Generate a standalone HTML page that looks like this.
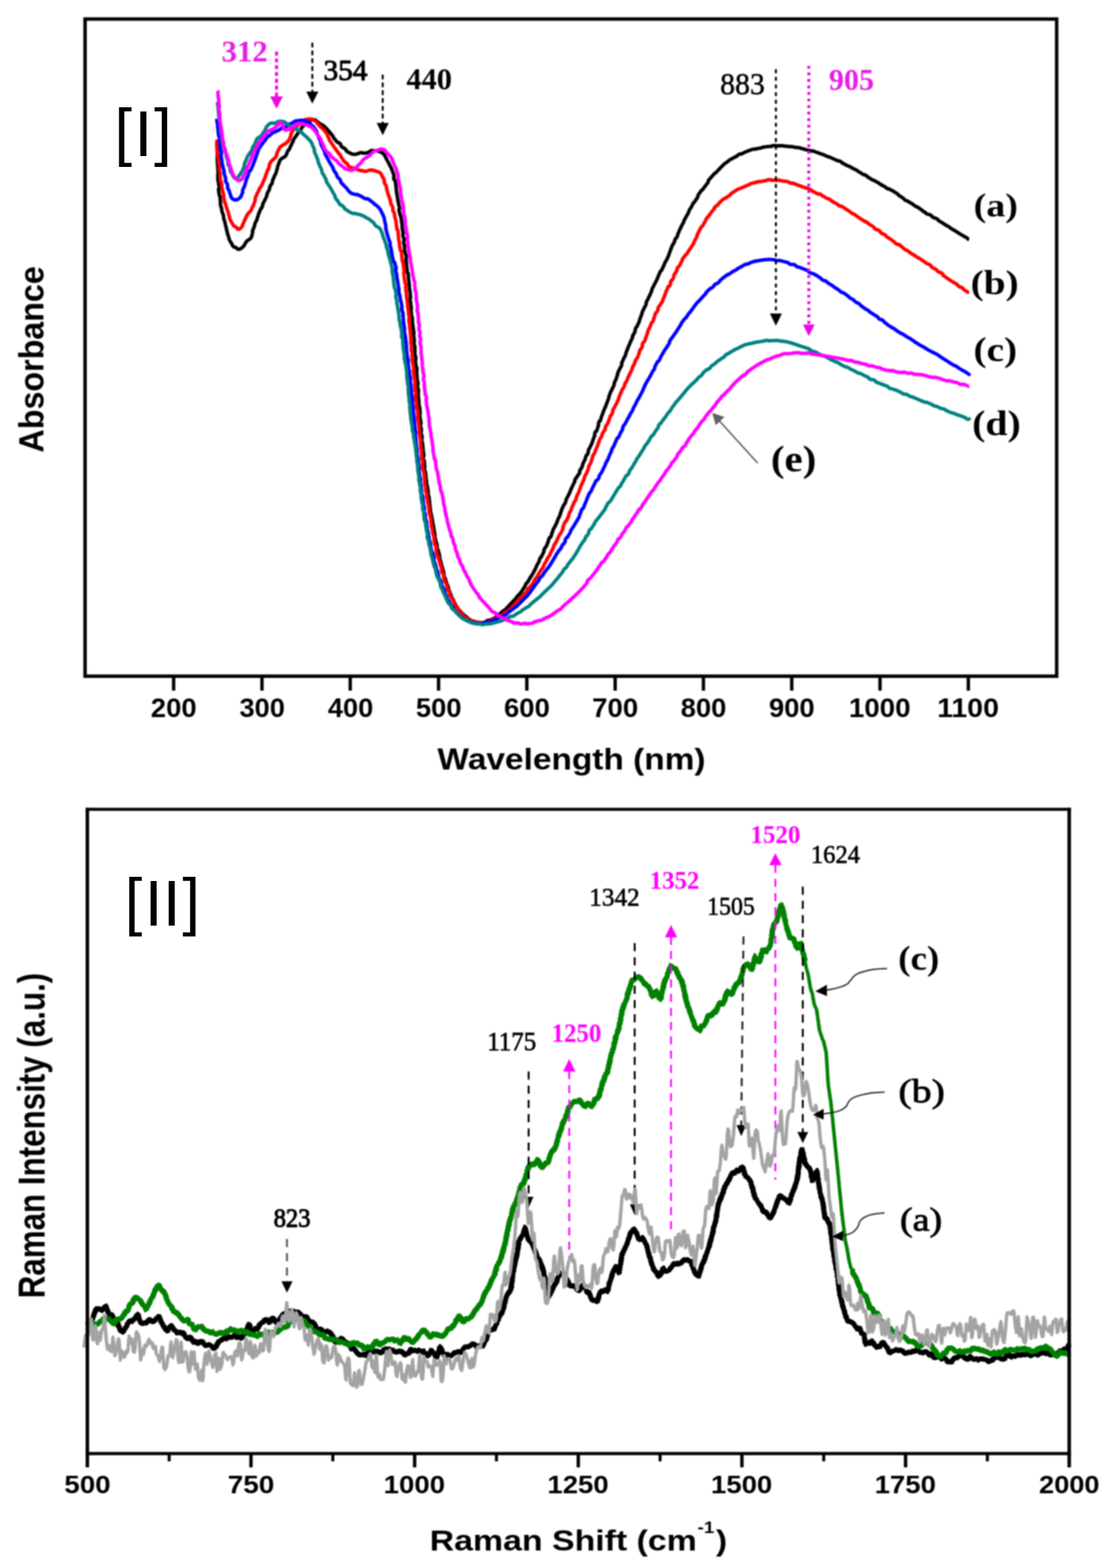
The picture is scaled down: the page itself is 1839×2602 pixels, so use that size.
<!DOCTYPE html>
<html lang="en"><head><meta charset="utf-8"><title>Absorbance and Raman spectra</title>
<style>html,body{margin:0;padding:0;background:#fff}body{width:1839px;height:2602px;overflow:hidden}svg{display:block}text{white-space:pre}</style>
</head><body>
<svg width="1839" height="2602" viewBox="0 0 1839 2602">
<rect width="1839" height="2602" fill="#fff"/>
<defs><filter id="soft" x="0" y="0" width="100%" height="100%" filterUnits="userSpaceOnUse" color-interpolation-filters="sRGB"><feGaussianBlur stdDeviation="0.9"/></filter></defs>
<g filter="url(#soft)">
<rect width="1839" height="2602" fill="#fff"/>
<g id="top">
<path d="M360.0 236.0 L360.3 237.9 L360.3 239.9 L360.5 241.4 L360.5 243.4 L360.6 245.4 L360.6 247.8 L360.7 249.8 L360.7 251.8 L360.7 253.5 L360.7 255.5 L360.8 257.5 L360.5 259.7 L360.6 261.7 L360.6 263.7 L360.7 266.3 L360.7 268.3 L360.8 270.3 L361.1 272.6 L361.2 274.6 L361.3 276.6 L361.5 277.6 L361.6 279.6 L361.7 281.6 L361.9 284.0 L362.0 286.0 L362.1 288.0 L361.5 290.0 L361.6 292.0 L361.7 294.0 L361.6 295.8 L361.7 297.8 L361.8 299.8 L362.7 302.2 L362.8 304.2 L362.9 306.2 L363.6 308.1 L363.8 310.1 L363.9 312.1 L362.7 313.9 L362.9 315.9 L363.0 317.9 L363.5 320.2 L363.7 322.2 L363.9 324.2 L365.0 325.3 L365.2 327.3 L365.4 329.3 L365.5 331.5 L365.8 333.5 L366.1 335.5 L365.6 337.7 L365.9 339.7 L366.3 341.6 L367.0 343.4 L367.5 345.3 L367.9 347.3 L368.1 349.4 L368.6 351.4 L369.1 353.3 L370.1 354.9 L370.6 356.8 L371.0 358.8 L371.0 360.8 L371.5 362.8 L371.9 364.7 L372.8 366.7 L373.2 368.7 L373.7 370.6 L374.1 372.3 L374.5 374.2 L375.0 376.2 L375.6 378.7 L376.0 380.6 L376.4 382.6 L377.0 385.0 L377.5 387.0 L378.0 388.9 L378.4 389.8 L379.0 391.7 L379.6 393.6 L380.1 396.2 L380.9 398.0 L381.7 399.8 L382.8 401.6 L383.9 403.3 L385.1 404.9 L385.6 407.0 L386.9 408.5 L388.3 409.9 L390.7 410.3 L392.2 411.5 L393.9 412.6 L394.5 413.6 L396.3 413.7 L398.2 413.2 L400.6 411.9 L402.1 410.7 L403.5 409.3 L404.6 408.3 L405.7 406.6 L406.6 404.8 L407.9 402.5 L409.0 400.9 L410.3 399.6 L411.0 399.1 L412.7 398.1 L414.1 396.9 L416.2 395.5 L417.1 393.7 L417.8 391.9 L418.3 389.5 L418.9 387.6 L419.4 385.7 L419.0 384.3 L419.5 382.4 L420.1 380.5 L421.5 377.6 L422.1 375.7 L422.7 373.8 L422.6 372.9 L423.3 371.0 L424.0 369.1 L425.5 366.6 L426.3 364.7 L427.0 362.9 L427.1 361.3 L427.9 359.4 L428.6 357.6 L429.0 355.6 L429.8 353.7 L430.5 351.8 L431.6 349.6 L432.3 347.8 L433.1 345.9 L434.2 345.3 L435.0 343.5 L435.8 341.6 L435.9 339.4 L436.7 337.6 L437.5 335.8 L439.0 333.3 L439.8 331.5 L440.5 329.6 L441.3 328.5 L442.1 326.6 L442.9 324.8 L443.1 322.4 L443.8 320.6 L444.6 318.7 L445.9 316.9 L446.6 315.1 L447.4 313.2 L447.5 311.3 L448.3 309.5 L449.0 307.6 L450.5 306.0 L451.3 304.2 L452.1 302.3 L452.3 300.0 L453.0 298.2 L453.8 296.3 L454.3 295.0 L455.1 293.2 L455.8 291.3 L457.4 288.8 L458.1 287.0 L458.7 285.1 L459.2 282.9 L459.8 281.0 L460.4 279.1 L460.4 278.0 L461.0 276.1 L461.6 274.2 L462.5 272.0 L463.2 270.1 L463.9 268.3 L464.3 266.6 L465.4 265.0 L466.8 263.6 L469.0 262.2 L470.7 261.2 L472.3 260.2 L473.9 258.8 L475.0 257.1 L475.9 255.4 L476.4 253.4 L477.2 251.6 L478.1 249.8 L479.6 248.6 L480.5 246.8 L481.4 245.0 L482.3 242.9 L483.1 241.1 L484.0 239.3 L484.7 237.9 L485.6 236.2 L486.5 234.4 L486.4 233.0 L487.5 231.3 L488.5 229.6 L490.3 227.1 L491.4 225.5 L492.6 223.8 L493.6 222.2 L494.8 220.6 L496.0 218.9 L497.6 217.5 L498.7 215.8 L499.8 214.1 L500.4 212.5 L501.6 210.9 L502.9 209.4 L504.7 208.1 L506.1 206.7 L507.5 205.3 L508.4 204.0 L509.9 202.7 L511.6 201.6 L514.3 200.3 L516.1 199.4 L517.9 198.7 L519.7 198.9 L521.6 198.7 L523.5 199.1 L524.6 200.1 L526.1 201.4 L527.5 202.8 L528.5 203.2 L530.0 204.6 L531.6 205.7 L533.5 206.6 L535.2 207.6 L537.0 208.6 L538.2 210.0 L539.7 211.3 L541.2 212.6 L543.1 214.5 L544.3 216.0 L545.5 217.6 L547.2 219.2 L548.4 220.8 L549.6 222.4 L550.3 223.2 L551.6 224.8 L552.9 226.3 L553.5 228.5 L554.8 230.0 L556.1 231.5 L557.8 233.7 L559.2 235.1 L560.6 236.6 L562.8 236.8 L564.2 238.2 L565.6 239.7 L565.9 242.0 L567.3 243.4 L568.8 244.8 L571.6 246.0 L573.0 247.4 L574.5 248.7 L574.8 250.2 L576.3 251.5 L578.0 252.6 L580.5 253.7 L582.2 254.7 L584.0 255.5 L585.9 255.9 L587.8 256.2 L589.7 256.2 L592.0 255.5 L593.9 255.0 L595.8 254.4 L596.8 253.6 L598.7 253.3 L600.7 253.3 L603.0 254.2 L605.0 254.2 L607.0 254.1 L609.6 253.3 L611.5 252.8 L613.3 252.0 L614.3 250.8 L616.1 250.1 L618.0 249.5 L620.1 250.2 L622.1 250.2 L624.1 250.3 L625.7 250.3 L627.6 250.8 L629.5 251.5 L632.4 252.4 L634.1 253.5 L635.6 254.8 L636.6 255.5 L637.9 257.1 L639.1 258.7 L639.9 261.2 L640.9 262.9 L642.0 264.6 L642.5 265.8 L643.5 267.5 L644.4 269.3 L645.8 271.9 L646.7 273.7 L647.5 275.5 L648.5 277.0 L649.3 278.8 L650.0 280.7 L650.6 282.1 L651.3 284.0 L651.9 285.9 L653.0 288.5 L653.6 290.4 L654.1 292.3 L653.3 294.6 L653.7 296.6 L654.2 298.5 L655.6 299.2 L656.0 301.2 L656.4 303.1 L656.8 306.3 L657.1 308.3 L657.5 310.3 L657.3 311.7 L657.6 313.7 L658.0 315.7 L657.9 317.2 L658.2 319.2 L658.5 321.1 L658.9 323.0 L659.2 325.0 L659.5 326.9 L659.9 329.0 L660.1 331.0 L660.4 333.0 L661.1 335.6 L661.4 337.5 L661.7 339.5 L662.6 341.9 L662.9 343.9 L663.2 345.9 L662.1 347.7 L662.4 349.6 L662.7 351.6 L663.4 352.9 L663.7 354.9 L664.0 356.9 L665.2 358.6 L665.5 360.5 L665.8 362.5 L666.1 364.7 L666.4 366.6 L666.7 368.6 L667.0 370.6 L667.3 372.6 L667.6 374.6 L667.3 376.2 L667.5 378.2 L667.8 380.1 L668.5 383.2 L668.8 385.2 L669.1 387.1 L668.6 389.1 L668.9 391.1 L669.2 393.0 L670.2 395.0 L670.4 397.0 L670.7 399.0 L669.9 401.2 L670.2 403.2 L670.4 405.2 L671.0 406.1 L671.3 408.0 L671.5 410.0 L671.4 413.1 L671.6 415.1 L671.9 417.1 L672.6 418.0 L672.8 419.9 L673.1 421.9 L674.1 423.9 L674.3 425.9 L674.6 427.9 L673.9 430.5 L674.1 432.5 L674.4 434.5 L674.5 436.9 L674.7 438.9 L675.0 440.9 L675.1 442.3 L675.3 444.3 L675.5 446.3 L675.7 448.3 L675.9 450.3 L676.1 452.3 L677.4 453.6 L677.6 455.6 L677.8 457.6 L678.0 460.7 L678.2 462.7 L678.4 464.6 L678.6 466.1 L678.8 468.1 L679.0 470.1 L679.2 471.8 L679.4 473.8 L679.6 475.7 L679.7 478.0 L679.9 480.0 L680.1 482.0 L680.6 483.5 L680.8 485.5 L681.0 487.5 L681.1 490.4 L681.3 492.4 L681.5 494.4 L680.6 496.2 L680.8 498.2 L681.0 500.2 L681.5 501.3 L681.7 503.3 L681.9 505.3 L682.3 508.5 L682.5 510.5 L682.7 512.5 L682.2 514.2 L682.4 516.2 L682.6 518.2 L682.8 520.6 L683.0 522.6 L683.1 524.6 L684.2 526.5 L684.4 528.5 L684.5 530.5 L684.3 532.3 L684.5 534.3 L684.7 536.3 L685.1 538.3 L685.2 540.3 L685.4 542.3 L685.9 543.8 L686.0 545.8 L686.2 547.8 L686.7 549.4 L686.9 551.4 L687.0 553.4 L686.5 555.8 L686.7 557.8 L686.8 559.8 L687.5 562.0 L687.6 564.0 L687.8 566.0 L687.2 567.7 L687.4 569.7 L687.5 571.7 L688.4 574.3 L688.6 576.3 L688.7 578.3 L688.6 579.7 L688.7 581.7 L688.9 583.7 L688.4 585.4 L688.6 587.4 L688.8 589.4 L690.0 591.6 L690.1 593.5 L690.3 595.5 L689.5 598.2 L689.6 600.1 L689.8 602.1 L690.1 603.1 L690.2 605.1 L690.4 607.1 L691.7 610.0 L691.9 612.0 L692.1 614.0 L691.4 614.9 L691.6 616.9 L691.8 618.9 L691.9 621.2 L692.1 623.2 L692.2 625.2 L692.4 627.8 L692.6 629.8 L692.7 631.8 L693.4 633.4 L693.6 635.3 L693.7 637.3 L692.9 639.8 L693.0 641.8 L693.2 643.8 L694.3 645.8 L694.5 647.8 L694.6 649.8 L694.1 652.0 L694.3 654.0 L694.4 656.0 L694.3 657.4 L694.4 659.4 L694.6 661.4 L695.0 663.2 L695.1 665.2 L695.2 667.2 L695.2 669.4 L695.4 671.4 L695.5 673.4 L696.6 676.1 L696.8 678.1 L696.9 680.1 L697.1 681.9 L697.3 683.9 L697.4 685.9 L696.7 687.9 L696.8 689.9 L696.9 691.9 L697.5 693.9 L697.6 695.9 L697.8 697.9 L698.4 698.8 L698.5 700.8 L698.7 702.8 L697.8 704.8 L697.9 706.8 L698.1 708.8 L699.2 710.7 L699.4 712.7 L699.5 714.7 L698.7 717.0 L698.9 719.0 L699.0 721.0 L700.3 722.8 L700.5 724.8 L700.7 726.8 L700.1 728.8 L700.3 730.8 L700.5 732.8 L701.3 735.4 L701.5 737.4 L701.6 739.4 L701.9 741.5 L702.1 743.4 L702.3 745.4 L702.4 747.0 L702.6 749.0 L702.8 751.0 L703.1 752.5 L703.3 754.5 L703.5 756.4 L702.4 759.7 L702.6 761.7 L702.8 763.7 L704.1 764.4 L704.3 766.4 L704.5 768.4 L704.6 770.9 L704.8 772.9 L705.0 774.9 L704.4 776.8 L704.6 778.8 L704.9 780.7 L706.1 782.7 L706.3 784.7 L706.6 786.7 L706.6 788.4 L706.9 790.4 L707.1 792.4 L707.5 795.4 L707.8 797.4 L708.0 799.4 L707.9 801.3 L708.1 803.3 L708.4 805.3 L709.3 806.8 L709.6 808.8 L709.8 810.7 L710.1 812.5 L710.4 814.5 L710.7 816.5 L710.6 818.6 L710.9 820.6 L711.2 822.6 L711.9 824.1 L712.2 826.1 L712.5 828.0 L712.6 830.8 L712.9 832.8 L713.2 834.7 L713.1 836.2 L713.4 838.2 L713.8 840.1 L713.8 842.6 L714.1 844.6 L714.5 846.6 L714.5 848.5 L714.8 850.5 L715.1 852.4 L715.9 853.8 L716.2 855.8 L716.5 857.8 L717.0 859.4 L717.3 861.4 L717.6 863.4 L718.1 865.9 L718.4 867.9 L718.7 869.9 L719.2 871.4 L719.5 873.4 L719.8 875.4 L720.2 878.4 L720.6 880.3 L720.9 882.3 L721.3 884.1 L721.6 886.0 L722.0 888.0 L721.6 889.7 L722.0 891.6 L722.4 893.6 L723.1 896.0 L723.5 898.0 L723.9 899.9 L724.7 901.7 L725.2 903.6 L725.6 905.6 L725.1 907.3 L725.5 909.3 L726.0 911.2 L727.1 912.5 L727.5 914.5 L728.0 916.4 L728.7 918.5 L729.2 920.5 L729.7 922.4 L729.5 924.8 L730.0 926.8 L730.5 928.7 L731.0 930.1 L731.5 932.1 L732.0 934.0 L732.7 936.5 L733.2 938.4 L733.7 940.4 L734.4 942.3 L735.0 944.2 L735.5 946.2 L735.8 948.0 L736.3 950.0 L736.8 951.9 L736.9 954.5 L737.4 956.4 L738.0 958.4 L738.9 959.8 L739.4 961.7 L740.0 963.7 L740.3 964.9 L740.8 966.9 L741.4 968.8 L742.7 970.5 L743.3 972.4 L744.0 974.3 L744.2 976.8 L744.9 978.7 L745.6 980.6 L746.8 982.9 L747.5 984.8 L748.3 986.6 L748.4 988.2 L749.2 990.0 L750.0 991.8 L751.2 993.2 L752.0 995.0 L753.0 996.7 L753.6 999.0 L754.6 1000.8 L755.6 1002.5 L756.6 1004.3 L757.6 1006.0 L758.7 1007.6 L759.4 1008.8 L760.5 1010.4 L761.7 1012.0 L764.0 1014.2 L765.3 1015.8 L766.6 1017.3 L767.8 1018.4 L769.2 1019.8 L770.5 1021.2 L772.1 1022.0 L773.6 1023.3 L775.1 1024.5 L776.7 1026.2 L778.3 1027.3 L780.0 1028.3 L781.1 1029.4 L782.8 1030.3 L784.5 1031.1 L785.5 1030.6 L787.3 1031.2 L789.1 1031.7 L790.9 1032.4 L792.7 1032.6 L794.6 1032.8 L797.7 1033.8 L799.5 1033.7 L801.4 1033.5 L802.6 1032.9 L804.5 1032.5 L806.3 1032.1 L807.4 1030.5 L809.2 1029.8 L811.0 1029.1 L812.9 1029.5 L814.6 1028.6 L816.3 1027.7 L819.1 1026.4 L820.8 1025.4 L822.5 1024.3 L823.7 1023.1 L825.3 1022.0 L827.0 1020.8 L828.0 1019.6 L829.6 1018.5 L831.2 1017.2 L833.0 1015.6 L834.6 1014.4 L836.1 1013.1 L837.1 1012.7 L838.6 1011.4 L840.1 1010.1 L842.1 1007.8 L843.6 1006.4 L845.0 1005.0 L846.0 1003.6 L847.5 1002.2 L848.8 1000.8 L850.1 999.4 L851.5 998.0 L852.8 996.5 L854.3 995.1 L855.6 993.6 L856.9 992.0 L858.2 990.2 L859.5 988.6 L860.7 987.1 L862.0 986.3 L863.2 984.7 L864.4 983.1 L865.5 981.8 L866.6 980.2 L867.8 978.5 L868.9 976.5 L870.0 974.9 L871.1 973.2 L872.0 970.6 L873.1 969.0 L874.1 967.3 L875.5 966.5 L876.5 964.8 L877.5 963.1 L879.1 960.3 L880.1 958.5 L881.0 956.8 L882.3 955.5 L883.3 953.7 L884.3 951.9 L885.3 950.2 L886.2 948.4 L887.2 946.6 L888.1 944.8 L889.0 943.0 L889.9 941.2 L890.4 939.5 L891.3 937.7 L892.2 935.9 L893.1 934.7 L894.0 933.0 L894.9 931.2 L895.3 928.9 L896.2 927.1 L897.0 925.3 L898.5 924.0 L899.3 922.2 L900.2 920.4 L901.1 918.9 L901.9 917.1 L902.8 915.2 L902.7 913.0 L903.6 911.2 L904.4 909.4 L906.0 907.9 L906.9 906.1 L907.7 904.3 L908.7 901.4 L909.5 899.6 L910.4 897.8 L910.4 895.7 L911.3 893.9 L912.1 892.1 L913.8 891.6 L914.6 889.8 L915.5 888.0 L915.6 885.5 L916.4 883.7 L917.3 881.9 L917.9 879.4 L918.8 877.6 L919.6 875.8 L920.7 874.5 L921.5 872.6 L922.3 870.8 L923.3 869.0 L924.1 867.2 L924.9 865.3 L925.4 863.6 L926.2 861.7 L927.0 859.9 L928.2 857.5 L929.0 855.7 L929.8 853.8 L929.8 852.6 L930.6 850.8 L931.3 848.9 L932.0 846.4 L932.7 844.5 L933.5 842.7 L934.1 842.0 L934.8 840.1 L935.6 838.3 L937.7 835.6 L938.4 833.7 L939.2 831.9 L939.3 830.0 L940.1 828.2 L940.9 826.3 L942.3 824.3 L943.1 822.5 L943.9 820.7 L944.5 819.8 L945.3 818.0 L946.2 816.2 L946.7 814.2 L947.5 812.4 L948.4 810.6 L949.6 807.9 L950.4 806.1 L951.3 804.3 L952.2 802.5 L953.1 800.7 L954.0 799.0 L953.9 797.1 L954.8 795.3 L955.7 793.5 L956.8 792.9 L957.7 791.1 L958.6 789.3 L960.5 787.3 L961.4 785.5 L962.3 783.7 L962.0 781.9 L962.8 780.1 L963.7 778.3 L965.2 776.6 L966.0 774.8 L966.8 773.0 L966.8 771.3 L967.6 769.5 L968.3 767.7 L969.8 765.1 L970.6 763.2 L971.3 761.4 L971.8 759.1 L972.6 757.2 L973.3 755.4 L974.8 754.6 L975.5 752.8 L976.3 750.9 L976.4 748.0 L977.2 746.1 L977.9 744.3 L978.9 743.2 L979.7 741.3 L980.4 739.5 L981.4 737.9 L982.2 736.1 L982.9 734.2 L983.5 732.0 L984.2 730.1 L985.0 728.3 L985.8 726.0 L986.5 724.1 L987.3 722.3 L986.8 720.3 L987.5 718.4 L988.2 716.6 L990.1 715.5 L990.8 713.6 L991.5 711.7 L992.0 709.7 L992.7 707.8 L993.4 705.9 L993.2 703.2 L993.9 701.3 L994.5 699.4 L996.0 698.6 L996.7 696.8 L997.4 694.9 L997.9 692.6 L998.6 690.8 L999.3 688.9 L1000.2 686.7 L1000.8 684.8 L1001.5 682.9 L1002.3 681.0 L1003.0 679.1 L1003.7 677.2 L1004.6 675.9 L1005.3 674.0 L1006.0 672.2 L1006.6 670.4 L1007.3 668.5 L1008.1 666.6 L1008.8 664.7 L1009.6 662.8 L1010.3 660.9 L1010.5 658.6 L1011.2 656.8 L1011.9 654.9 L1012.3 653.5 L1013.0 651.6 L1013.8 649.8 L1015.0 647.9 L1015.8 646.0 L1016.5 644.2 L1017.7 642.4 L1018.5 640.6 L1019.2 638.7 L1019.4 636.1 L1020.2 634.3 L1020.9 632.4 L1021.8 630.7 L1022.6 628.8 L1023.3 626.9 L1023.9 624.6 L1024.6 622.8 L1025.3 620.9 L1025.1 619.8 L1025.8 617.9 L1026.6 616.0 L1027.7 614.4 L1028.4 612.5 L1029.2 610.6 L1030.6 608.9 L1031.3 607.1 L1032.1 605.2 L1031.7 603.1 L1032.4 601.3 L1033.2 599.4 L1034.4 596.9 L1035.2 595.0 L1035.9 593.2 L1037.1 591.8 L1037.8 589.9 L1038.6 588.0 L1038.7 586.5 L1039.4 584.6 L1040.2 582.8 L1040.9 580.6 L1041.7 578.8 L1042.4 576.9 L1043.2 574.9 L1044.0 573.1 L1044.7 571.2 L1045.3 570.0 L1046.1 568.1 L1046.8 566.3 L1048.2 563.7 L1049.0 561.8 L1049.8 560.0 L1049.6 558.8 L1050.4 557.0 L1051.1 555.1 L1052.6 553.3 L1053.3 551.5 L1054.1 549.6 L1054.2 547.1 L1054.9 545.2 L1055.7 543.4 L1057.3 541.8 L1058.1 540.0 L1058.8 538.1 L1059.9 536.1 L1060.7 534.3 L1061.4 532.4 L1061.5 530.9 L1062.3 529.0 L1063.0 527.1 L1063.6 525.5 L1064.3 523.6 L1065.1 521.8 L1065.7 519.0 L1066.4 517.1 L1067.1 515.3 L1067.9 514.1 L1068.7 512.2 L1069.4 510.4 L1071.0 508.3 L1071.7 506.4 L1072.5 504.6 L1072.5 502.3 L1073.2 500.5 L1074.0 498.7 L1075.4 496.4 L1076.2 494.6 L1077.0 492.7 L1077.7 491.7 L1078.5 489.9 L1079.3 488.1 L1079.9 486.6 L1080.7 484.8 L1081.6 482.9 L1082.0 480.4 L1082.8 478.6 L1083.7 476.7 L1084.7 475.1 L1085.5 473.3 L1086.4 471.5 L1087.4 469.8 L1088.3 468.0 L1089.2 466.2 L1089.9 464.6 L1090.8 462.8 L1091.7 461.0 L1092.1 459.3 L1092.9 457.5 L1093.8 455.7 L1094.7 453.3 L1095.6 451.5 L1096.4 449.7 L1098.0 448.7 L1098.8 446.9 L1099.7 445.1 L1100.5 443.3 L1101.4 441.5 L1102.2 439.7 L1103.3 436.8 L1104.2 435.0 L1105.0 433.2 L1106.0 432.2 L1106.8 430.4 L1107.6 428.6 L1108.5 426.9 L1109.3 425.1 L1110.1 423.3 L1110.7 420.7 L1111.5 418.9 L1112.3 417.1 L1112.7 415.0 L1113.5 413.2 L1114.3 411.4 L1114.7 409.9 L1115.5 408.1 L1116.3 406.3 L1117.9 404.4 L1118.7 402.6 L1119.5 400.8 L1119.9 398.9 L1120.8 397.1 L1121.6 395.3 L1123.1 394.2 L1123.9 392.4 L1124.7 390.6 L1125.0 388.5 L1125.9 386.7 L1126.7 384.9 L1127.6 382.5 L1128.5 380.7 L1129.3 378.9 L1130.2 377.2 L1131.0 375.4 L1131.9 373.6 L1133.2 371.4 L1134.1 369.6 L1135.0 367.8 L1135.0 366.9 L1135.9 365.1 L1136.8 363.4 L1138.2 361.0 L1139.1 359.2 L1140.0 357.4 L1140.9 356.4 L1141.8 354.6 L1142.7 352.8 L1143.6 349.8 L1144.5 348.1 L1145.5 346.3 L1146.5 345.3 L1147.4 343.5 L1148.4 341.8 L1149.1 340.0 L1150.1 338.2 L1151.1 336.5 L1152.6 335.4 L1153.6 333.7 L1154.6 332.0 L1156.1 330.2 L1157.1 328.5 L1158.2 326.9 L1158.5 324.2 L1159.6 322.5 L1160.7 320.9 L1161.4 320.0 L1162.5 318.4 L1163.6 316.7 L1165.7 315.2 L1166.9 313.6 L1168.0 312.0 L1169.4 310.3 L1170.6 308.6 L1171.8 307.0 L1173.0 305.5 L1174.2 303.9 L1175.4 302.3 L1175.6 299.8 L1176.8 298.3 L1178.1 296.7 L1179.5 295.2 L1180.8 293.7 L1182.1 292.2 L1183.5 290.7 L1184.8 289.2 L1186.1 287.7 L1187.7 287.0 L1189.1 285.5 L1190.4 284.1 L1191.6 282.8 L1193.0 281.3 L1194.4 280.0 L1196.5 277.6 L1198.0 276.2 L1199.5 274.9 L1200.7 273.4 L1202.2 272.1 L1203.8 270.8 L1205.0 270.2 L1206.6 269.0 L1208.1 267.8 L1210.1 266.2 L1211.7 265.0 L1213.4 263.9 L1214.6 263.7 L1216.2 262.6 L1217.9 261.6 L1220.4 260.4 L1222.2 259.4 L1223.9 258.5 L1225.0 257.0 L1226.8 256.1 L1228.6 255.3 L1230.2 255.5 L1232.1 254.7 L1233.9 254.0 L1236.2 252.6 L1238.1 251.9 L1240.0 251.2 L1242.2 250.1 L1244.1 249.5 L1246.0 248.9 L1247.6 248.3 L1249.5 247.8 L1251.5 247.2 L1252.9 247.6 L1254.8 247.1 L1256.7 246.6 L1259.9 246.2 L1261.8 245.7 L1263.8 245.3 L1265.2 244.6 L1267.1 244.2 L1269.1 243.8 L1270.2 243.8 L1272.2 243.5 L1274.2 243.2 L1277.2 243.1 L1279.1 242.8 L1281.1 242.7 L1282.5 241.7 L1284.5 241.6 L1286.4 241.6 L1289.3 242.0 L1291.3 242.0 L1293.3 242.1 L1295.3 241.7 L1297.3 241.8 L1299.3 241.9 L1300.1 242.2 L1302.1 242.4 L1304.0 242.6 L1307.0 242.9 L1309.0 243.1 L1311.0 243.3 L1312.3 243.1 L1314.2 243.4 L1316.2 243.6 L1318.7 244.3 L1320.7 244.6 L1322.7 244.9 L1324.9 244.9 L1326.9 245.3 L1328.8 245.6 L1330.5 246.5 L1332.5 246.9 L1334.5 247.3 L1336.1 248.1 L1338.0 248.5 L1340.0 249.0 L1342.7 249.6 L1344.6 250.1 L1346.5 250.6 L1348.0 250.3 L1349.9 250.8 L1351.9 251.4 L1354.2 252.5 L1356.1 253.0 L1358.0 253.6 L1358.7 253.9 L1360.6 254.5 L1362.4 255.2 L1364.8 256.0 L1366.7 256.7 L1368.6 257.4 L1370.1 258.4 L1371.9 259.1 L1373.8 259.9 L1376.7 260.6 L1378.6 261.4 L1380.4 262.1 L1381.3 262.8 L1383.2 263.6 L1385.0 264.4 L1386.9 265.2 L1388.7 266.1 L1390.5 266.9 L1392.5 266.8 L1394.3 267.7 L1396.1 268.6 L1397.6 270.3 L1399.4 271.2 L1401.2 272.1 L1403.0 273.2 L1404.8 274.1 L1406.5 275.0 L1408.9 275.7 L1410.7 276.7 L1412.4 277.6 L1414.1 278.6 L1415.9 279.6 L1417.6 280.5 L1419.7 281.4 L1421.4 282.3 L1423.2 283.3 L1424.4 284.5 L1426.1 285.5 L1427.9 286.4 L1430.2 287.9 L1431.9 288.9 L1433.6 289.9 L1435.2 290.0 L1436.9 291.0 L1438.7 292.0 L1439.7 293.4 L1441.5 294.4 L1443.2 295.4 L1444.9 296.8 L1446.7 297.8 L1448.4 298.8 L1450.9 299.4 L1452.6 300.4 L1454.3 301.4 L1456.2 302.5 L1458.0 303.5 L1459.7 304.5 L1460.6 305.4 L1462.3 306.4 L1464.1 307.4 L1465.4 308.1 L1467.1 309.1 L1468.8 310.1 L1470.6 311.6 L1472.3 312.6 L1474.1 313.6 L1475.8 313.5 L1477.5 314.6 L1479.2 315.6 L1481.6 316.6 L1483.3 317.7 L1485.0 318.7 L1486.8 319.9 L1488.5 321.0 L1490.2 322.1 L1491.4 323.9 L1493.0 325.0 L1494.7 326.1 L1496.0 326.8 L1497.6 327.9 L1499.3 329.1 L1500.9 331.0 L1502.6 332.1 L1504.2 333.2 L1507.0 333.9 L1508.6 335.0 L1510.3 336.2 L1512.0 336.9 L1513.6 338.0 L1515.3 339.1 L1517.2 340.7 L1518.9 341.8 L1520.5 342.9 L1522.0 343.2 L1523.6 344.2 L1525.3 345.3 L1526.7 346.4 L1528.4 347.5 L1530.1 348.5 L1531.2 349.9 L1532.9 350.9 L1534.7 351.9 L1536.2 353.4 L1537.9 354.5 L1539.6 355.5 L1542.5 355.9 L1544.2 356.9 L1546.0 357.9 L1547.0 359.6 L1548.7 360.6 L1550.5 361.7 L1552.9 361.9 L1554.6 362.9 L1556.3 364.0 L1557.5 365.8 L1559.2 366.9 L1560.9 367.9 L1562.3 368.6 L1564.0 369.7 L1565.7 370.7 L1567.5 372.1 L1569.2 373.2 L1570.9 374.2 L1572.5 374.9 L1574.2 376.0 L1575.9 377.0 L1577.2 378.3 L1578.9 379.4 L1580.6 380.5 L1582.9 381.5 L1584.6 382.6 L1586.3 383.7 L1587.3 384.3 L1589.0 385.4 L1590.7 386.5 L1592.3 387.6 L1594.0 388.6 L1595.6 389.7 L1597.3 390.5 L1599.0 391.5 L1600.6 392.5 L1602.4 393.4 L1604.0 394.4 L1605.6 395.5 L1607.3 397.2 L1608.4 397.6" fill="none" stroke="#000" stroke-width="5.8" stroke-linejoin="round" stroke-linecap="butt"/>
<path d="M359.6 231.4 L360.1 233.9 L360.2 235.9 L359.6 238.1 L359.8 240.1 L359.9 242.1 L360.1 243.6 L360.2 245.6 L360.4 247.6 L360.4 249.7 L360.6 251.7 L360.7 253.7 L361.0 255.6 L361.2 257.6 L361.3 259.6 L362.3 261.7 L362.5 263.7 L362.7 265.7 L362.5 267.8 L362.7 269.8 L362.9 271.8 L363.9 272.7 L364.1 274.7 L364.3 276.7 L363.9 279.8 L364.1 281.8 L364.4 283.8 L364.9 285.1 L365.2 287.1 L365.4 289.1 L365.1 291.8 L365.3 293.7 L365.6 295.7 L365.6 297.4 L365.8 299.4 L366.1 301.4 L367.5 302.5 L367.8 304.5 L368.1 306.5 L367.7 308.6 L368.1 310.6 L368.4 312.6 L369.1 314.6 L369.4 316.6 L369.8 318.6 L370.7 321.3 L371.1 323.3 L371.5 325.2 L371.2 327.1 L371.6 329.1 L372.1 331.0 L372.2 331.9 L372.6 333.8 L373.1 335.8 L374.4 338.7 L374.9 340.6 L375.4 342.5 L376.2 344.7 L376.7 346.7 L377.3 348.6 L377.9 349.5 L378.5 351.4 L379.1 353.3 L379.6 356.1 L380.2 358.0 L380.9 359.9 L380.7 361.2 L381.4 363.1 L382.1 364.9 L383.0 366.3 L383.8 368.1 L384.8 369.8 L386.3 372.3 L387.4 373.9 L388.6 375.5 L390.7 376.2 L392.1 377.5 L393.7 378.6 L394.8 380.5 L396.6 380.4 L398.3 379.7 L400.1 377.8 L401.4 376.3 L402.5 374.7 L402.7 373.1 L403.6 371.3 L404.4 369.4 L405.2 367.6 L405.9 365.7 L406.6 363.9 L407.9 361.6 L408.7 359.8 L409.5 358.0 L410.6 356.2 L411.7 354.6 L412.9 353.0 L413.9 352.2 L415.3 350.8 L416.6 349.4 L417.4 346.8 L418.3 345.1 L419.1 343.2 L420.3 341.7 L420.9 339.8 L421.5 337.9 L422.5 335.7 L423.1 333.8 L423.7 331.9 L423.5 329.7 L424.1 327.8 L424.7 325.9 L425.5 324.4 L426.2 322.5 L427.0 320.7 L427.8 319.5 L428.7 317.7 L429.6 315.9 L430.0 314.5 L430.9 312.7 L431.9 310.9 L433.7 308.9 L434.6 307.1 L435.5 305.3 L436.1 303.2 L437.0 301.4 L437.9 299.6 L438.5 297.5 L439.4 295.7 L440.2 293.9 L440.7 291.9 L441.4 290.0 L442.1 288.2 L442.8 286.3 L443.4 284.4 L444.0 282.5 L445.4 281.2 L446.0 279.3 L446.6 277.4 L446.8 274.4 L447.5 272.5 L448.3 270.7 L448.8 269.7 L450.0 268.1 L451.3 266.6 L453.3 265.0 L454.7 263.7 L456.1 262.2 L457.2 261.3 L458.2 259.6 L459.1 257.8 L459.3 255.2 L460.0 253.4 L460.7 251.5 L462.0 249.5 L462.8 247.7 L463.7 245.9 L464.7 244.4 L466.1 243.0 L467.8 242.0 L468.6 241.2 L470.4 240.3 L472.1 239.3 L473.7 238.6 L475.1 237.2 L476.4 235.7 L478.7 233.7 L479.8 232.0 L480.7 230.3 L481.6 228.0 L482.2 226.1 L482.9 224.2 L482.9 222.3 L483.8 220.5 L484.7 218.7 L485.2 217.9 L486.3 216.3 L487.5 214.7 L488.8 213.3 L490.2 211.8 L491.5 210.4 L493.7 208.7 L495.2 207.3 L496.6 206.0 L497.5 205.0 L499.0 203.7 L500.6 202.5 L503.3 200.3 L505.0 199.3 L506.8 198.6 L507.9 198.2 L509.9 197.9 L511.9 197.7 L514.3 197.5 L516.3 197.6 L518.2 197.8 L520.5 199.0 L522.2 200.0 L523.7 201.2 L525.0 202.3 L526.3 203.8 L527.5 205.4 L528.8 207.1 L530.2 208.6 L531.6 210.0 L533.1 211.3 L534.5 212.6 L536.0 214.0 L537.8 216.1 L539.1 217.6 L540.4 219.1 L541.3 220.1 L542.4 221.8 L543.4 223.5 L543.5 225.0 L544.4 226.7 L545.4 228.5 L546.3 231.4 L547.2 233.1 L548.3 234.8 L549.5 236.4 L550.6 238.1 L551.6 239.8 L552.7 241.1 L553.7 242.8 L554.8 244.5 L556.0 245.7 L557.0 247.4 L558.1 249.1 L559.9 251.2 L561.0 252.8 L562.1 254.5 L563.4 255.7 L564.6 257.3 L565.7 259.0 L566.0 260.3 L567.2 261.9 L568.5 263.4 L569.8 266.2 L571.1 267.6 L572.5 269.1 L574.3 269.9 L575.7 271.4 L577.0 272.9 L578.0 274.8 L579.4 276.2 L580.9 277.5 L583.0 277.8 L584.8 278.6 L586.7 279.2 L587.7 279.7 L589.7 280.1 L591.6 280.5 L594.6 281.8 L596.5 282.4 L598.4 283.0 L599.5 282.9 L601.4 283.4 L603.4 283.7 L605.5 284.4 L607.4 284.2 L609.4 283.7 L611.9 282.6 L613.9 282.3 L615.8 282.2 L617.2 282.3 L619.2 282.5 L621.2 282.9 L624.0 283.9 L625.9 284.5 L627.7 285.3 L629.4 285.8 L631.0 287.0 L632.4 288.4 L633.2 290.4 L634.2 292.1 L635.1 293.9 L636.3 295.4 L637.1 297.3 L637.8 299.1 L637.5 301.6 L638.2 303.5 L638.8 305.4 L640.4 306.9 L641.0 308.8 L641.6 310.7 L641.3 312.0 L641.9 313.9 L642.5 315.9 L643.3 318.9 L643.9 320.9 L644.4 322.8 L644.9 324.0 L645.5 325.9 L646.1 327.8 L646.9 329.5 L647.5 331.4 L648.1 333.3 L648.1 335.6 L648.7 337.5 L649.3 339.4 L651.0 341.8 L651.6 343.7 L652.2 345.6 L651.8 347.4 L652.3 349.4 L652.9 351.3 L654.1 353.0 L654.6 354.9 L655.1 356.8 L654.9 358.2 L655.4 360.2 L655.8 362.1 L656.7 364.8 L657.1 366.7 L657.6 368.7 L657.3 369.9 L657.7 371.8 L658.0 373.8 L658.3 376.7 L658.6 378.7 L659.0 380.7 L660.4 382.2 L660.7 384.2 L661.0 386.1 L660.9 388.4 L661.2 390.4 L661.5 392.3 L661.2 394.1 L661.5 396.0 L661.8 398.0 L662.5 400.5 L662.8 402.5 L663.1 404.4 L663.0 406.4 L663.3 408.4 L663.7 410.3 L664.0 412.0 L664.3 413.9 L664.7 415.9 L666.1 417.1 L666.4 419.1 L666.7 421.1 L666.5 422.9 L666.8 424.9 L667.1 426.9 L667.4 429.5 L667.7 431.5 L668.0 433.5 L668.9 435.5 L669.2 437.5 L669.5 439.4 L669.7 441.8 L669.9 443.8 L670.2 445.7 L670.4 447.2 L670.6 449.2 L670.9 451.2 L670.1 453.5 L670.4 455.5 L670.6 457.5 L670.9 459.5 L671.1 461.5 L671.4 463.4 L671.7 465.4 L672.0 467.4 L672.2 469.4 L673.3 471.9 L673.5 473.8 L673.7 475.8 L673.1 476.7 L673.4 478.7 L673.6 480.7 L674.1 483.8 L674.3 485.8 L674.5 487.8 L674.5 489.1 L674.7 491.1 L674.9 493.0 L675.3 494.5 L675.5 496.4 L675.7 498.4 L676.1 500.8 L676.3 502.8 L676.5 504.7 L676.6 507.3 L676.8 509.3 L677.0 511.3 L677.5 512.6 L677.7 514.6 L677.9 516.6 L678.1 519.0 L678.3 521.0 L678.4 523.0 L678.8 524.2 L679.0 526.2 L679.2 528.2 L678.7 531.1 L678.8 533.1 L679.0 535.1 L679.6 536.9 L679.8 538.9 L679.9 540.9 L680.1 543.0 L680.2 545.0 L680.4 547.0 L680.8 549.3 L681.0 551.3 L681.2 553.3 L681.4 555.4 L681.5 557.4 L681.7 559.4 L681.6 560.3 L681.7 562.3 L681.9 564.3 L681.8 567.3 L681.9 569.3 L682.1 571.3 L682.8 572.9 L683.0 574.9 L683.2 576.9 L682.4 578.3 L682.6 580.2 L682.8 582.2 L683.7 584.6 L683.9 586.6 L684.1 588.6 L683.6 591.3 L683.8 593.3 L684.0 595.3 L684.2 597.3 L684.4 599.2 L684.6 601.2 L685.4 603.3 L685.6 605.3 L685.8 607.2 L686.2 608.2 L686.4 610.2 L686.6 612.2 L686.0 615.1 L686.2 617.1 L686.4 619.1 L686.9 620.5 L687.1 622.5 L687.3 624.5 L687.9 626.6 L688.1 628.6 L688.3 630.6 L688.5 632.5 L688.7 634.5 L688.9 636.5 L688.4 638.8 L688.6 640.8 L688.8 642.7 L688.8 644.7 L689.0 646.7 L689.1 648.7 L690.2 649.9 L690.4 651.9 L690.6 653.9 L689.6 657.0 L689.8 659.0 L690.0 660.9 L690.4 662.4 L690.6 664.4 L690.7 666.4 L691.1 667.8 L691.2 669.8 L691.4 671.8 L691.5 673.7 L691.7 675.7 L691.8 677.7 L692.8 680.7 L693.0 682.7 L693.2 684.7 L693.3 685.8 L693.4 687.8 L693.6 689.8 L693.2 691.7 L693.4 693.7 L693.5 695.7 L694.5 698.9 L694.7 700.9 L694.9 702.9 L695.2 704.7 L695.4 706.7 L695.7 708.6 L695.4 710.1 L695.6 712.1 L695.8 714.1 L695.4 715.5 L695.6 717.4 L695.8 719.4 L696.7 722.7 L696.9 724.7 L697.2 726.7 L697.9 727.9 L698.1 729.9 L698.3 731.9 L697.9 734.5 L698.1 736.5 L698.3 738.5 L698.1 740.3 L698.3 742.3 L698.5 744.3 L699.2 745.9 L699.4 747.8 L699.6 749.8 L699.5 751.4 L699.6 753.4 L699.8 755.4 L699.7 757.6 L699.9 759.6 L700.1 761.6 L701.5 764.3 L701.7 766.3 L701.9 768.3 L700.7 770.2 L701.0 772.2 L701.2 774.2 L701.6 775.9 L701.8 777.9 L702.1 779.9 L703.4 782.3 L703.6 784.3 L703.9 786.3 L704.1 788.4 L704.3 790.4 L704.6 792.4 L704.5 793.0 L704.8 795.0 L705.0 797.0 L704.8 799.8 L705.0 801.8 L705.3 803.8 L706.1 806.1 L706.4 808.1 L706.6 810.1 L706.3 812.0 L706.6 814.0 L706.9 816.0 L707.8 817.5 L708.1 819.5 L708.3 821.5 L708.0 823.1 L708.3 825.1 L708.6 827.1 L709.4 829.6 L709.7 831.6 L710.0 833.6 L710.6 835.4 L710.9 837.4 L711.2 839.4 L711.5 840.9 L711.8 842.9 L712.1 844.9 L711.9 847.7 L712.2 849.7 L712.5 851.7 L713.3 853.1 L713.6 855.1 L714.0 857.0 L714.7 859.4 L715.0 861.4 L715.3 863.4 L715.3 865.5 L715.7 867.5 L716.0 869.5 L715.9 871.4 L716.2 873.3 L716.5 875.3 L717.2 876.6 L717.5 878.5 L717.9 880.5 L718.0 881.9 L718.3 883.9 L718.7 885.9 L719.7 889.1 L720.1 891.1 L720.5 893.1 L720.2 895.0 L720.6 897.0 L720.9 898.9 L721.0 900.2 L721.4 902.2 L721.8 904.1 L723.4 906.3 L723.9 908.3 L724.3 910.2 L723.6 912.2 L724.0 914.1 L724.5 916.1 L724.7 918.1 L725.2 920.1 L725.7 922.0 L727.0 923.8 L727.5 925.8 L728.0 927.7 L728.6 928.9 L729.1 930.8 L729.6 932.7 L730.4 935.6 L731.0 937.5 L731.5 939.5 L732.1 940.6 L732.6 942.6 L733.2 944.5 L732.8 947.1 L733.4 949.0 L733.9 950.9 L735.5 952.6 L736.1 954.5 L736.7 956.4 L736.3 958.2 L736.9 960.1 L737.5 962.0 L738.1 963.9 L738.8 965.8 L739.4 967.7 L741.1 969.9 L741.7 971.8 L742.4 973.7 L742.0 975.9 L742.7 977.7 L743.5 979.6 L745.1 980.7 L745.9 982.6 L746.7 984.4 L746.2 986.6 L747.0 988.5 L747.8 990.3 L749.1 991.3 L750.0 993.1 L750.9 994.9 L752.6 997.1 L753.5 998.8 L754.5 1000.6 L754.4 1002.1 L755.4 1003.9 L756.5 1005.6 L758.7 1007.3 L759.8 1009.0 L760.9 1010.6 L761.4 1012.0 L762.6 1013.6 L763.8 1015.1 L764.5 1016.5 L765.9 1017.9 L767.2 1019.3 L768.6 1021.1 L770.0 1022.4 L771.5 1023.7 L773.6 1025.2 L775.1 1026.4 L776.7 1027.4 L779.0 1028.6 L780.6 1029.6 L782.4 1030.4 L783.1 1030.7 L784.9 1031.4 L786.7 1032.0 L788.6 1032.1 L790.4 1032.5 L792.3 1032.8 L794.5 1033.1 L796.4 1033.2 L798.3 1033.3 L800.8 1033.2 L802.7 1033.1 L804.6 1032.8 L805.5 1032.7 L807.4 1032.3 L809.3 1031.7 L811.3 1031.6 L813.1 1030.9 L814.9 1030.2 L816.5 1028.4 L818.3 1027.6 L820.0 1026.7 L821.7 1026.0 L823.5 1025.0 L825.2 1024.1 L827.9 1022.7 L829.6 1021.7 L831.3 1020.6 L832.7 1020.7 L834.4 1019.6 L836.0 1018.5 L837.1 1017.1 L838.7 1015.9 L840.3 1014.8 L842.6 1013.9 L844.2 1012.6 L845.8 1011.4 L847.5 1009.7 L849.0 1008.4 L850.5 1007.1 L851.4 1005.4 L852.9 1004.0 L854.3 1002.7 L855.3 1000.9 L856.8 999.5 L858.2 998.1 L860.3 997.0 L861.7 995.5 L863.1 994.1 L863.7 992.9 L865.1 991.4 L866.4 989.9 L867.7 988.6 L869.0 987.1 L870.3 985.6 L872.7 983.6 L873.9 982.1 L875.2 980.5 L875.1 978.7 L876.3 977.1 L877.6 975.5 L879.1 974.9 L880.3 973.3 L881.5 971.7 L883.5 969.7 L884.7 968.0 L885.8 966.4 L886.2 964.0 L887.3 962.4 L888.4 960.7 L890.1 958.9 L891.2 957.2 L892.2 955.5 L892.5 954.8 L893.5 953.1 L894.6 951.4 L896.2 948.9 L897.2 947.2 L898.2 945.5 L899.7 944.4 L900.7 942.7 L901.7 941.0 L902.2 938.6 L903.2 936.9 L904.2 935.2 L905.3 933.1 L906.3 931.4 L907.3 929.6 L908.0 927.9 L908.9 926.1 L909.9 924.4 L911.1 923.4 L912.1 921.7 L913.0 919.9 L913.7 917.8 L914.6 916.1 L915.5 914.3 L916.8 912.1 L917.7 910.3 L918.6 908.5 L918.7 906.7 L919.6 904.9 L920.5 903.1 L922.0 901.4 L922.9 899.7 L923.8 897.9 L923.9 897.2 L924.7 895.4 L925.6 893.6 L926.9 891.1 L927.8 889.3 L928.6 887.5 L930.2 885.7 L931.1 883.9 L931.9 882.1 L932.8 881.1 L933.6 879.3 L934.5 877.5 L934.3 874.6 L935.1 872.8 L935.9 871.0 L936.6 869.2 L937.4 867.4 L938.3 865.6 L939.9 864.7 L940.7 862.9 L941.5 861.1 L942.6 858.9 L943.4 857.1 L944.2 855.2 L944.1 853.7 L944.9 851.9 L945.7 850.0 L947.0 848.0 L947.8 846.2 L948.6 844.3 L949.0 842.8 L949.8 840.9 L950.6 839.1 L951.7 836.3 L952.5 834.5 L953.2 832.6 L954.7 831.3 L955.5 829.5 L956.3 827.6 L956.4 825.5 L957.2 823.7 L958.0 821.8 L959.2 819.9 L960.0 818.0 L960.8 816.2 L961.3 814.5 L962.0 812.7 L962.8 810.8 L963.4 808.8 L964.2 806.9 L964.9 805.1 L965.5 803.8 L966.3 802.0 L967.0 800.2 L968.4 797.4 L969.1 795.6 L969.9 793.7 L969.9 792.2 L970.7 790.3 L971.5 788.5 L972.8 786.8 L973.6 784.9 L974.3 783.1 L975.1 781.5 L975.9 779.6 L976.6 777.8 L976.9 775.0 L977.6 773.2 L978.4 771.3 L979.6 770.1 L980.3 768.3 L981.1 766.4 L981.4 765.0 L982.1 763.2 L982.8 761.3 L983.3 758.4 L984.1 756.5 L984.8 754.7 L986.2 753.2 L987.0 751.3 L987.7 749.5 L988.5 747.2 L989.3 745.4 L990.0 743.5 L990.6 742.4 L991.3 740.6 L992.1 738.7 L992.8 736.2 L993.6 734.4 L994.4 732.5 L994.7 730.9 L995.5 729.1 L996.3 727.3 L997.4 726.2 L998.2 724.4 L999.0 722.6 L999.5 720.6 L1000.3 718.8 L1001.1 716.9 L1003.2 714.8 L1004.0 713.0 L1004.9 711.1 L1004.6 709.5 L1005.4 707.6 L1006.2 705.8 L1008.1 703.7 L1009.0 701.9 L1009.8 700.1 L1010.3 698.0 L1011.2 696.1 L1012.0 694.3 L1012.2 692.7 L1013.0 690.9 L1013.8 689.1 L1015.1 688.1 L1015.9 686.2 L1016.8 684.4 L1017.0 681.3 L1017.8 679.5 L1018.6 677.7 L1019.6 676.7 L1020.4 674.9 L1021.2 673.1 L1022.6 671.1 L1023.4 669.3 L1024.3 667.4 L1025.1 665.5 L1025.9 663.7 L1026.8 661.9 L1026.8 660.7 L1027.6 658.9 L1028.4 657.1 L1029.5 653.9 L1030.3 652.1 L1031.2 650.3 L1031.7 648.8 L1032.6 647.0 L1033.4 645.2 L1035.0 643.4 L1035.8 641.6 L1036.6 639.7 L1036.7 638.5 L1037.5 636.6 L1038.3 634.8 L1039.8 632.9 L1040.6 631.1 L1041.5 629.3 L1041.7 627.8 L1042.6 626.0 L1043.4 624.2 L1044.7 621.7 L1045.6 619.9 L1046.4 618.1 L1047.6 616.0 L1048.4 614.1 L1049.2 612.3 L1049.2 611.0 L1050.0 609.1 L1050.8 607.3 L1052.1 605.5 L1052.9 603.6 L1053.7 601.8 L1053.9 600.3 L1054.7 598.5 L1055.5 596.6 L1057.5 594.3 L1058.4 592.4 L1059.2 590.6 L1059.8 588.4 L1060.6 586.6 L1061.4 584.8 L1061.2 583.6 L1062.0 581.8 L1062.8 579.9 L1064.7 578.0 L1065.5 576.2 L1066.2 574.4 L1066.0 571.9 L1066.8 570.1 L1067.6 568.2 L1069.3 567.2 L1070.1 565.3 L1070.8 563.5 L1071.7 561.0 L1072.4 559.1 L1073.2 557.3 L1073.6 555.3 L1074.4 553.5 L1075.1 551.6 L1075.0 550.1 L1075.8 548.2 L1076.5 546.4 L1077.6 545.1 L1078.4 543.2 L1079.2 541.4 L1080.1 538.9 L1080.9 537.1 L1081.7 535.2 L1083.1 534.2 L1083.9 532.4 L1084.8 530.5 L1085.0 528.6 L1085.8 526.8 L1086.6 525.0 L1087.0 522.5 L1087.8 520.7 L1088.7 518.9 L1090.6 517.3 L1091.5 515.5 L1092.3 513.7 L1092.1 511.5 L1093.0 509.7 L1093.9 507.9 L1095.8 506.3 L1096.7 504.5 L1097.6 502.7 L1098.6 501.8 L1099.4 500.0 L1100.3 498.2 L1100.6 496.2 L1101.5 494.4 L1102.3 492.6 L1102.9 490.7 L1103.7 488.9 L1104.6 487.1 L1105.0 484.8 L1105.9 483.0 L1106.7 481.2 L1107.5 479.1 L1108.4 477.3 L1109.2 475.5 L1111.4 474.2 L1112.2 472.4 L1113.1 470.5 L1112.7 469.0 L1113.5 467.2 L1114.4 465.4 L1116.4 463.8 L1117.3 462.0 L1118.1 460.2 L1118.4 457.2 L1119.3 455.4 L1120.2 453.7 L1121.5 452.5 L1122.4 450.7 L1123.4 448.9 L1123.3 447.0 L1124.2 445.3 L1125.2 443.5 L1126.9 442.2 L1127.9 440.4 L1128.9 438.7 L1130.0 436.3 L1131.0 434.6 L1132.0 432.9 L1132.3 430.9 L1133.4 429.2 L1134.5 427.5 L1135.6 426.3 L1136.7 424.7 L1137.8 423.0 L1139.3 422.0 L1140.4 420.4 L1141.5 418.7 L1142.7 416.9 L1143.8 415.2 L1144.9 413.5 L1146.2 411.7 L1147.2 410.0 L1148.3 408.3 L1149.5 406.8 L1150.5 405.0 L1151.5 403.3 L1152.2 401.0 L1153.2 399.3 L1154.1 397.5 L1155.3 395.4 L1156.2 393.6 L1157.1 391.8 L1157.1 389.9 L1158.0 388.1 L1158.9 386.3 L1159.7 384.5 L1160.6 382.7 L1161.6 381.0 L1162.5 379.5 L1163.4 377.7 L1164.4 376.0 L1166.1 375.1 L1167.0 373.4 L1168.0 371.7 L1169.0 369.6 L1170.0 367.9 L1171.1 366.2 L1172.0 363.7 L1173.1 362.1 L1174.2 360.4 L1175.6 359.4 L1176.7 357.7 L1177.9 356.1 L1178.7 354.9 L1179.9 353.3 L1181.1 351.7 L1183.1 349.2 L1184.3 347.7 L1185.6 346.1 L1185.6 344.9 L1186.9 343.4 L1188.3 341.9 L1190.4 340.7 L1191.8 339.2 L1193.2 337.8 L1194.2 336.1 L1195.7 334.8 L1197.2 333.4 L1198.9 331.9 L1200.4 330.6 L1201.9 329.3 L1203.6 329.2 L1205.1 328.0 L1206.7 326.9 L1208.9 325.5 L1210.5 324.4 L1212.2 323.3 L1212.9 321.7 L1214.6 320.6 L1216.3 319.5 L1217.9 318.2 L1219.6 317.2 L1221.3 316.2 L1223.0 315.1 L1224.7 314.1 L1226.5 313.2 L1229.2 312.5 L1231.0 311.6 L1232.8 310.8 L1234.5 310.2 L1236.3 309.4 L1238.1 308.6 L1239.4 308.0 L1241.2 307.3 L1243.1 306.5 L1245.3 305.2 L1247.1 304.5 L1249.0 303.9 L1250.6 303.7 L1252.5 303.1 L1254.4 302.6 L1256.3 302.1 L1258.2 301.6 L1260.2 301.1 L1262.3 301.4 L1264.2 301.0 L1266.2 300.7 L1267.9 300.1 L1269.8 299.9 L1271.8 299.6 L1273.8 298.4 L1275.8 298.2 L1277.7 298.1 L1280.7 299.0 L1282.6 299.0 L1284.6 299.0 L1286.0 299.2 L1288.0 299.3 L1289.9 299.4 L1291.8 298.9 L1293.7 299.1 L1295.7 299.4 L1298.4 300.3 L1300.4 300.6 L1302.3 301.0 L1304.4 300.7 L1306.4 301.2 L1308.3 301.7 L1309.9 303.0 L1311.8 303.5 L1313.8 304.1 L1315.6 303.8 L1317.5 304.4 L1319.4 305.0 L1321.6 306.3 L1323.5 307.0 L1325.4 307.6 L1326.1 307.8 L1327.9 308.5 L1329.8 309.2 L1333.0 310.4 L1334.8 311.1 L1336.7 311.9 L1338.1 311.6 L1340.0 312.4 L1341.8 313.2 L1343.9 314.2 L1345.7 315.0 L1347.5 315.9 L1348.4 317.4 L1350.3 318.2 L1352.1 319.0 L1354.2 320.3 L1356.0 321.2 L1357.8 322.0 L1360.1 321.7 L1361.9 322.6 L1363.7 323.5 L1364.3 324.5 L1366.1 325.5 L1367.9 326.4 L1369.7 327.5 L1371.4 328.5 L1373.2 329.4 L1375.3 330.0 L1377.1 331.0 L1378.8 332.0 L1381.1 334.1 L1382.8 335.1 L1384.5 336.1 L1385.8 336.6 L1387.5 337.6 L1389.2 338.6 L1391.3 340.3 L1393.0 341.3 L1394.7 342.3 L1396.7 342.2 L1398.4 343.2 L1400.2 344.2 L1401.6 345.4 L1403.3 346.4 L1405.0 347.4 L1407.3 349.2 L1409.0 350.3 L1410.7 351.3 L1411.8 352.4 L1413.5 353.5 L1415.2 354.5 L1417.3 355.4 L1419.0 356.4 L1420.7 357.5 L1421.8 358.6 L1423.5 359.7 L1425.2 360.7 L1426.6 361.8 L1428.3 362.9 L1429.9 364.0 L1431.9 365.3 L1433.6 366.4 L1435.2 367.5 L1437.0 367.7 L1438.6 368.9 L1440.3 370.0 L1441.6 371.2 L1443.3 372.4 L1444.9 373.5 L1447.4 374.8 L1449.0 376.0 L1450.7 377.2 L1451.5 379.0 L1453.2 380.2 L1454.8 381.3 L1457.1 381.2 L1458.7 382.4 L1460.3 383.5 L1461.6 385.9 L1463.2 387.1 L1464.8 388.2 L1466.3 388.1 L1467.9 389.2 L1469.6 390.4 L1471.5 392.6 L1473.1 393.7 L1474.7 394.9 L1476.6 395.9 L1478.3 397.1 L1479.9 398.2 L1481.0 399.1 L1482.7 400.2 L1484.3 401.4 L1485.5 403.2 L1487.2 404.3 L1488.8 405.5 L1491.7 405.5 L1493.3 406.6 L1495.0 407.7 L1495.4 408.7 L1497.1 409.9 L1498.8 411.0 L1500.7 413.1 L1502.4 414.2 L1504.1 415.3 L1505.7 415.8 L1507.4 416.9 L1509.1 418.0 L1510.9 419.6 L1512.5 420.7 L1514.2 421.8 L1516.1 422.7 L1517.7 423.8 L1519.4 424.9 L1520.9 425.9 L1522.5 426.9 L1524.2 428.0 L1526.2 428.9 L1527.9 430.0 L1529.6 431.1 L1531.7 432.7 L1533.4 433.8 L1535.1 434.9 L1536.5 436.0 L1538.2 437.1 L1539.8 438.2 L1541.7 438.5 L1543.4 439.6 L1545.0 440.7 L1545.7 442.6 L1547.3 443.8 L1549.0 444.9 L1551.5 445.9 L1553.1 447.0 L1554.8 448.2 L1555.4 449.5 L1557.0 450.7 L1558.7 451.8 L1561.4 452.2 L1563.0 453.3 L1564.7 454.5 L1565.0 456.5 L1566.7 457.6 L1568.3 458.8 L1570.1 460.4 L1571.7 461.5 L1573.4 462.6 L1574.8 463.5 L1576.4 464.6 L1578.1 465.8 L1580.1 466.8 L1581.7 467.9 L1583.4 469.0 L1585.5 470.0 L1587.2 471.1 L1588.8 472.3 L1590.0 474.0 L1591.6 475.2 L1593.2 476.3 L1595.0 476.3 L1596.6 477.4 L1598.2 478.5 L1599.1 480.2 L1600.7 481.3 L1602.3 482.3 L1604.1 483.3 L1605.7 484.4 L1607.2 485.4 L1608.4 485.9" fill="none" stroke="#ff0000" stroke-width="5.8" stroke-linejoin="round" stroke-linecap="butt"/>
<path d="M360.2 197.5 L359.7 198.9 L360.0 200.9 L360.7 203.7 L361.0 205.7 L361.2 207.7 L361.1 208.9 L361.3 210.9 L361.5 212.9 L361.9 215.7 L362.1 217.7 L362.4 219.7 L362.5 221.7 L362.7 223.7 L363.0 225.6 L363.9 226.8 L364.2 228.8 L364.4 230.8 L364.5 233.2 L364.7 235.2 L364.9 237.2 L365.0 239.9 L365.2 241.9 L365.4 243.9 L365.2 244.5 L365.5 246.5 L365.7 248.5 L367.1 251.0 L367.3 253.0 L367.6 255.0 L366.8 256.9 L367.0 258.8 L367.2 260.8 L367.7 263.7 L368.0 265.7 L368.3 267.6 L368.3 268.6 L368.6 270.6 L368.9 272.6 L369.7 275.0 L370.1 277.0 L370.4 278.9 L371.3 281.3 L371.7 283.3 L372.1 285.2 L371.7 286.3 L372.1 288.2 L372.6 290.2 L373.8 293.2 L374.2 295.2 L374.7 297.1 L374.1 298.7 L374.6 300.6 L375.2 302.5 L376.9 304.4 L377.4 306.3 L377.9 308.2 L377.5 310.3 L378.1 312.3 L378.6 314.2 L379.9 315.3 L380.5 317.2 L381.1 319.1 L381.6 321.0 L382.3 322.9 L383.2 324.7 L383.3 326.6 L384.3 328.3 L385.6 329.7 L387.6 330.9 L389.3 331.5 L391.2 331.4 L393.5 331.5 L395.2 330.5 L396.7 329.3 L398.5 328.0 L399.6 326.4 L400.5 324.6 L401.4 322.6 L402.2 320.7 L402.9 318.9 L402.6 316.1 L403.3 314.3 L404.0 312.4 L405.1 311.0 L405.8 309.1 L406.4 307.2 L407.1 304.7 L407.6 302.8 L408.2 300.9 L408.2 300.1 L408.8 298.2 L409.4 296.3 L410.6 294.1 L411.3 292.2 L412.0 290.3 L412.1 288.1 L412.9 286.2 L413.7 284.4 L415.7 283.0 L416.6 281.2 L417.5 279.4 L418.5 277.0 L419.4 275.2 L420.2 273.4 L420.3 272.4 L421.1 270.6 L421.9 268.7 L422.6 266.8 L423.3 265.0 L424.0 263.1 L424.9 260.3 L425.6 258.4 L426.3 256.5 L426.3 255.9 L427.0 254.0 L427.8 252.1 L428.6 249.2 L429.4 247.4 L430.2 245.5 L431.4 244.5 L432.4 242.7 L433.4 241.0 L435.2 239.0 L436.4 237.4 L437.6 235.8 L438.4 234.7 L439.7 233.2 L440.9 231.6 L441.9 229.5 L443.2 228.0 L444.6 226.6 L446.5 225.6 L448.1 224.3 L449.7 223.1 L450.6 221.4 L452.3 220.4 L454.1 219.4 L456.0 219.3 L457.7 218.3 L459.4 217.2 L461.8 216.5 L463.5 215.4 L465.2 214.4 L467.1 212.4 L468.8 211.5 L470.7 210.7 L472.5 210.9 L474.3 210.1 L476.2 209.3 L477.4 207.2 L479.3 206.4 L481.1 205.6 L483.0 205.2 L484.8 204.3 L486.6 203.4 L488.0 202.1 L489.8 201.2 L491.6 200.4 L493.4 200.8 L495.3 200.2 L497.3 199.9 L499.1 199.5 L501.1 199.7 L503.0 200.1 L505.1 200.2 L507.0 201.0 L508.8 201.8 L511.4 202.9 L513.1 203.9 L514.8 205.0 L515.6 206.3 L517.1 207.6 L518.5 209.0 L520.5 210.6 L521.7 212.2 L522.7 213.9 L524.0 215.5 L524.9 217.2 L525.8 219.0 L526.2 221.3 L527.0 223.1 L527.8 224.9 L528.5 226.8 L529.3 228.6 L530.0 230.5 L530.7 231.5 L531.4 233.4 L532.1 235.3 L532.3 238.1 L533.0 239.9 L533.7 241.8 L535.3 243.9 L536.0 245.8 L536.8 247.6 L537.5 249.0 L538.3 250.8 L539.1 252.6 L539.3 254.8 L540.1 256.6 L541.0 258.4 L541.9 259.5 L542.8 261.3 L543.7 263.1 L544.7 264.8 L545.6 266.6 L546.5 268.3 L547.7 270.2 L548.7 271.9 L549.6 273.7 L551.1 275.6 L552.1 277.4 L553.0 279.1 L553.3 281.2 L554.3 283.0 L555.3 284.7 L556.9 286.5 L557.9 288.3 L558.9 290.0 L558.9 291.5 L559.9 293.2 L560.9 294.9 L563.1 296.2 L564.2 297.8 L565.3 299.5 L565.5 301.9 L566.6 303.5 L567.9 305.1 L569.3 306.1 L570.6 307.7 L571.9 309.2 L573.8 310.7 L575.1 312.2 L576.4 313.7 L576.9 315.0 L578.3 316.4 L579.7 317.8 L581.5 319.7 L583.2 320.7 L585.0 321.4 L587.0 322.0 L588.9 322.4 L590.9 322.8 L592.4 322.6 L594.2 323.3 L596.0 324.2 L598.6 325.4 L600.4 326.3 L602.2 327.2 L603.8 328.7 L605.7 329.4 L607.5 330.1 L609.1 329.6 L611.0 330.3 L612.8 331.2 L614.2 332.6 L615.8 333.8 L617.3 335.0 L619.2 336.4 L620.6 337.7 L622.1 339.1 L623.2 339.7 L624.8 340.9 L626.4 342.2 L628.4 344.5 L629.8 345.9 L631.1 347.4 L632.0 349.3 L632.9 351.1 L633.6 353.0 L634.7 354.2 L635.3 356.0 L636.0 357.9 L636.9 359.6 L637.5 361.5 L638.0 363.4 L638.3 366.2 L638.8 368.2 L639.3 370.1 L639.6 371.3 L640.0 373.3 L640.4 375.2 L640.1 377.6 L640.5 379.5 L640.8 381.5 L641.4 383.2 L641.8 385.1 L642.2 387.1 L643.1 389.8 L643.6 391.8 L644.1 393.7 L644.8 395.1 L645.4 397.0 L645.9 398.9 L646.7 400.5 L647.2 402.5 L647.7 404.4 L647.5 406.9 L648.0 408.8 L648.4 410.8 L649.1 412.1 L649.4 414.0 L649.8 416.0 L650.0 418.8 L650.3 420.8 L650.7 422.8 L650.9 424.5 L651.3 426.5 L651.8 428.4 L652.2 430.7 L652.8 432.6 L653.5 434.4 L655.0 435.5 L655.5 437.4 L656.0 439.3 L656.8 441.9 L657.2 443.9 L657.5 445.9 L656.6 447.1 L656.9 449.1 L657.2 451.0 L658.1 454.1 L658.4 456.0 L658.7 458.0 L658.5 458.7 L658.8 460.6 L659.1 462.6 L659.6 464.6 L659.9 466.6 L660.2 468.5 L660.6 471.2 L660.9 473.2 L661.2 475.2 L661.6 476.6 L661.9 478.6 L662.2 480.5 L661.9 483.4 L662.2 485.4 L662.5 487.4 L663.4 488.9 L663.7 490.9 L664.0 492.9 L664.4 495.1 L664.7 497.1 L665.0 499.1 L665.9 501.3 L666.2 503.2 L666.5 505.2 L666.6 506.5 L666.9 508.5 L667.2 510.5 L666.7 512.1 L667.0 514.1 L667.3 516.1 L668.5 518.0 L668.8 520.0 L669.1 521.9 L668.9 525.1 L669.2 527.1 L669.5 529.1 L669.4 530.3 L669.6 532.3 L669.8 534.3 L670.2 537.1 L670.4 539.1 L670.6 541.1 L671.2 542.9 L671.4 544.9 L671.6 546.9 L670.9 548.7 L671.1 550.7 L671.3 552.7 L672.1 554.2 L672.3 556.2 L672.5 558.2 L673.2 560.7 L673.3 562.7 L673.5 564.7 L673.8 566.6 L674.0 568.6 L674.2 570.6 L674.4 572.2 L674.6 574.2 L674.8 576.2 L674.5 578.7 L674.7 580.6 L675.0 582.6 L675.0 583.7 L675.3 585.7 L675.5 587.7 L675.9 590.7 L676.2 592.7 L676.4 594.7 L677.1 595.6 L677.4 597.6 L677.6 599.6 L677.2 601.7 L677.5 603.7 L677.8 605.7 L678.0 608.7 L678.3 610.6 L678.5 612.6 L678.9 613.7 L679.2 615.7 L679.5 617.7 L679.5 619.8 L679.8 621.8 L680.1 623.8 L680.9 625.6 L681.2 627.6 L681.4 629.6 L681.0 631.4 L681.2 633.4 L681.5 635.4 L681.8 638.3 L682.0 640.3 L682.3 642.3 L682.3 644.1 L682.6 646.1 L682.8 648.0 L682.9 650.1 L683.1 652.1 L683.2 654.1 L683.7 656.0 L683.8 658.0 L684.0 660.0 L684.4 661.0 L684.6 663.0 L684.7 665.0 L684.4 668.0 L684.6 670.0 L684.7 672.0 L685.5 673.6 L685.7 675.6 L685.8 677.6 L685.7 679.8 L685.9 681.8 L686.0 683.8 L686.4 684.9 L686.5 686.9 L686.7 688.9 L687.0 691.3 L687.2 693.3 L687.3 695.3 L687.8 697.6 L688.0 699.6 L688.1 701.6 L688.2 703.0 L688.4 705.0 L688.5 707.0 L688.6 709.6 L688.8 711.6 L688.9 713.6 L689.3 716.0 L689.5 718.0 L689.7 720.0 L689.4 721.6 L689.6 723.6 L689.8 725.5 L690.2 727.1 L690.4 729.1 L690.6 731.1 L690.5 733.8 L690.7 735.8 L690.9 737.8 L691.1 739.4 L691.3 741.4 L691.5 743.4 L692.1 746.0 L692.3 748.0 L692.5 750.0 L691.9 750.7 L692.1 752.7 L692.3 754.7 L693.0 756.8 L693.2 758.8 L693.4 760.7 L694.2 763.2 L694.4 765.2 L694.6 767.2 L694.2 769.6 L694.5 771.6 L694.7 773.6 L695.4 774.6 L695.6 776.6 L695.8 778.6 L695.5 780.7 L695.7 782.6 L696.0 784.6 L696.2 786.6 L696.4 788.5 L696.7 790.5 L697.5 792.8 L697.7 794.8 L698.0 796.8 L697.5 799.5 L697.8 801.5 L698.0 803.5 L698.9 804.7 L699.1 806.7 L699.4 808.7 L699.2 811.1 L699.4 813.1 L699.7 815.1 L699.5 816.3 L699.8 818.3 L700.1 820.3 L701.3 822.3 L701.5 824.3 L701.8 826.3 L701.9 829.1 L702.2 831.0 L702.5 833.0 L702.6 834.4 L702.9 836.4 L703.2 838.4 L703.9 841.0 L704.2 843.0 L704.5 844.9 L703.7 847.1 L704.0 849.0 L704.3 851.0 L705.5 852.1 L705.8 854.1 L706.1 856.1 L705.8 857.8 L706.1 859.8 L706.5 861.7 L707.7 864.8 L708.0 866.7 L708.4 868.7 L708.1 869.7 L708.4 871.7 L708.8 873.7 L708.7 876.0 L709.1 877.9 L709.5 879.9 L710.1 881.4 L710.5 883.3 L710.9 885.3 L711.2 888.3 L711.6 890.3 L712.0 892.3 L712.0 893.7 L712.4 895.6 L712.8 897.6 L713.8 899.2 L714.2 901.2 L714.6 903.1 L714.3 905.0 L714.8 906.9 L715.2 908.9 L715.7 912.1 L716.2 914.0 L716.6 916.0 L718.1 917.6 L718.5 919.5 L719.0 921.4 L719.5 922.9 L720.0 924.8 L720.5 926.7 L720.1 929.4 L720.6 931.4 L721.1 933.3 L722.1 935.3 L722.6 937.2 L723.2 939.2 L723.4 940.4 L724.0 942.3 L724.5 944.2 L725.6 946.8 L726.2 948.7 L726.8 950.6 L726.6 951.6 L727.2 953.5 L727.8 955.5 L728.2 957.8 L728.8 959.7 L729.5 961.6 L731.4 963.5 L732.0 965.4 L732.7 967.2 L732.3 969.3 L732.9 971.2 L733.6 973.1 L735.0 974.1 L735.8 976.0 L736.5 977.8 L737.6 980.5 L738.3 982.3 L739.1 984.2 L739.3 985.5 L740.1 987.4 L740.9 989.2 L741.3 991.2 L742.2 993.0 L743.1 994.7 L744.3 996.2 L745.2 997.9 L746.2 999.7 L747.6 1002.0 L748.6 1003.7 L749.7 1005.4 L751.2 1007.4 L752.3 1009.1 L753.5 1010.7 L754.0 1011.9 L755.2 1013.4 L756.5 1015.0 L757.7 1016.0 L759.0 1017.5 L760.4 1018.9 L762.1 1021.0 L763.5 1022.3 L765.0 1023.6 L765.8 1024.1 L767.4 1025.3 L769.0 1026.4 L771.0 1027.9 L772.7 1028.9 L774.4 1029.8 L777.0 1030.2 L778.7 1031.0 L780.5 1031.7 L781.1 1032.5 L783.0 1033.0 L784.8 1033.5 L787.4 1034.0 L789.3 1034.3 L791.2 1034.5 L793.4 1034.3 L795.3 1034.4 L797.2 1034.3 L798.9 1034.7 L800.8 1034.5 L802.7 1034.2 L803.9 1033.1 L805.8 1032.7 L807.7 1032.3 L810.5 1032.8 L812.4 1032.3 L814.3 1031.7 L816.5 1030.1 L818.4 1029.4 L820.3 1028.7 L822.1 1028.0 L824.0 1027.2 L825.8 1026.4 L826.9 1025.5 L828.7 1024.6 L830.5 1023.8 L832.4 1023.2 L834.2 1022.2 L835.9 1021.3 L837.7 1021.1 L839.4 1020.0 L841.1 1019.0 L842.0 1017.4 L843.6 1016.3 L845.2 1015.2 L847.5 1013.4 L849.1 1012.2 L850.6 1011.0 L851.4 1010.7 L853.0 1009.5 L854.5 1008.2 L857.0 1006.5 L858.5 1005.2 L860.0 1003.9 L860.6 1002.9 L862.1 1001.6 L863.6 1000.3 L865.4 998.3 L866.9 996.9 L868.3 995.5 L869.9 994.0 L871.2 992.6 L872.5 991.1 L874.4 989.6 L875.7 988.1 L877.0 986.6 L877.8 985.5 L879.0 983.9 L880.3 982.3 L881.8 979.9 L883.0 978.3 L884.2 976.7 L884.6 976.2 L885.8 974.6 L886.9 973.0 L888.5 970.5 L889.7 968.9 L890.9 967.3 L892.5 965.4 L893.7 963.8 L894.9 962.2 L895.2 960.5 L896.4 959.0 L897.6 957.4 L899.4 956.3 L900.6 954.8 L901.8 953.2 L902.5 951.5 L903.7 949.9 L904.9 948.3 L906.0 947.0 L907.2 945.4 L908.3 943.8 L910.2 941.7 L911.3 940.0 L912.5 938.4 L913.8 936.3 L914.9 934.6 L916.0 933.0 L916.7 931.5 L917.8 929.8 L918.9 928.1 L919.4 927.0 L920.4 925.3 L921.5 923.7 L922.6 921.3 L923.6 919.6 L924.7 917.9 L925.8 916.6 L926.9 914.9 L927.9 913.2 L929.9 911.4 L931.0 909.7 L932.0 908.0 L932.1 907.0 L933.1 905.2 L934.1 903.5 L936.1 902.1 L937.1 900.4 L938.1 898.7 L938.1 895.8 L939.1 894.1 L940.1 892.3 L941.6 891.8 L942.6 890.0 L943.6 888.3 L944.8 886.4 L945.8 884.7 L946.8 882.9 L947.3 880.6 L948.3 878.9 L949.3 877.2 L951.0 875.1 L952.0 873.4 L952.9 871.6 L953.7 870.7 L954.7 869.0 L955.6 867.2 L957.0 865.3 L958.0 863.5 L958.9 861.8 L959.8 860.4 L960.8 858.6 L961.7 856.9 L962.3 854.0 L963.1 852.2 L964.0 850.4 L964.3 848.4 L965.2 846.6 L966.0 844.7 L967.8 843.7 L968.7 841.8 L969.5 840.0 L969.8 838.6 L970.7 836.8 L971.5 834.9 L972.4 832.4 L973.2 830.6 L974.0 828.8 L974.7 826.5 L975.5 824.7 L976.4 822.9 L976.8 821.5 L977.6 819.7 L978.5 817.9 L980.2 816.6 L981.1 814.8 L982.0 813.0 L982.7 810.9 L983.7 809.1 L984.7 807.4 L985.3 805.7 L986.3 803.9 L987.3 802.2 L987.9 800.5 L988.9 798.7 L990.0 797.0 L992.2 795.9 L993.2 794.2 L994.2 792.5 L994.3 790.3 L995.3 788.6 L996.3 786.9 L998.0 784.7 L999.0 783.0 L999.9 781.2 L1000.3 780.0 L1001.2 778.2 L1002.1 776.4 L1002.7 775.1 L1003.6 773.3 L1004.5 771.5 L1005.0 769.6 L1005.9 767.8 L1006.7 766.0 L1008.4 763.5 L1009.2 761.7 L1010.0 759.8 L1010.3 758.7 L1011.1 756.8 L1011.8 755.0 L1013.2 752.2 L1014.1 750.4 L1014.9 748.6 L1015.1 746.6 L1016.0 744.8 L1016.8 743.0 L1018.1 741.6 L1018.9 739.8 L1019.8 738.0 L1020.2 736.6 L1021.1 734.8 L1022.0 733.0 L1022.8 730.4 L1023.7 728.6 L1024.6 726.9 L1026.3 726.1 L1027.2 724.3 L1028.1 722.6 L1029.0 720.3 L1029.9 718.5 L1030.9 716.8 L1031.7 715.4 L1032.6 713.6 L1033.5 711.9 L1033.5 709.3 L1034.4 707.5 L1035.4 705.8 L1036.7 704.6 L1037.7 702.9 L1038.6 701.1 L1039.5 699.4 L1040.5 697.6 L1041.4 695.8 L1042.3 694.3 L1043.2 692.6 L1044.2 690.8 L1045.4 688.6 L1046.3 686.8 L1047.2 685.0 L1048.5 683.6 L1049.4 681.8 L1050.3 680.1 L1051.2 677.4 L1052.1 675.7 L1053.1 673.9 L1053.8 672.6 L1054.8 670.9 L1055.7 669.1 L1056.1 667.7 L1057.0 665.9 L1058.0 664.2 L1059.2 662.5 L1060.1 660.7 L1061.1 659.0 L1062.1 657.2 L1063.0 655.4 L1063.9 653.7 L1065.3 651.1 L1066.2 649.3 L1067.1 647.5 L1067.9 645.2 L1068.8 643.4 L1069.7 641.6 L1069.8 640.6 L1070.7 638.9 L1071.6 637.1 L1072.8 635.0 L1073.7 633.3 L1074.6 631.5 L1076.1 629.8 L1077.0 628.0 L1078.0 626.3 L1078.8 624.9 L1079.7 623.1 L1080.7 621.4 L1082.0 618.7 L1082.9 617.0 L1083.9 615.2 L1084.9 614.4 L1085.9 612.6 L1086.8 610.9 L1087.0 608.2 L1088.0 606.5 L1089.0 604.8 L1089.9 603.0 L1090.9 601.3 L1091.9 599.6 L1093.4 599.1 L1094.4 597.4 L1095.4 595.6 L1096.3 592.9 L1097.3 591.1 L1098.3 589.4 L1098.8 588.7 L1099.8 586.9 L1100.8 585.2 L1102.4 582.4 L1103.4 580.7 L1104.4 579.0 L1105.9 577.5 L1106.9 575.8 L1107.9 574.0 L1109.0 572.5 L1110.1 570.7 L1111.1 569.0 L1111.1 566.9 L1112.2 565.2 L1113.2 563.5 L1113.9 562.6 L1115.0 561.0 L1116.1 559.3 L1117.6 557.5 L1118.7 555.8 L1119.7 554.1 L1121.6 552.0 L1122.6 550.3 L1123.7 548.6 L1124.4 547.4 L1125.5 545.7 L1126.6 544.1 L1127.9 541.9 L1129.0 540.2 L1130.2 538.6 L1130.7 536.8 L1131.8 535.2 L1132.9 533.6 L1133.8 532.4 L1135.0 530.8 L1136.2 529.1 L1138.2 527.7 L1139.4 526.1 L1140.5 524.5 L1141.4 522.8 L1142.6 521.2 L1143.8 519.6 L1145.2 518.2 L1146.4 516.6 L1147.6 515.0 L1148.9 513.2 L1150.1 511.6 L1151.3 510.0 L1152.7 507.8 L1153.9 506.3 L1155.2 504.7 L1155.7 504.1 L1157.0 502.5 L1158.3 501.0 L1160.5 499.1 L1161.8 497.6 L1163.2 496.1 L1164.8 494.2 L1166.2 492.7 L1167.5 491.2 L1168.6 490.2 L1170.0 488.8 L1171.4 487.4 L1172.0 485.4 L1173.4 484.0 L1174.8 482.6 L1176.1 481.3 L1177.6 479.9 L1179.0 478.6 L1181.6 477.6 L1183.0 476.3 L1184.5 475.0 L1185.0 473.7 L1186.5 472.3 L1188.0 471.0 L1190.9 470.2 L1192.4 468.9 L1193.9 467.6 L1194.5 465.9 L1196.1 464.7 L1197.6 463.4 L1199.3 461.8 L1200.9 460.6 L1202.5 459.4 L1204.5 457.9 L1206.1 456.7 L1207.7 455.5 L1209.1 455.7 L1210.7 454.5 L1212.4 453.4 L1214.4 451.9 L1216.1 450.8 L1217.8 449.7 L1219.6 449.1 L1221.3 448.1 L1223.0 447.0 L1223.9 446.0 L1225.7 445.1 L1227.4 444.1 L1230.1 442.6 L1231.8 441.7 L1233.6 440.8 L1234.4 440.0 L1236.2 439.2 L1238.0 438.4 L1240.3 438.3 L1242.2 437.5 L1244.1 436.9 L1245.6 435.8 L1247.5 435.2 L1249.4 434.6 L1252.0 433.9 L1253.9 433.4 L1255.8 432.9 L1257.1 432.9 L1259.0 432.6 L1261.0 432.2 L1262.9 431.9 L1264.9 431.7 L1266.8 431.5 L1269.7 430.9 L1271.6 430.8 L1273.6 430.8 L1274.4 430.4 L1276.4 430.5 L1278.4 430.6 L1280.4 430.6 L1282.3 430.8 L1284.3 431.0 L1286.7 431.9 L1288.6 432.2 L1290.6 432.5 L1293.2 432.1 L1295.1 432.5 L1297.1 433.0 L1298.9 433.5 L1300.9 434.0 L1302.8 434.5 L1304.7 434.9 L1306.6 435.4 L1308.5 436.0 L1309.9 437.9 L1311.8 438.5 L1313.7 439.1 L1316.3 438.6 L1318.2 439.2 L1320.0 439.9 L1321.2 441.8 L1323.1 442.5 L1324.9 443.3 L1326.5 443.4 L1328.3 444.2 L1330.2 445.0 L1332.1 445.5 L1333.9 446.4 L1335.8 447.2 L1337.9 447.8 L1339.7 448.7 L1341.5 449.6 L1342.8 451.6 L1344.6 452.5 L1346.3 453.5 L1349.0 453.9 L1350.7 454.8 L1352.5 455.8 L1353.3 456.1 L1355.1 457.1 L1356.8 458.1 L1359.2 459.8 L1360.9 460.8 L1362.6 461.9 L1363.5 463.4 L1365.2 464.5 L1366.9 465.5 L1369.1 465.6 L1370.8 466.7 L1372.4 467.7 L1374.5 469.7 L1376.2 470.8 L1377.8 471.9 L1379.1 472.4 L1380.8 473.6 L1382.4 474.7 L1383.7 475.7 L1385.3 476.8 L1387.0 478.0 L1389.8 479.8 L1391.5 480.9 L1393.1 482.0 L1394.0 483.1 L1395.6 484.2 L1397.3 485.3 L1399.8 485.7 L1401.4 486.9 L1403.1 488.0 L1404.5 489.1 L1406.2 490.3 L1407.8 491.5 L1409.6 493.5 L1411.2 494.6 L1412.8 495.8 L1414.5 496.2 L1416.1 497.4 L1417.7 498.6 L1419.0 500.1 L1420.6 501.3 L1422.2 502.4 L1423.7 502.7 L1425.4 503.8 L1427.0 505.0 L1428.8 507.2 L1430.4 508.3 L1432.0 509.5 L1433.6 510.8 L1435.3 511.9 L1436.9 513.1 L1439.0 513.8 L1440.6 515.0 L1442.3 516.1 L1443.1 517.1 L1444.7 518.3 L1446.3 519.4 L1447.7 520.2 L1449.4 521.3 L1451.0 522.5 L1453.7 523.9 L1455.4 525.1 L1457.0 526.2 L1457.9 528.0 L1459.5 529.2 L1461.2 530.3 L1463.3 530.3 L1464.9 531.5 L1466.5 532.6 L1467.6 534.5 L1469.3 535.6 L1470.9 536.8 L1472.3 538.2 L1473.9 539.4 L1475.6 540.5 L1477.8 541.8 L1479.4 542.9 L1481.1 544.0 L1482.0 544.2 L1483.7 545.3 L1485.4 546.4 L1487.3 548.0 L1488.9 549.1 L1490.6 550.2 L1492.2 551.3 L1493.9 552.3 L1495.6 553.4 L1497.4 553.8 L1499.1 554.9 L1500.8 555.9 L1503.2 557.6 L1504.9 558.7 L1506.6 559.7 L1508.5 560.7 L1510.2 561.7 L1511.9 562.8 L1513.6 563.9 L1515.3 564.9 L1517.0 565.9 L1518.2 567.4 L1519.9 568.4 L1521.7 569.4 L1523.2 570.5 L1524.9 571.5 L1526.6 572.6 L1528.7 573.5 L1530.4 574.6 L1532.1 575.6 L1533.1 576.0 L1534.8 577.1 L1536.6 578.1 L1538.6 579.5 L1540.3 580.5 L1542.0 581.6 L1544.6 582.7 L1546.3 583.7 L1548.0 584.7 L1549.0 584.7 L1550.7 585.7 L1552.4 586.7 L1554.9 587.9 L1556.6 589.0 L1558.4 590.0 L1559.9 591.6 L1561.6 592.6 L1563.3 593.6 L1564.9 594.8 L1566.6 595.8 L1568.3 596.9 L1569.3 597.5 L1571.0 598.5 L1572.8 599.5 L1574.7 601.0 L1576.4 602.0 L1578.1 603.0 L1580.2 604.5 L1582.0 605.5 L1583.7 606.5 L1585.2 606.6 L1586.9 607.7 L1588.6 608.7 L1589.7 609.8 L1591.4 610.8 L1593.1 611.9 L1595.4 613.2 L1597.1 614.2 L1598.7 615.2 L1599.6 615.5 L1601.2 616.5 L1602.9 617.5 L1605.3 619.3 L1607.0 620.2 L1608.6 621.2 L1608.4 620.8" fill="none" stroke="#0000ff" stroke-width="5.8" stroke-linejoin="round" stroke-linecap="butt"/>
<path d="M361.5 170.0 L361.0 171.4 L361.2 173.4 L361.9 176.2 L362.1 178.2 L362.3 180.2 L362.1 181.4 L362.3 183.4 L362.5 185.4 L362.9 188.3 L363.1 190.3 L363.3 192.3 L363.3 194.2 L363.6 196.2 L363.8 198.2 L364.7 199.3 L364.9 201.3 L365.2 203.3 L365.2 205.7 L365.4 207.7 L365.6 209.7 L365.7 212.5 L365.9 214.5 L366.1 216.4 L365.9 217.1 L366.2 219.1 L366.4 221.0 L367.9 223.6 L368.2 225.5 L368.5 227.5 L367.8 229.4 L368.1 231.3 L368.5 233.3 L369.2 236.1 L369.6 238.1 L370.1 240.0 L370.3 240.9 L370.8 242.9 L371.3 244.8 L372.4 247.2 L372.9 249.1 L373.5 251.1 L374.5 253.4 L375.1 255.3 L375.6 257.2 L375.3 258.3 L375.8 260.2 L376.4 262.1 L377.6 265.2 L378.1 267.1 L378.7 269.0 L378.1 270.6 L378.7 272.5 L379.2 274.4 L381.0 276.2 L381.6 278.1 L382.1 280.0 L381.9 282.1 L382.5 284.0 L383.1 285.9 L384.5 287.0 L385.3 288.8 L386.1 290.6 L387.0 292.4 L388.1 294.0 L389.5 295.4 L390.2 296.4 L391.8 296.3 L393.3 295.5 L395.0 294.2 L396.1 292.5 L397.1 290.8 L398.5 289.7 L399.4 287.9 L400.3 286.1 L401.6 284.5 L402.5 282.7 L403.3 280.9 L404.2 278.8 L404.9 276.9 L405.7 275.1 L405.4 272.3 L406.1 270.5 L406.8 268.6 L407.9 267.2 L408.6 265.3 L409.3 263.5 L410.2 261.0 L411.1 259.2 L412.1 257.5 L412.5 257.0 L413.7 255.4 L414.8 253.8 L416.6 251.8 L417.6 250.1 L418.6 248.4 L418.8 246.2 L419.6 244.3 L420.3 242.5 L422.2 241.0 L422.9 239.1 L423.6 237.2 L424.5 234.7 L425.3 232.9 L426.2 231.2 L426.6 230.4 L428.0 229.1 L429.6 228.0 L431.3 227.0 L432.9 225.9 L434.4 224.6 L435.8 222.1 L436.9 220.5 L438.0 218.8 L438.3 218.3 L439.4 216.6 L440.4 214.8 L441.5 212.0 L442.5 210.3 L443.6 208.7 L445.0 207.8 L446.3 206.3 L447.8 205.1 L450.3 204.3 L452.1 204.2 L454.1 204.3 L455.5 204.6 L457.4 204.1 L459.2 203.3 L460.7 202.0 L462.6 201.4 L464.6 201.1 L467.0 201.3 L469.0 201.5 L470.8 202.0 L471.8 202.1 L473.4 203.3 L475.0 204.4 L476.8 206.4 L478.5 207.4 L480.3 208.4 L482.8 209.7 L484.5 210.7 L486.3 211.7 L488.2 211.6 L489.9 212.5 L491.7 213.5 L493.4 215.5 L495.1 216.5 L496.8 217.6 L497.8 217.4 L499.4 218.7 L500.9 220.0 L502.4 221.7 L503.9 223.1 L505.4 224.4 L506.6 225.4 L508.2 226.7 L509.7 227.9 L511.2 230.3 L512.8 231.5 L514.2 232.9 L515.4 234.1 L516.4 235.7 L517.2 237.5 L518.1 238.8 L518.6 240.8 L519.2 242.7 L520.6 244.7 L521.2 246.6 L521.9 248.5 L521.6 250.7 L522.2 252.6 L522.8 254.5 L524.1 256.5 L524.8 258.4 L525.4 260.3 L526.3 262.0 L527.0 263.9 L527.7 265.7 L527.9 268.1 L528.6 269.9 L529.4 271.8 L530.0 273.6 L530.8 275.5 L531.5 277.3 L532.3 278.4 L533.1 280.2 L533.9 282.1 L534.2 284.8 L535.0 286.6 L535.8 288.5 L537.4 290.5 L538.3 292.3 L539.1 294.2 L539.9 295.5 L540.7 297.3 L541.6 299.1 L541.8 301.2 L542.7 303.0 L543.8 304.7 L544.7 305.8 L545.8 307.5 L546.8 309.2 L547.9 310.9 L548.9 312.6 L549.9 314.3 L551.0 316.2 L551.9 318.0 L552.8 319.8 L554.2 321.7 L555.1 323.5 L556.0 325.3 L556.3 327.4 L557.2 329.2 L558.3 330.9 L560.0 332.6 L561.2 334.3 L562.3 335.9 L562.6 337.2 L563.9 338.7 L565.2 340.2 L567.9 341.1 L569.3 342.4 L570.8 343.7 L571.4 345.8 L573.0 347.0 L574.6 348.2 L576.4 348.9 L577.9 350.2 L579.5 351.4 L581.8 352.5 L583.5 353.4 L585.4 354.1 L586.4 354.2 L588.4 354.4 L590.4 354.4 L592.6 355.3 L594.6 355.5 L596.5 355.9 L598.5 356.5 L600.4 357.2 L602.1 358.1 L603.4 358.4 L605.1 359.5 L606.7 360.6 L609.2 362.0 L611.0 362.9 L612.8 363.7 L614.4 365.3 L616.1 366.4 L617.6 367.7 L618.6 368.0 L619.9 369.6 L621.2 371.1 L622.1 373.1 L623.5 374.5 L625.1 375.7 L627.1 376.8 L628.8 377.8 L630.2 379.1 L631.1 379.9 L632.0 381.6 L632.8 383.5 L634.1 386.4 L634.7 388.3 L635.3 390.2 L635.8 392.3 L636.4 394.2 L637.0 396.1 L637.9 397.3 L638.5 399.3 L639.0 401.2 L639.9 402.9 L640.4 404.8 L641.0 406.7 L641.4 409.5 L641.9 411.4 L642.5 413.3 L643.0 414.5 L643.6 416.4 L644.2 418.3 L644.1 420.6 L644.7 422.5 L645.3 424.4 L645.9 426.0 L646.4 428.0 L646.9 429.9 L647.9 432.7 L648.3 434.6 L648.6 436.6 L649.2 438.0 L649.5 439.9 L649.9 441.9 L650.5 443.6 L650.8 445.6 L651.1 447.5 L650.8 450.0 L651.1 452.0 L651.4 454.0 L652.0 455.3 L652.3 457.3 L652.6 459.3 L652.7 462.1 L653.0 464.1 L653.3 466.0 L653.4 467.8 L653.7 469.8 L654.0 471.8 L654.1 474.1 L654.4 476.1 L654.7 478.1 L655.9 479.2 L656.2 481.1 L656.5 483.1 L657.2 485.8 L657.5 487.7 L657.8 489.7 L656.8 490.9 L657.1 492.9 L657.4 494.9 L658.3 497.9 L658.6 499.9 L658.9 501.9 L658.7 502.5 L659.0 504.5 L659.3 506.5 L659.8 508.4 L660.1 510.4 L660.4 512.4 L660.9 515.1 L661.2 517.0 L661.4 519.0 L661.8 520.4 L662.1 522.4 L662.4 524.4 L662.1 527.3 L662.3 529.3 L662.6 531.3 L663.5 532.8 L663.8 534.8 L664.0 536.8 L664.4 539.0 L664.6 541.0 L664.9 543.0 L665.8 545.2 L666.1 547.1 L666.3 549.1 L666.4 550.4 L666.6 552.4 L666.9 554.4 L666.4 556.0 L666.6 558.0 L666.9 560.0 L668.1 561.9 L668.4 563.9 L668.7 565.9 L668.5 569.1 L668.8 571.0 L669.0 573.0 L668.9 574.3 L669.2 576.3 L669.4 578.3 L669.8 581.0 L670.1 583.0 L670.3 585.0 L670.9 586.8 L671.2 588.8 L671.4 590.8 L670.8 592.6 L671.0 594.6 L671.3 596.6 L672.1 598.1 L672.3 600.1 L672.5 602.1 L673.3 604.5 L673.5 606.5 L673.8 608.5 L674.1 610.5 L674.4 612.5 L674.6 614.5 L674.8 616.0 L675.0 618.0 L675.3 620.0 L675.0 622.5 L675.2 624.5 L675.4 626.5 L675.5 627.6 L675.7 629.5 L676.0 631.5 L676.4 634.5 L676.6 636.5 L676.8 638.5 L677.4 639.5 L677.6 641.5 L677.8 643.4 L677.3 645.6 L677.6 647.6 L677.8 649.6 L677.9 652.6 L678.1 654.6 L678.3 656.5 L678.6 657.6 L678.8 659.6 L679.0 661.6 L679.0 663.8 L679.2 665.8 L679.4 667.8 L680.1 669.6 L680.3 671.6 L680.5 673.6 L680.0 675.4 L680.2 677.4 L680.4 679.4 L680.7 682.3 L680.9 684.3 L681.2 686.3 L681.2 688.1 L681.5 690.1 L681.7 692.1 L681.8 694.1 L682.1 696.1 L682.3 698.1 L682.8 700.1 L683.1 702.0 L683.3 704.0 L683.8 705.0 L684.1 707.0 L684.4 709.0 L684.2 712.0 L684.5 713.9 L684.8 715.9 L685.7 717.5 L686.0 719.4 L686.3 721.4 L686.3 723.7 L686.6 725.7 L686.9 727.6 L687.4 728.7 L687.6 730.7 L687.9 732.7 L688.3 735.0 L688.6 737.0 L688.9 739.0 L689.4 741.3 L689.7 743.3 L689.9 745.3 L690.1 746.7 L690.3 748.7 L690.6 750.6 L690.7 753.3 L690.9 755.3 L691.2 757.3 L691.6 759.7 L691.8 761.6 L692.1 763.6 L691.9 765.2 L692.1 767.2 L692.4 769.2 L692.9 770.7 L693.1 772.7 L693.4 774.7 L693.3 777.4 L693.5 779.4 L693.7 781.4 L694.0 783.0 L694.3 785.0 L694.5 787.0 L695.1 789.6 L695.3 791.6 L695.6 793.5 L695.0 794.3 L695.2 796.3 L695.4 798.2 L696.1 800.3 L696.4 802.3 L696.6 804.3 L697.4 806.8 L697.6 808.7 L697.8 810.7 L697.5 813.2 L697.7 815.2 L698.0 817.2 L698.7 818.2 L698.9 820.2 L699.2 822.2 L698.9 824.2 L699.2 826.2 L699.4 828.2 L699.7 830.1 L700.0 832.1 L700.3 834.0 L701.1 836.3 L701.4 838.3 L701.7 840.3 L701.3 843.0 L701.6 845.0 L702.0 847.0 L702.9 848.2 L703.2 850.1 L703.5 852.1 L703.4 854.5 L703.7 856.5 L704.0 858.5 L703.9 859.7 L704.2 861.7 L704.5 863.7 L705.8 865.7 L706.2 867.7 L706.5 869.6 L706.6 872.4 L707.0 874.4 L707.3 876.3 L707.5 877.8 L707.9 879.7 L708.2 881.7 L709.0 884.3 L709.3 886.2 L709.7 888.2 L709.0 890.3 L709.3 892.3 L709.7 894.3 L710.9 895.4 L711.3 897.3 L711.7 899.3 L711.4 901.0 L711.9 902.9 L712.3 904.9 L713.6 907.9 L714.0 909.9 L714.4 911.8 L714.2 912.8 L714.7 914.8 L715.1 916.7 L715.2 919.0 L715.7 920.9 L716.1 922.9 L716.9 924.3 L717.4 926.3 L717.9 928.2 L718.4 931.2 L718.9 933.1 L719.4 935.1 L719.7 936.4 L720.2 938.3 L720.7 940.3 L721.9 941.8 L722.5 943.8 L723.0 945.7 L723.0 947.5 L723.5 949.4 L724.1 951.3 L724.9 954.5 L725.5 956.4 L726.1 958.3 L727.7 959.8 L728.4 961.7 L729.0 963.6 L729.7 964.9 L730.4 966.8 L731.1 968.7 L730.8 971.3 L731.5 973.2 L732.2 975.1 L733.5 977.0 L734.2 978.9 L735.0 980.7 L735.4 981.8 L736.2 983.7 L737.0 985.5 L738.3 988.0 L739.1 989.8 L740.0 991.6 L740.1 992.5 L741.0 994.3 L742.0 996.0 L742.7 998.2 L743.7 999.9 L744.7 1001.6 L747.1 1003.3 L748.1 1005.0 L749.3 1006.6 L749.3 1008.4 L750.5 1010.0 L751.7 1011.5 L753.7 1012.2 L755.0 1013.7 L756.3 1015.2 L758.0 1017.4 L759.4 1018.8 L760.8 1020.2 L761.7 1021.0 L763.2 1022.3 L764.7 1023.5 L765.8 1024.9 L767.4 1026.0 L769.1 1027.0 L771.0 1027.7 L772.7 1028.7 L774.5 1029.5 L776.6 1031.0 L778.4 1031.7 L780.2 1032.4 L782.5 1033.5 L784.4 1034.0 L786.3 1034.5 L787.5 1034.6 L789.4 1035.0 L791.3 1035.3 L793.2 1035.2 L795.1 1035.4 L797.1 1035.5 L799.3 1036.4 L801.3 1036.4 L803.3 1036.4 L804.5 1035.6 L806.5 1035.4 L808.4 1035.3 L810.8 1035.5 L812.8 1035.2 L814.7 1034.9 L817.5 1034.1 L819.5 1033.7 L821.4 1033.3 L822.1 1033.0 L824.0 1032.5 L825.9 1031.9 L828.5 1031.4 L830.4 1030.8 L832.3 1030.2 L834.4 1029.2 L836.3 1028.5 L838.1 1027.7 L839.7 1027.4 L841.5 1026.6 L843.3 1025.8 L844.4 1024.3 L846.2 1023.4 L848.0 1022.6 L850.8 1022.8 L852.6 1021.9 L854.3 1021.0 L856.5 1019.1 L858.2 1018.2 L860.0 1017.2 L861.7 1016.2 L863.5 1015.2 L865.2 1014.2 L866.1 1013.0 L867.8 1011.9 L869.4 1010.8 L871.3 1010.0 L872.9 1008.8 L874.5 1007.6 L876.2 1007.2 L877.8 1006.0 L879.4 1004.8 L880.2 1003.1 L881.7 1001.9 L883.3 1000.6 L885.5 998.8 L887.0 997.5 L888.5 996.2 L889.2 995.8 L890.7 994.5 L892.2 993.2 L894.7 991.5 L896.2 990.1 L897.6 988.8 L898.3 987.8 L899.7 986.4 L901.2 985.1 L903.1 983.1 L904.5 981.7 L905.9 980.3 L907.6 978.9 L909.0 977.5 L910.4 976.0 L912.3 974.6 L913.7 973.2 L915.0 971.7 L916.0 970.7 L917.4 969.2 L918.7 967.7 L920.4 965.4 L921.7 963.9 L923.0 962.4 L923.5 961.9 L924.8 960.4 L926.1 958.9 L927.7 956.5 L929.0 955.0 L930.2 953.4 L931.9 951.5 L933.1 949.9 L934.4 948.4 L934.7 946.7 L935.9 945.2 L937.1 943.6 L938.9 942.6 L940.2 941.0 L941.4 939.4 L942.0 937.7 L943.2 936.1 L944.4 934.5 L945.5 933.3 L946.7 931.6 L947.9 930.0 L949.7 927.9 L950.9 926.3 L952.1 924.7 L953.3 922.6 L954.5 920.9 L955.6 919.3 L956.3 917.8 L957.4 916.1 L958.5 914.4 L959.0 913.3 L960.0 911.6 L961.1 909.9 L962.1 907.6 L963.2 905.9 L964.2 904.1 L965.3 902.9 L966.3 901.1 L967.3 899.4 L969.3 897.5 L970.3 895.8 L971.3 894.1 L971.3 893.0 L972.2 891.3 L973.2 889.5 L975.2 888.1 L976.2 886.4 L977.2 884.7 L977.2 881.8 L978.2 880.1 L979.3 878.4 L980.9 877.9 L982.0 876.2 L983.1 874.5 L984.3 872.7 L985.4 871.1 L986.6 869.4 L987.2 867.2 L988.4 865.5 L989.5 863.9 L991.3 861.9 L992.5 860.3 L993.7 858.7 L994.6 857.9 L995.7 856.3 L996.9 854.6 L998.5 852.8 L999.6 851.2 L1000.8 849.5 L1001.9 848.3 L1003.1 846.7 L1004.2 845.0 L1005.0 842.3 L1006.1 840.7 L1007.2 839.0 L1007.8 837.1 L1008.9 835.4 L1010.1 833.8 L1012.1 832.8 L1013.3 831.2 L1014.4 829.5 L1015.0 828.3 L1016.1 826.6 L1017.2 824.9 L1018.5 822.6 L1019.6 820.9 L1020.7 819.3 L1021.6 817.2 L1022.8 815.5 L1023.9 813.8 L1024.5 812.5 L1025.6 810.9 L1026.7 809.2 L1028.6 808.0 L1029.7 806.3 L1030.8 804.6 L1031.6 802.6 L1032.7 800.9 L1033.8 799.3 L1034.6 797.6 L1035.7 795.9 L1036.8 794.2 L1037.5 792.5 L1038.5 790.9 L1039.6 789.2 L1041.9 788.1 L1043.0 786.4 L1044.1 784.8 L1044.2 782.6 L1045.3 780.9 L1046.4 779.2 L1048.1 777.1 L1049.2 775.4 L1050.2 773.7 L1050.7 772.6 L1051.7 770.9 L1052.8 769.1 L1053.6 767.9 L1054.6 766.2 L1055.7 764.5 L1056.5 762.7 L1057.5 761.0 L1058.5 759.3 L1060.5 756.9 L1061.5 755.2 L1062.6 753.5 L1063.1 752.5 L1064.2 750.8 L1065.3 749.1 L1066.9 746.5 L1068.0 744.8 L1069.1 743.2 L1069.7 741.3 L1070.8 739.7 L1071.9 738.0 L1073.4 736.8 L1074.5 735.1 L1075.6 733.5 L1076.3 732.2 L1077.4 730.5 L1078.5 728.9 L1079.6 726.4 L1080.7 724.7 L1081.8 723.1 L1083.7 722.5 L1084.8 720.8 L1085.9 719.1 L1087.0 717.0 L1088.1 715.4 L1089.3 713.7 L1090.3 712.5 L1091.4 710.9 L1092.5 709.2 L1092.7 706.8 L1093.9 705.1 L1095.0 703.5 L1096.6 702.5 L1097.8 700.8 L1098.9 699.2 L1100.1 697.6 L1101.2 696.0 L1102.4 694.4 L1103.5 693.0 L1104.7 691.4 L1105.8 689.8 L1107.3 687.7 L1108.4 686.1 L1109.6 684.4 L1111.1 683.2 L1112.3 681.5 L1113.5 679.9 L1114.6 677.5 L1115.8 675.9 L1116.9 674.3 L1118.0 673.2 L1119.2 671.6 L1120.4 670.0 L1121.1 668.8 L1122.3 667.2 L1123.6 665.6 L1125.2 664.2 L1126.4 662.7 L1127.7 661.1 L1129.1 659.6 L1130.3 658.1 L1131.6 656.6 L1133.4 654.3 L1134.7 652.8 L1136.1 651.3 L1137.4 649.2 L1138.7 647.7 L1140.1 646.3 L1140.5 645.6 L1141.9 644.1 L1143.3 642.7 L1145.0 641.0 L1146.3 639.5 L1147.7 638.1 L1149.7 636.7 L1151.0 635.3 L1152.4 633.9 L1153.7 632.8 L1155.1 631.4 L1156.5 630.0 L1158.3 627.7 L1159.7 626.3 L1161.1 624.9 L1162.6 624.4 L1164.0 623.1 L1165.5 621.7 L1166.1 619.4 L1167.6 618.1 L1169.1 616.8 L1170.6 615.5 L1172.1 614.2 L1173.6 612.9 L1175.7 612.8 L1177.2 611.6 L1178.7 610.3 L1180.2 608.0 L1181.7 606.8 L1183.3 605.5 L1184.4 605.2 L1186.0 604.0 L1187.5 602.7 L1189.6 600.5 L1191.2 599.2 L1192.8 598.0 L1194.9 597.1 L1196.5 595.8 L1198.1 594.6 L1199.8 593.6 L1201.4 592.4 L1203.0 591.2 L1203.6 589.6 L1205.2 588.5 L1206.9 587.3 L1208.2 587.1 L1209.9 586.0 L1211.5 584.9 L1213.7 583.8 L1215.4 582.8 L1217.1 581.8 L1219.6 580.3 L1221.3 579.4 L1223.1 578.5 L1224.4 578.0 L1226.2 577.2 L1228.0 576.3 L1230.0 575.0 L1231.8 574.3 L1233.7 573.5 L1234.9 572.7 L1236.8 572.1 L1238.7 571.4 L1240.3 571.3 L1242.2 570.7 L1244.1 570.2 L1246.9 569.9 L1248.9 569.4 L1250.8 568.9 L1252.5 568.4 L1254.4 568.0 L1256.4 567.6 L1258.5 567.4 L1260.5 567.1 L1262.4 566.8 L1264.4 566.3 L1266.4 566.1 L1268.3 565.9 L1270.4 565.0 L1272.4 564.9 L1274.4 564.8 L1275.6 565.6 L1277.6 565.5 L1279.6 565.5 L1282.4 565.1 L1284.4 565.1 L1286.4 565.2 L1288.7 564.9 L1290.7 565.0 L1292.7 565.2 L1294.4 565.8 L1296.4 566.0 L1298.4 566.3 L1299.5 566.0 L1301.4 566.4 L1303.4 566.7 L1305.2 567.2 L1307.2 567.6 L1309.1 568.0 L1312.1 568.9 L1314.0 569.4 L1316.0 569.9 L1316.8 570.5 L1318.8 571.0 L1320.7 571.6 L1323.8 572.7 L1325.7 573.3 L1327.6 574.0 L1328.5 574.2 L1330.4 574.9 L1332.3 575.6 L1334.2 576.0 L1336.1 576.7 L1338.0 577.5 L1340.2 577.9 L1342.1 578.7 L1343.9 579.4 L1345.5 581.5 L1347.4 582.3 L1349.2 583.0 L1351.4 583.4 L1353.3 584.2 L1355.1 585.0 L1357.0 586.2 L1358.9 587.0 L1360.7 587.9 L1361.7 588.7 L1363.6 589.5 L1365.4 590.3 L1368.1 590.5 L1369.9 591.4 L1371.7 592.2 L1372.4 593.1 L1374.2 594.0 L1376.0 594.9 L1378.3 596.4 L1380.1 597.3 L1381.9 598.1 L1383.4 598.6 L1385.2 599.5 L1387.0 600.4 L1389.5 601.1 L1391.3 602.0 L1393.1 602.9 L1394.2 604.2 L1396.0 605.1 L1397.7 606.0 L1399.5 606.9 L1401.3 607.8 L1403.1 608.7 L1405.7 609.1 L1407.5 610.0 L1409.3 610.9 L1409.9 611.5 L1411.7 612.4 L1413.5 613.3 L1415.3 614.1 L1417.1 615.0 L1418.9 615.9 L1421.1 617.3 L1422.8 618.2 L1424.6 619.1 L1427.0 619.3 L1428.8 620.2 L1430.6 621.1 L1432.3 622.0 L1434.1 622.9 L1435.9 623.8 L1437.7 624.6 L1439.5 625.4 L1441.3 626.3 L1442.6 628.5 L1444.4 629.3 L1446.2 630.2 L1448.7 629.8 L1450.5 630.7 L1452.3 631.5 L1453.4 633.6 L1455.3 634.4 L1457.1 635.3 L1458.6 635.4 L1460.4 636.3 L1462.2 637.1 L1464.2 637.7 L1466.0 638.5 L1467.8 639.3 L1470.0 639.9 L1471.8 640.7 L1473.6 641.5 L1475.0 643.5 L1476.8 644.3 L1478.7 645.1 L1481.4 645.3 L1483.2 646.1 L1485.1 646.9 L1486.0 647.0 L1487.9 647.7 L1489.7 648.5 L1492.3 649.9 L1494.1 650.7 L1496.0 651.5 L1497.0 652.7 L1498.8 653.4 L1500.7 654.2 L1503.0 653.9 L1504.9 654.7 L1506.8 655.4 L1509.0 657.1 L1510.8 657.8 L1512.7 658.5 L1514.2 658.7 L1516.0 659.5 L1517.9 660.2 L1519.3 660.9 L1521.2 661.6 L1523.0 662.4 L1526.1 663.8 L1527.9 664.5 L1529.8 665.2 L1530.9 665.9 L1532.7 666.6 L1534.6 667.4 L1537.4 667.3 L1539.2 668.1 L1541.1 668.8 L1542.7 669.5 L1544.6 670.3 L1546.4 671.0 L1548.5 672.6 L1550.3 673.3 L1552.2 674.1 L1554.0 674.1 L1555.9 674.9 L1557.8 675.6 L1559.2 676.8 L1561.1 677.5 L1562.9 678.2 L1564.7 678.1 L1566.5 678.8 L1568.4 679.5 L1570.4 681.3 L1572.2 682.0 L1574.1 682.8 L1575.9 683.6 L1577.8 684.4 L1579.6 685.1 L1581.9 685.5 L1583.8 686.2 L1585.6 686.9 L1586.6 687.5 L1588.5 688.2 L1590.3 688.9 L1591.9 689.2 L1593.7 689.9 L1595.5 690.6 L1598.4 691.6 L1600.2 692.3 L1602.0 693.0 L1603.1 694.4 L1604.8 695.1 L1606.6 695.8 L1608.8 695.3 L1608.4 695.9" fill="none" stroke="#008080" stroke-width="5.8" stroke-linejoin="round" stroke-linecap="butt"/>
<path d="M360.9 150.5 L361.8 151.9 L361.9 153.9 L361.8 156.5 L361.9 158.4 L362.1 160.4 L362.6 162.3 L362.8 164.3 L363.0 166.3 L363.1 168.0 L363.3 169.9 L363.5 171.9 L363.8 174.3 L363.9 176.3 L364.1 178.3 L363.2 180.2 L363.4 182.2 L363.6 184.1 L364.4 185.7 L364.6 187.7 L364.8 189.7 L364.6 191.6 L364.8 193.6 L365.1 195.6 L364.8 197.8 L365.0 199.8 L365.2 201.8 L365.6 203.9 L365.8 205.9 L366.0 207.9 L367.0 210.1 L367.2 212.1 L367.4 214.1 L367.8 216.7 L368.0 218.7 L368.2 220.7 L368.6 222.8 L368.8 224.8 L369.1 226.7 L369.0 228.3 L369.3 230.3 L369.6 232.3 L370.5 234.0 L370.9 236.0 L371.3 238.0 L370.8 239.9 L371.3 241.8 L371.8 243.7 L372.9 245.2 L373.5 247.1 L374.1 249.0 L374.1 250.9 L374.7 252.8 L375.3 254.7 L376.7 257.5 L377.3 259.4 L377.8 261.4 L378.3 262.7 L378.8 264.7 L379.3 266.6 L379.0 267.9 L379.5 269.9 L380.1 271.8 L381.5 274.4 L382.1 276.4 L382.7 278.3 L383.1 279.7 L383.7 281.5 L384.5 283.4 L384.8 285.2 L385.6 287.1 L386.6 288.8 L387.6 291.1 L388.7 292.8 L389.8 294.4 L391.3 295.9 L392.6 297.4 L394.1 298.7 L395.8 299.5 L397.5 299.5 L399.1 298.8 L401.0 297.8 L402.2 296.3 L403.3 294.6 L403.5 293.2 L404.5 291.4 L405.4 289.6 L407.2 287.6 L407.9 285.8 L408.7 283.9 L408.8 282.2 L409.5 280.3 L410.2 278.5 L411.5 275.6 L412.2 273.7 L413.0 271.9 L413.6 270.9 L414.4 269.1 L415.2 267.2 L416.1 265.5 L416.9 263.7 L417.7 261.8 L418.2 259.7 L419.1 257.9 L419.9 256.1 L420.2 254.3 L421.0 252.5 L421.9 250.7 L423.0 249.0 L423.9 247.2 L424.9 245.5 L426.9 243.3 L428.0 241.5 L429.0 239.8 L428.9 237.7 L430.0 236.0 L431.1 234.3 L432.8 232.8 L434.0 231.2 L435.1 229.5 L436.6 228.5 L437.7 226.9 L438.9 225.3 L439.8 223.8 L441.1 222.3 L442.4 220.8 L443.4 219.1 L444.9 217.9 L446.6 216.8 L448.2 216.0 L450.0 215.3 L451.9 214.5 L454.7 213.0 L456.3 211.8 L457.8 210.5 L459.0 210.3 L460.4 208.8 L461.8 207.4 L462.7 204.9 L464.3 203.8 L465.9 203.2 L467.3 204.3 L468.6 205.4 L469.5 207.0 L469.9 208.8 L470.3 210.7 L470.6 212.7 L471.4 214.4 L472.4 215.5 L474.0 215.9 L476.7 215.7 L478.6 215.2 L480.5 214.5 L481.3 213.3 L483.1 212.5 L484.8 211.5 L486.6 210.7 L488.1 209.5 L489.7 208.3 L491.4 206.3 L493.2 205.6 L495.2 205.2 L497.3 204.9 L499.3 204.8 L501.3 204.9 L503.0 206.1 L504.9 206.6 L506.8 207.2 L508.8 207.2 L510.6 208.0 L512.5 208.9 L515.1 209.9 L516.8 210.9 L518.4 212.1 L519.8 213.9 L521.2 215.3 L522.5 216.8 L523.4 218.3 L524.6 219.9 L525.8 221.5 L527.0 223.4 L528.1 225.1 L529.1 226.8 L530.3 227.7 L531.3 229.4 L532.3 231.2 L533.0 233.4 L533.8 235.2 L534.5 237.1 L535.6 238.4 L536.4 240.2 L537.3 242.0 L537.7 244.9 L538.8 246.6 L539.9 248.2 L540.6 249.5 L541.8 251.0 L543.1 252.6 L545.6 253.9 L546.9 255.4 L548.3 256.9 L548.5 258.5 L549.9 259.9 L551.4 261.3 L553.1 262.4 L554.5 263.7 L555.9 265.1 L558.1 266.3 L559.5 267.7 L560.9 269.2 L561.5 270.3 L562.9 271.8 L564.3 273.1 L566.0 274.4 L567.6 275.6 L569.2 276.8 L571.4 278.8 L573.1 279.8 L574.9 280.7 L575.9 281.0 L577.8 281.6 L579.7 282.0 L582.7 282.6 L584.7 282.4 L586.5 281.9 L587.5 280.6 L589.1 279.4 L590.5 278.1 L592.5 276.6 L593.8 275.1 L595.1 273.5 L596.8 272.5 L598.1 271.0 L599.5 269.6 L600.9 267.1 L602.4 265.8 L603.9 264.5 L604.2 264.0 L605.8 262.8 L607.5 261.8 L610.0 260.3 L611.7 259.2 L613.2 258.0 L614.2 257.3 L615.6 255.9 L617.0 254.5 L619.3 252.2 L621.0 251.1 L622.7 250.1 L623.6 250.4 L625.5 249.7 L627.4 249.2 L629.8 247.9 L631.7 247.5 L633.7 247.5 L636.3 248.1 L638.1 248.9 L639.7 250.0 L640.0 251.4 L641.5 252.8 L642.9 254.2 L644.6 256.1 L645.9 257.6 L647.0 259.2 L648.6 260.1 L649.7 261.8 L650.6 263.6 L651.2 266.5 L652.1 268.3 L652.9 270.1 L653.7 271.9 L654.5 273.8 L655.2 275.6 L656.4 277.4 L657.1 279.3 L657.7 281.2 L657.9 282.1 L658.5 284.1 L659.0 286.0 L660.0 288.2 L660.5 290.1 L660.9 292.1 L660.4 294.3 L660.9 296.2 L661.3 298.2 L662.0 300.5 L662.3 302.5 L662.7 304.5 L663.1 306.7 L663.4 308.6 L663.8 310.6 L664.4 312.2 L664.7 314.2 L665.0 316.1 L664.6 318.1 L664.9 320.1 L665.2 322.0 L665.8 324.2 L666.1 326.2 L666.4 328.2 L666.4 330.2 L666.7 332.2 L667.0 334.1 L667.9 335.3 L668.2 337.2 L668.5 339.2 L669.1 341.6 L669.4 343.6 L669.7 345.6 L669.3 347.4 L669.5 349.3 L669.8 351.3 L670.1 353.9 L670.4 355.9 L670.7 357.9 L671.7 359.4 L672.0 361.4 L672.3 363.4 L672.1 365.3 L672.4 367.3 L672.7 369.3 L672.4 371.9 L672.7 373.8 L673.0 375.8 L673.7 376.6 L674.0 378.6 L674.3 380.5 L674.4 382.9 L674.6 384.9 L674.9 386.9 L676.0 388.7 L676.2 390.6 L676.5 392.6 L675.9 395.6 L676.1 397.6 L676.4 399.6 L676.8 401.6 L677.1 403.6 L677.3 405.6 L677.1 406.4 L677.4 408.4 L677.6 410.4 L678.1 412.8 L678.4 414.8 L678.6 416.7 L679.3 418.6 L679.5 420.6 L679.8 422.6 L680.6 425.5 L680.9 427.4 L681.2 429.4 L680.9 431.5 L681.2 433.4 L681.5 435.4 L682.2 437.4 L682.5 439.3 L682.9 441.3 L682.8 442.1 L683.2 444.0 L683.6 446.0 L683.9 447.9 L684.3 449.8 L684.7 451.8 L684.9 455.1 L685.3 457.0 L685.7 459.0 L686.1 460.5 L686.4 462.5 L686.8 464.5 L687.9 466.5 L688.3 468.4 L688.6 470.4 L688.2 472.1 L688.5 474.1 L688.8 476.0 L688.7 478.4 L689.0 480.4 L689.2 482.4 L690.2 483.7 L690.5 485.7 L690.7 487.7 L690.6 490.4 L690.9 492.4 L691.1 494.4 L690.7 495.5 L691.0 497.5 L691.2 499.4 L692.2 502.2 L692.4 504.2 L692.6 506.2 L692.6 508.0 L692.8 510.0 L693.0 512.0 L692.4 513.9 L692.6 515.9 L692.8 517.9 L693.8 519.2 L693.9 521.1 L694.1 523.1 L694.3 525.4 L694.4 527.4 L694.6 529.4 L694.5 532.1 L694.7 534.1 L694.9 536.1 L695.7 537.0 L695.9 539.0 L696.1 541.0 L695.2 543.8 L695.4 545.8 L695.5 547.8 L696.9 549.8 L697.0 551.8 L697.2 553.8 L696.5 556.0 L696.7 558.0 L696.9 559.9 L697.8 561.0 L698.0 563.0 L698.2 565.0 L697.1 567.5 L697.3 569.5 L697.4 571.5 L698.5 573.6 L698.7 575.6 L698.9 577.6 L698.7 579.1 L698.9 581.0 L699.1 583.0 L698.8 584.9 L699.0 586.9 L699.2 588.9 L699.8 591.2 L699.9 593.1 L700.1 595.1 L700.5 597.4 L700.7 599.4 L700.8 601.4 L700.7 603.8 L700.9 605.8 L701.1 607.8 L701.3 609.4 L701.5 611.3 L701.7 613.3 L702.0 615.7 L702.3 617.6 L702.5 619.6 L703.4 621.7 L703.6 623.7 L703.8 625.7 L702.7 627.7 L702.9 629.6 L703.1 631.6 L704.1 633.5 L704.3 635.5 L704.5 637.4 L704.0 638.6 L704.3 640.5 L704.5 642.5 L704.7 644.7 L704.9 646.6 L705.2 648.6 L705.5 651.4 L705.8 653.4 L706.0 655.4 L707.2 657.0 L707.4 659.0 L707.7 661.0 L707.1 663.0 L707.4 665.0 L707.6 666.9 L707.7 668.7 L708.0 670.6 L708.2 672.6 L708.9 675.5 L709.2 677.5 L709.4 679.5 L710.1 680.4 L710.3 682.4 L710.6 684.4 L710.9 687.6 L711.2 689.5 L711.4 691.5 L711.8 692.4 L712.1 694.4 L712.3 696.3 L712.1 699.4 L712.4 701.4 L712.7 703.4 L712.4 704.8 L712.7 706.8 L713.0 708.8 L713.8 711.3 L714.0 713.3 L714.3 715.3 L714.8 716.6 L715.1 718.6 L715.4 720.5 L715.3 722.2 L715.6 724.1 L715.9 726.1 L716.5 728.1 L716.8 730.1 L717.1 732.1 L717.2 733.9 L717.5 735.9 L717.9 737.9 L718.3 740.8 L718.6 742.8 L718.9 744.7 L718.4 746.1 L718.7 748.1 L719.1 750.1 L719.5 752.2 L719.8 754.2 L720.2 756.2 L720.7 758.7 L721.0 760.7 L721.4 762.6 L722.6 763.4 L723.0 765.3 L723.3 767.3 L722.9 769.6 L723.3 771.5 L723.6 773.5 L723.9 775.9 L724.2 777.8 L724.6 779.8 L725.8 781.7 L726.2 783.6 L726.6 785.6 L726.7 787.1 L727.1 789.1 L727.5 791.0 L727.8 793.9 L728.2 795.9 L728.6 797.8 L728.5 798.9 L728.9 800.9 L729.2 802.9 L730.3 805.2 L730.6 807.2 L731.0 809.1 L731.0 811.4 L731.4 813.4 L731.8 815.4 L733.2 816.9 L733.6 818.9 L734.0 820.9 L734.4 823.5 L734.8 825.4 L735.2 827.4 L735.3 828.5 L735.7 830.4 L736.1 832.4 L736.2 835.2 L736.6 837.2 L737.0 839.2 L737.8 840.5 L738.2 842.4 L738.7 844.4 L738.2 846.0 L738.7 848.0 L739.1 849.9 L739.7 852.6 L740.2 854.6 L740.6 856.5 L741.1 858.1 L741.6 860.0 L742.1 862.0 L742.2 863.8 L742.7 865.7 L743.2 867.7 L743.6 869.1 L744.1 871.0 L744.6 873.0 L745.2 875.6 L745.7 877.5 L746.2 879.5 L747.3 881.7 L747.8 883.6 L748.4 885.5 L748.5 887.4 L749.1 889.3 L749.6 891.2 L750.9 892.2 L751.5 894.2 L752.0 896.1 L752.1 898.3 L752.7 900.2 L753.3 902.1 L754.4 903.9 L755.0 905.8 L755.7 907.7 L755.4 909.9 L756.1 911.8 L756.7 913.7 L758.0 916.0 L758.7 917.9 L759.3 919.7 L759.1 921.3 L759.8 923.2 L760.5 925.0 L761.7 926.4 L762.4 928.3 L763.2 930.1 L763.5 932.4 L764.3 934.3 L765.1 936.1 L767.0 938.7 L767.8 940.5 L768.6 942.3 L768.6 943.2 L769.4 945.0 L770.2 946.8 L771.7 949.0 L772.5 950.8 L773.4 952.6 L773.9 953.8 L774.8 955.6 L775.7 957.4 L777.2 959.5 L778.1 961.3 L779.1 963.0 L779.3 965.0 L780.2 966.7 L781.2 968.5 L781.9 970.2 L782.9 971.9 L783.9 973.6 L785.0 975.1 L786.1 976.8 L787.1 978.5 L788.9 980.7 L790.0 982.4 L791.2 984.1 L792.8 985.6 L793.9 987.3 L795.1 988.9 L795.0 990.4 L796.2 992.0 L797.4 993.6 L798.9 994.6 L800.1 996.2 L801.4 997.7 L803.2 999.4 L804.5 1000.9 L805.9 1002.4 L807.5 1004.1 L808.9 1005.6 L810.3 1007.0 L810.7 1007.8 L812.1 1009.2 L813.6 1010.6 L814.9 1013.0 L816.4 1014.3 L817.9 1015.6 L820.7 1016.2 L822.3 1017.4 L823.8 1018.6 L825.4 1020.1 L827.1 1021.2 L828.7 1022.3 L830.2 1023.3 L831.8 1024.3 L833.6 1025.3 L835.3 1025.4 L837.1 1026.4 L838.9 1027.2 L840.5 1028.6 L842.3 1029.4 L844.1 1030.2 L845.6 1030.5 L847.5 1031.1 L849.4 1031.8 L851.6 1033.1 L853.5 1033.6 L855.4 1034.1 L857.4 1033.5 L859.3 1033.8 L861.3 1034.1 L862.3 1035.1 L864.3 1035.3 L866.2 1035.3 L869.0 1034.6 L871.0 1034.5 L873.0 1034.4 L874.1 1035.4 L876.0 1035.2 L878.0 1034.9 L881.2 1034.6 L883.2 1034.2 L885.1 1033.8 L886.5 1032.1 L888.4 1031.6 L890.3 1031.1 L891.7 1030.8 L893.6 1030.1 L895.5 1029.4 L897.5 1029.6 L899.4 1028.9 L901.2 1028.1 L903.7 1026.2 L905.5 1025.4 L907.3 1024.5 L908.5 1024.6 L910.3 1023.7 L912.0 1022.7 L914.4 1021.3 L916.1 1020.3 L917.8 1019.2 L918.4 1018.4 L920.0 1017.3 L921.7 1016.2 L923.2 1015.1 L924.8 1014.0 L926.4 1012.8 L929.0 1011.7 L930.6 1010.5 L932.2 1009.3 L933.5 1007.0 L935.1 1005.8 L936.6 1004.5 L937.8 1003.2 L939.3 1001.9 L940.8 1000.6 L941.6 1000.1 L943.1 998.8 L944.6 997.4 L946.1 995.8 L947.6 994.4 L949.1 993.1 L950.9 991.8 L952.4 990.4 L953.8 989.0 L955.3 987.7 L956.7 986.3 L958.1 984.9 L960.4 982.8 L961.8 981.3 L963.1 979.9 L964.1 979.0 L965.5 977.5 L966.8 976.0 L968.4 974.2 L969.6 972.7 L970.9 971.1 L972.2 970.0 L973.4 968.4 L974.7 966.8 L974.6 964.6 L975.8 963.0 L977.0 961.5 L978.9 960.5 L980.2 958.9 L981.4 957.3 L983.1 955.6 L984.4 954.0 L985.6 952.4 L986.7 950.9 L987.9 949.3 L989.2 947.8 L989.8 946.6 L991.0 945.0 L992.2 943.4 L993.7 940.9 L994.9 939.3 L996.1 937.7 L997.0 936.0 L998.2 934.4 L999.4 932.8 L1001.2 932.3 L1002.4 930.7 L1003.6 929.1 L1005.0 926.9 L1006.2 925.3 L1007.4 923.7 L1007.5 922.3 L1008.7 920.7 L1009.8 919.1 L1011.5 917.9 L1012.7 916.2 L1013.8 914.6 L1014.6 912.8 L1015.8 911.2 L1017.0 909.5 L1018.2 907.5 L1019.4 905.8 L1020.5 904.2 L1022.0 902.5 L1023.2 900.8 L1024.3 899.2 L1024.5 897.1 L1025.6 895.5 L1026.8 893.8 L1028.8 892.9 L1029.9 891.2 L1031.1 889.6 L1031.8 887.5 L1032.9 885.8 L1034.1 884.2 L1035.8 882.4 L1036.9 880.8 L1038.1 879.1 L1038.3 877.4 L1039.5 875.7 L1040.6 874.1 L1042.4 872.9 L1043.5 871.2 L1044.7 869.6 L1045.6 868.7 L1046.8 867.1 L1048.0 865.4 L1048.5 863.5 L1049.7 861.8 L1050.9 860.2 L1052.4 858.0 L1053.6 856.4 L1054.7 854.8 L1055.8 853.0 L1056.9 851.4 L1058.1 849.8 L1059.0 847.9 L1060.1 846.2 L1061.3 844.6 L1063.0 844.2 L1064.1 842.5 L1065.2 840.9 L1065.9 838.8 L1067.0 837.2 L1068.1 835.5 L1069.6 833.5 L1070.7 831.9 L1071.8 830.2 L1072.9 828.9 L1074.1 827.2 L1075.2 825.6 L1076.4 823.5 L1077.6 821.9 L1078.7 820.2 L1079.6 818.8 L1080.8 817.2 L1081.9 815.5 L1084.0 813.6 L1085.1 812.0 L1086.3 810.3 L1087.1 808.7 L1088.3 807.0 L1089.4 805.4 L1090.4 803.8 L1091.6 802.2 L1092.7 800.5 L1094.4 798.7 L1095.5 797.1 L1096.7 795.4 L1097.8 793.7 L1099.0 792.1 L1100.1 790.4 L1101.1 789.1 L1102.2 787.5 L1103.4 785.8 L1104.2 784.1 L1105.3 782.4 L1106.4 780.8 L1107.5 779.8 L1108.7 778.1 L1109.8 776.5 L1111.3 774.9 L1112.4 773.2 L1113.6 771.6 L1114.1 769.7 L1115.2 768.1 L1116.4 766.4 L1118.4 764.7 L1119.5 763.1 L1120.7 761.4 L1121.8 760.2 L1122.9 758.6 L1124.1 757.0 L1124.2 755.0 L1125.4 753.3 L1126.5 751.7 L1128.1 750.3 L1129.2 748.7 L1130.4 747.1 L1131.1 745.4 L1132.3 743.8 L1133.5 742.2 L1135.9 740.8 L1137.1 739.2 L1138.2 737.5 L1139.4 734.9 L1140.6 733.3 L1141.8 731.7 L1142.1 730.3 L1143.3 728.7 L1144.5 727.0 L1146.0 725.1 L1147.2 723.5 L1148.4 721.9 L1149.9 720.7 L1151.1 719.0 L1152.3 717.4 L1152.5 716.1 L1153.7 714.5 L1154.8 712.9 L1156.5 711.5 L1157.7 709.9 L1158.9 708.3 L1159.6 706.4 L1160.8 704.8 L1162.0 703.2 L1163.4 701.3 L1164.6 699.7 L1165.8 698.2 L1167.3 697.3 L1168.5 695.7 L1169.7 694.1 L1170.2 692.6 L1171.4 691.0 L1172.6 689.5 L1174.2 687.2 L1175.5 685.7 L1176.7 684.1 L1178.4 682.7 L1179.7 681.1 L1180.9 679.6 L1182.5 677.6 L1183.8 676.0 L1185.1 674.5 L1185.8 673.5 L1187.1 671.9 L1188.4 670.4 L1189.2 668.5 L1190.5 667.0 L1191.8 665.5 L1193.8 663.4 L1195.1 661.9 L1196.4 660.4 L1196.9 659.3 L1198.3 657.8 L1199.6 656.3 L1201.6 655.0 L1202.9 653.5 L1204.2 652.0 L1205.7 650.6 L1207.1 649.1 L1208.4 647.7 L1209.8 646.8 L1211.2 645.3 L1212.5 643.9 L1214.1 641.4 L1215.5 640.0 L1216.9 638.6 L1217.5 637.6 L1218.9 636.2 L1220.3 634.8 L1221.8 633.4 L1223.3 632.0 L1224.8 630.7 L1226.1 629.4 L1227.6 628.0 L1229.1 626.7 L1230.8 625.3 L1232.3 624.0 L1233.8 622.7 L1236.2 622.1 L1237.7 620.8 L1239.2 619.5 L1239.7 617.8 L1241.3 616.5 L1242.8 615.3 L1245.4 613.6 L1247.0 612.4 L1248.6 611.2 L1250.3 610.2 L1252.0 609.0 L1253.6 607.9 L1255.4 606.8 L1257.1 605.8 L1258.7 604.7 L1259.9 604.1 L1261.6 603.1 L1263.4 602.1 L1264.8 601.4 L1266.6 600.5 L1268.4 599.6 L1269.8 598.6 L1271.6 597.7 L1273.4 596.9 L1276.1 596.3 L1278.0 595.5 L1279.8 594.7 L1281.4 593.8 L1283.2 593.1 L1285.1 592.4 L1286.4 591.8 L1288.3 591.1 L1290.2 590.6 L1292.0 590.2 L1293.9 589.7 L1295.9 589.2 L1299.0 587.5 L1300.9 587.0 L1302.9 586.7 L1304.8 587.2 L1306.7 586.9 L1308.7 586.6 L1310.4 586.8 L1312.4 586.6 L1314.4 586.4 L1316.0 585.8 L1318.0 585.7 L1320.0 585.7 L1322.4 585.4 L1324.4 585.4 L1326.3 585.4 L1328.3 586.0 L1330.3 586.1 L1332.3 586.2 L1334.3 586.2 L1336.3 586.4 L1338.3 586.5 L1340.0 585.5 L1342.0 585.7 L1344.0 585.9 L1345.3 587.2 L1347.3 587.4 L1349.3 587.7 L1352.1 588.0 L1354.1 588.3 L1356.1 588.5 L1357.4 588.5 L1359.4 588.8 L1361.4 589.1 L1363.2 589.9 L1365.2 590.2 L1367.1 590.6 L1370.0 590.6 L1372.0 591.0 L1374.0 591.3 L1376.1 591.8 L1378.0 592.2 L1380.0 592.6 L1380.8 592.6 L1382.8 593.0 L1384.8 593.3 L1387.1 593.6 L1389.1 594.0 L1391.1 594.4 L1392.6 594.6 L1394.6 595.0 L1396.5 595.4 L1399.7 596.1 L1401.7 596.5 L1403.6 596.9 L1405.2 597.6 L1407.2 598.0 L1409.1 598.4 L1411.1 597.9 L1413.0 598.4 L1415.0 598.8 L1416.6 600.1 L1418.6 600.6 L1420.5 601.0 L1422.8 601.1 L1424.8 601.6 L1426.7 602.1 L1427.6 602.5 L1429.6 603.0 L1431.5 603.5 L1434.4 603.9 L1436.4 604.4 L1438.3 604.9 L1439.2 606.3 L1441.1 606.8 L1443.1 607.3 L1446.1 606.8 L1448.0 607.3 L1450.0 607.8 L1451.8 608.8 L1453.8 609.3 L1455.7 609.8 L1457.7 609.7 L1459.6 610.2 L1461.6 610.7 L1463.4 612.3 L1465.4 612.7 L1467.3 613.2 L1469.2 613.8 L1471.2 614.2 L1473.1 614.7 L1474.5 614.6 L1476.4 615.0 L1478.4 615.4 L1480.1 614.9 L1482.1 615.2 L1484.0 615.5 L1486.1 616.9 L1488.1 617.2 L1490.1 617.5 L1493.1 617.9 L1495.1 618.2 L1497.1 618.4 L1498.8 617.4 L1500.7 617.6 L1502.7 617.8 L1504.8 619.1 L1506.8 619.3 L1508.8 619.5 L1509.9 618.8 L1511.9 619.1 L1513.9 619.3 L1515.9 620.6 L1517.9 620.9 L1519.8 621.2 L1521.9 621.0 L1523.8 621.3 L1525.8 621.6 L1527.5 621.4 L1529.5 621.8 L1531.5 622.1 L1534.7 623.1 L1536.6 623.4 L1538.6 623.8 L1539.8 624.7 L1541.8 625.1 L1543.7 625.5 L1545.7 625.7 L1547.7 626.2 L1549.6 626.6 L1551.1 625.8 L1553.0 626.3 L1555.0 626.7 L1557.9 627.6 L1559.8 628.1 L1561.8 628.5 L1563.3 629.7 L1565.3 630.1 L1567.2 630.6 L1568.7 631.2 L1570.7 631.7 L1572.6 632.2 L1575.4 631.7 L1577.3 632.2 L1579.3 632.7 L1581.5 633.5 L1583.4 634.0 L1585.4 634.4 L1586.0 634.3 L1587.9 634.8 L1589.8 635.3 L1592.2 637.1 L1594.1 637.6 L1596.0 638.1 L1598.7 637.6 L1600.6 638.1 L1602.4 638.5 L1604.1 639.8 L1606.0 640.3 L1607.8 640.8 L1608.4 640.4" fill="none" stroke="#ff00ff" stroke-width="5.8" stroke-linejoin="round" stroke-linecap="butt"/>
<line x1="459" y1="85.6" x2="459" y2="161.0" stroke="#ee08e0" stroke-width="5" stroke-dasharray="6.6 4.7" stroke-dashoffset="0"/><polygon points="448.5,160.0 469.5,160.0 459.0,180.5" fill="#ee08e0"/>
<line x1="518.4" y1="70.8" x2="518.4" y2="152.9" stroke="#000" stroke-width="3.2" stroke-dasharray="8 5" stroke-dashoffset="0"/><polygon points="508.4,151.9 528.4,151.9 518.4,171.9" fill="#000"/>
<line x1="635.2" y1="123.8" x2="635.2" y2="204.9" stroke="#000" stroke-width="3.2" stroke-dasharray="8 5" stroke-dashoffset="0"/><polygon points="625.2,203.9 645.2,203.9 635.2,224.4" fill="#000"/>
<line x1="1287.8" y1="114.8" x2="1287.8" y2="521.3000000000001" stroke="#000" stroke-width="3.3" stroke-dasharray="6.6 6.1" stroke-dashoffset="0"/><polygon points="1277.8,520.3 1297.8,520.3 1287.8,540.6" fill="#000"/>
<line x1="1342.4" y1="109.4" x2="1342.4" y2="539.5" stroke="#ee08e0" stroke-width="5" stroke-dasharray="4.7 6.15" stroke-dashoffset="0"/><polygon points="1332.6,538.5 1352.2,538.5 1342.4,558.0" fill="#ee08e0"/>
<line x1="1257.5" y1="768.5" x2="1190" y2="694" stroke="#606060" stroke-width="2.6"/>
<polygon points="1182,685 1202.4,692 1188,705.4" fill="#606060"/>
<rect x="141.2" y="31.6" width="1612.6" height="1090.5" fill="none" stroke="#000" stroke-width="5.7"/>
<line x1="288.2" y1="1122" x2="288.2" y2="1146" stroke="#000" stroke-width="5.6"/>
<text transform="translate(250.30,1190.16) scale(1.0305,1)" font-family='"Liberation Sans", sans-serif' font-weight="bold" font-size="44.24" fill="#000">200</text>
<line x1="434.8" y1="1122" x2="434.8" y2="1146" stroke="#000" stroke-width="5.6"/>
<text transform="translate(397.43,1190.05) scale(1.0261,1)" font-family='"Liberation Sans", sans-serif' font-weight="bold" font-size="44.08" fill="#000">300</text>
<line x1="581.3" y1="1122" x2="581.3" y2="1146" stroke="#000" stroke-width="5.6"/>
<text transform="translate(544.32,1190.16) scale(1.0177,1)" font-family='"Liberation Sans", sans-serif' font-weight="bold" font-size="44.24" fill="#000">400</text>
<line x1="727.9" y1="1122" x2="727.9" y2="1146" stroke="#000" stroke-width="5.6"/>
<text transform="translate(690.19,1190.16) scale(1.0273,1)" font-family='"Liberation Sans", sans-serif' font-weight="bold" font-size="44.24" fill="#000">500</text>
<line x1="874.4" y1="1122" x2="874.4" y2="1146" stroke="#000" stroke-width="5.6"/>
<text transform="translate(836.39,1190.16) scale(1.0321,1)" font-family='"Liberation Sans", sans-serif' font-weight="bold" font-size="44.24" fill="#000">600</text>
<line x1="1021.0" y1="1122" x2="1021.0" y2="1146" stroke="#000" stroke-width="5.6"/>
<text transform="translate(982.70,1190.16) scale(1.0354,1)" font-family='"Liberation Sans", sans-serif' font-weight="bold" font-size="44.24" fill="#000">700</text>
<line x1="1167.5" y1="1122" x2="1167.5" y2="1146" stroke="#000" stroke-width="5.6"/>
<text transform="translate(1129.72,1190.16) scale(1.0289,1)" font-family='"Liberation Sans", sans-serif' font-weight="bold" font-size="44.24" fill="#000">800</text>
<line x1="1314.1" y1="1122" x2="1314.1" y2="1146" stroke="#000" stroke-width="5.6"/>
<text transform="translate(1276.15,1190.16) scale(1.0305,1)" font-family='"Liberation Sans", sans-serif' font-weight="bold" font-size="44.24" fill="#000">900</text>
<line x1="1460.6" y1="1122" x2="1460.6" y2="1146" stroke="#000" stroke-width="5.6"/>
<text transform="translate(1408.92,1190.16) scale(1.0406,1)" font-family='"Liberation Sans", sans-serif' font-weight="bold" font-size="44.24" fill="#000">1000</text>
<line x1="1607.2" y1="1122" x2="1607.2" y2="1146" stroke="#000" stroke-width="5.6"/>
<text transform="translate(1555.40,1190.16) scale(1.0683,1)" font-family='"Liberation Sans", sans-serif' font-weight="bold" font-size="44.24" fill="#000">1100</text>
<text transform="translate(726.06,1276.96) scale(1.1191,1)" font-family='"Liberation Sans", sans-serif' font-weight="bold" font-size="49.60" fill="#000">Wavelength (nm)</text>
<text transform="translate(71.70,750.94) rotate(-90) scale(1,1.0848)" font-family='"Liberation Sans", sans-serif' font-weight="bold" font-size="53.53" fill="#000">Absorbance</text>
<text transform="translate(367.68,101.70) scale(1.0156,1)" font-family='"Liberation Serif", serif' font-weight="bold" font-size="50.41" fill="#e61ee6">312</text>
<text transform="translate(536.89,132.51) scale(0.9850,1)" font-family='"Liberation Serif", serif' font-weight="normal" font-size="49.37" fill="#000" stroke="#000" stroke-width="1.61" stroke-linejoin="round">354</text>
<text transform="translate(674.57,148.30) scale(1.0128,1)" font-family='"Liberation Serif", serif' font-weight="bold" font-size="49.78" fill="#000">440</text>
<text transform="translate(1195.35,156.09) scale(0.9769,1)" font-family='"Liberation Serif", serif' font-weight="normal" font-size="50.52" fill="#000" stroke="#000" stroke-width="0.81" stroke-linejoin="round">883</text>
<text transform="translate(1375.83,148.69) scale(0.9749,1)" font-family='"Liberation Serif", serif' font-weight="bold" font-size="51.11" fill="#e61ee6">905</text>
<text transform="translate(1615.96,358.75) scale(1.1318,1)" font-family='"Liberation Serif", serif' font-weight="bold" font-size="55.76" fill="#000">(a)</text>
<text transform="translate(1611.07,487.87) scale(1.1422,1)" font-family='"Liberation Serif", serif' font-weight="bold" font-size="57.08" fill="#000">(b)</text>
<text transform="translate(1615.87,598.75) scale(1.1372,1)" font-family='"Liberation Serif", serif' font-weight="bold" font-size="57.19" fill="#000">(c)</text>
<text transform="translate(1613.52,721.59) scale(1.1330,1)" font-family='"Liberation Serif", serif' font-weight="bold" font-size="58.40" fill="#000">(d)</text>
<text transform="translate(1279.44,781.70) scale(1.1195,1)" font-family='"Liberation Serif", serif' font-weight="bold" font-size="60.72" fill="#000">(e)</text>
</g>
<g id="bot">
<path d="M146.1 2198.9 L144.4 2195.5 L147.7 2197.3 L146.4 2194.0 L149.4 2195.9 L148.1 2192.2 L151.4 2194.4 L150.1 2191.3 L153.4 2192.7 L151.3 2189.7 L154.6 2190.2 L152.5 2187.9 L155.4 2187.8 L153.2 2185.6 L156.0 2185.4 L153.9 2183.4 L157.2 2183.3 L154.5 2181.1 L157.7 2180.9 L155.0 2178.7 L158.8 2178.8 L156.3 2176.6 L159.6 2176.5 L156.9 2174.3 L160.2 2174.5 L158.2 2171.5 L160.6 2173.2 L160.1 2170.4 L162.1 2174.2 L163.1 2170.4 L163.7 2173.7 L165.5 2170.4 L165.5 2173.7 L167.8 2171.5 L167.2 2175.1 L168.9 2173.2 L169.9 2176.0 L169.6 2172.8 L172.1 2173.9 L170.8 2171.3 L173.5 2171.8 L171.7 2168.9 L175.1 2170.2 L173.8 2166.9 L175.6 2169.1 L176.5 2165.8 L174.6 2169.6 L178.1 2168.9 L175.2 2171.2 L178.4 2171.4 L176.2 2173.4 L179.8 2173.6 L177.4 2175.6 L180.6 2175.7 L177.9 2178.1 L180.7 2177.8 L179.4 2180.3 L182.1 2179.0 L181.3 2182.5 L183.8 2180.3 L183.4 2183.1 L186.4 2180.6 L185.1 2183.9 L188.1 2182.8 L186.1 2185.6 L189.1 2185.3 L187.0 2187.8 L190.5 2187.2 L188.5 2189.7 L191.8 2189.3 L189.7 2191.9 L192.4 2191.6 L191.0 2194.1 L193.7 2193.4 L192.8 2195.7 L196.1 2194.5 L194.4 2197.2 L197.6 2196.6 L194.7 2199.4 L197.8 2199.4 L195.3 2201.6 L199.4 2201.4 L196.9 2203.6 L200.1 2203.6 L197.5 2206.1 L200.6 2205.7 L198.5 2208.7 L201.8 2207.4 L200.9 2210.5 L203.1 2208.0 L204.1 2212.1 L203.6 2208.3 L206.4 2209.9 L204.0 2206.5 L207.5 2207.3 L205.9 2204.8 L208.9 2205.4 L207.0 2202.7 L210.1 2203.2 L208.6 2201.0 L211.5 2201.2 L209.6 2198.8 L212.5 2198.9 L210.1 2196.4 L213.5 2196.8 L211.6 2194.3 L214.6 2195.0 L213.1 2191.9 L215.8 2194.0 L215.7 2190.2 L217.4 2193.9 L217.9 2190.5 L219.8 2194.5 L219.6 2191.1 L221.6 2192.2 L220.2 2189.0 L223.7 2190.5 L221.8 2187.5 L225.1 2188.6 L223.6 2185.9 L226.7 2186.7 L224.6 2183.9 L228.0 2184.6 L226.0 2181.6 L228.9 2183.2 L228.5 2179.4 L228.1 2182.5 L231.0 2181.6 L227.7 2184.4 L231.7 2184.3 L229.3 2186.4 L231.8 2186.8 L229.9 2188.7 L232.9 2188.9 L230.3 2191.1 L233.4 2191.3 L231.2 2193.5 L234.0 2193.3 L232.5 2195.9 L235.2 2194.3 L235.0 2197.7 L236.5 2194.8 L237.8 2197.4 L238.5 2193.9 L240.0 2196.2 L240.7 2193.6 L242.6 2197.0 L242.6 2193.9 L244.6 2195.7 L243.7 2192.9 L246.7 2193.7 L244.5 2190.7 L247.7 2192.0 L246.7 2188.6 L248.2 2190.5 L249.4 2188.4 L248.7 2192.2 L251.4 2190.4 L250.7 2193.7 L253.0 2191.0 L253.4 2194.8 L254.1 2191.1 L256.3 2193.8 L255.4 2190.1 L258.4 2192.0 L257.3 2189.0 L259.9 2189.9 L258.4 2186.9 L261.5 2188.0 L260.6 2185.5 L263.1 2186.8 L262.5 2183.1 L263.7 2185.7 L265.4 2183.7 L263.4 2186.9 L266.4 2186.7 L264.4 2188.6 L267.6 2188.8 L265.3 2190.9 L268.0 2191.2 L265.5 2193.5 L269.2 2193.2 L267.0 2195.5 L269.9 2195.4 L268.1 2197.7 L271.4 2197.2 L269.3 2199.9 L272.2 2199.4 L270.5 2202.1 L273.9 2201.1 L271.8 2204.1 L275.6 2202.8 L273.2 2206.1 L276.6 2205.1 L274.8 2208.1 L277.5 2206.7 L277.4 2210.2 L277.7 2207.2 L280.1 2208.9 L277.7 2205.4 L281.0 2206.0 L279.2 2203.6 L282.2 2204.0 L280.5 2201.5 L283.5 2202.3 L282.3 2199.1 L283.9 2200.6 L285.0 2198.3 L283.8 2202.1 L287.0 2200.9 L284.7 2203.8 L288.2 2203.0 L286.5 2205.6 L289.6 2204.7 L287.7 2208.1 L290.8 2206.7 L290.1 2208.9 L292.8 2207.6 L291.4 2210.9 L294.0 2209.3 L293.1 2213.4 L294.9 2210.3 L295.7 2213.2 L296.7 2209.6 L297.7 2211.9 L299.1 2209.0 L299.5 2212.8 L300.9 2211.2 L301.2 2214.1 L303.3 2209.9 L303.4 2212.9 L305.7 2211.0 L304.4 2214.3 L307.4 2213.7 L304.9 2216.4 L308.0 2216.1 L306.3 2218.5 L309.4 2217.7 L307.7 2220.8 L310.6 2218.9 L310.3 2222.6 L311.5 2220.2 L313.1 2222.8 L312.9 2218.4 L314.5 2220.6 L315.4 2217.3 L315.5 2221.3 L318.2 2219.1 L316.4 2222.5 L319.8 2221.4 L317.6 2224.3 L321.2 2223.5 L318.9 2226.6 L322.0 2225.0 L321.0 2229.1 L323.1 2225.4 L323.3 2228.5 L325.1 2224.5 L325.2 2228.1 L327.3 2226.0 L326.5 2230.1 L328.4 2228.0 L329.1 2230.8 L329.3 2227.4 L331.6 2229.2 L330.4 2225.2 L333.1 2227.7 L333.6 2224.6 L334.5 2226.8 L336.5 2224.9 L335.4 2228.2 L338.6 2227.0 L336.7 2230.0 L339.3 2229.4 L338.3 2232.0 L341.0 2230.5 L340.4 2234.3 L342.2 2231.9 L343.2 2234.0 L344.0 2230.8 L345.6 2233.3 L346.4 2229.8 L347.5 2232.8 L349.2 2230.8 L349.2 2233.7 L351.5 2232.3 L350.7 2235.0 L353.8 2233.9 L351.9 2237.2 L354.4 2236.0 L354.0 2239.2 L355.3 2236.8 L357.0 2238.5 L355.9 2235.1 L359.0 2236.3 L357.3 2233.7 L360.8 2234.5 L358.4 2231.7 L361.5 2232.0 L359.1 2229.4 L363.0 2230.2 L360.7 2227.3 L363.6 2228.2 L362.0 2224.8 L365.3 2226.9 L364.7 2224.2 L367.1 2225.6 L366.2 2222.2 L369.4 2224.5 L368.3 2221.1 L371.0 2222.9 L370.7 2219.4 L372.2 2221.6 L373.4 2218.5 L374.1 2222.9 L375.1 2220.7 L376.4 2223.1 L376.2 2219.9 L378.5 2221.4 L377.3 2217.8 L379.7 2220.0 L379.8 2216.5 L381.2 2219.9 L382.2 2218.0 L383.3 2220.7 L384.1 2217.6 L386.2 2220.2 L385.9 2216.5 L388.0 2218.8 L388.4 2214.6 L389.4 2217.7 L391.2 2215.8 L390.6 2219.2 L392.8 2217.5 L392.5 2221.1 L393.4 2217.9 L394.8 2220.8 L395.1 2216.3 L396.3 2218.8 L397.8 2217.0 L397.4 2220.8 L399.3 2218.9 L399.8 2222.3 L400.1 2219.0 L402.8 2220.8 L400.5 2217.5 L404.0 2218.1 L401.7 2215.3 L404.8 2216.2 L403.2 2213.4 L406.7 2214.9 L405.4 2212.1 L408.4 2213.1 L406.5 2210.2 L409.6 2210.6 L407.2 2208.2 L410.2 2208.1 L407.7 2205.9 L411.2 2205.9 L409.0 2203.8 L411.8 2203.6 L409.9 2201.5 L413.1 2201.5 L410.5 2199.1 L413.8 2199.5 L412.1 2196.2 L413.2 2198.2 L415.0 2197.3 L412.8 2199.9 L416.4 2199.9 L413.1 2202.2 L416.8 2202.3 L414.5 2204.3 L417.3 2204.6 L414.6 2206.8 L417.9 2206.9 L415.8 2209.3 L418.6 2208.4 L418.0 2211.7 L418.7 2208.2 L421.1 2210.9 L419.8 2207.6 L422.7 2208.5 L421.2 2205.5 L423.5 2206.7 L423.2 2203.2 L425.0 2206.3 L425.4 2204.2 L427.3 2207.3 L426.6 2203.8 L429.2 2205.0 L427.5 2202.5 L430.7 2202.6 L428.2 2200.2 L431.6 2200.6 L429.0 2197.8 L432.5 2198.7 L431.0 2195.9 L434.0 2197.4 L433.1 2194.2 L435.5 2195.6 L435.1 2193.2 L438.1 2194.9 L436.5 2191.4 L439.1 2192.6 L438.0 2189.4 L440.5 2191.6 L440.4 2188.7 L441.8 2191.2 L443.6 2188.6 L443.4 2191.3 L445.5 2190.4 L444.0 2193.4 L446.4 2192.6 L445.8 2196.2 L447.3 2193.4 L449.0 2195.1 L447.2 2191.8 L450.7 2192.4 L448.0 2189.7 L451.3 2190.3 L449.6 2187.4 L452.1 2188.9 L452.3 2185.9 L452.8 2188.5 L455.2 2186.8 L453.1 2190.3 L456.8 2189.3 L454.3 2192.1 L457.7 2191.4 L456.0 2194.2 L458.4 2193.2 L458.1 2196.4 L459.5 2193.5 L461.1 2195.8 L460.2 2192.6 L463.0 2193.7 L461.1 2190.7 L464.8 2191.9 L462.6 2188.9 L465.7 2189.5 L463.8 2186.9 L467.5 2187.8 L465.2 2184.9 L468.3 2185.5 L466.5 2182.8 L469.4 2183.5 L468.1 2180.5 L471.0 2182.6 L470.4 2178.7 L472.7 2181.8 L472.6 2178.7 L474.9 2181.6 L474.3 2178.0 L477.2 2179.9 L475.9 2176.8 L478.1 2177.7 L477.7 2174.7 L479.7 2177.4 L480.3 2174.4 L481.6 2178.0 L482.7 2174.5 L483.8 2177.5 L485.0 2174.2 L485.9 2177.2 L488.0 2174.4 L487.7 2177.8 L490.3 2176.0 L489.3 2179.9 L491.3 2177.8 L491.9 2181.5 L492.7 2177.8 L493.9 2180.3 L494.6 2175.6 L495.0 2179.9 L497.3 2177.6 L496.4 2180.7 L499.5 2179.5 L497.7 2182.5 L501.0 2181.5 L499.2 2184.5 L501.8 2183.3 L500.9 2187.3 L502.8 2184.3 L503.7 2186.7 L504.7 2183.4 L505.9 2185.4 L507.5 2183.4 L507.2 2186.7 L510.4 2184.4 L508.3 2187.9 L511.4 2187.2 L509.4 2189.9 L512.8 2189.0 L510.9 2192.0 L514.0 2190.7 L512.8 2194.1 L515.2 2192.3 L515.4 2195.0 L517.5 2192.3 L517.8 2194.8 L519.9 2192.7 L519.3 2196.2 L522.0 2194.8 L520.7 2197.5 L523.7 2196.8 L521.7 2199.4 L524.9 2199.0 L522.7 2201.5 L525.7 2201.3 L523.7 2203.7 L526.8 2203.3 L524.8 2206.0 L528.4 2204.9 L527.0 2208.1 L529.0 2206.5 L529.7 2209.8 L530.1 2205.8 L531.5 2208.2 L531.8 2203.8 L532.5 2207.3 L534.9 2205.3 L532.9 2209.2 L536.2 2207.6 L534.7 2211.2 L537.0 2209.1 L537.4 2212.1 L538.7 2208.6 L540.3 2211.8 L540.8 2208.3 L542.4 2210.9 L543.5 2207.2 L544.3 2210.2 L545.9 2208.7 L545.4 2212.0 L548.5 2209.9 L547.0 2213.3 L550.2 2211.6 L548.6 2214.9 L551.7 2213.7 L550.1 2216.5 L553.1 2215.9 L551.8 2218.0 L554.6 2218.0 L552.1 2220.3 L555.3 2220.5 L553.2 2222.4 L556.3 2222.7 L553.5 2224.9 L556.5 2224.9 L554.7 2227.5 L556.9 2226.3 L557.5 2229.1 L557.1 2225.8 L559.5 2227.2 L557.8 2223.1 L560.3 2225.5 L560.3 2222.2 L562.3 2226.0 L562.5 2223.1 L564.4 2225.2 L563.6 2221.6 L566.1 2223.6 L565.5 2219.4 L567.0 2222.5 L568.8 2220.3 L568.3 2223.6 L570.8 2222.3 L569.2 2226.0 L572.2 2224.4 L571.6 2227.0 L574.2 2225.5 L573.6 2228.4 L576.1 2227.0 L575.3 2230.0 L578.5 2228.0 L577.2 2231.2 L580.2 2230.1 L578.5 2232.9 L581.4 2232.4 L580.0 2234.6 L583.1 2234.3 L580.8 2237.0 L583.6 2236.2 L582.4 2240.0 L584.7 2236.7 L584.8 2239.5 L586.6 2236.3 L586.8 2239.2 L589.1 2237.2 L587.5 2241.0 L590.7 2239.7 L589.0 2242.6 L592.3 2241.6 L590.6 2244.3 L593.5 2243.7 L591.7 2246.6 L595.3 2245.1 L594.0 2248.2 L596.5 2246.5 L596.3 2249.9 L598.0 2247.0 L599.0 2249.7 L599.8 2247.2 L601.6 2249.7 L602.3 2246.1 L603.2 2249.0 L604.9 2245.7 L605.0 2250.0 L606.3 2247.9 L607.5 2251.1 L607.0 2246.9 L609.7 2248.6 L608.3 2245.8 L610.9 2246.3 L609.4 2243.5 L612.5 2244.9 L611.6 2241.9 L613.7 2243.5 L614.1 2240.6 L615.7 2243.7 L617.0 2240.4 L617.7 2243.7 L619.3 2240.9 L620.2 2245.0 L621.1 2241.6 L622.4 2244.0 L623.3 2240.7 L624.5 2243.8 L625.9 2240.6 L626.3 2244.0 L628.6 2241.7 L628.5 2244.9 L630.4 2242.5 L630.8 2246.5 L631.9 2243.1 L633.9 2245.8 L633.6 2242.9 L636.3 2244.1 L634.7 2241.1 L637.4 2241.8 L635.9 2238.6 L638.4 2239.9 L638.4 2237.4 L640.3 2240.1 L641.3 2236.9 L642.4 2239.9 L643.8 2237.4 L644.3 2240.5 L646.3 2237.0 L646.2 2241.5 L647.9 2239.2 L648.3 2242.0 L650.6 2238.8 L650.8 2242.0 L653.0 2239.2 L652.6 2243.1 L654.9 2241.3 L654.7 2244.4 L656.8 2241.7 L657.5 2245.3 L658.5 2242.0 L660.0 2244.9 L660.5 2241.0 L662.2 2243.7 L663.0 2240.4 L664.2 2244.1 L665.9 2241.1 L665.8 2244.7 L668.5 2242.1 L667.4 2245.3 L670.2 2244.2 L668.4 2247.1 L671.2 2246.2 L670.4 2249.4 L672.1 2246.7 L673.4 2249.8 L673.3 2245.5 L675.3 2247.7 L675.2 2244.6 L677.7 2247.2 L677.4 2244.7 L680.0 2246.4 L678.5 2243.5 L681.4 2243.7 L678.8 2241.2 L682.2 2241.8 L680.2 2238.2 L682.3 2240.1 L683.2 2237.8 L683.4 2241.0 L685.2 2239.5 L685.0 2243.1 L686.9 2240.1 L687.5 2242.5 L689.0 2239.2 L690.0 2242.6 L691.0 2240.1 L692.4 2243.9 L693.0 2240.1 L694.4 2242.8 L695.1 2238.9 L695.6 2241.6 L697.6 2240.2 L696.7 2243.2 L698.8 2242.2 L698.3 2245.9 L699.5 2242.8 L700.8 2244.8 L700.8 2241.0 L702.2 2242.9 L703.5 2240.2 L702.8 2244.0 L705.3 2243.1 L703.9 2245.7 L706.9 2244.9 L705.0 2248.1 L708.5 2246.5 L707.5 2249.5 L709.4 2248.0 L710.0 2251.5 L710.0 2248.0 L712.7 2249.6 L711.1 2246.6 L714.0 2247.1 L711.7 2244.3 L715.6 2245.1 L713.3 2242.5 L716.0 2243.0 L714.6 2239.4 L716.0 2241.4 L717.4 2240.1 L716.1 2243.6 L719.2 2242.5 L717.7 2245.0 L720.7 2244.4 L719.0 2247.0 L721.9 2246.5 L720.6 2248.8 L723.9 2248.1 L721.3 2251.2 L724.7 2250.0 L723.5 2253.4 L724.4 2251.7 L726.2 2253.1 L724.4 2250.2 L727.4 2250.2 L724.5 2247.9 L728.1 2247.8 L725.7 2245.9 L729.3 2245.6 L726.1 2243.5 L729.1 2243.1 L726.9 2241.2 L730.2 2240.9 L727.8 2239.0 L730.6 2238.6 L728.0 2236.2 L731.4 2237.1 L730.2 2233.2 L730.1 2237.0 L732.7 2235.6 L730.6 2238.2 L734.1 2238.0 L731.5 2240.4 L735.0 2240.2 L732.7 2242.5 L735.6 2242.5 L733.7 2244.7 L736.8 2244.6 L734.8 2247.1 L737.3 2246.6 L736.2 2249.6 L738.5 2247.3 L739.2 2250.3 L740.1 2247.3 L741.6 2250.1 L742.4 2245.8 L743.1 2249.3 L744.8 2246.9 L744.7 2250.3 L746.5 2248.7 L747.0 2251.9 L748.0 2248.4 L750.0 2250.6 L749.7 2247.8 L752.0 2248.8 L751.2 2245.9 L753.7 2247.3 L752.7 2243.7 L755.7 2246.4 L755.4 2243.2 L757.6 2245.4 L757.9 2242.4 L759.5 2245.0 L760.4 2241.4 L761.5 2244.9 L763.0 2241.9 L763.7 2245.9 L764.9 2242.9 L766.8 2245.3 L766.0 2242.2 L768.5 2242.9 L766.3 2240.3 L769.7 2240.6 L767.3 2238.1 L770.8 2238.6 L769.1 2236.0 L771.5 2236.8 L770.9 2234.0 L773.0 2236.0 L773.7 2233.4 L775.3 2236.4 L776.0 2233.9 L777.7 2236.2 L777.8 2232.9 L780.2 2234.9 L779.6 2231.9 L782.3 2233.6 L781.6 2230.2 L783.8 2232.3 L783.9 2228.6 L785.3 2231.6 L787.0 2229.1 L786.9 2232.0 L789.5 2230.4 L788.2 2233.8 L790.7 2232.5 L790.0 2236.4 L791.7 2233.5 L792.9 2235.6 L793.2 2232.4 L795.3 2234.4 L795.7 2231.6 L797.0 2233.3 L798.1 2230.6 L799.3 2234.4 L799.9 2231.6 L802.1 2235.0 L801.1 2231.1 L804.0 2232.1 L801.5 2229.3 L804.8 2229.5 L802.3 2227.1 L805.7 2227.4 L802.9 2224.6 L807.0 2225.6 L805.1 2223.0 L808.4 2223.7 L806.5 2221.2 L809.4 2221.2 L807.0 2219.1 L809.8 2218.7 L807.6 2216.8 L810.6 2216.4 L808.1 2214.5 L811.2 2214.1 L809.0 2212.2 L811.9 2211.8 L809.4 2209.7 L812.3 2209.6 L810.2 2207.1 L813.2 2208.0 L812.5 2205.0 L814.2 2207.7 L814.5 2205.5 L816.0 2208.1 L816.8 2205.0 L818.9 2207.8 L818.4 2204.4 L821.6 2206.4 L820.1 2203.6 L822.6 2203.8 L820.4 2201.4 L823.3 2201.3 L821.4 2199.2 L824.3 2199.2 L822.4 2197.0 L825.8 2197.1 L823.3 2194.9 L826.4 2194.8 L824.2 2192.7 L826.9 2192.4 L825.0 2190.4 L828.6 2190.5 L825.8 2188.0 L829.0 2188.1 L826.7 2185.7 L829.9 2186.0 L828.1 2183.6 L831.4 2184.1 L828.9 2181.3 L832.4 2182.0 L830.4 2179.4 L834.2 2180.2 L831.5 2177.4 L835.1 2177.8 L832.5 2175.4 L835.8 2175.4 L833.5 2173.3 L836.5 2173.0 L833.7 2171.0 L837.6 2170.7 L834.7 2168.8 L838.2 2168.4 L835.5 2166.5 L838.1 2165.9 L835.6 2164.1 L838.8 2163.6 L836.3 2161.8 L839.9 2161.4 L837.0 2159.5 L839.8 2158.9 L837.6 2157.1 L840.9 2156.8 L838.3 2154.8 L840.9 2154.3 L838.7 2152.3 L841.9 2152.2 L839.8 2150.1 L842.9 2150.2 L840.6 2147.6 L844.0 2148.2 L842.0 2145.5 L845.4 2146.4 L843.3 2143.4 L847.0 2144.7 L845.0 2141.8 L848.2 2142.3 L845.9 2139.9 L849.3 2140.0 L846.5 2137.9 L850.0 2137.4 L846.8 2135.7 L850.7 2135.1 L847.1 2133.3 L850.3 2132.6 L847.6 2131.0 L850.9 2130.2 L847.9 2128.6 L851.1 2127.8 L848.5 2126.3 L851.8 2125.5 L848.6 2123.9 L851.6 2123.1 L849.2 2121.5 L852.0 2120.7 L849.6 2119.1 L852.5 2118.3 L849.9 2116.8 L852.4 2115.9 L850.3 2114.4 L852.8 2113.5 L850.1 2111.9 L853.1 2111.2 L850.6 2109.6 L854.1 2108.9 L851.0 2107.2 L853.9 2106.4 L851.0 2104.7 L854.9 2104.2 L852.2 2102.5 L854.9 2101.8 L852.3 2100.0 L855.8 2099.5 L852.8 2097.7 L856.2 2097.2 L853.4 2095.4 L856.7 2094.8 L853.8 2093.0 L856.8 2092.4 L854.0 2090.5 L857.8 2090.2 L854.6 2088.2 L858.2 2087.9 L855.6 2085.9 L859.0 2085.6 L856.0 2083.6 L859.7 2083.2 L856.3 2081.3 L859.5 2080.7 L857.1 2079.0 L860.4 2078.4 L857.6 2076.7 L860.3 2075.9 L858.2 2074.4 L861.0 2073.6 L857.7 2071.9 L861.7 2071.3 L858.7 2069.6 L861.8 2068.8 L858.8 2067.2 L862.1 2066.5 L859.2 2064.8 L862.7 2064.1 L859.0 2062.3 L862.2 2061.7 L859.6 2059.8 L862.9 2059.6 L861.2 2057.7 L864.0 2057.6 L861.7 2055.2 L865.6 2055.8 L863.3 2053.2 L866.1 2053.5 L864.5 2051.0 L867.6 2051.7 L866.0 2049.3 L869.1 2049.9 L867.2 2047.4 L870.5 2047.5 L867.4 2045.2 L870.8 2045.0 L868.4 2043.1 L871.7 2042.7 L868.6 2040.7 L872.5 2040.4 L869.5 2038.3 L872.6 2038.5 L870.9 2034.9 L870.6 2038.4 L873.3 2037.6 L871.4 2039.6 L874.0 2040.2 L871.2 2042.1 L874.6 2042.5 L872.1 2044.3 L875.1 2044.9 L872.8 2046.6 L875.5 2047.2 L873.1 2049.0 L876.1 2049.5 L873.6 2051.4 L876.8 2051.8 L874.6 2053.7 L877.6 2054.0 L875.2 2056.2 L878.0 2056.0 L876.4 2058.6 L879.1 2057.6 L877.9 2060.1 L881.0 2058.7 L879.9 2061.4 L882.5 2060.9 L880.8 2063.5 L884.5 2062.6 L882.3 2065.3 L885.6 2064.8 L883.2 2067.4 L886.4 2067.3 L883.7 2069.7 L887.1 2069.6 L885.1 2071.7 L888.1 2071.8 L885.5 2074.1 L889.0 2074.0 L886.7 2076.2 L890.2 2076.1 L887.0 2078.7 L891.1 2078.3 L888.3 2080.8 L891.9 2080.6 L889.0 2083.1 L892.3 2083.0 L890.6 2085.1 L893.2 2085.2 L891.5 2087.4 L894.1 2087.3 L892.6 2089.6 L896.0 2088.9 L894.0 2091.5 L897.2 2091.1 L895.4 2093.4 L898.0 2093.5 L895.3 2095.8 L898.6 2095.9 L896.4 2097.9 L900.0 2098.0 L897.0 2100.3 L900.7 2100.3 L898.1 2102.5 L901.6 2102.4 L898.7 2104.9 L902.5 2104.6 L899.5 2107.1 L903.0 2107.1 L900.3 2109.2 L903.8 2109.5 L900.9 2111.3 L904.1 2111.9 L901.1 2113.7 L904.3 2114.3 L901.8 2116.0 L904.9 2116.7 L902.4 2118.3 L905.5 2119.0 L902.6 2120.7 L906.3 2121.3 L903.3 2123.1 L906.6 2123.7 L903.7 2125.4 L906.7 2126.1 L903.6 2127.9 L907.1 2128.5 L904.8 2130.1 L907.5 2130.8 L904.6 2132.6 L907.8 2133.2 L905.0 2135.0 L908.5 2135.5 L905.5 2137.3 L908.7 2137.9 L906.5 2139.6 L909.2 2140.2 L906.8 2142.0 L909.9 2142.5 L907.6 2144.3 L910.5 2144.9 L907.8 2146.7 L910.8 2147.3 L908.2 2149.0 L911.8 2149.3 L909.2 2151.8 L911.0 2150.4 L911.6 2152.8 L910.3 2149.4 L913.3 2150.1 L911.1 2147.6 L914.7 2148.1 L912.1 2145.5 L915.5 2145.8 L913.5 2143.5 L916.9 2143.7 L914.6 2141.4 L917.5 2141.3 L915.1 2139.1 L919.0 2139.3 L916.3 2136.9 L919.2 2136.9 L917.3 2134.7 L920.9 2135.2 L918.6 2132.5 L921.7 2133.1 L919.8 2130.4 L923.2 2131.2 L921.4 2128.6 L924.6 2129.1 L922.0 2126.4 L925.8 2126.8 L922.9 2124.4 L926.3 2124.3 L923.7 2122.2 L926.7 2121.9 L924.3 2119.7 L927.9 2120.0 L925.6 2117.5 L929.0 2118.1 L927.2 2115.3 L930.1 2116.4 L929.1 2113.5 L931.8 2115.0 L931.3 2111.7 L933.1 2114.3 L934.3 2111.1 L933.8 2114.6 L936.4 2113.1 L934.7 2116.0 L938.1 2115.2 L935.7 2118.2 L939.0 2117.5 L937.3 2119.9 L940.9 2119.2 L938.3 2122.1 L941.6 2121.6 L939.4 2124.1 L943.2 2123.6 L940.6 2126.1 L944.2 2125.8 L941.9 2128.2 L945.3 2128.0 L942.6 2130.6 L945.6 2130.2 L943.6 2133.3 L946.9 2131.4 L946.1 2135.2 L948.5 2131.9 L949.1 2135.5 L950.6 2132.2 L951.3 2135.7 L953.3 2132.5 L953.0 2135.5 L955.8 2133.5 L954.3 2136.7 L957.4 2135.9 L955.3 2138.8 L958.4 2138.0 L956.5 2141.1 L959.6 2139.7 L959.1 2142.8 L960.6 2140.6 L961.8 2143.1 L960.9 2139.8 L964.0 2141.0 L961.9 2138.1 L964.9 2138.6 L962.9 2135.8 L966.7 2136.9 L964.4 2133.8 L967.6 2135.1 L966.3 2131.3 L968.3 2133.9 L969.3 2131.3 L968.7 2134.5 L971.4 2133.6 L969.9 2135.9 L972.7 2135.9 L970.1 2138.3 L974.0 2138.1 L971.5 2140.3 L974.2 2140.6 L972.1 2142.7 L975.3 2142.2 L973.2 2145.5 L976.2 2143.5 L975.5 2145.7 L978.7 2143.5 L977.2 2146.8 L979.9 2146.1 L977.1 2148.8 L980.9 2148.7 L978.4 2150.8 L981.6 2151.0 L979.0 2153.2 L981.8 2153.4 L980.0 2155.6 L983.0 2155.0 L981.6 2158.2 L983.9 2156.5 L984.1 2159.4 L986.1 2155.9 L986.6 2158.6 L988.5 2156.5 L988.3 2160.0 L990.1 2157.9 L990.5 2161.5 L990.5 2158.6 L993.3 2159.8 L990.5 2156.9 L993.7 2156.8 L991.4 2154.8 L994.9 2154.6 L991.7 2152.4 L995.4 2152.2 L992.6 2150.2 L995.6 2149.9 L993.3 2147.7 L996.3 2147.7 L994.2 2145.4 L997.6 2145.8 L995.6 2142.8 L998.3 2144.2 L997.7 2140.8 L999.8 2144.1 L1000.0 2141.1 L1002.0 2144.4 L1001.8 2140.8 L1003.9 2142.7 L1003.7 2139.0 L1004.9 2141.2 L1006.5 2139.0 L1006.0 2142.9 L1007.8 2140.9 L1008.3 2145.0 L1007.3 2141.2 L1010.5 2141.9 L1007.7 2139.6 L1011.1 2139.3 L1008.0 2137.2 L1011.4 2136.8 L1009.1 2135.0 L1011.9 2134.5 L1009.5 2132.6 L1012.5 2132.2 L1009.4 2130.1 L1013.0 2129.8 L1010.3 2127.8 L1013.9 2127.6 L1011.4 2125.6 L1014.4 2125.3 L1012.2 2123.4 L1015.5 2123.1 L1012.8 2121.0 L1015.8 2120.7 L1013.4 2118.7 L1016.9 2118.6 L1013.8 2116.3 L1017.5 2116.3 L1014.8 2114.1 L1017.8 2113.9 L1015.3 2111.7 L1018.6 2111.6 L1016.6 2109.5 L1019.6 2109.5 L1017.3 2107.1 L1020.9 2107.7 L1018.9 2105.1 L1022.4 2105.8 L1019.7 2102.8 L1022.8 2103.5 L1021.6 2100.1 L1022.6 2102.6 L1024.3 2101.1 L1022.5 2104.1 L1025.6 2103.8 L1023.3 2106.1 L1026.8 2105.9 L1023.9 2108.4 L1028.0 2108.1 L1024.7 2110.7 L1028.2 2110.3 L1026.3 2113.7 L1026.8 2111.1 L1029.4 2112.0 L1026.1 2109.7 L1029.4 2109.1 L1026.9 2107.5 L1030.1 2106.8 L1027.1 2105.1 L1030.3 2104.4 L1027.2 2102.7 L1030.6 2102.0 L1028.1 2100.4 L1030.9 2099.7 L1028.5 2098.1 L1031.8 2097.4 L1029.1 2095.7 L1031.7 2094.9 L1029.0 2093.3 L1032.5 2092.6 L1029.3 2090.9 L1032.5 2090.2 L1029.6 2088.5 L1033.3 2087.9 L1030.0 2086.1 L1033.1 2085.4 L1030.6 2083.7 L1033.4 2083.1 L1030.7 2081.1 L1034.8 2081.3 L1031.8 2078.8 L1035.1 2078.9 L1033.3 2076.7 L1036.5 2077.0 L1034.2 2074.5 L1037.2 2074.7 L1035.1 2072.3 L1038.5 2072.6 L1036.3 2070.2 L1039.4 2070.3 L1037.3 2068.1 L1040.3 2068.1 L1038.5 2066.1 L1041.5 2065.9 L1039.1 2063.8 L1042.5 2063.7 L1040.0 2061.5 L1043.0 2061.3 L1040.9 2059.3 L1043.6 2059.0 L1041.3 2056.9 L1044.6 2056.7 L1042.0 2054.7 L1045.6 2054.5 L1043.0 2052.5 L1046.3 2052.2 L1043.7 2050.1 L1047.1 2050.1 L1044.2 2047.7 L1047.4 2047.8 L1045.3 2045.1 L1048.7 2046.2 L1046.7 2043.1 L1050.3 2044.8 L1049.0 2042.1 L1051.5 2042.6 L1049.9 2039.4 L1052.4 2041.4 L1052.8 2037.8 L1052.3 2041.5 L1054.9 2040.6 L1053.3 2043.1 L1056.0 2043.0 L1054.3 2045.2 L1057.8 2044.9 L1054.9 2047.4 L1058.6 2047.3 L1056.2 2049.5 L1059.1 2049.7 L1057.0 2051.7 L1059.7 2052.0 L1057.8 2054.2 L1060.8 2053.6 L1058.8 2056.8 L1061.5 2054.9 L1061.7 2058.5 L1062.5 2055.2 L1064.6 2058.0 L1064.0 2053.8 L1065.9 2055.9 L1066.7 2052.0 L1066.5 2055.7 L1068.8 2054.6 L1066.7 2057.5 L1070.0 2057.1 L1068.0 2059.4 L1071.1 2059.3 L1068.9 2061.6 L1072.1 2061.5 L1069.9 2063.8 L1073.2 2063.6 L1071.3 2065.8 L1074.5 2065.7 L1072.2 2067.9 L1075.2 2068.1 L1072.6 2070.3 L1075.9 2070.5 L1073.5 2072.4 L1076.2 2073.0 L1073.9 2074.7 L1076.9 2075.3 L1074.3 2077.1 L1077.4 2077.6 L1074.7 2079.5 L1078.2 2079.8 L1076.0 2081.7 L1078.8 2082.1 L1075.9 2084.3 L1079.1 2084.5 L1076.9 2086.5 L1080.7 2086.6 L1077.8 2088.7 L1081.1 2089.0 L1078.4 2091.0 L1081.4 2091.4 L1078.8 2093.3 L1082.3 2093.7 L1079.7 2095.6 L1082.8 2095.9 L1080.1 2098.0 L1083.7 2098.1 L1081.4 2100.2 L1084.1 2100.4 L1082.3 2102.5 L1085.2 2102.5 L1082.8 2104.9 L1086.3 2104.7 L1083.7 2107.2 L1087.2 2106.7 L1085.3 2109.3 L1088.4 2108.5 L1087.0 2111.1 L1090.4 2109.9 L1088.3 2113.0 L1091.5 2112.2 L1089.6 2114.7 L1093.0 2114.4 L1090.2 2117.1 L1093.4 2116.2 L1092.3 2119.5 L1093.2 2116.7 L1094.8 2118.6 L1093.8 2115.6 L1097.1 2116.7 L1094.9 2113.9 L1098.5 2114.5 L1096.4 2112.2 L1099.6 2112.1 L1096.5 2109.8 L1100.1 2109.7 L1097.9 2107.7 L1100.9 2107.7 L1098.6 2104.8 L1101.0 2106.3 L1101.6 2102.5 L1100.7 2106.9 L1103.2 2105.7 L1101.5 2108.7 L1104.3 2107.5 L1103.5 2110.8 L1105.8 2108.1 L1106.8 2111.1 L1107.4 2107.8 L1109.4 2109.7 L1109.0 2107.0 L1111.9 2108.5 L1110.6 2105.4 L1113.1 2106.1 L1111.6 2103.3 L1115.1 2104.6 L1113.3 2101.6 L1116.2 2102.3 L1115.0 2099.9 L1117.7 2100.5 L1116.1 2097.2 L1118.8 2099.3 L1118.2 2095.3 L1120.2 2099.1 L1120.6 2096.9 L1122.0 2099.2 L1122.8 2095.1 L1124.1 2097.5 L1124.6 2094.9 L1126.1 2099.0 L1126.8 2096.1 L1128.3 2098.2 L1128.4 2095.0 L1131.1 2097.2 L1130.0 2093.6 L1133.0 2095.4 L1131.5 2092.1 L1134.5 2093.5 L1133.5 2090.0 L1135.7 2092.0 L1135.8 2088.9 L1137.5 2092.5 L1138.4 2089.6 L1139.3 2092.1 L1140.8 2088.9 L1141.3 2091.9 L1142.9 2090.1 L1142.7 2093.7 L1145.3 2091.5 L1144.7 2093.8 L1147.5 2092.0 L1145.6 2095.4 L1148.9 2094.6 L1146.6 2097.0 L1149.9 2097.0 L1146.9 2099.3 L1150.5 2099.4 L1147.8 2101.5 L1151.1 2101.7 L1148.9 2103.7 L1152.2 2103.9 L1149.3 2106.1 L1152.5 2106.3 L1150.6 2108.2 L1153.8 2108.3 L1151.2 2110.7 L1154.5 2110.4 L1152.3 2113.1 L1155.5 2112.2 L1153.8 2115.2 L1157.3 2113.5 L1155.5 2117.0 L1158.6 2115.3 L1158.0 2118.8 L1159.1 2117.0 L1160.7 2119.1 L1159.1 2115.9 L1161.8 2115.8 L1159.1 2113.7 L1162.3 2113.4 L1159.9 2111.5 L1163.4 2111.2 L1160.6 2109.2 L1163.8 2108.8 L1161.5 2107.0 L1164.9 2106.6 L1161.6 2104.5 L1165.4 2104.2 L1162.7 2102.3 L1165.9 2102.0 L1163.2 2099.9 L1166.1 2099.6 L1163.9 2097.4 L1167.3 2097.7 L1165.4 2095.4 L1168.6 2095.7 L1166.2 2093.1 L1169.9 2093.6 L1166.9 2090.9 L1170.6 2091.2 L1168.1 2088.9 L1171.7 2088.9 L1168.6 2086.6 L1171.9 2086.5 L1169.2 2084.3 L1173.1 2084.3 L1170.5 2082.2 L1173.4 2081.9 L1171.5 2080.0 L1174.5 2079.8 L1172.3 2077.6 L1175.2 2077.5 L1173.1 2075.4 L1175.9 2075.2 L1173.8 2073.2 L1176.9 2072.9 L1174.6 2070.9 L1177.6 2070.6 L1175.1 2068.6 L1178.8 2068.4 L1176.1 2066.4 L1179.4 2066.0 L1176.0 2064.0 L1179.7 2063.6 L1176.8 2061.7 L1180.4 2061.4 L1177.5 2059.3 L1181.0 2059.1 L1177.9 2056.9 L1181.9 2056.9 L1179.2 2054.8 L1182.0 2054.4 L1179.4 2052.4 L1182.9 2052.1 L1180.1 2050.1 L1183.4 2049.7 L1181.0 2047.9 L1184.1 2047.4 L1181.2 2045.6 L1185.1 2045.1 L1181.9 2043.3 L1185.2 2042.7 L1182.5 2041.0 L1185.4 2040.3 L1182.4 2038.5 L1185.7 2037.9 L1182.9 2036.1 L1186.7 2035.7 L1184.1 2033.9 L1187.4 2033.5 L1184.7 2031.5 L1187.7 2031.1 L1185.4 2029.2 L1188.8 2028.9 L1185.9 2026.8 L1189.4 2026.6 L1186.8 2024.6 L1189.9 2024.2 L1187.3 2022.4 L1189.7 2021.6 L1187.2 2020.0 L1191.0 2019.3 L1187.5 2017.6 L1191.2 2016.9 L1187.8 2015.2 L1191.3 2014.5 L1188.7 2012.9 L1191.6 2012.2 L1189.0 2010.5 L1192.0 2009.8 L1189.2 2008.2 L1192.3 2007.4 L1189.7 2005.8 L1192.8 2005.1 L1189.8 2003.4 L1193.0 2002.7 L1190.5 2001.0 L1193.3 2000.4 L1190.5 1998.5 L1194.4 1998.3 L1191.4 1996.1 L1194.5 1996.0 L1192.5 1993.9 L1195.5 1993.8 L1193.0 1991.5 L1196.9 1991.8 L1193.7 1989.2 L1197.8 1989.6 L1194.8 1986.9 L1198.8 1987.4 L1195.8 1984.8 L1199.1 1984.9 L1197.0 1982.8 L1200.3 1982.7 L1197.5 1980.5 L1201.1 1980.4 L1198.3 1978.3 L1202.1 1978.3 L1199.6 1976.1 L1202.6 1975.9 L1199.6 1973.6 L1203.0 1973.5 L1201.1 1971.6 L1204.4 1971.5 L1201.2 1968.9 L1204.5 1969.1 L1203.1 1967.1 L1206.3 1967.4 L1203.8 1964.6 L1207.2 1965.3 L1205.1 1962.6 L1208.7 1963.4 L1206.2 1960.5 L1209.4 1960.9 L1208.0 1958.8 L1211.2 1959.2 L1208.4 1956.3 L1212.3 1957.0 L1210.0 1954.4 L1213.1 1954.7 L1211.1 1952.4 L1213.9 1952.4 L1211.7 1950.0 L1215.1 1950.2 L1212.9 1947.9 L1216.1 1948.5 L1214.5 1945.3 L1216.5 1947.3 L1216.9 1944.5 L1218.1 1948.1 L1218.5 1945.6 L1220.4 1948.0 L1219.5 1945.0 L1222.0 1945.5 L1220.2 1942.8 L1223.0 1944.1 L1222.3 1940.2 L1223.4 1943.6 L1224.4 1941.4 L1225.1 1945.2 L1225.7 1942.4 L1227.7 1944.0 L1225.9 1940.8 L1229.1 1941.4 L1227.4 1939.0 L1230.1 1939.6 L1228.8 1936.7 L1231.5 1938.8 L1232.0 1935.0 L1231.9 1938.1 L1234.3 1936.7 L1232.3 1939.4 L1235.5 1939.6 L1232.8 1941.6 L1235.6 1942.0 L1233.3 1943.9 L1236.9 1944.1 L1234.0 1946.3 L1237.0 1946.5 L1234.2 1948.8 L1238.3 1948.4 L1235.7 1951.0 L1238.6 1950.6 L1237.0 1953.5 L1240.3 1952.0 L1239.2 1954.6 L1242.2 1953.1 L1240.8 1956.3 L1243.7 1955.3 L1242.1 1958.1 L1245.5 1957.2 L1243.3 1960.0 L1246.8 1959.4 L1244.8 1961.7 L1247.8 1961.7 L1245.3 1964.0 L1248.1 1964.3 L1245.4 1966.3 L1248.8 1966.6 L1246.7 1968.5 L1250.0 1968.8 L1246.6 1970.9 L1250.7 1971.1 L1247.8 1973.1 L1251.3 1973.4 L1248.6 1975.4 L1251.8 1975.8 L1248.5 1977.9 L1252.0 1978.2 L1249.9 1980.0 L1253.0 1980.4 L1249.9 1982.5 L1253.7 1982.7 L1250.5 1984.9 L1254.1 1985.0 L1251.7 1987.1 L1254.5 1987.2 L1252.6 1989.6 L1256.2 1988.7 L1254.5 1991.3 L1257.2 1990.8 L1255.8 1993.3 L1258.5 1993.0 L1256.9 1995.3 L1259.7 1995.0 L1258.2 1997.4 L1261.0 1996.8 L1259.5 1999.5 L1262.8 1998.3 L1261.0 2001.3 L1264.5 2000.3 L1261.9 2003.1 L1265.1 2002.8 L1263.3 2004.9 L1266.0 2005.2 L1264.0 2007.2 L1267.3 2007.2 L1264.4 2009.9 L1267.7 2009.0 L1266.5 2012.1 L1268.8 2010.4 L1268.5 2012.6 L1270.9 2009.5 L1270.2 2013.2 L1273.2 2011.1 L1271.4 2014.4 L1274.7 2013.5 L1272.5 2016.5 L1275.9 2015.6 L1274.3 2018.2 L1277.5 2017.3 L1275.2 2020.8 L1278.0 2019.4 L1278.1 2022.7 L1279.0 2020.1 L1280.6 2021.3 L1279.2 2018.5 L1281.9 2018.6 L1279.7 2016.3 L1283.0 2016.6 L1281.4 2014.5 L1284.2 2014.5 L1281.9 2012.1 L1285.4 2012.3 L1282.9 2010.0 L1286.3 2010.0 L1284.0 2007.9 L1286.7 2007.6 L1284.7 2005.6 L1287.5 2005.3 L1285.5 2003.4 L1288.8 2003.2 L1286.2 2001.1 L1289.4 2000.9 L1286.8 1998.8 L1290.1 1998.6 L1287.8 1996.6 L1291.3 1996.5 L1288.3 1994.2 L1291.6 1994.1 L1289.2 1991.9 L1292.5 1991.9 L1290.3 1989.7 L1293.8 1989.9 L1291.4 1987.5 L1294.8 1987.8 L1292.1 1984.7 L1295.0 1986.3 L1294.3 1982.8 L1295.3 1986.2 L1297.4 1983.6 L1296.8 1987.1 L1299.2 1985.7 L1298.6 1988.9 L1301.2 1987.0 L1300.7 1990.0 L1303.3 1988.3 L1302.3 1991.4 L1305.5 1989.7 L1304.3 1992.5 L1307.2 1991.5 L1305.5 1994.6 L1308.4 1993.5 L1307.4 1996.7 L1309.6 1994.1 L1310.7 1998.1 L1309.6 1994.5 L1311.9 1994.9 L1309.8 1992.9 L1312.9 1992.4 L1310.3 1990.6 L1313.8 1990.1 L1310.9 1988.3 L1313.8 1987.7 L1311.4 1985.9 L1314.7 1985.4 L1311.8 1983.5 L1315.7 1983.3 L1312.8 1981.2 L1315.8 1980.9 L1313.7 1978.9 L1317.0 1979.1 L1314.8 1976.6 L1318.2 1977.1 L1315.5 1974.3 L1318.9 1974.7 L1316.4 1972.2 L1320.0 1972.4 L1317.5 1970.2 L1320.8 1970.1 L1317.8 1967.8 L1321.5 1967.8 L1319.0 1965.7 L1322.1 1965.4 L1319.4 1963.3 L1323.0 1963.1 L1320.4 1961.2 L1323.3 1960.7 L1321.1 1958.9 L1324.4 1958.5 L1321.2 1956.4 L1325.1 1956.2 L1321.6 1954.2 L1325.5 1953.7 L1322.2 1951.9 L1325.8 1951.3 L1322.5 1949.6 L1326.2 1948.8 L1323.3 1947.3 L1326.5 1946.5 L1323.5 1944.9 L1326.3 1944.0 L1323.2 1942.4 L1326.4 1941.6 L1323.9 1940.1 L1327.0 1939.3 L1323.9 1937.7 L1327.5 1936.9 L1324.1 1935.3 L1328.1 1934.6 L1324.7 1932.9 L1327.6 1932.1 L1324.9 1930.6 L1328.0 1929.7 L1325.0 1928.1 L1329.0 1927.4 L1325.9 1925.8 L1328.6 1925.0 L1325.8 1923.3 L1329.5 1922.8 L1326.1 1920.9 L1329.9 1920.5 L1327.4 1918.7 L1330.5 1918.1 L1327.9 1916.4 L1331.1 1915.8 L1327.8 1913.9 L1331.6 1913.4 L1328.2 1911.5 L1331.9 1911.1 L1328.6 1909.1 L1332.4 1908.9 L1329.7 1906.4 L1331.3 1907.5 L1332.7 1906.4 L1330.7 1908.7 L1333.2 1909.3 L1330.4 1911.0 L1333.7 1911.6 L1331.0 1913.4 L1334.7 1913.9 L1331.4 1915.7 L1334.9 1916.3 L1332.2 1918.0 L1335.1 1918.7 L1332.8 1920.4 L1335.9 1921.0 L1332.8 1922.8 L1336.7 1923.2 L1333.6 1925.1 L1337.1 1925.6 L1333.6 1927.6 L1337.1 1927.9 L1334.2 1930.3 L1338.0 1929.8 L1335.5 1932.5 L1339.4 1931.5 L1337.5 1934.3 L1340.4 1933.7 L1338.7 1936.4 L1341.7 1935.4 L1340.5 1938.2 L1343.7 1936.8 L1342.2 1939.3 L1345.2 1938.4 L1342.9 1941.2 L1346.0 1941.2 L1343.8 1943.1 L1346.9 1943.5 L1344.3 1945.3 L1347.2 1946.0 L1344.9 1947.6 L1347.4 1948.4 L1345.1 1950.0 L1348.3 1950.7 L1345.0 1952.5 L1348.8 1953.0 L1345.9 1954.8 L1349.0 1955.4 L1346.6 1957.1 L1349.5 1957.5 L1346.8 1960.5 L1348.4 1958.8 L1350.1 1959.8 L1347.8 1957.1 L1351.4 1957.2 L1348.6 1955.0 L1352.1 1954.9 L1349.1 1952.6 L1353.1 1952.8 L1350.5 1950.5 L1353.7 1950.5 L1350.8 1948.0 L1354.6 1948.3 L1352.5 1946.0 L1355.7 1946.3 L1353.7 1943.7 L1356.0 1944.3 L1356.1 1940.8 L1355.0 1944.2 L1357.9 1944.1 L1354.6 1946.0 L1357.9 1946.8 L1354.9 1948.4 L1358.5 1949.2 L1355.3 1950.8 L1358.6 1951.6 L1355.8 1953.1 L1358.6 1954.0 L1356.1 1955.5 L1359.7 1956.3 L1356.0 1958.0 L1359.2 1958.7 L1357.1 1960.2 L1359.7 1961.1 L1356.9 1962.7 L1360.2 1963.4 L1357.7 1965.0 L1360.5 1965.8 L1357.7 1967.4 L1361.2 1968.1 L1358.2 1969.8 L1361.5 1970.5 L1358.3 1972.2 L1361.8 1972.9 L1359.2 1974.5 L1362.3 1975.2 L1359.5 1976.9 L1362.0 1977.6 L1359.8 1979.4 L1362.6 1979.9 L1360.8 1981.6 L1363.6 1982.1 L1361.0 1984.1 L1364.0 1984.5 L1361.2 1986.5 L1365.2 1986.7 L1362.2 1988.7 L1365.6 1989.1 L1363.0 1991.0 L1366.5 1991.3 L1363.7 1993.3 L1366.5 1993.8 L1364.2 1995.6 L1367.6 1996.1 L1364.4 1997.9 L1367.6 1998.6 L1364.8 2000.2 L1368.3 2000.9 L1365.3 2002.6 L1368.6 2003.3 L1365.2 2005.0 L1368.6 2005.7 L1365.9 2007.3 L1368.9 2008.1 L1366.1 2009.7 L1369.2 2010.5 L1366.3 2012.1 L1369.6 2012.9 L1366.9 2014.5 L1370.2 2015.2 L1367.2 2016.9 L1370.4 2017.6 L1367.3 2019.6 L1370.6 2019.5 L1368.3 2022.2 L1371.9 2020.5 L1370.2 2023.2 L1373.7 2021.5 L1371.9 2024.7 L1375.0 2024.1 L1372.4 2026.8 L1375.7 2026.5 L1373.5 2029.0 L1377.3 2028.4 L1374.6 2030.9 L1378.5 2030.6 L1375.7 2032.8 L1378.9 2033.2 L1376.2 2034.9 L1379.4 2035.7 L1376.3 2037.4 L1380.0 2038.0 L1376.8 2039.7 L1380.1 2040.4 L1377.5 2042.0 L1380.2 2042.8 L1377.2 2044.5 L1380.4 2045.2 L1377.6 2046.8 L1380.7 2047.6 L1378.1 2049.2 L1381.7 2049.9 L1378.6 2051.5 L1382.0 2052.3 L1379.1 2053.9 L1382.0 2054.7 L1378.7 2056.4 L1382.5 2057.1 L1379.4 2058.7 L1382.6 2059.5 L1379.4 2061.1 L1383.1 2061.8 L1379.7 2063.5 L1383.2 2064.2 L1380.4 2065.8 L1383.6 2066.6 L1380.5 2068.2 L1383.8 2069.0 L1380.4 2070.7 L1383.7 2071.4 L1380.9 2073.0 L1384.3 2073.8 L1381.3 2075.4 L1385.2 2076.0 L1382.1 2077.7 L1385.2 2078.5 L1382.2 2080.1 L1385.5 2080.9 L1382.9 2082.5 L1386.0 2083.2 L1382.6 2084.9 L1386.4 2085.6 L1383.5 2087.2 L1386.8 2087.9 L1383.8 2089.6 L1386.6 2090.4 L1384.0 2092.0 L1387.3 2092.7 L1384.4 2094.4 L1388.2 2095.0 L1384.8 2096.8 L1388.6 2097.3 L1385.5 2099.1 L1388.8 2099.7 L1386.1 2101.4 L1388.9 2102.1 L1386.0 2103.9 L1389.6 2104.4 L1386.4 2106.3 L1389.8 2106.8 L1387.3 2108.5 L1390.2 2109.2 L1387.5 2110.9 L1390.3 2111.7 L1388.0 2113.2 L1391.2 2114.0 L1388.5 2115.6 L1391.3 2116.4 L1388.2 2118.0 L1392.2 2118.7 L1389.1 2120.3 L1391.8 2121.2 L1389.6 2122.7 L1392.1 2123.6 L1389.3 2125.1 L1393.0 2125.9 L1390.1 2127.5 L1393.1 2128.3 L1390.0 2129.9 L1392.9 2130.7 L1390.2 2132.3 L1394.0 2133.0 L1391.0 2134.6 L1394.2 2135.4 L1390.9 2137.0 L1394.2 2137.8 L1391.0 2139.4 L1394.4 2140.2 L1391.7 2141.8 L1394.8 2142.6 L1392.1 2144.2 L1395.6 2144.9 L1392.3 2146.5 L1395.7 2147.3 L1392.3 2149.0 L1395.7 2149.7 L1393.4 2151.3 L1396.4 2151.9 L1394.0 2153.7 L1397.5 2154.0 L1394.6 2156.1 L1397.7 2156.4 L1395.1 2158.4 L1398.6 2158.7 L1395.3 2160.8 L1399.1 2161.1 L1396.5 2162.9 L1399.4 2163.5 L1396.6 2165.4 L1399.8 2165.8 L1397.0 2167.8 L1400.9 2168.0 L1398.1 2170.0 L1401.0 2170.4 L1398.7 2172.3 L1402.0 2172.6 L1399.6 2174.6 L1402.7 2174.9 L1400.2 2176.9 L1403.5 2177.2 L1400.5 2179.3 L1403.9 2179.5 L1401.6 2181.5 L1404.2 2182.0 L1402.1 2183.9 L1405.8 2183.9 L1402.7 2186.3 L1406.4 2186.2 L1404.0 2188.4 L1406.6 2188.7 L1404.9 2190.8 L1407.7 2190.2 L1406.1 2193.4 L1408.5 2191.6 L1408.4 2194.2 L1410.7 2191.2 L1410.9 2194.7 L1413.0 2192.4 L1412.9 2195.6 L1415.4 2193.5 L1414.8 2196.6 L1417.5 2195.2 L1416.3 2198.0 L1419.0 2197.4 L1417.4 2199.9 L1420.1 2199.6 L1418.7 2202.0 L1421.9 2201.3 L1420.3 2204.1 L1422.7 2203.1 L1422.1 2206.9 L1423.8 2203.8 L1424.6 2206.2 L1425.8 2202.5 L1426.1 2205.3 L1428.4 2203.3 L1426.1 2206.6 L1429.6 2206.3 L1426.7 2208.6 L1430.2 2208.7 L1427.8 2210.9 L1430.7 2210.6 L1428.8 2213.7 L1431.9 2211.9 L1431.0 2214.4 L1434.3 2212.4 L1432.4 2215.7 L1436.0 2214.9 L1433.2 2217.2 L1435.8 2217.8 L1433.5 2219.5 L1436.2 2220.2 L1433.4 2221.9 L1437.1 2222.5 L1434.3 2224.2 L1437.1 2225.0 L1434.1 2226.6 L1438.0 2227.2 L1434.8 2229.4 L1437.8 2228.7 L1436.5 2232.3 L1437.9 2228.4 L1439.3 2230.6 L1439.6 2227.1 L1441.8 2230.3 L1441.6 2226.8 L1444.4 2230.5 L1443.2 2226.3 L1445.6 2227.8 L1444.9 2224.8 L1446.7 2226.8 L1447.5 2223.6 L1447.0 2227.3 L1449.7 2226.1 L1447.8 2229.0 L1451.4 2228.0 L1449.1 2231.0 L1452.3 2230.3 L1450.2 2233.0 L1453.4 2232.4 L1452.2 2234.9 L1454.7 2233.8 L1454.5 2237.1 L1456.2 2234.6 L1456.9 2236.8 L1457.2 2232.5 L1459.4 2236.0 L1459.1 2233.4 L1461.7 2235.7 L1460.2 2232.2 L1463.0 2232.9 L1461.1 2230.4 L1464.5 2231.1 L1462.1 2227.9 L1464.8 2229.0 L1464.8 2226.0 L1465.8 2228.7 L1467.6 2227.1 L1465.9 2230.4 L1469.2 2229.4 L1467.6 2231.9 L1470.3 2231.5 L1468.6 2234.2 L1471.8 2233.4 L1470.4 2235.8 L1473.5 2235.2 L1471.4 2237.9 L1475.0 2237.3 L1472.5 2240.0 L1475.5 2239.8 L1473.4 2242.2 L1476.4 2241.7 L1474.6 2245.0 L1477.2 2242.8 L1477.6 2246.3 L1478.5 2242.9 L1480.3 2244.5 L1480.0 2241.2 L1482.5 2243.3 L1482.4 2240.5 L1484.5 2242.2 L1484.7 2239.6 L1486.6 2241.9 L1487.4 2238.0 L1488.5 2241.3 L1489.7 2239.1 L1490.7 2242.8 L1491.9 2239.8 L1492.9 2242.3 L1494.1 2238.6 L1495.0 2242.2 L1496.7 2239.7 L1496.6 2242.6 L1499.3 2240.8 L1498.0 2244.2 L1500.9 2242.7 L1499.8 2246.1 L1502.2 2244.2 L1502.5 2247.4 L1503.8 2243.8 L1505.4 2246.6 L1505.7 2243.5 L1507.6 2246.1 L1508.0 2242.0 L1509.6 2245.1 L1510.3 2243.1 L1512.0 2245.6 L1512.3 2242.5 L1514.2 2244.8 L1514.1 2240.6 L1516.2 2243.9 L1516.3 2240.6 L1518.6 2243.9 L1518.6 2240.5 L1520.6 2242.6 L1520.4 2238.6 L1521.8 2240.6 L1523.1 2238.5 L1522.6 2242.1 L1525.1 2240.5 L1524.3 2243.6 L1526.5 2242.3 L1526.3 2245.4 L1528.8 2242.6 L1529.1 2245.7 L1530.6 2243.5 L1531.9 2246.7 L1532.2 2242.7 L1533.9 2245.1 L1534.3 2241.6 L1535.8 2244.4 L1537.3 2241.5 L1537.2 2245.1 L1539.9 2243.3 L1538.7 2246.2 L1541.6 2245.3 L1540.1 2248.2 L1542.3 2246.7 L1542.2 2250.1 L1543.3 2247.2 L1544.2 2249.2 L1545.3 2245.0 L1545.4 2248.9 L1547.9 2247.1 L1545.7 2250.5 L1549.2 2249.6 L1547.5 2252.4 L1550.0 2251.2 L1549.5 2254.3 L1551.1 2252.0 L1552.6 2254.3 L1552.7 2251.5 L1555.0 2253.2 L1554.2 2249.4 L1556.0 2251.1 L1556.8 2248.9 L1557.1 2252.4 L1559.8 2249.9 L1558.4 2253.5 L1561.2 2252.2 L1560.5 2254.9 L1562.5 2253.6 L1562.6 2256.9 L1563.9 2253.8 L1565.1 2255.7 L1565.8 2252.3 L1567.1 2255.2 L1568.9 2252.9 L1568.5 2255.9 L1571.2 2254.5 L1569.8 2257.3 L1572.6 2256.7 L1570.8 2259.9 L1573.3 2258.4 L1573.0 2261.5 L1574.9 2258.5 L1575.6 2260.8 L1576.6 2258.3 L1577.9 2261.5 L1578.5 2259.1 L1580.7 2261.2 L1579.2 2257.5 L1582.2 2258.3 L1580.2 2255.7 L1583.6 2256.6 L1581.8 2253.5 L1584.2 2254.8 L1583.9 2251.8 L1586.1 2254.6 L1586.6 2251.4 L1588.9 2254.7 L1588.7 2251.7 L1591.1 2253.0 L1589.7 2250.0 L1592.7 2251.0 L1590.6 2247.4 L1593.3 2249.4 L1593.3 2245.5 L1594.4 2249.1 L1596.4 2247.1 L1595.6 2250.6 L1598.7 2248.6 L1597.6 2251.7 L1600.5 2250.2 L1598.9 2253.9 L1602.1 2251.7 L1601.3 2255.1 L1603.8 2253.0 L1603.7 2256.8 L1605.3 2253.3 L1607.0 2257.1 L1606.3 2253.2 L1609.3 2255.3 L1607.5 2251.4 L1610.1 2253.3 L1610.0 2249.2 L1611.0 2252.7 L1612.7 2251.0 L1612.0 2254.4 L1614.6 2252.9 L1614.0 2256.1 L1616.3 2254.1 L1616.7 2257.3 L1618.3 2254.2 L1619.1 2256.6 L1620.7 2253.3 L1621.4 2256.7 L1622.6 2254.6 L1623.5 2258.6 L1624.4 2254.3 L1625.9 2256.9 L1626.2 2253.6 L1628.1 2256.3 L1628.9 2253.4 L1629.9 2256.6 L1631.6 2253.7 L1632.1 2257.0 L1633.9 2254.4 L1634.4 2257.1 L1636.4 2255.2 L1636.6 2257.5 L1638.7 2256.0 L1638.2 2259.4 L1640.4 2256.9 L1640.7 2261.1 L1641.8 2257.8 L1643.4 2260.1 L1643.6 2256.7 L1645.9 2258.9 L1645.5 2255.7 L1648.5 2258.3 L1647.1 2254.4 L1650.1 2256.1 L1649.0 2253.0 L1651.5 2254.4 L1651.1 2251.4 L1653.4 2254.1 L1653.8 2250.8 L1655.2 2253.8 L1656.6 2250.7 L1657.1 2253.6 L1659.4 2250.7 L1658.7 2254.5 L1661.1 2252.8 L1660.5 2256.1 L1662.5 2254.2 L1663.3 2256.9 L1664.5 2254.2 L1666.3 2256.8 L1666.1 2253.4 L1669.0 2255.6 L1667.2 2252.0 L1670.1 2252.9 L1668.8 2250.6 L1671.3 2250.9 L1670.0 2248.0 L1672.8 2249.7 L1672.5 2246.2 L1673.9 2249.2 L1675.9 2246.2 L1674.8 2249.9 L1677.2 2249.0 L1675.9 2252.2 L1678.0 2250.8 L1678.7 2253.6 L1679.3 2250.4 L1680.7 2251.8 L1680.9 2248.7 L1682.5 2251.2 L1683.2 2249.0 L1684.6 2252.4 L1685.0 2248.7 L1686.8 2251.1 L1686.8 2247.8 L1688.7 2249.9 L1689.0 2246.3 L1690.6 2250.1 L1691.7 2246.9 L1692.8 2250.1 L1694.0 2246.6 L1695.4 2250.2 L1696.3 2246.2 L1697.6 2249.3 L1698.8 2246.0 L1700.1 2249.6 L1700.8 2246.8 L1702.6 2249.4 L1702.2 2246.1 L1704.3 2247.8 L1704.0 2244.1 L1705.3 2246.7 L1707.0 2244.4 L1706.4 2247.7 L1708.6 2246.8 L1707.7 2250.0 L1710.2 2247.6 L1710.7 2251.4 L1711.5 2248.0 L1713.5 2250.1 L1712.6 2246.8 L1715.2 2248.3 L1714.3 2244.4 L1716.3 2246.9 L1717.3 2244.1 L1717.7 2248.0 L1719.9 2245.7 L1719.9 2249.1 L1721.5 2246.8 L1722.7 2250.4 L1723.3 2246.8 L1725.1 2248.5 L1725.0 2245.5 L1727.4 2247.5 L1727.3 2244.3 L1729.2 2246.2 L1729.8 2243.3 L1731.1 2246.3 L1732.7 2242.9 L1733.1 2246.5 L1734.6 2244.3 L1735.5 2247.8 L1736.0 2244.4 L1737.6 2246.6 L1737.9 2243.4 L1738.9 2245.6 L1740.6 2242.8 L1739.8 2246.2 L1742.1 2245.5 L1740.6 2248.7 L1743.4 2246.7 L1743.1 2249.8 L1744.7 2246.8 L1746.0 2249.5 L1746.7 2246.5 L1748.4 2249.3 L1749.2 2246.4 L1750.9 2249.3 L1751.3 2246.0 L1753.4 2248.3 L1753.0 2244.9 L1755.4 2246.7 L1755.0 2244.0 L1757.7 2245.4 L1756.6 2242.1 L1759.4 2244.2 L1758.7 2240.2 L1760.9 2242.6 L1761.3 2240.3 L1763.4 2242.9 L1763.4 2239.5 L1765.5 2241.6 L1765.1 2237.7 L1767.3 2240.0 L1767.2 2237.1 L1769.6 2239.8 L1769.3 2236.8 L1772.2 2239.1 L1770.5 2235.5 L1773.7 2236.4 L1771.6 2233.8 L1775.2 2234.4 L1772.2 2231.7 L1775.1 2232.4" fill="none" stroke="#000" stroke-width="5.7" stroke-linejoin="round" stroke-linecap="round"/>
<path d="M145.4 2199.2 L145.9 2195.1 L146.9 2197.8 L148.6 2194.6 L148.4 2199.0 L150.5 2196.2 L150.5 2200.8 L151.6 2196.5 L153.5 2199.8 L152.8 2195.4 L154.9 2198.0 L155.1 2193.5 L155.6 2198.6 L157.6 2195.2 L157.2 2200.0 L159.1 2196.9 L160.4 2199.5 L160.5 2196.1 L163.6 2198.7 L161.7 2194.8 L165.0 2196.4 L163.4 2192.9 L165.7 2194.3 L165.3 2191.4 L168.3 2194.8 L167.3 2191.0 L170.6 2193.6 L168.6 2189.8 L172.0 2191.1 L169.7 2187.5 L172.8 2189.5 L172.2 2185.7 L174.0 2189.5 L174.8 2186.0 L175.0 2191.0 L177.3 2186.1 L177.5 2189.6 L179.5 2186.6 L179.1 2191.0 L182.5 2187.6 L180.8 2191.7 L184.1 2190.0 L182.4 2193.2 L186.3 2191.5 L183.9 2195.1 L187.2 2193.4 L185.8 2197.3 L187.8 2194.4 L189.5 2198.9 L188.5 2194.4 L191.8 2196.0 L188.9 2192.5 L193.1 2193.6 L189.9 2190.0 L193.5 2191.5 L191.8 2187.6 L195.0 2190.8 L195.1 2187.3 L196.7 2190.0 L197.4 2186.9 L199.2 2190.9 L199.4 2187.0 L201.8 2189.3 L200.9 2186.1 L204.1 2187.7 L201.6 2184.2 L205.2 2185.1 L202.6 2182.3 L207.1 2183.4 L204.3 2180.5 L208.3 2181.4 L205.0 2178.0 L209.5 2179.5 L206.9 2176.0 L210.0 2177.5 L208.5 2174.0 L212.5 2177.1 L210.6 2173.4 L214.0 2175.2 L211.6 2172.0 L215.2 2172.4 L212.6 2170.2 L215.7 2169.9 L212.4 2167.7 L216.5 2167.7 L213.0 2165.2 L217.1 2165.7 L214.9 2162.6 L217.9 2164.3 L216.8 2161.6 L220.2 2164.3 L218.2 2160.4 L222.1 2162.5 L218.6 2159.1 L223.0 2159.6 L219.2 2156.9 L224.2 2157.5 L220.4 2154.8 L224.5 2155.6 L222.3 2152.2 L224.6 2154.3 L224.8 2150.8 L225.5 2155.2 L228.0 2151.6 L227.3 2155.5 L230.0 2153.5 L228.7 2157.3 L232.1 2155.1 L230.5 2158.4 L234.1 2156.8 L232.1 2159.9 L235.9 2158.6 L232.7 2162.2 L236.8 2161.0 L234.3 2164.1 L237.9 2163.0 L235.5 2166.3 L239.5 2164.6 L237.8 2167.5 L241.1 2166.4 L239.0 2169.2 L243.0 2168.5 L239.5 2171.5 L242.8 2170.7 L241.2 2175.2 L241.9 2170.2 L244.6 2173.0 L242.7 2169.7 L245.9 2170.3 L243.8 2167.7 L247.2 2168.2 L244.9 2165.7 L248.2 2165.9 L245.7 2163.5 L249.5 2163.8 L245.9 2161.0 L250.6 2161.6 L247.3 2159.0 L251.1 2159.3 L248.1 2156.6 L252.0 2157.2 L249.4 2154.5 L252.9 2155.0 L250.8 2152.4 L255.0 2153.4 L252.1 2150.5 L255.7 2150.9 L252.5 2148.2 L257.0 2148.7 L253.7 2146.2 L257.2 2146.2 L254.5 2143.9 L258.2 2144.1 L255.2 2141.5 L259.6 2142.2 L255.9 2139.0 L260.7 2140.2 L258.0 2137.3 L261.0 2137.7 L258.6 2134.8 L263.1 2136.3 L260.4 2132.6 L263.3 2134.8 L263.2 2130.6 L262.8 2134.6 L266.2 2132.6 L262.8 2136.2 L267.4 2135.2 L263.7 2138.5 L267.8 2137.5 L265.7 2140.4 L268.8 2139.3 L267.3 2142.5 L271.1 2140.1 L268.9 2144.1 L273.2 2141.8 L270.4 2145.4 L274.6 2144.2 L271.5 2147.2 L275.5 2146.7 L272.8 2149.1 L276.7 2148.9 L273.4 2151.4 L277.6 2151.2 L273.8 2153.8 L277.8 2153.7 L275.1 2155.9 L278.5 2155.9 L275.4 2158.4 L279.9 2157.8 L277.1 2160.4 L280.2 2160.2 L277.8 2163.0 L281.7 2161.9 L279.3 2165.1 L282.8 2163.7 L280.9 2167.0 L284.4 2165.6 L282.8 2168.3 L286.3 2167.4 L283.0 2170.6 L287.6 2169.7 L284.0 2172.7 L288.3 2171.9 L285.7 2174.7 L289.1 2173.9 L286.6 2177.4 L290.8 2175.1 L289.2 2179.0 L291.8 2177.0 L291.4 2180.1 L294.6 2176.6 L293.5 2180.4 L296.4 2178.7 L294.1 2182.2 L298.4 2180.6 L295.7 2183.9 L298.9 2183.1 L297.2 2186.0 L300.8 2184.4 L298.7 2187.9 L302.3 2186.3 L300.1 2189.8 L304.0 2187.8 L302.1 2191.8 L304.9 2189.6 L304.6 2193.8 L306.4 2189.7 L308.1 2193.6 L308.3 2189.3 L309.9 2191.9 L310.9 2187.4 L310.9 2191.1 L314.0 2188.9 L311.0 2192.7 L314.6 2192.3 L312.0 2194.6 L315.5 2194.2 L312.7 2197.7 L316.3 2195.2 L315.1 2198.8 L318.1 2195.8 L317.4 2198.6 L320.5 2196.5 L318.1 2200.3 L321.1 2199.9 L319.0 2202.2 L322.5 2201.8 L319.4 2205.1 L323.5 2203.2 L321.5 2207.6 L324.0 2203.5 L325.6 2208.5 L324.7 2203.9 L327.4 2205.4 L325.2 2201.6 L328.9 2204.1 L327.7 2200.1 L330.2 2203.4 L330.3 2199.9 L332.1 2203.5 L333.0 2199.6 L333.8 2202.4 L335.6 2199.1 L334.8 2202.9 L337.7 2201.4 L334.9 2204.9 L338.8 2203.7 L336.3 2207.2 L340.1 2205.4 L338.8 2208.7 L342.0 2206.0 L341.1 2210.7 L343.7 2207.2 L343.7 2210.4 L346.2 2207.3 L345.5 2211.5 L348.0 2208.4 L347.7 2213.1 L349.1 2210.0 L350.3 2213.5 L351.0 2209.0 L352.0 2211.6 L353.6 2208.1 L352.7 2213.2 L355.3 2210.9 L354.7 2214.1 L357.0 2212.0 L357.3 2215.9 L358.8 2212.0 L360.4 2215.7 L360.5 2210.8 L362.9 2214.4 L362.9 2210.6 L364.9 2214.1 L365.4 2209.1 L366.6 2213.0 L368.0 2209.7 L368.6 2214.1 L370.1 2210.8 L371.5 2213.8 L371.5 2210.3 L374.6 2213.5 L372.8 2208.9 L376.2 2211.6 L375.0 2207.5 L377.3 2209.8 L377.1 2206.7 L380.0 2210.9 L378.7 2206.0 L381.7 2208.7 L380.3 2204.9 L382.7 2207.0 L382.9 2202.8 L383.1 2207.6 L385.3 2204.8 L384.6 2209.2 L387.0 2205.8 L387.0 2209.8 L389.1 2205.0 L389.4 2209.2 L391.5 2206.0 L391.2 2210.1 L393.3 2207.6 L393.3 2211.8 L394.9 2208.2 L396.6 2211.1 L396.5 2206.9 L398.6 2209.9 L398.9 2206.2 L400.2 2208.7 L401.8 2206.0 L401.6 2210.0 L404.8 2207.1 L403.0 2211.9 L406.1 2208.4 L405.8 2213.1 L407.1 2210.1 L408.2 2212.3 L409.0 2208.2 L409.7 2211.6 L411.6 2208.7 L410.4 2212.6 L413.4 2211.0 L411.8 2215.1 L414.7 2212.0 L414.4 2216.0 L416.8 2211.5 L417.0 2216.1 L418.8 2212.9 L419.3 2217.2 L421.0 2213.6 L421.4 2217.0 L423.7 2213.1 L423.1 2217.1 L425.6 2214.7 L424.8 2218.5 L426.7 2216.4 L427.4 2219.7 L426.9 2215.3 L430.0 2217.9 L428.3 2214.0 L431.1 2216.0 L430.4 2211.6 L432.6 2216.0 L433.6 2212.5 L434.4 2216.6 L436.4 2212.3 L436.4 2216.8 L438.5 2213.5 L439.1 2217.5 L439.8 2214.0 L442.1 2217.7 L439.8 2212.9 L443.3 2214.3 L441.3 2211.5 L444.2 2212.6 L443.3 2209.1 L445.5 2212.7 L446.0 2208.7 L447.1 2213.6 L448.7 2209.4 L449.2 2213.3 L451.1 2209.1 L451.6 2213.0 L453.2 2209.6 L453.9 2214.7 L455.2 2210.6 L456.6 2213.8 L457.1 2209.4 L459.2 2212.8 L459.2 2209.5 L461.8 2212.0 L460.8 2208.7 L463.8 2210.0 L461.5 2206.6 L465.3 2208.2 L463.3 2204.7 L466.2 2206.3 L465.5 2203.3 L468.7 2206.1 L467.8 2202.2 L470.2 2204.5 L470.0 2200.6 L471.9 2204.1 L472.4 2200.2 L474.0 2204.0 L474.7 2201.2 L476.7 2203.5 L475.5 2199.6 L479.4 2201.6 L477.1 2198.5 L480.1 2198.9 L477.2 2196.2 L481.3 2196.6 L478.5 2194.2 L482.0 2194.4 L478.7 2191.4 L482.9 2192.5 L480.5 2189.3 L484.2 2191.0 L482.9 2187.3 L485.5 2190.3 L485.3 2185.5 L487.1 2189.9 L488.3 2186.8 L489.0 2190.6 L491.0 2187.0 L491.4 2190.0 L493.6 2187.0 L493.2 2191.6 L495.7 2188.3 L495.7 2192.6 L497.6 2188.8 L498.2 2193.1 L499.6 2189.2 L500.5 2192.2 L502.1 2189.1 L502.2 2193.4 L505.3 2189.7 L504.2 2193.5 L507.4 2191.8 L505.1 2195.4 L508.7 2194.2 L506.5 2197.3 L509.6 2196.3 L507.8 2199.6 L511.9 2197.2 L510.1 2200.7 L513.4 2199.0 L511.2 2202.9 L515.4 2200.6 L513.1 2204.2 L516.4 2203.1 L514.0 2206.5 L518.6 2204.4 L516.0 2208.2 L519.0 2206.7 L517.7 2210.8 L520.8 2207.3 L520.5 2211.4 L522.9 2207.3 L522.8 2211.8 L525.3 2208.6 L524.7 2212.5 L527.6 2209.9 L526.5 2213.5 L530.0 2211.1 L528.1 2215.5 L531.2 2213.0 L530.9 2216.6 L532.5 2213.8 L533.5 2217.2 L534.6 2212.9 L535.2 2215.4 L536.9 2212.8 L535.1 2216.9 L539.3 2215.2 L536.5 2218.2 L539.8 2217.3 L537.3 2221.3 L540.5 2219.3 L539.8 2222.7 L542.6 2219.3 L542.6 2223.0 L544.9 2219.7 L544.6 2224.2 L546.9 2220.9 L547.4 2224.7 L548.8 2221.0 L550.0 2224.8 L551.2 2220.5 L552.1 2224.1 L553.6 2220.6 L554.3 2224.3 L556.0 2221.4 L556.2 2225.6 L558.5 2222.1 L558.2 2225.6 L561.2 2222.3 L559.4 2226.5 L562.4 2225.1 L560.8 2228.7 L563.2 2226.7 L563.6 2229.9 L564.6 2225.8 L565.9 2228.4 L566.4 2224.6 L567.6 2228.7 L569.3 2225.8 L569.1 2229.5 L571.7 2226.9 L571.1 2230.9 L574.0 2227.5 L573.4 2231.6 L576.0 2228.8 L575.8 2232.3 L578.1 2229.4 L578.2 2234.2 L579.6 2230.7 L581.2 2234.1 L580.7 2228.8 L583.6 2232.3 L582.6 2227.6 L585.2 2230.8 L585.3 2226.5 L587.2 2230.7 L588.0 2226.3 L589.4 2231.3 L590.8 2227.3 L591.2 2230.9 L593.7 2226.7 L593.3 2230.8 L595.7 2228.8 L594.8 2233.2 L597.1 2230.5 L597.0 2234.4 L599.6 2230.3 L599.0 2233.8 L601.9 2231.3 L599.9 2234.8 L604.1 2233.5 L601.1 2236.6 L604.2 2235.7 L602.4 2239.6 L604.7 2236.7 L605.5 2239.4 L606.0 2236.2 L608.3 2238.5 L607.7 2234.2 L610.2 2237.8 L610.4 2232.9 L611.7 2237.0 L613.4 2233.7 L613.8 2237.9 L615.0 2234.9 L616.8 2239.1 L616.0 2234.6 L619.3 2236.8 L616.7 2233.0 L620.7 2234.3 L617.7 2230.9 L621.6 2232.0 L618.8 2228.9 L623.3 2230.1 L620.5 2227.1 L624.3 2228.5 L622.3 2224.4 L624.0 2227.7 L625.7 2224.0 L624.3 2228.2 L627.8 2226.4 L625.4 2230.2 L628.4 2228.7 L627.4 2232.4 L629.8 2229.5 L630.9 2233.6 L631.2 2229.2 L633.4 2231.9 L632.3 2227.0 L635.3 2230.3 L634.6 2226.5 L637.5 2229.6 L637.1 2226.5 L639.5 2227.9 L638.4 2224.7 L641.5 2226.6 L640.0 2222.6 L642.9 2225.3 L642.6 2220.9 L644.6 2224.4 L645.4 2221.3 L647.1 2225.2 L647.7 2221.8 L649.2 2224.1 L650.1 2220.4 L651.0 2223.2 L653.0 2220.5 L652.3 2224.3 L654.8 2222.2 L653.8 2226.9 L655.5 2223.8 L656.4 2226.8 L657.0 2222.1 L658.4 2225.1 L660.0 2221.4 L659.8 2225.6 L662.6 2223.8 L661.1 2226.9 L664.2 2225.7 L661.7 2229.8 L664.9 2226.7 L665.4 2231.3 L664.7 2227.0 L667.3 2228.2 L664.9 2225.3 L669.1 2226.2 L666.4 2223.4 L670.3 2224.2 L667.5 2221.0 L671.3 2222.9 L669.4 2218.0 L671.4 2221.2 L673.2 2217.9 L672.5 2222.3 L674.9 2220.2 L674.2 2224.6 L675.9 2221.5 L676.6 2223.9 L678.1 2219.6 L678.4 2222.9 L680.5 2220.9 L678.4 2225.2 L682.1 2223.5 L680.4 2226.6 L683.4 2224.7 L682.5 2228.9 L684.4 2225.2 L686.2 2229.4 L685.7 2225.0 L688.4 2226.9 L686.9 2223.5 L690.0 2224.8 L688.1 2221.4 L692.3 2223.6 L689.7 2219.9 L693.3 2221.1 L690.9 2218.0 L695.3 2219.3 L692.3 2216.2 L696.4 2217.3 L693.6 2213.9 L696.9 2215.1 L695.5 2212.3 L698.7 2213.7 L697.5 2210.8 L700.6 2212.1 L698.4 2208.5 L702.3 2210.5 L700.1 2206.1 L703.1 2209.1 L703.3 2205.2 L703.7 2208.9 L706.2 2206.4 L704.0 2210.7 L707.8 2208.7 L706.0 2211.8 L709.7 2210.0 L707.2 2213.9 L711.1 2212.2 L708.4 2215.6 L712.1 2214.5 L710.3 2217.4 L713.3 2216.1 L712.1 2220.2 L714.1 2216.2 L715.8 2220.4 L714.6 2215.9 L718.0 2218.1 L716.0 2214.2 L718.9 2216.1 L718.3 2211.6 L720.4 2215.7 L721.0 2212.0 L721.9 2216.7 L724.1 2212.2 L724.0 2216.0 L726.0 2212.6 L725.9 2217.6 L728.5 2213.7 L728.1 2217.9 L730.6 2214.4 L730.3 2218.8 L732.6 2215.7 L733.1 2219.4 L734.0 2216.3 L735.8 2219.0 L734.7 2214.9 L738.0 2217.0 L736.6 2214.1 L739.6 2215.1 L737.3 2211.8 L741.4 2213.2 L739.2 2210.4 L742.3 2210.8 L740.3 2208.4 L743.9 2209.1 L741.1 2205.5 L744.5 2207.6 L743.1 2203.4 L746.1 2206.6 L745.8 2203.4 L748.4 2206.2 L747.2 2202.0 L751.0 2204.8 L748.6 2200.6 L752.1 2202.3 L750.2 2198.8 L754.5 2201.0 L751.6 2197.3 L755.6 2198.6 L753.4 2195.9 L756.6 2196.3 L754.4 2193.9 L758.3 2194.4 L754.6 2191.3 L759.1 2192.2 L755.8 2189.1 L760.2 2190.1 L757.5 2187.3 L760.8 2187.7 L758.7 2185.3 L762.4 2186.3 L760.2 2182.5 L761.8 2184.5 L763.1 2181.9 L762.3 2185.5 L765.3 2184.5 L763.1 2187.4 L767.0 2186.5 L764.1 2189.5 L767.7 2188.8 L764.7 2192.0 L769.0 2190.5 L766.7 2194.6 L769.3 2191.8 L770.0 2195.2 L769.7 2191.5 L772.7 2193.3 L770.0 2189.8 L773.9 2191.1 L771.7 2187.3 L774.6 2189.6 L774.2 2186.4 L776.6 2190.4 L776.8 2186.8 L778.9 2190.0 L778.5 2185.8 L781.0 2187.6 L780.2 2184.5 L783.6 2186.7 L781.2 2182.6 L785.0 2184.3 L782.9 2181.3 L786.7 2182.4 L783.7 2179.2 L787.6 2180.0 L785.1 2177.2 L788.8 2178.1 L786.2 2174.9 L790.2 2176.2 L787.5 2172.8 L791.5 2174.3 L789.5 2171.3 L793.3 2172.6 L790.8 2169.2 L794.3 2170.4 L792.2 2167.2 L795.7 2168.5 L793.5 2165.2 L797.8 2167.0 L794.9 2163.4 L799.3 2164.9 L796.7 2162.0 L800.4 2162.6 L797.5 2159.9 L801.8 2160.3 L798.5 2157.9 L802.5 2158.0 L799.4 2155.6 L802.6 2155.6 L800.0 2153.2 L804.3 2153.7 L800.8 2150.9 L804.7 2151.3 L801.4 2148.5 L805.6 2149.1 L802.8 2146.5 L806.8 2147.1 L803.5 2144.0 L807.9 2145.1 L805.0 2142.0 L809.0 2143.1 L806.8 2140.2 L810.1 2141.0 L807.4 2137.9 L811.9 2139.1 L808.6 2136.0 L812.6 2136.7 L809.9 2134.1 L814.2 2134.7 L810.7 2131.9 L814.4 2132.1 L811.7 2129.7 L816.0 2130.2 L812.7 2127.5 L816.2 2127.7 L813.6 2125.2 L817.7 2125.8 L814.2 2122.8 L818.2 2123.5 L816.0 2121.0 L819.4 2121.4 L816.9 2118.8 L820.8 2119.4 L818.2 2116.7 L821.7 2117.1 L819.2 2114.6 L823.5 2115.1 L819.5 2112.3 L823.3 2112.4 L819.9 2110.1 L824.0 2110.0 L821.1 2108.0 L825.6 2107.9 L821.2 2105.5 L825.9 2105.5 L822.2 2103.3 L825.9 2103.1 L822.8 2100.7 L826.4 2101.0 L824.2 2098.6 L827.9 2099.2 L825.7 2096.6 L829.2 2097.2 L826.3 2094.2 L830.7 2095.2 L827.5 2092.3 L831.7 2092.8 L828.5 2090.2 L832.2 2090.4 L829.2 2088.0 L833.3 2088.1 L829.7 2085.7 L834.5 2085.9 L830.7 2083.6 L834.8 2083.5 L831.0 2081.2 L835.2 2081.1 L832.2 2079.0 L836.2 2078.9 L832.2 2076.5 L836.9 2076.6 L833.0 2074.2 L837.7 2074.3 L833.7 2071.9 L838.1 2072.0 L834.6 2069.7 L838.4 2069.6 L835.1 2067.4 L838.9 2067.2 L836.0 2065.2 L840.3 2065.0 L836.2 2062.8 L840.6 2062.5 L837.2 2060.6 L840.9 2060.1 L837.5 2058.2 L841.6 2057.8 L838.0 2055.9 L842.1 2055.5 L837.9 2053.4 L842.1 2053.0 L838.7 2051.1 L843.2 2050.8 L839.5 2048.8 L843.4 2048.4 L839.3 2046.3 L843.4 2045.9 L840.3 2044.1 L844.0 2043.6 L840.5 2041.7 L845.3 2041.4 L841.2 2039.4 L844.9 2038.9 L841.7 2037.0 L845.8 2036.6 L842.0 2034.6 L846.3 2034.3 L842.6 2032.3 L847.1 2032.1 L843.2 2029.9 L847.1 2029.7 L843.4 2027.4 L847.6 2027.4 L844.4 2025.1 L848.5 2025.2 L845.0 2022.8 L849.0 2022.8 L845.5 2020.5 L849.9 2020.5 L847.1 2018.5 L850.4 2018.1 L847.2 2016.1 L850.6 2015.6 L847.7 2013.8 L851.5 2013.3 L847.8 2011.4 L851.9 2011.0 L848.7 2009.1 L852.3 2008.7 L848.9 2006.5 L853.7 2006.7 L849.9 2004.2 L853.6 2004.3 L850.5 2001.7 L854.8 2002.4 L852.3 1999.8 L855.7 2000.2 L852.9 1997.4 L857.5 1998.4 L854.1 1995.4 L858.2 1995.9 L855.0 1993.3 L858.9 1993.6 L855.5 1991.0 L859.9 1991.3 L856.7 1989.0 L861.2 1989.1 L857.0 1986.7 L861.4 1986.6 L858.2 1984.5 L862.0 1984.2 L858.9 1982.2 L862.9 1982.0 L859.2 1979.9 L863.5 1979.7 L859.9 1977.5 L863.5 1977.2 L860.5 1975.2 L864.2 1975.0 L861.3 1972.8 L864.5 1972.6 L861.5 1970.4 L865.5 1970.5 L862.8 1968.1 L866.2 1968.5 L863.6 1965.4 L867.3 1966.9 L865.5 1963.6 L869.6 1966.0 L867.6 1962.6 L871.6 1964.1 L867.8 1960.6 L871.7 1961.0 L868.5 1958.6 L873.3 1958.9 L869.2 1956.4 L873.2 1956.3 L869.9 1954.1 L874.4 1954.1 L871.4 1952.1 L874.4 1951.6 L871.0 1949.5 L875.7 1949.5 L872.3 1947.4 L875.7 1947.0 L873.1 1945.1 L876.4 1944.7 L873.0 1942.5 L877.2 1942.5 L874.3 1940.4 L878.4 1940.5 L874.5 1937.6 L878.3 1938.2 L875.7 1935.1 L880.0 1936.9 L877.6 1933.1 L881.5 1935.5 L879.8 1931.0 L882.6 1934.4 L882.5 1929.6 L884.3 1933.8 L884.7 1930.7 L886.8 1934.6 L886.0 1930.1 L889.2 1932.4 L886.7 1928.8 L891.0 1930.2 L888.4 1927.3 L891.8 1927.7 L889.6 1925.0 L892.6 1926.3 L891.5 1922.3 L892.1 1925.7 L894.5 1924.1 L892.0 1927.2 L896.0 1926.7 L892.7 1929.2 L897.2 1928.8 L894.1 1931.3 L897.9 1930.9 L894.6 1933.8 L898.7 1933.1 L895.7 1936.2 L899.7 1934.4 L898.1 1938.8 L899.4 1935.6 L901.4 1938.9 L900.3 1934.7 L903.5 1936.3 L901.2 1932.6 L904.6 1934.0 L903.0 1930.7 L906.5 1933.0 L904.6 1928.4 L908.1 1931.3 L906.7 1927.9 L910.6 1930.7 L908.1 1927.0 L912.3 1928.1 L909.2 1925.5 L912.9 1925.5 L909.2 1923.0 L913.3 1923.0 L909.7 1920.6 L914.0 1920.8 L910.9 1918.5 L914.9 1918.6 L911.3 1916.0 L915.4 1916.2 L912.6 1913.9 L916.5 1914.1 L913.3 1911.6 L917.6 1912.3 L914.7 1909.0 L918.1 1910.8 L916.5 1907.2 L920.1 1910.0 L918.7 1906.8 L922.0 1908.2 L918.8 1904.7 L923.3 1905.6 L919.7 1902.8 L923.9 1903.2 L921.0 1900.8 L924.7 1900.9 L921.6 1898.5 L925.9 1898.7 L922.0 1896.3 L925.8 1896.1 L922.6 1894.0 L927.3 1893.9 L923.3 1891.8 L926.9 1891.4 L924.2 1889.5 L927.4 1889.0 L924.8 1887.1 L929.0 1887.0 L925.0 1884.7 L929.4 1884.7 L925.5 1882.2 L930.3 1882.6 L926.5 1879.9 L930.7 1880.2 L927.4 1877.7 L931.9 1878.1 L928.3 1875.5 L932.7 1875.8 L929.5 1873.5 L933.4 1873.4 L929.8 1871.1 L934.1 1871.1 L930.8 1868.9 L934.1 1868.6 L931.5 1866.6 L935.4 1866.6 L931.4 1863.8 L936.0 1864.5 L933.0 1861.8 L937.3 1862.6 L933.8 1859.4 L938.2 1860.4 L935.6 1857.7 L939.1 1858.0 L936.3 1855.4 L940.1 1855.8 L937.2 1853.3 L941.3 1853.6 L937.6 1850.9 L941.7 1851.1 L938.7 1848.9 L942.3 1848.8 L939.9 1846.8 L943.8 1846.7 L940.0 1844.3 L944.6 1844.4 L940.8 1842.0 L944.2 1841.9 L941.6 1839.6 L945.5 1840.0 L942.2 1836.9 L947.0 1838.5 L944.2 1835.1 L947.9 1836.4 L946.1 1833.4 L949.6 1834.7 L947.5 1831.4 L950.6 1832.6 L949.2 1829.6 L951.8 1830.7 L951.0 1827.2 L953.5 1829.9 L953.7 1825.6 L955.6 1829.7 L955.8 1826.3 L958.1 1829.8 L957.8 1826.4 L960.4 1828.6 L959.5 1824.4 L961.2 1827.3 L962.6 1823.6 L961.8 1827.3 L964.9 1825.8 L962.0 1829.5 L966.3 1827.9 L963.5 1831.5 L967.3 1830.2 L965.3 1833.1 L969.2 1831.6 L966.6 1835.2 L970.3 1833.1 L969.0 1837.3 L970.5 1833.8 L972.5 1837.9 L971.2 1833.8 L973.9 1834.6 L971.7 1831.5 L975.4 1833.5 L974.2 1829.4 L975.6 1832.2 L977.4 1829.3 L976.5 1833.4 L979.9 1831.4 L977.7 1835.2 L980.8 1833.7 L980.0 1837.3 L981.6 1834.6 L982.8 1838.0 L981.6 1833.6 L984.9 1835.2 L982.3 1832.2 L986.5 1833.0 L983.3 1830.3 L987.6 1830.7 L984.3 1828.2 L988.1 1828.3 L984.7 1825.8 L989.3 1826.6 L985.9 1822.7 L989.2 1824.9 L988.3 1821.9 L991.1 1824.8 L990.3 1821.1 L993.6 1824.0 L991.0 1820.0 L995.1 1821.1 L992.1 1818.5 L996.7 1818.9 L992.4 1816.3 L996.9 1816.3 L993.5 1814.2 L997.3 1813.9 L993.6 1811.6 L997.9 1811.6 L994.4 1809.4 L998.8 1809.4 L994.9 1807.0 L999.7 1807.1 L996.2 1804.9 L999.5 1804.6 L996.8 1802.6 L1000.6 1802.4 L997.1 1800.2 L1001.6 1800.2 L997.5 1797.7 L1001.4 1797.7 L998.3 1795.4 L1003.2 1795.9 L999.3 1793.1 L1003.8 1793.6 L1000.8 1791.2 L1004.9 1791.4 L1000.9 1788.7 L1005.5 1789.0 L1001.6 1786.4 L1005.9 1786.7 L1003.3 1784.3 L1006.9 1784.8 L1003.8 1781.7 L1008.0 1782.7 L1005.4 1780.0 L1010.0 1781.0 L1006.6 1778.2 L1010.5 1778.2 L1006.7 1775.9 L1010.9 1775.7 L1007.7 1773.8 L1011.2 1773.3 L1007.6 1771.3 L1012.3 1771.1 L1008.5 1769.0 L1012.0 1768.6 L1008.6 1766.6 L1013.3 1766.4 L1009.8 1764.4 L1013.6 1764.0 L1009.6 1761.9 L1014.5 1761.7 L1010.5 1759.6 L1014.5 1759.3 L1010.9 1757.3 L1014.7 1756.9 L1011.9 1755.0 L1015.2 1754.5 L1011.8 1752.6 L1015.9 1752.2 L1012.5 1750.2 L1016.5 1749.9 L1013.1 1747.8 L1016.8 1747.6 L1014.2 1745.6 L1018.4 1745.7 L1014.7 1743.2 L1018.2 1743.1 L1015.3 1740.8 L1019.8 1741.1 L1016.5 1738.8 L1020.3 1738.6 L1017.0 1736.5 L1020.9 1736.2 L1017.8 1734.3 L1020.8 1733.7 L1017.1 1731.8 L1022.1 1731.5 L1018.2 1729.5 L1022.3 1729.1 L1018.9 1727.2 L1023.0 1726.8 L1019.3 1724.8 L1023.7 1724.5 L1019.4 1722.3 L1024.0 1722.3 L1019.8 1719.8 L1024.1 1719.9 L1021.6 1717.8 L1024.9 1717.7 L1022.3 1715.4 L1025.6 1715.4 L1023.3 1713.2 L1026.9 1713.3 L1023.2 1710.7 L1027.6 1711.0 L1023.9 1708.4 L1028.9 1708.8 L1025.6 1706.5 L1029.4 1706.3 L1025.8 1704.2 L1029.3 1703.8 L1025.7 1701.8 L1029.9 1701.4 L1026.6 1699.5 L1030.8 1699.1 L1026.5 1697.1 L1031.3 1696.7 L1027.6 1694.9 L1031.4 1694.3 L1028.3 1692.6 L1032.4 1692.1 L1027.7 1690.0 L1032.0 1689.5 L1029.2 1687.9 L1032.4 1687.2 L1029.3 1685.4 L1033.6 1684.9 L1029.0 1683.0 L1033.9 1682.6 L1030.4 1680.7 L1034.2 1680.3 L1030.1 1678.1 L1034.6 1678.0 L1030.6 1675.6 L1034.7 1675.6 L1032.2 1673.6 L1036.2 1673.6 L1032.1 1671.0 L1036.8 1671.3 L1033.5 1668.9 L1037.5 1669.1 L1033.9 1666.4 L1037.8 1666.7 L1035.3 1664.4 L1038.9 1664.6 L1036.5 1662.2 L1040.1 1662.5 L1037.4 1660.1 L1040.8 1660.1 L1038.2 1657.9 L1042.1 1657.9 L1039.0 1655.7 L1042.8 1655.5 L1039.5 1653.3 L1042.7 1653.0 L1039.3 1650.8 L1043.5 1650.8 L1040.0 1648.5 L1044.9 1648.7 L1040.7 1646.2 L1044.8 1646.2 L1041.9 1644.0 L1045.5 1643.9 L1042.1 1641.6 L1047.0 1641.8 L1043.1 1639.4 L1047.3 1639.3 L1044.1 1637.2 L1048.3 1637.0 L1044.4 1634.9 L1048.6 1634.6 L1045.3 1632.6 L1048.6 1632.3 L1046.1 1630.2 L1049.9 1630.5 L1046.8 1627.3 L1049.9 1628.5 L1048.2 1624.8 L1051.9 1627.8 L1051.0 1624.9 L1053.8 1626.9 L1052.5 1623.4 L1055.8 1625.3 L1054.0 1621.4 L1056.8 1623.4 L1056.7 1619.8 L1058.4 1623.1 L1059.9 1619.0 L1060.0 1623.3 L1062.7 1620.4 L1061.7 1624.3 L1065.0 1622.0 L1062.8 1626.3 L1066.3 1624.6 L1064.4 1627.7 L1068.0 1626.5 L1065.8 1629.4 L1069.2 1628.6 L1067.0 1631.7 L1070.9 1630.0 L1068.2 1634.2 L1072.5 1631.2 L1071.1 1635.0 L1073.8 1633.0 L1072.6 1637.1 L1075.8 1634.6 L1074.5 1637.8 L1078.1 1635.9 L1075.3 1639.5 L1079.0 1638.6 L1076.2 1641.2 L1080.4 1640.7 L1077.8 1643.1 L1081.0 1643.1 L1077.9 1645.5 L1082.3 1645.3 L1079.2 1647.5 L1082.9 1647.7 L1079.1 1650.0 L1083.3 1650.1 L1080.2 1652.4 L1083.6 1651.9 L1082.2 1655.5 L1082.4 1651.5 L1085.5 1654.1 L1083.1 1650.7 L1086.3 1651.2 L1084.3 1648.7 L1088.0 1649.4 L1085.1 1646.4 L1088.7 1647.3 L1087.0 1644.0 L1089.0 1646.3 L1090.1 1642.5 L1088.0 1647.1 L1092.1 1645.7 L1089.3 1648.4 L1092.5 1648.3 L1089.6 1650.9 L1093.8 1650.4 L1090.6 1653.1 L1094.3 1652.7 L1091.6 1655.5 L1095.8 1654.5 L1093.1 1657.9 L1096.8 1655.4 L1096.4 1660.3 L1095.5 1656.5 L1099.0 1657.3 L1095.2 1654.7 L1099.6 1654.5 L1096.0 1652.4 L1099.4 1652.0 L1095.9 1649.9 L1100.2 1649.7 L1097.2 1647.8 L1100.7 1647.4 L1097.3 1645.3 L1100.9 1644.9 L1097.9 1643.0 L1101.9 1642.7 L1098.5 1640.7 L1102.1 1640.3 L1098.8 1638.3 L1103.4 1638.1 L1099.1 1635.9 L1103.4 1635.6 L1099.8 1633.6 L1104.0 1633.3 L1100.3 1631.3 L1104.2 1630.9 L1100.7 1628.8 L1105.6 1628.9 L1101.7 1626.4 L1105.8 1626.7 L1102.8 1624.1 L1106.9 1624.8 L1104.5 1622.2 L1108.5 1622.8 L1105.3 1620.0 L1108.7 1620.1 L1106.2 1617.9 L1109.6 1617.8 L1106.2 1615.4 L1110.0 1615.4 L1107.6 1613.4 L1111.5 1613.3 L1108.3 1611.0 L1111.5 1610.9 L1108.6 1608.6 L1112.9 1608.9 L1109.6 1606.3 L1113.9 1606.8 L1111.0 1604.2 L1114.7 1605.2 L1112.3 1600.7 L1113.7 1603.6 L1115.3 1601.9 L1113.8 1605.5 L1117.2 1603.7 L1115.7 1607.5 L1118.2 1605.6 L1117.8 1608.4 L1120.7 1605.4 L1119.7 1608.9 L1123.1 1606.6 L1120.7 1610.1 L1124.4 1609.4 L1121.2 1612.3 L1125.1 1611.8 L1122.0 1614.5 L1126.8 1613.7 L1123.4 1616.5 L1127.2 1616.2 L1123.8 1618.9 L1128.2 1618.3 L1125.3 1621.0 L1129.5 1620.1 L1126.0 1623.5 L1130.2 1622.4 L1127.9 1625.2 L1131.6 1624.4 L1129.0 1627.1 L1133.4 1626.4 L1129.3 1629.3 L1134.1 1629.0 L1130.0 1631.5 L1134.7 1631.3 L1131.5 1633.6 L1135.1 1633.7 L1131.2 1636.1 L1136.3 1636.0 L1132.6 1638.2 L1136.3 1638.5 L1132.7 1640.6 L1136.8 1640.9 L1133.3 1642.9 L1136.9 1643.3 L1134.0 1645.2 L1137.9 1645.5 L1134.9 1647.4 L1138.0 1648.0 L1134.4 1650.0 L1139.2 1650.2 L1134.9 1652.3 L1139.6 1652.6 L1135.5 1654.6 L1140.3 1654.8 L1135.9 1657.0 L1139.9 1657.4 L1136.8 1659.3 L1140.7 1659.6 L1137.3 1661.7 L1141.3 1661.9 L1138.1 1664.0 L1142.6 1664.0 L1138.6 1666.4 L1142.5 1666.5 L1139.4 1668.7 L1143.4 1668.6 L1139.8 1671.2 L1144.1 1670.9 L1141.4 1673.2 L1145.4 1673.0 L1142.4 1675.4 L1146.2 1675.3 L1142.3 1677.9 L1146.8 1677.7 L1143.7 1679.9 L1147.4 1680.0 L1144.1 1682.3 L1147.8 1682.4 L1145.3 1684.5 L1148.5 1684.6 L1145.9 1686.9 L1149.6 1686.8 L1146.8 1689.2 L1150.3 1689.0 L1147.9 1691.3 L1151.6 1691.1 L1148.1 1693.8 L1152.6 1693.3 L1149.2 1695.8 L1153.4 1695.7 L1150.2 1697.9 L1154.2 1698.1 L1150.6 1700.4 L1154.6 1700.3 L1151.1 1702.9 L1155.2 1702.2 L1152.8 1705.2 L1156.1 1704.1 L1154.6 1707.1 L1158.0 1705.3 L1156.5 1708.9 L1159.8 1706.6 L1158.9 1710.2 L1160.7 1708.0 L1162.2 1712.5 L1161.0 1708.0 L1164.1 1709.2 L1161.1 1706.3 L1164.8 1706.5 L1161.5 1703.7 L1165.5 1704.7 L1163.1 1700.9 L1166.5 1703.1 L1165.9 1700.6 L1169.2 1703.7 L1167.7 1699.5 L1170.6 1701.0 L1168.7 1698.1 L1172.4 1698.9 L1169.3 1696.0 L1173.1 1696.3 L1170.6 1694.1 L1174.8 1694.3 L1170.8 1691.7 L1174.7 1691.7 L1172.0 1689.5 L1175.7 1689.6 L1172.5 1686.8 L1176.6 1688.0 L1174.0 1683.9 L1177.6 1687.2 L1176.9 1682.8 L1179.2 1687.5 L1179.0 1682.9 L1181.9 1686.6 L1180.5 1682.6 L1184.2 1684.4 L1181.2 1680.7 L1185.6 1682.1 L1183.0 1678.7 L1185.8 1680.8 L1185.1 1676.5 L1187.0 1680.8 L1186.6 1677.6 L1189.0 1681.2 L1187.1 1676.7 L1191.0 1678.2 L1187.8 1675.5 L1192.1 1675.7 L1188.1 1673.1 L1192.6 1673.4 L1189.3 1671.0 L1193.2 1671.1 L1190.1 1668.6 L1194.3 1669.1 L1191.3 1666.4 L1194.9 1667.0 L1192.6 1663.6 L1195.3 1665.6 L1195.3 1661.8 L1195.6 1666.4 L1198.0 1663.0 L1197.4 1667.8 L1198.8 1664.8 L1200.8 1667.7 L1199.2 1664.0 L1202.2 1664.8 L1199.4 1662.2 L1203.6 1662.5 L1200.7 1660.2 L1204.8 1660.2 L1201.1 1657.9 L1205.4 1657.8 L1201.2 1655.4 L1206.1 1655.5 L1202.5 1653.3 L1206.2 1653.1 L1202.4 1650.7 L1206.3 1650.7 L1204.0 1648.6 L1207.7 1648.8 L1204.7 1645.8 L1208.2 1647.9 L1207.2 1642.7 L1207.6 1647.7 L1210.4 1644.6 L1208.6 1649.0 L1212.0 1646.7 L1210.7 1650.9 L1213.2 1648.0 L1214.1 1651.9 L1213.9 1648.3 L1216.6 1650.2 L1213.6 1646.7 L1218.2 1647.5 L1214.8 1644.9 L1218.4 1645.0 L1215.8 1642.7 L1219.6 1642.9 L1216.4 1640.4 L1220.6 1640.8 L1217.0 1638.0 L1221.9 1638.8 L1218.5 1635.9 L1222.4 1636.5 L1219.5 1633.4 L1223.6 1635.2 L1221.2 1631.2 L1224.7 1633.6 L1223.3 1630.1 L1226.7 1632.6 L1225.2 1629.3 L1229.0 1630.7 L1225.3 1627.2 L1229.6 1627.9 L1226.9 1625.4 L1231.0 1625.8 L1227.4 1623.1 L1232.0 1623.5 L1227.8 1620.8 L1232.7 1621.1 L1229.0 1618.8 L1232.6 1618.6 L1229.8 1616.5 L1233.7 1616.4 L1230.3 1614.2 L1234.0 1613.9 L1231.2 1612.0 L1235.0 1611.7 L1231.3 1609.6 L1235.3 1609.2 L1231.4 1607.1 L1236.0 1607.2 L1233.0 1604.7 L1236.2 1605.2 L1233.8 1602.3 L1237.9 1604.0 L1235.9 1600.4 L1239.0 1602.1 L1238.2 1598.6 L1240.1 1601.7 L1241.5 1597.7 L1240.8 1602.0 L1243.8 1600.2 L1241.6 1603.4 L1245.5 1602.3 L1242.9 1605.2 L1246.7 1604.3 L1243.9 1607.6 L1248.0 1605.9 L1245.8 1610.1 L1247.8 1607.5 L1249.1 1610.3 L1247.2 1607.0 L1250.9 1607.3 L1247.6 1605.2 L1250.8 1604.7 L1248.1 1602.8 L1251.8 1602.4 L1247.9 1600.3 L1252.4 1600.1 L1248.4 1598.0 L1252.3 1597.6 L1249.7 1595.8 L1253.5 1595.4 L1249.9 1593.4 L1253.9 1593.0 L1250.3 1591.1 L1253.8 1590.6 L1250.9 1588.5 L1253.9 1588.8 L1252.7 1584.3 L1252.2 1589.4 L1255.6 1587.9 L1252.8 1590.7 L1256.6 1590.4 L1254.1 1592.8 L1257.8 1592.0 L1254.9 1595.7 L1258.7 1593.4 L1257.6 1597.4 L1259.3 1593.9 L1261.2 1597.9 L1259.8 1594.3 L1263.3 1595.2 L1259.3 1592.3 L1263.5 1592.3 L1260.0 1590.0 L1264.8 1590.2 L1261.3 1587.9 L1265.3 1587.8 L1261.2 1585.5 L1265.7 1585.3 L1261.6 1583.2 L1265.9 1582.8 L1262.7 1581.0 L1266.8 1580.7 L1263.4 1578.4 L1266.6 1578.8 L1264.3 1574.9 L1266.8 1578.1 L1268.3 1574.5 L1267.7 1579.0 L1270.0 1577.1 L1269.6 1580.9 L1270.9 1578.2 L1273.2 1581.2 L1270.9 1577.0 L1274.4 1578.0 L1272.0 1574.9 L1275.1 1576.1 L1273.4 1573.0 L1277.2 1574.9 L1275.7 1572.1 L1278.5 1572.8 L1275.6 1569.8 L1279.8 1570.2 L1276.9 1568.1 L1280.4 1567.8 L1277.4 1565.9 L1280.8 1565.3 L1278.0 1563.6 L1281.7 1562.9 L1278.0 1561.2 L1281.4 1560.5 L1277.9 1558.8 L1281.7 1558.1 L1278.8 1556.5 L1282.9 1555.9 L1279.3 1554.1 L1282.8 1553.4 L1278.9 1551.6 L1283.6 1551.1 L1280.0 1549.4 L1283.5 1548.7 L1279.7 1546.9 L1283.9 1546.3 L1279.8 1544.5 L1284.0 1543.9 L1280.2 1542.1 L1284.8 1541.6 L1281.4 1539.9 L1285.1 1539.2 L1281.9 1537.4 L1285.7 1537.2 L1282.2 1534.8 L1286.5 1535.4 L1283.3 1532.3 L1287.2 1533.4 L1285.2 1530.4 L1288.9 1531.7 L1286.6 1528.7 L1290.8 1529.9 L1287.8 1526.9 L1291.4 1527.2 L1288.1 1524.7 L1292.0 1524.7 L1288.6 1522.4 L1292.8 1522.4 L1289.4 1520.1 L1293.6 1520.0 L1290.3 1517.9 L1294.1 1517.7 L1291.2 1515.7 L1294.4 1515.3 L1290.9 1513.2 L1295.2 1513.0 L1291.7 1510.9 L1295.5 1510.6 L1292.4 1508.6 L1296.3 1508.3 L1292.9 1506.3 L1296.7 1505.9 L1293.9 1504.1 L1297.2 1503.7 L1294.4 1501.1 L1296.5 1502.3 L1297.8 1499.8 L1295.5 1503.5 L1299.1 1503.1 L1295.5 1505.7 L1300.2 1505.3 L1296.2 1507.9 L1301.0 1507.6 L1297.7 1509.9 L1301.1 1510.1 L1298.5 1512.2 L1302.2 1512.3 L1298.4 1514.6 L1302.5 1514.8 L1299.3 1516.8 L1303.4 1517.1 L1299.4 1519.2 L1303.4 1519.6 L1299.6 1521.5 L1303.9 1522.0 L1300.3 1523.8 L1304.1 1524.4 L1301.3 1526.1 L1305.4 1526.6 L1301.1 1528.6 L1305.6 1529.0 L1302.3 1530.8 L1305.3 1531.4 L1302.6 1533.3 L1305.9 1533.7 L1303.1 1535.7 L1306.8 1535.9 L1304.0 1537.9 L1307.4 1538.2 L1304.1 1540.4 L1308.0 1540.5 L1304.6 1542.8 L1309.1 1542.7 L1305.5 1545.1 L1309.5 1545.0 L1306.5 1547.3 L1310.7 1547.2 L1307.3 1549.5 L1310.7 1549.7 L1307.5 1552.0 L1312.2 1551.7 L1308.8 1554.1 L1312.1 1554.1 L1309.4 1557.3 L1313.0 1555.2 L1311.9 1558.4 L1314.4 1555.2 L1314.3 1558.3 L1316.9 1555.5 L1315.7 1559.4 L1319.5 1557.6 L1316.4 1561.2 L1320.0 1560.6 L1317.0 1563.1 L1321.1 1563.0 L1317.6 1565.3 L1322.3 1565.1 L1318.9 1567.5 L1322.2 1567.5 L1319.0 1570.3 L1323.4 1569.4 L1320.4 1572.5 L1324.7 1570.8 L1322.8 1575.2 L1324.2 1571.9 L1326.2 1574.7 L1323.7 1571.0 L1327.1 1571.4 L1324.1 1569.0 L1328.3 1569.3 L1325.2 1566.7 L1329.4 1567.7 L1327.0 1564.2 L1329.0 1566.7 L1330.3 1563.7 L1327.8 1567.1 L1332.1 1566.6 L1328.5 1568.7 L1332.3 1569.2 L1328.1 1571.2 L1332.8 1571.6 L1329.0 1573.5 L1332.8 1574.0 L1329.9 1575.8 L1333.4 1576.2 L1330.2 1578.3 L1333.8 1578.5 L1331.0 1580.6 L1334.4 1580.8 L1331.2 1583.0 L1335.7 1583.0 L1332.4 1585.1 L1335.9 1585.5 L1332.6 1587.5 L1336.6 1587.8 L1332.7 1589.9 L1337.0 1590.2 L1333.8 1592.1 L1338.0 1592.5 L1334.4 1594.4 L1336.6 1595.2 L1336.0 1596.5 L1337.0 1597.6 L1336.4 1598.9 L1337.5 1599.9 L1336.9 1601.2 L1337.9 1602.3 L1337.3 1603.6 L1338.3 1604.6 L1337.7 1606.0 L1338.9 1607.0 L1338.5 1608.3 L1339.4 1609.3 L1339.1 1610.6 L1340.1 1611.6 L1339.8 1612.9 L1340.8 1613.9 L1340.5 1615.2 L1341.6 1616.2 L1341.0 1617.5 L1341.9 1618.6 L1341.5 1619.9 L1342.4 1620.9 L1341.9 1622.2 L1342.8 1623.3 L1342.4 1624.6 L1343.1 1625.7 L1342.5 1627.0 L1343.7 1628.0 L1343.1 1629.3 L1344.0 1630.4 L1343.3 1631.7 L1344.4 1632.8 L1343.9 1634.1 L1344.7 1635.1 L1344.2 1636.4 L1345.1 1637.5 L1344.6 1638.8 L1345.5 1639.8 L1345.1 1641.2 L1346.3 1642.1 L1345.9 1643.5 L1347.2 1644.3 L1346.7 1645.8 L1347.8 1646.7 L1347.6 1648.0 L1348.6 1648.9 L1348.2 1650.3 L1349.1 1651.3 L1348.4 1652.6 L1349.4 1653.7 L1349.0 1655.0 L1349.9 1656.0 L1349.2 1657.4 L1350.4 1658.4 L1349.8 1659.7 L1350.7 1660.8 L1350.1 1662.1 L1351.2 1663.1 L1350.7 1664.5 L1351.6 1665.5 L1351.2 1666.8 L1352.3 1667.7 L1352.0 1669.1 L1353.2 1669.9 L1353.0 1671.3 L1354.3 1672.1 L1354.1 1673.5 L1355.1 1674.3 L1354.9 1675.6 L1355.9 1676.6 L1355.2 1678.0 L1356.3 1679.0 L1355.5 1680.3 L1356.7 1681.4 L1356.0 1682.7 L1356.9 1683.8 L1356.4 1685.1 L1357.2 1686.2 L1356.7 1687.5 L1357.5 1688.5 L1357.0 1689.8 L1357.9 1690.9 L1357.4 1692.2 L1358.4 1693.3 L1357.8 1694.6 L1358.6 1695.7 L1358.1 1697.0 L1358.9 1698.0 L1358.3 1699.3 L1359.2 1700.4 L1358.6 1701.7 L1359.7 1702.8 L1359.0 1704.1 L1359.9 1705.2 L1359.4 1706.5 L1360.3 1707.5 L1359.7 1708.9 L1360.6 1709.9 L1360.3 1711.2 L1361.4 1712.1 L1361.0 1713.5 L1362.3 1714.4 L1361.8 1715.8 L1362.9 1716.7 L1362.6 1718.0 L1363.7 1718.9 L1363.3 1720.3 L1364.4 1721.2 L1364.1 1722.6 L1365.1 1723.5 L1364.8 1724.9 L1366.1 1725.7 L1366.0 1726.9 L1367.2 1727.7 L1366.6 1729.2 L1367.9 1730.1 L1367.2 1731.5 L1368.4 1732.4 L1367.9 1733.8 L1368.9 1734.8 L1368.4 1736.1 L1369.5 1737.1 L1369.1 1738.4 L1370.0 1739.5 L1369.4 1740.8 L1370.5 1741.8 L1370.0 1743.2 L1371.0 1744.2 L1370.5 1745.5 L1371.6 1746.5 L1371.0 1747.8 L1371.7 1748.9 L1371.1 1750.2 L1371.9 1751.3 L1371.3 1752.6 L1372.1 1753.7 L1371.4 1755.0 L1372.3 1756.1 L1371.6 1757.4 L1372.4 1758.5 L1371.7 1759.8 L1372.6 1760.9 L1372.0 1762.2 L1372.7 1763.3 L1372.0 1764.6 L1372.9 1765.7 L1372.3 1767.0 L1373.1 1768.1 L1372.4 1769.3 L1373.1 1770.5 L1372.5 1771.7 L1373.3 1772.9 L1372.6 1774.1 L1373.5 1775.3 L1372.8 1776.5 L1373.6 1777.7 L1373.0 1778.9 L1373.8 1780.1 L1373.1 1781.3 L1373.8 1782.5 L1373.3 1783.7 L1374.0 1784.9 L1373.4 1786.1 L1374.3 1787.3 L1373.5 1788.5 L1374.4 1789.7 L1373.6 1790.9 L1374.4 1792.1 L1373.7 1793.3 L1374.7 1794.4 L1374.1 1795.7 L1374.9 1796.8 L1374.3 1798.1 L1375.1 1799.2 L1374.4 1800.5 L1375.4 1801.6 L1374.7 1802.9 L1375.6 1804.0 L1375.0 1805.3 L1375.9 1806.4 L1375.5 1807.6 L1376.3 1808.7 L1375.9 1810.0 L1376.7 1811.1 L1376.2 1812.4 L1377.0 1813.5 L1376.4 1814.8 L1377.4 1815.9 L1376.7 1817.2 L1377.7 1818.2 L1377.0 1819.5 L1378.1 1820.6 L1377.4 1821.9 L1378.5 1823.0 L1377.9 1824.3 L1378.8 1825.3 L1378.2 1826.6 L1379.1 1827.7 L1378.4 1829.0 L1379.5 1830.1 L1378.9 1831.4 L1379.7 1832.5 L1379.0 1833.8 L1380.1 1834.9 L1379.3 1836.2 L1380.1 1837.3 L1379.6 1838.5 L1380.4 1839.7 L1379.8 1840.9 L1380.8 1842.0 L1380.2 1843.3 L1381.1 1844.4 L1380.3 1845.7 L1381.2 1846.8 L1380.6 1848.1 L1381.4 1849.2 L1380.7 1850.5 L1381.7 1851.6 L1381.1 1852.9 L1381.8 1854.0 L1381.4 1855.2 L1382.3 1856.4 L1381.6 1857.6 L1382.4 1858.8 L1381.8 1860.0 L1382.7 1861.1 L1382.0 1862.4 L1382.8 1863.5 L1382.2 1864.8 L1383.2 1865.9 L1382.5 1867.2 L1383.5 1868.3 L1382.6 1869.6 L1383.5 1870.7 L1383.0 1872.0 L1383.8 1873.1 L1383.2 1874.4 L1384.2 1875.5 L1383.4 1876.8 L1384.2 1877.9 L1383.8 1879.1 L1384.6 1880.2 L1383.9 1881.5 L1384.8 1882.6 L1384.2 1883.9 L1385.0 1885.0 L1384.3 1886.3 L1385.3 1887.4 L1384.5 1888.7 L1385.5 1889.8 L1385.0 1891.1 L1385.7 1892.2 L1385.2 1893.5 L1386.1 1894.6 L1385.3 1895.9 L1386.1 1897.0 L1385.7 1898.2 L1386.4 1899.4 L1385.8 1900.6 L1386.7 1901.7 L1386.1 1903.0 L1386.9 1904.1 L1386.4 1905.4 L1387.2 1906.5 L1386.6 1907.8 L1387.3 1908.9 L1386.8 1910.2 L1387.8 1911.3 L1387.1 1912.6 L1387.9 1913.7 L1387.3 1915.0 L1388.1 1916.1 L1387.6 1917.3 L1388.4 1918.5 L1387.8 1919.7 L1388.7 1920.8 L1388.0 1922.1 L1389.0 1923.2 L1388.2 1924.5 L1389.1 1925.6 L1388.5 1926.9 L1389.5 1928.0 L1388.7 1929.3 L1389.7 1930.4 L1389.0 1931.7 L1389.9 1932.8 L1389.3 1934.1 L1390.1 1935.2 L1389.4 1936.5 L1390.4 1937.6 L1389.6 1938.8 L1390.6 1940.0 L1390.0 1941.2 L1390.9 1942.3 L1390.1 1943.6 L1391.0 1944.7 L1390.4 1946.0 L1391.2 1947.1 L1390.6 1948.4 L1391.5 1949.5 L1391.0 1950.8 L1391.7 1951.9 L1391.1 1953.2 L1392.1 1954.3 L1391.3 1955.6 L1392.2 1956.7 L1391.6 1957.9 L1392.4 1959.1 L1391.8 1960.3 L1392.6 1961.5 L1392.1 1962.7 L1393.0 1963.8 L1392.3 1965.1 L1393.1 1966.2 L1392.5 1967.5 L1393.3 1968.6 L1392.8 1969.9 L1393.5 1971.0 L1393.0 1972.3 L1393.8 1973.4 L1393.1 1974.7 L1394.1 1975.8 L1393.3 1977.1 L1394.3 1978.2 L1393.6 1979.5 L1394.6 1980.6 L1394.0 1981.8 L1394.7 1983.0 L1394.1 1984.2 L1395.1 1985.3 L1394.4 1986.6 L1395.3 1987.7 L1394.6 1989.0 L1395.6 1990.1 L1394.9 1991.4 L1395.7 1992.5 L1395.0 1993.8 L1395.9 1994.9 L1395.3 1996.2 L1396.1 1997.3 L1395.6 1998.5 L1396.4 1999.7 L1395.7 2000.9 L1396.6 2002.1 L1396.0 2003.3 L1396.8 2004.5 L1396.2 2005.7 L1397.2 2006.8 L1396.4 2008.1 L1397.3 2009.2 L1396.7 2010.5 L1397.7 2011.6 L1396.9 2012.9 L1397.7 2014.0 L1397.1 2015.3 L1398.2 2016.4 L1397.5 2017.7 L1398.3 2018.8 L1397.8 2020.0 L1398.7 2021.1 L1398.0 2022.4 L1399.0 2023.5 L1398.3 2024.8 L1399.3 2025.9 L1398.7 2027.2 L1399.7 2028.3 L1399.0 2029.6 L1399.9 2030.7 L1399.3 2031.9 L1400.2 2033.0 L1399.7 2034.3 L1400.5 2035.4 L1400.0 2036.7 L1400.8 2037.8 L1400.2 2039.1 L1401.1 2040.2 L1400.5 2041.5 L1401.3 2042.6 L1400.8 2043.9 L1401.6 2045.0 L1401.0 2046.2 L1402.0 2047.3 L1401.2 2048.6 L1402.2 2049.7 L1401.6 2051.0 L1402.6 2052.1 L1402.0 2053.4 L1402.7 2054.5 L1402.3 2055.8 L1403.0 2056.9 L1402.5 2058.2 L1403.5 2059.2 L1403.0 2060.5 L1404.0 2061.5 L1403.5 2062.9 L1404.6 2063.9 L1404.0 2065.2 L1405.1 2066.2 L1404.5 2067.6 L1405.5 2068.6 L1405.0 2069.9 L1406.0 2070.9 L1405.5 2072.3 L1406.6 2073.3 L1405.9 2074.6 L1406.9 2075.7 L1406.3 2077.0 L1407.4 2078.0 L1406.8 2079.3 L1407.7 2080.4 L1407.2 2081.7 L1408.2 2082.7 L1407.6 2084.1 L1408.4 2085.1 L1407.9 2086.4 L1408.9 2087.5 L1408.3 2088.8 L1409.3 2089.9 L1408.7 2091.2 L1409.7 2092.2 L1409.2 2093.6 L1410.2 2094.6 L1409.9 2095.9 L1410.8 2096.9 L1410.5 2098.2 L1411.4 2099.2 L1411.0 2100.6 L1411.9 2101.5 L1411.5 2102.9 L1412.8 2103.7 L1412.8 2105.0 L1413.8 2105.9 L1413.5 2107.3 L1416.6 2107.4 L1413.4 2109.9 L1416.6 2109.9 L1413.6 2112.5 L1417.6 2112.0 L1414.5 2114.9 L1419.0 2113.9 L1416.1 2116.9 L1420.1 2116.0 L1417.2 2118.9 L1421.5 2118.1 L1418.7 2120.7 L1422.9 2120.2 L1419.7 2122.8 L1423.6 2122.6 L1420.5 2125.0 L1424.3 2124.9 L1421.0 2127.5 L1425.3 2126.9 L1422.4 2129.6 L1426.0 2129.1 L1423.1 2131.9 L1427.5 2131.1 L1423.7 2134.2 L1428.3 2133.5 L1425.2 2136.0 L1428.7 2136.1 L1425.9 2138.2 L1429.6 2138.4 L1426.5 2140.5 L1429.9 2140.8 L1426.6 2143.0 L1431.0 2142.8 L1427.8 2145.5 L1431.9 2144.3 L1429.3 2147.8 L1432.8 2145.8 L1431.8 2149.4 L1434.6 2146.5 L1433.5 2150.9 L1437.0 2147.9 L1435.2 2151.4 L1439.1 2149.7 L1436.1 2152.8 L1439.7 2152.6 L1436.6 2155.0 L1441.1 2154.7 L1437.7 2157.1 L1441.6 2157.1 L1438.0 2159.5 L1442.2 2159.5 L1438.8 2161.8 L1443.3 2161.6 L1439.9 2164.0 L1444.1 2163.9 L1440.4 2166.3 L1444.6 2166.2 L1440.7 2169.1 L1444.5 2168.2 L1442.3 2172.1 L1446.1 2168.6 L1444.8 2171.7 L1447.7 2169.3 L1446.5 2172.4 L1450.1 2171.2 L1447.1 2174.2 L1451.0 2173.9 L1447.7 2176.4 L1451.6 2176.0 L1448.8 2179.1 L1451.3 2178.0 L1450.6 2181.8 L1452.9 2178.0 L1453.3 2180.7 L1455.2 2177.0 L1455.0 2181.8 L1458.3 2178.4 L1456.1 2182.8 L1459.9 2181.1 L1457.6 2183.8 L1461.5 2183.4 L1457.6 2185.9 L1461.3 2186.2 L1458.4 2188.2 L1462.1 2188.4 L1459.1 2190.6 L1462.7 2190.7 L1460.4 2192.7 L1464.5 2192.5 L1461.0 2195.1 L1465.1 2194.5 L1462.2 2197.6 L1465.4 2196.6 L1463.9 2199.5 L1467.2 2197.7 L1466.0 2201.1 L1469.2 2198.9 L1467.8 2202.5 L1471.2 2200.5 L1469.2 2204.3 L1472.4 2202.7 L1471.1 2206.1 L1473.9 2203.8 L1473.5 2208.7 L1474.9 2204.4 L1476.0 2207.1 L1477.0 2202.3 L1477.2 2206.7 L1479.7 2203.6 L1477.9 2207.6 L1481.0 2206.4 L1479.4 2209.7 L1482.2 2208.0 L1481.7 2210.8 L1484.5 2208.2 L1483.9 2212.1 L1486.6 2209.3 L1486.0 2213.3 L1488.4 2211.0 L1488.1 2214.6 L1490.9 2211.1 L1490.4 2215.2 L1493.1 2212.2 L1492.4 2216.6 L1495.2 2213.0 L1494.5 2217.8 L1497.5 2213.8 L1497.0 2217.8 L1499.6 2215.2 L1498.6 2219.1 L1502.0 2216.4 L1500.4 2220.6 L1503.5 2218.4 L1502.3 2221.8 L1505.6 2219.8 L1503.5 2223.5 L1507.0 2222.1 L1504.7 2225.0 L1508.9 2223.4 L1506.7 2227.4 L1508.9 2225.0 L1509.1 2228.3 L1510.4 2224.4 L1511.7 2227.3 L1512.7 2224.3 L1513.7 2228.4 L1515.6 2224.1 L1515.5 2228.7 L1518.1 2225.4 L1517.1 2228.9 L1520.4 2227.0 L1518.0 2230.5 L1522.0 2229.2 L1519.5 2232.4 L1523.3 2230.7 L1521.4 2234.4 L1524.3 2231.7 L1523.9 2236.4 L1525.7 2232.4 L1527.2 2236.3 L1527.0 2231.9 L1529.8 2234.7 L1528.3 2230.9 L1532.0 2233.1 L1530.0 2229.3 L1533.3 2231.4 L1532.1 2227.6 L1535.0 2230.4 L1534.5 2226.2 L1537.0 2229.8 L1537.3 2225.7 L1538.5 2229.2 L1540.5 2225.1 L1539.9 2229.1 L1542.6 2227.1 L1540.9 2230.9 L1544.6 2228.7 L1542.6 2232.5 L1546.5 2230.1 L1544.3 2233.9 L1548.0 2232.4 L1545.7 2235.5 L1548.9 2234.8 L1546.2 2238.1 L1550.4 2236.5 L1548.1 2239.9 L1552.0 2238.1 L1549.7 2241.6 L1553.6 2240.0 L1551.6 2242.9 L1555.4 2242.0 L1552.2 2245.0 L1556.3 2244.4 L1552.9 2247.6 L1557.4 2246.1 L1554.4 2250.0 L1557.9 2248.2 L1557.1 2251.6 L1559.7 2248.4 L1560.0 2253.1 L1560.9 2249.2 L1563.2 2251.9 L1561.9 2248.3 L1564.8 2249.4 L1562.9 2246.4 L1566.4 2248.2 L1564.8 2243.7 L1567.4 2246.8 L1567.2 2244.1 L1569.7 2247.5 L1568.4 2243.2 L1571.9 2245.6 L1569.1 2242.2 L1573.0 2242.8 L1569.6 2239.9 L1574.1 2240.9 L1571.4 2237.7 L1574.8 2239.5 L1573.4 2235.4 L1575.9 2238.7 L1576.1 2235.5 L1577.4 2238.7 L1579.2 2234.9 L1579.2 2238.3 L1581.4 2236.4 L1580.4 2239.7 L1583.6 2237.9 L1582.1 2241.3 L1585.0 2239.6 L1584.0 2243.4 L1586.8 2240.6 L1586.7 2244.3 L1588.6 2241.2 L1589.7 2245.4 L1590.6 2241.3 L1591.7 2244.4 L1593.1 2239.5 L1593.7 2243.8 L1595.2 2241.2 L1595.6 2246.0 L1596.8 2241.9 L1598.2 2245.0 L1598.6 2241.0 L1600.1 2243.5 L1600.6 2240.2 L1602.1 2244.8 L1602.9 2241.1 L1604.5 2244.3 L1604.6 2239.7 L1606.6 2243.4 L1606.8 2239.1 L1608.8 2242.9 L1609.0 2239.5 L1611.5 2243.4 L1610.7 2238.9 L1613.7 2241.5 L1611.9 2236.8 L1614.9 2239.5 L1614.7 2235.4 L1616.4 2238.8 L1617.7 2235.8 L1618.1 2240.0 L1620.0 2236.6 L1620.3 2240.7 L1622.3 2236.8 L1622.5 2240.8 L1624.8 2236.6 L1624.8 2240.7 L1626.8 2238.1 L1626.7 2242.5 L1628.9 2238.8 L1629.0 2242.8 L1631.3 2238.8 L1631.2 2242.9 L1633.6 2239.6 L1633.0 2244.2 L1635.6 2241.1 L1635.4 2244.9 L1638.0 2241.0 L1637.6 2245.7 L1640.3 2242.2 L1639.7 2246.3 L1642.2 2244.0 L1641.9 2248.0 L1643.8 2244.6 L1644.8 2249.0 L1645.0 2244.0 L1647.1 2246.8 L1646.8 2243.1 L1648.9 2245.7 L1650.0 2241.8 L1650.4 2245.5 L1652.6 2243.7 L1651.3 2247.7 L1654.1 2245.0 L1653.8 2249.2 L1654.2 2245.4 L1656.9 2248.2 L1654.8 2244.1 L1657.6 2245.6 L1656.9 2241.4 L1658.1 2245.2 L1659.8 2242.3 L1659.0 2247.5 L1661.3 2243.9 L1661.8 2248.5 L1662.2 2244.1 L1664.8 2246.2 L1663.2 2242.7 L1666.4 2243.9 L1663.9 2240.6 L1667.8 2242.1 L1666.2 2238.6 L1668.1 2240.6 L1668.9 2237.6 L1668.7 2242.3 L1671.1 2239.1 L1670.7 2243.6 L1672.3 2239.9 L1673.8 2242.7 L1673.9 2239.3 L1676.3 2242.3 L1675.9 2237.4 L1677.9 2241.5 L1678.9 2237.6 L1679.7 2241.2 L1681.5 2238.7 L1681.8 2242.4 L1683.4 2239.1 L1684.9 2243.1 L1684.8 2239.0 L1687.3 2241.6 L1686.3 2237.3 L1688.5 2240.2 L1688.7 2236.2 L1689.6 2241.0 L1690.8 2237.4 L1691.7 2241.0 L1692.7 2237.4 L1694.3 2240.5 L1694.7 2236.3 L1696.6 2240.0 L1697.1 2236.5 L1698.5 2240.1 L1699.8 2235.6 L1700.5 2239.3 L1702.3 2236.0 L1702.2 2240.8 L1704.6 2237.3 L1704.4 2241.6 L1706.9 2237.7 L1706.7 2241.8 L1709.4 2237.9 L1708.9 2242.1 L1711.0 2239.9 L1710.7 2244.3 L1712.5 2241.4 L1713.6 2244.7 L1714.4 2240.4 L1716.2 2243.5 L1716.5 2240.0 L1718.9 2243.8 L1718.5 2239.4 L1721.2 2242.5 L1720.0 2238.0 L1723.1 2240.6 L1721.8 2236.4 L1724.8 2239.3 L1724.6 2235.7 L1726.8 2238.9 L1727.1 2235.0 L1728.8 2238.8 L1729.6 2234.8 L1731.2 2238.0 L1731.7 2235.2 L1734.0 2238.3 L1733.5 2233.1 L1735.3 2236.5 L1736.1 2232.0 L1736.3 2236.4 L1738.8 2233.7 L1737.2 2238.4 L1740.3 2236.0 L1739.8 2238.9 L1742.8 2236.4 L1741.9 2239.8 L1745.1 2237.8 L1743.2 2241.7 L1746.4 2240.3 L1744.5 2243.7 L1748.0 2242.0 L1746.2 2245.4 L1749.6 2243.8 L1747.6 2247.4 L1751.4 2245.4 L1749.3 2249.1 L1752.8 2247.2 L1751.3 2251.1 L1754.2 2247.6 L1754.6 2252.5 L1754.7 2248.6 L1757.3 2250.3 L1755.1 2246.8 L1758.8 2247.9 L1756.4 2244.8 L1759.6 2246.0 L1758.3 2242.2 L1760.3 2245.5 L1761.1 2242.0 L1761.6 2246.8 L1763.4 2243.8 L1763.5 2247.2 L1765.2 2243.3 L1766.0 2247.7 L1767.7 2243.0 L1767.9 2247.8 L1770.2 2243.6 L1770.3 2247.6 L1772.5 2244.9 L1772.0 2249.1 L1774.9 2245.8 L1773.3 2249.8" fill="none" stroke="#008000" stroke-width="5.3" stroke-linejoin="round" stroke-linecap="round"/>
<line x1="476.3" y1="2056" x2="476.3" y2="2127.3" stroke="#5c5c5c" stroke-width="3.3" stroke-dasharray="13.5 10.1" stroke-dashoffset="0"/><polygon points="467.1,2126.3 485.6,2126.3 476.3,2145.3" fill="#000"/>
<line x1="877.4" y1="1778" x2="877.4" y2="1987" stroke="#000" stroke-width="3.2" stroke-dasharray="13.5 10.1" stroke-dashoffset="0"/><polygon points="869.4,1986.0 885.4,1986.0 877.4,2004.0" fill="#000"/>
<line x1="944.8" y1="1777.2" x2="944.8" y2="2088" stroke="#ff00ff" stroke-width="3.0" stroke-dasharray="13.5 10.1" stroke-dashoffset="0"/><polygon points="934.5,1778.2 955.0,1778.2 944.8,1757.2" fill="#ff00ff"/>
<line x1="1053.4" y1="1565" x2="1053.4" y2="1999.5" stroke="#000" stroke-width="3.2" stroke-dasharray="13.5 10.1" stroke-dashoffset="0"/><polygon points="1045.4,1998.5 1061.4,1998.5 1053.4,2016.5" fill="#000"/>
<line x1="1113.7" y1="1554.5" x2="1113.7" y2="2048.5" stroke="#ff00ff" stroke-width="3.0" stroke-dasharray="13.5 10.1" stroke-dashoffset="0"/><polygon points="1103.5,1555.5 1124.0,1555.5 1113.7,1535.0" fill="#ff00ff"/>
<line x1="1234" y1="1554" x2="1230.2" y2="1868" stroke="#222" stroke-width="3.2" stroke-dasharray="13.5 10"/>
<polygon points="1222.5,1867 1238.5,1867 1230.3,1885.5" fill="#000"/>
<line x1="1286.9" y1="1434.7" x2="1286.9" y2="1957.5" stroke="#ff00ff" stroke-width="3.0" stroke-dasharray="13.5 10.1" stroke-dashoffset="0"/><polygon points="1276.7,1435.7 1297.2,1435.7 1286.9,1415.7" fill="#ff00ff"/>
<line x1="1332.4" y1="1471.2" x2="1332.4" y2="1879.5" stroke="#000" stroke-width="3.2" stroke-dasharray="13.5 10.1" stroke-dashoffset="0"/><polygon points="1323.4,1878.5 1341.4,1878.5 1332.4,1897.0" fill="#000"/>
<path d="M137.7 2235.2 L138.6 2234.5 L140.1 2233.7 L139.6 2231.7 L140.6 2230.4 L140.0 2228.7 L141.1 2227.2 L140.2 2225.5 L141.5 2224.0 L140.5 2222.3 L141.7 2220.8 L141.0 2219.1 L142.2 2217.8 L141.7 2215.7 L143.1 2215.3 L144.1 2215.4 L145.9 2216.7 L146.5 2216.3 L147.3 2215.3 L146.7 2213.4 L147.7 2212.0 L147.2 2210.4 L148.3 2208.9 L147.5 2207.2 L148.4 2205.7 L147.8 2204.0 L148.9 2202.5 L148.0 2200.8 L149.0 2199.3 L148.4 2197.6 L149.6 2196.1 L148.8 2194.4 L149.9 2193.0 L149.2 2191.1 L150.8 2190.5 L151.9 2188.7 L151.3 2191.1 L152.3 2192.3 L151.6 2194.0 L152.5 2195.6 L151.9 2197.2 L152.9 2198.7 L152.1 2200.4 L152.9 2201.9 L152.1 2203.6 L153.1 2205.1 L152.3 2206.8 L153.3 2208.3 L152.6 2210.0 L153.5 2211.5 L152.7 2213.2 L153.8 2214.7 L152.9 2216.4 L154.1 2217.9 L153.1 2219.6 L154.3 2221.0 L153.8 2222.8 L154.7 2223.9 L155.0 2223.7 L154.3 2221.8 L155.5 2220.4 L154.6 2218.7 L155.6 2217.2 L154.9 2215.5 L156.0 2214.0 L155.1 2212.3 L156.1 2210.8 L155.5 2209.1 L156.5 2207.6 L155.9 2205.9 L156.8 2204.5 L156.0 2202.6 L157.0 2201.4 L157.7 2199.8 L158.5 2200.6 L159.3 2201.6 L158.7 2203.5 L159.8 2205.0 L158.9 2206.6 L160.0 2208.2 L159.3 2209.8 L160.2 2211.3 L159.5 2213.0 L160.6 2214.5 L159.6 2216.2 L160.8 2217.7 L159.7 2219.4 L160.9 2220.9 L160.0 2222.6 L161.1 2224.1 L160.3 2225.8 L161.6 2227.2 L160.8 2229.1 L162.0 2229.9 L162.3 2230.0 L161.6 2228.0 L162.7 2226.6 L161.8 2224.9 L163.1 2223.4 L162.3 2221.7 L163.4 2220.2 L162.6 2218.5 L163.5 2217.0 L162.8 2215.3 L163.9 2213.9 L163.3 2212.1 L164.0 2211.1 L164.4 2211.9 L163.8 2213.7 L165.0 2215.1 L164.3 2216.8 L165.4 2218.3 L164.7 2220.0 L166.0 2221.4 L165.3 2223.2 L166.1 2224.4 L166.5 2224.5 L166.2 2222.6 L167.3 2221.2 L166.8 2219.5 L167.8 2218.0 L167.0 2216.3 L168.2 2214.8 L167.2 2213.1 L168.5 2211.7 L167.8 2209.9 L168.9 2208.6 L168.5 2206.7 L169.9 2206.6 L170.5 2206.6 L171.6 2205.4 L170.9 2203.5 L172.0 2202.1 L171.2 2200.4 L172.2 2198.9 L171.3 2197.2 L172.5 2195.7 L171.7 2194.1 L172.6 2192.5 L171.8 2190.9 L172.8 2189.3 L172.3 2187.7 L173.2 2186.2 L172.4 2184.4 L173.4 2183.1 L173.4 2182.4 L173.0 2184.3 L174.0 2185.7 L173.2 2187.4 L174.4 2188.9 L173.5 2190.6 L174.8 2192.1 L173.9 2193.8 L174.8 2195.3 L174.2 2196.9 L175.1 2198.5 L174.3 2200.1 L175.2 2201.7 L174.5 2203.3 L175.4 2204.9 L174.7 2206.5 L175.7 2208.1 L174.8 2209.7 L176.0 2211.3 L175.2 2212.9 L176.1 2214.5 L175.4 2216.1 L176.5 2217.6 L175.6 2219.3 L176.8 2220.8 L175.9 2222.5 L177.0 2224.0 L176.4 2225.7 L177.4 2227.2 L176.5 2228.9 L177.7 2230.4 L176.9 2232.1 L178.1 2233.5 L177.4 2235.2 L178.3 2236.7 L177.8 2238.5 L178.3 2239.1 L179.6 2238.5 L179.0 2236.5 L180.2 2235.3 L179.6 2233.2 L180.4 2232.5 L181.4 2233.1 L181.0 2235.1 L182.2 2236.4 L181.6 2238.2 L182.7 2239.5 L182.5 2241.4 L183.5 2242.2 L184.8 2243.1 L185.1 2241.0 L186.0 2239.9 L185.3 2238.0 L186.4 2236.6 L185.5 2234.9 L186.6 2233.4 L185.8 2231.7 L186.9 2230.2 L186.2 2228.5 L187.2 2227.0 L186.5 2225.3 L187.6 2223.8 L186.6 2222.1 L187.9 2220.8 L187.3 2218.5 L187.4 2220.3 L188.4 2221.7 L187.7 2223.4 L188.8 2224.9 L188.1 2226.6 L189.2 2228.1 L188.2 2229.8 L189.2 2231.3 L188.5 2233.0 L189.5 2234.5 L188.7 2236.2 L189.9 2237.7 L188.8 2239.4 L190.0 2240.9 L189.3 2242.6 L190.4 2244.0 L189.7 2245.7 L190.6 2247.2 L189.9 2249.2 L190.6 2249.8 L191.6 2249.0 L191.3 2247.0 L192.8 2245.8 L192.3 2244.0 L193.4 2242.6 L192.8 2240.9 L193.9 2239.5 L193.4 2237.8 L194.6 2236.3 L194.0 2234.6 L195.0 2233.2 L194.5 2231.4 L195.5 2230.0 L195.0 2228.3 L196.2 2226.9 L195.5 2225.1 L196.7 2223.9 L196.3 2221.6 L196.9 2222.4 L198.1 2223.4 L197.3 2225.3 L198.3 2226.7 L197.6 2228.4 L198.6 2229.9 L197.8 2231.6 L198.8 2233.1 L198.1 2234.8 L198.9 2236.3 L198.0 2238.0 L199.1 2239.5 L198.2 2241.2 L199.3 2242.7 L198.4 2244.4 L199.6 2245.9 L198.7 2247.6 L199.7 2249.1 L199.0 2250.7 L200.0 2252.3 L199.2 2253.9 L200.0 2255.4 L199.3 2257.4 L199.4 2256.5 L200.5 2255.3 L199.7 2253.5 L201.0 2252.1 L200.3 2250.4 L201.3 2248.9 L200.7 2247.2 L201.9 2245.8 L201.2 2244.0 L202.0 2242.8 L202.6 2241.6 L202.8 2243.5 L203.8 2244.7 L203.2 2246.7 L204.5 2247.9 L204.4 2249.7 L206.0 2250.5 L206.4 2252.7 L206.8 2251.6 L207.8 2250.7 L207.4 2248.8 L208.7 2247.5 L207.9 2245.6 L209.1 2244.5 L208.7 2242.4 L210.4 2242.7 L210.5 2243.7 L211.8 2244.3 L211.4 2242.2 L212.7 2241.0 L211.9 2239.2 L213.0 2237.7 L212.2 2236.1 L213.2 2234.5 L212.3 2232.9 L213.4 2231.4 L212.7 2229.7 L213.9 2228.2 L212.9 2226.5 L213.9 2225.0 L213.1 2223.3 L214.4 2221.8 L213.6 2220.1 L214.5 2218.7 L214.2 2216.6 L214.2 2218.6 L215.3 2219.9 L214.5 2221.7 L215.8 2223.1 L215.1 2224.8 L216.0 2226.3 L215.5 2228.2 L216.5 2229.1 L217.3 2229.5 L217.0 2227.4 L218.1 2226.2 L217.5 2224.2 L218.5 2223.1 L219.2 2221.6 L219.1 2223.6 L220.0 2224.9 L219.3 2226.7 L220.4 2228.2 L219.6 2229.8 L220.7 2231.4 L220.0 2233.0 L221.0 2234.5 L220.2 2236.2 L221.4 2237.7 L220.4 2239.4 L221.7 2240.8 L220.8 2242.8 L221.8 2243.6 L223.4 2244.3 L223.3 2242.3 L224.1 2241.0 L223.5 2239.2 L224.6 2237.7 L223.8 2236.1 L224.9 2234.6 L224.1 2232.9 L225.2 2231.4 L224.3 2229.7 L225.3 2228.2 L224.5 2226.5 L225.6 2225.0 L224.6 2223.3 L225.8 2221.8 L225.0 2220.1 L226.0 2218.6 L225.3 2216.9 L226.3 2215.4 L225.5 2213.7 L226.7 2212.3 L226.1 2210.4 L226.7 2209.9 L227.7 2210.4 L227.7 2212.5 L229.3 2213.4 L229.0 2215.2 L230.4 2216.5 L229.9 2218.3 L231.1 2219.6 L230.3 2221.4 L231.5 2222.8 L230.7 2224.5 L231.7 2226.0 L231.0 2227.7 L232.0 2229.2 L231.3 2230.9 L232.3 2232.4 L231.3 2234.1 L232.5 2235.6 L231.7 2237.3 L232.6 2238.8 L231.8 2240.5 L232.9 2242.0 L232.1 2243.7 L232.9 2245.2 L232.3 2246.9 L233.2 2248.4 L232.6 2250.1 L233.5 2251.6 L232.6 2253.3 L233.8 2254.8 L232.9 2256.6 L233.3 2257.1 L234.2 2256.1 L233.3 2254.3 L234.5 2252.8 L233.7 2251.1 L234.7 2249.6 L234.0 2248.0 L235.1 2246.5 L234.4 2244.8 L235.6 2243.4 L234.9 2241.5 L235.7 2240.3 L236.7 2239.2 L236.3 2241.5 L237.4 2242.7 L237.1 2244.5 L238.2 2245.7 L238.4 2247.7 L238.1 2245.7 L239.2 2244.5 L238.6 2242.7 L239.6 2241.3 L238.9 2239.6 L240.0 2238.1 L239.3 2236.4 L240.5 2235.0 L239.8 2233.0 L240.5 2232.0 L241.3 2231.8 L242.3 2234.4 L243.1 2234.4 L244.1 2233.6 L243.6 2231.6 L245.1 2230.4 L244.6 2228.6 L245.6 2227.2 L245.5 2225.4 L246.9 2224.5 L247.1 2222.2 L248.1 2223.8 L249.1 2224.7 L248.8 2226.7 L250.1 2227.6 L249.9 2229.9 L251.5 2228.8 L252.0 2228.2 L253.1 2228.8 L252.7 2230.8 L253.8 2232.1 L253.2 2233.9 L254.5 2235.2 L253.9 2237.2 L254.7 2238.1 L255.4 2237.8 L255.9 2235.6 L256.7 2235.0 L257.9 2233.8 L257.6 2236.0 L258.8 2237.2 L257.9 2239.1 L259.1 2240.5 L258.5 2242.2 L259.5 2243.7 L258.8 2245.5 L259.9 2246.8 L260.0 2248.4 L262.2 2248.8 L262.1 2250.6 L263.4 2251.7 L262.7 2253.7 L264.1 2254.9 L263.5 2256.8 L264.6 2257.9 L264.8 2259.6 L264.6 2257.4 L265.7 2256.2 L265.3 2254.5 L266.6 2253.1 L266.0 2251.3 L267.3 2249.9 L266.4 2248.2 L267.5 2246.7 L266.8 2245.0 L268.1 2243.6 L267.5 2241.9 L268.4 2240.4 L267.9 2238.7 L268.9 2237.3 L268.3 2235.3 L269.2 2235.5 L270.4 2236.1 L269.6 2238.0 L270.5 2239.5 L269.7 2241.2 L270.6 2242.7 L269.9 2244.3 L270.8 2245.9 L270.0 2247.5 L271.1 2249.1 L270.4 2250.7 L271.2 2252.3 L270.5 2253.9 L271.5 2255.5 L270.8 2257.1 L271.8 2258.7 L271.0 2260.3 L272.0 2261.9 L271.1 2263.5 L272.1 2265.0 L271.3 2266.7 L272.4 2268.2 L271.9 2270.0 L273.1 2271.0 L273.4 2273.1 L274.3 2271.6 L275.6 2270.8 L275.4 2268.9 L276.8 2267.7 L276.2 2265.9 L277.4 2264.5 L276.8 2262.8 L277.9 2261.3 L277.1 2259.6 L278.2 2258.1 L277.4 2256.4 L278.8 2255.0 L278.0 2253.2 L279.1 2252.0 L278.4 2249.9 L280.1 2249.8 L280.2 2250.7 L281.5 2250.2 L281.1 2248.3 L282.3 2247.0 L281.7 2245.3 L282.6 2243.8 L281.7 2242.1 L282.9 2240.6 L282.1 2238.9 L283.3 2237.4 L282.4 2235.7 L283.5 2234.2 L282.7 2232.5 L283.9 2231.0 L283.1 2229.3 L284.0 2227.9 L284.1 2226.3 L283.5 2228.4 L284.5 2229.9 L283.6 2231.6 L284.9 2233.1 L284.0 2234.8 L285.2 2236.3 L284.2 2237.9 L285.4 2239.5 L284.6 2241.1 L285.4 2242.7 L284.7 2244.3 L285.9 2245.8 L285.1 2247.5 L286.1 2249.0 L285.3 2250.8 L286.6 2251.9 L287.0 2253.4 L286.7 2251.1 L287.8 2249.9 L287.4 2248.1 L288.5 2246.7 L287.9 2245.0 L289.2 2243.6 L288.5 2241.8 L289.6 2240.4 L289.1 2238.7 L290.2 2237.3 L289.5 2235.5 L290.6 2234.1 L290.2 2232.4 L291.3 2231.0 L290.8 2229.2 L292.0 2227.8 L291.5 2226.1 L292.5 2224.8 L292.3 2222.7 L293.1 2223.6 L294.3 2224.4 L293.4 2226.3 L294.4 2227.8 L293.7 2229.4 L294.5 2231.0 L293.8 2232.6 L294.9 2234.2 L294.1 2235.8 L295.1 2237.4 L294.2 2239.0 L295.2 2240.6 L294.5 2242.2 L295.5 2243.7 L294.7 2245.4 L295.6 2246.9 L294.8 2248.6 L295.7 2250.1 L295.1 2251.8 L296.2 2253.3 L295.2 2255.0 L296.6 2256.4 L295.8 2258.2 L297.0 2259.5 L296.9 2261.6 L297.5 2261.0 L298.6 2260.1 L298.1 2258.3 L299.3 2256.9 L298.4 2255.2 L299.4 2253.6 L298.6 2252.0 L299.6 2250.5 L298.8 2248.8 L299.7 2247.3 L298.9 2245.6 L300.0 2244.1 L299.0 2242.4 L300.1 2240.9 L299.3 2239.2 L300.3 2237.7 L299.4 2236.0 L300.5 2234.5 L299.7 2232.8 L300.7 2231.3 L299.9 2229.6 L300.8 2228.1 L300.8 2226.7 L300.2 2228.7 L301.2 2230.1 L300.4 2231.8 L301.5 2233.3 L300.5 2235.0 L301.8 2236.5 L300.8 2238.2 L301.9 2239.7 L301.2 2241.4 L302.2 2242.9 L301.2 2244.6 L302.5 2246.1 L301.6 2247.8 L302.4 2249.3 L301.6 2251.0 L302.8 2252.5 L301.9 2254.2 L303.0 2255.6 L302.4 2257.4 L303.5 2258.7 L303.0 2260.8 L303.3 2260.2 L304.2 2259.1 L303.8 2257.3 L304.9 2255.9 L304.1 2254.1 L305.3 2252.7 L304.9 2251.0 L305.8 2249.6 L305.4 2247.8 L306.8 2246.6 L306.4 2244.6 L307.5 2243.9 L308.6 2242.5 L308.5 2244.7 L309.8 2245.8 L309.4 2247.7 L310.4 2249.1 L309.9 2250.8 L310.9 2252.3 L310.4 2253.9 L311.3 2255.4 L310.6 2257.1 L311.8 2258.6 L311.0 2260.3 L312.0 2261.8 L311.2 2263.5 L312.4 2265.0 L311.5 2266.7 L312.6 2268.2 L311.9 2269.9 L313.0 2271.3 L312.5 2273.1 L313.8 2274.3 L313.5 2276.3 L314.3 2276.8 L315.2 2275.9 L315.0 2274.1 L315.8 2272.6 L315.0 2270.9 L316.1 2269.4 L315.2 2267.7 L316.2 2266.2 L315.6 2264.5 L316.3 2263.0 L315.7 2261.3 L316.6 2259.8 L315.8 2258.1 L316.8 2256.6 L316.0 2255.0 L317.1 2253.4 L316.2 2251.8 L317.3 2250.2 L316.4 2248.6 L317.4 2247.0 L316.7 2245.3 L317.5 2243.9 L317.7 2242.8 L317.1 2244.9 L318.1 2246.3 L317.3 2248.0 L318.6 2249.5 L317.8 2251.2 L318.9 2252.7 L318.2 2254.3 L319.3 2255.9 L318.5 2257.5 L319.4 2259.0 L318.5 2260.8 L319.6 2262.2 L319.6 2264.1 L320.0 2263.4 L320.8 2262.2 L320.0 2260.4 L321.2 2258.9 L320.6 2257.3 L321.5 2255.7 L320.8 2254.1 L321.8 2252.6 L320.9 2250.9 L322.2 2249.4 L321.4 2247.7 L322.4 2246.2 L321.7 2244.5 L322.2 2243.4 L322.7 2244.5 L322.0 2246.2 L322.9 2247.7 L322.2 2249.4 L323.1 2250.9 L322.3 2252.6 L323.3 2254.1 L322.5 2255.8 L323.6 2257.3 L323.0 2258.9 L324.0 2260.5 L323.1 2262.1 L324.2 2263.7 L323.3 2265.3 L324.4 2266.9 L323.7 2268.6 L324.6 2269.9 L324.2 2272.1 L324.9 2270.3 L325.9 2269.1 L325.5 2267.3 L326.5 2266.0 L325.7 2264.0 L327.1 2263.5 L327.9 2263.7 L327.1 2265.7 L328.2 2267.1 L327.4 2268.8 L328.5 2270.3 L327.8 2272.0 L328.7 2273.5 L327.9 2275.2 L329.0 2276.7 L328.3 2278.4 L329.3 2279.9 L328.6 2281.5 L329.7 2283.0 L328.8 2284.8 L330.1 2286.1 L329.7 2287.9 L331.1 2289.0 L331.3 2291.1 L331.5 2289.6 L332.4 2288.3 L331.8 2286.6 L333.0 2285.1 L332.3 2283.4 L333.3 2281.9 L332.7 2280.2 L333.6 2278.8 L333.0 2277.0 L334.0 2275.7 L334.4 2273.6 L334.3 2275.6 L335.3 2276.9 L334.7 2278.6 L335.6 2280.1 L334.9 2281.8 L336.2 2283.3 L335.4 2285.0 L336.5 2286.5 L335.7 2288.2 L336.7 2289.6 L336.2 2291.5 L336.3 2290.7 L337.2 2289.3 L336.4 2287.6 L337.5 2286.1 L336.7 2284.4 L337.8 2282.9 L336.9 2281.2 L337.9 2279.7 L337.1 2278.0 L338.1 2276.5 L337.4 2274.8 L338.3 2273.3 L337.5 2271.6 L338.6 2270.1 L337.7 2268.4 L338.7 2266.9 L337.9 2265.2 L339.1 2263.7 L338.2 2262.1 L339.5 2260.6 L338.7 2258.9 L339.8 2257.4 L338.8 2255.7 L339.9 2254.2 L339.4 2252.5 L340.7 2251.1 L340.1 2249.3 L341.3 2248.0 L340.7 2246.0 L341.3 2245.6 L342.0 2246.6 L341.4 2248.4 L342.5 2249.9 L341.7 2251.6 L342.7 2253.1 L342.0 2254.7 L343.2 2256.2 L342.4 2257.9 L343.3 2259.4 L342.5 2261.2 L343.6 2262.4 L343.6 2264.1 L343.4 2261.9 L344.7 2260.7 L344.2 2258.9 L345.2 2257.5 L344.4 2255.8 L345.3 2254.3 L344.5 2252.6 L345.6 2251.1 L344.8 2249.4 L346.0 2247.9 L345.4 2246.2 L346.3 2244.7 L345.7 2242.9 L346.5 2241.9 L347.0 2242.0 L346.7 2244.0 L347.9 2245.3 L347.4 2247.1 L348.9 2248.4 L348.2 2250.2 L349.6 2251.5 L349.1 2253.3 L350.2 2254.7 L349.8 2256.4 L350.9 2257.8 L350.3 2259.6 L351.8 2260.9 L351.0 2262.7 L352.4 2264.0 L351.9 2265.8 L353.0 2267.1 L352.7 2269.0 L353.2 2269.4 L353.9 2268.5 L353.4 2266.7 L354.6 2265.3 L353.8 2263.6 L355.0 2262.1 L354.2 2260.4 L355.3 2258.9 L354.6 2257.2 L355.7 2255.8 L354.9 2254.0 L356.0 2252.6 L355.4 2250.8 L356.6 2249.5 L356.4 2247.7 L357.7 2246.7 L358.4 2244.9 L358.0 2247.1 L359.0 2248.5 L358.1 2250.2 L359.0 2251.8 L358.3 2253.4 L359.2 2254.9 L358.5 2256.6 L359.5 2258.1 L358.6 2259.8 L359.6 2261.3 L358.9 2263.0 L359.9 2264.5 L359.0 2266.2 L360.1 2267.7 L359.2 2269.4 L360.3 2270.9 L359.6 2272.6 L360.5 2274.0 L359.8 2276.1 L360.1 2275.4 L361.2 2274.2 L360.6 2272.4 L361.9 2271.0 L361.0 2269.3 L362.0 2267.8 L361.3 2266.1 L362.1 2264.6 L361.5 2262.9 L362.5 2261.4 L361.7 2259.7 L362.7 2258.2 L362.0 2256.5 L363.3 2255.2 L362.9 2253.2 L363.1 2253.8 L364.0 2254.8 L363.3 2256.6 L364.3 2258.1 L363.6 2259.8 L364.7 2261.3 L364.1 2262.9 L365.1 2264.4 L364.2 2266.1 L365.5 2267.6 L364.6 2269.4 L365.9 2270.6 L365.6 2272.4 L365.7 2270.3 L366.7 2269.1 L366.6 2267.5 L368.1 2266.3 L367.4 2264.5 L368.6 2263.1 L367.7 2261.4 L369.0 2259.9 L368.1 2258.2 L369.3 2256.7 L368.6 2255.1 L369.7 2253.6 L368.9 2251.9 L369.8 2250.4 L369.1 2248.7 L370.3 2247.2 L369.7 2245.4 L370.6 2244.3 L371.1 2243.8 L371.4 2245.9 L372.8 2246.8 L372.9 2248.5 L374.8 2249.3 L374.7 2251.2 L376.1 2252.2 L375.8 2254.3 L377.1 2255.0 L377.8 2256.7 L378.5 2254.4 L379.8 2253.9 L380.5 2252.0 L381.8 2251.7 L383.4 2250.9 L384.0 2252.9 L385.3 2253.8 L384.8 2255.7 L385.9 2257.1 L385.2 2258.9 L386.4 2260.3 L385.7 2262.1 L386.8 2263.4 L386.5 2265.6 L386.5 2264.0 L387.8 2262.9 L387.2 2261.1 L388.2 2259.6 L387.6 2257.9 L388.7 2256.5 L387.9 2254.7 L388.9 2253.3 L388.2 2251.6 L389.4 2250.1 L388.7 2248.4 L389.8 2247.0 L389.1 2245.1 L390.5 2243.9 L390.4 2242.1 L391.6 2241.3 L392.4 2240.9 L391.9 2243.1 L393.1 2244.3 L392.5 2246.1 L393.8 2247.5 L393.2 2249.4 L394.0 2250.4 L394.4 2249.9 L394.0 2248.0 L395.1 2246.6 L394.5 2244.9 L395.7 2243.4 L394.7 2241.7 L395.8 2240.2 L395.0 2238.5 L396.2 2237.0 L395.4 2235.3 L396.5 2233.9 L395.8 2232.1 L397.0 2230.8 L396.5 2228.7 L397.5 2228.8 L399.0 2229.2 L398.7 2231.1 L399.8 2232.4 L399.0 2234.2 L400.0 2235.7 L399.2 2237.4 L400.3 2238.9 L399.5 2240.6 L400.4 2242.1 L399.7 2243.8 L400.7 2245.3 L399.9 2247.0 L400.8 2248.5 L400.2 2250.1 L401.1 2251.7 L400.3 2253.4 L401.4 2254.7 L401.0 2257.0 L401.4 2255.0 L402.7 2253.8 L401.9 2252.0 L403.1 2250.6 L402.4 2248.9 L403.4 2247.4 L402.7 2245.7 L403.7 2244.2 L403.2 2242.3 L404.4 2241.2 L404.4 2240.5 L406.4 2241.9 L405.9 2240.3 L406.9 2239.1 L406.1 2237.3 L407.3 2235.8 L406.5 2234.2 L407.5 2232.6 L406.8 2231.0 L407.9 2229.5 L407.1 2227.8 L408.2 2226.3 L407.6 2224.6 L408.4 2223.2 L407.9 2221.2 L408.3 2221.7 L409.7 2222.7 L409.0 2224.6 L410.0 2226.0 L409.3 2227.7 L410.5 2229.2 L409.8 2230.8 L410.9 2232.3 L410.2 2234.0 L411.4 2235.5 L410.7 2237.2 L411.7 2238.6 L411.3 2240.4 L412.7 2241.7 L412.0 2243.5 L413.4 2244.6 L413.4 2246.8 L413.1 2244.8 L414.2 2243.5 L413.5 2241.8 L414.6 2240.3 L413.6 2238.6 L414.9 2237.1 L413.9 2235.4 L415.1 2233.9 L414.2 2232.2 L415.3 2230.7 L414.7 2229.0 L415.5 2227.7 L415.3 2225.6 L415.4 2227.5 L416.7 2228.7 L416.0 2230.5 L417.1 2231.9 L416.2 2233.6 L417.4 2235.1 L416.5 2236.8 L417.7 2238.3 L416.9 2240.0 L417.8 2241.5 L417.1 2243.2 L418.1 2244.7 L417.3 2246.4 L418.5 2247.9 L417.6 2249.7 L418.8 2250.9 L418.4 2252.8 L420.0 2253.3 L420.8 2253.5 L420.2 2251.3 L421.4 2250.1 L420.7 2248.3 L421.7 2246.8 L421.0 2245.2 L422.0 2243.7 L421.2 2242.0 L422.2 2240.5 L421.6 2238.8 L422.7 2237.3 L422.1 2235.6 L423.3 2234.3 L423.2 2232.1 L422.9 2234.1 L424.2 2235.3 L423.3 2237.0 L424.5 2238.5 L423.5 2240.2 L424.6 2241.7 L423.9 2243.4 L425.2 2244.9 L424.2 2246.6 L425.5 2248.0 L424.7 2249.9 L425.3 2250.7 L426.3 2249.8 L425.9 2247.9 L427.1 2246.6 L426.5 2244.7 L427.7 2243.6 L427.9 2241.5 L428.5 2243.1 L429.4 2243.6 L429.7 2246.1 L430.0 2245.4 L430.9 2244.3 L430.2 2242.4 L431.4 2241.0 L430.6 2239.3 L431.7 2237.8 L430.9 2236.1 L432.2 2234.7 L431.3 2232.9 L432.4 2231.6 L432.4 2229.6 L432.9 2230.4 L434.0 2231.4 L433.2 2233.3 L434.3 2234.7 L433.7 2236.4 L434.9 2237.8 L434.4 2239.7 L435.4 2240.7 L436.2 2242.1 L436.9 2240.8 L437.9 2239.7 L436.9 2237.8 L438.0 2236.3 L437.3 2234.7 L438.5 2233.2 L437.5 2231.5 L438.7 2230.0 L437.7 2228.3 L438.7 2226.8 L438.0 2225.1 L439.1 2223.6 L438.2 2221.9 L439.2 2220.4 L438.4 2218.7 L439.4 2217.2 L438.7 2215.5 L439.7 2214.0 L438.9 2212.3 L440.2 2210.9 L439.4 2209.1 L440.6 2207.9 L440.2 2205.6 L441.3 2206.9 L442.5 2207.9 L441.9 2209.8 L443.1 2211.1 L442.2 2212.8 L443.2 2214.3 L442.5 2216.0 L443.5 2217.5 L442.8 2219.2 L443.9 2220.7 L443.2 2222.4 L444.1 2223.9 L443.3 2225.6 L444.5 2227.1 L443.7 2228.8 L444.8 2230.3 L444.0 2232.0 L445.1 2233.4 L444.4 2235.1 L445.5 2236.6 L444.8 2238.3 L446.0 2239.7 L445.6 2241.5 L446.7 2242.5 L446.9 2243.1 L446.5 2241.1 L447.7 2239.8 L446.9 2238.1 L448.0 2236.6 L447.2 2234.9 L448.4 2233.4 L447.4 2231.7 L448.5 2230.2 L447.7 2228.5 L448.7 2227.0 L447.7 2225.3 L449.0 2223.8 L448.2 2222.1 L449.0 2220.6 L448.4 2218.9 L449.5 2217.4 L448.7 2215.8 L449.6 2214.2 L448.8 2212.5 L449.8 2211.2 L449.5 2208.8 L449.8 2211.1 L451.1 2212.0 L450.6 2214.0 L452.0 2215.1 L452.1 2217.1 L453.4 2217.6 L454.2 2218.1 L454.3 2216.1 L455.4 2214.8 L454.7 2213.0 L455.8 2211.6 L455.1 2209.8 L456.3 2208.4 L455.7 2206.7 L456.8 2205.3 L456.3 2203.4 L458.5 2203.2 L458.7 2201.6 L460.1 2200.5 L460.0 2198.6 L461.4 2197.7 L461.6 2195.7 L463.2 2196.0 L464.3 2196.1 L464.3 2198.4 L465.5 2199.0 L465.7 2201.3 L466.3 2199.1 L467.2 2197.9 L466.7 2196.1 L467.8 2194.7 L467.1 2193.0 L468.0 2191.5 L467.4 2189.8 L468.7 2188.4 L467.8 2186.5 L469.0 2185.4 L469.0 2183.5 L470.5 2183.8 L471.5 2184.4 L471.0 2186.5 L472.2 2187.7 L471.7 2189.5 L472.7 2190.9 L472.2 2192.7 L472.9 2193.7 L473.5 2192.9 L472.8 2191.0 L474.2 2189.7 L473.4 2188.0 L474.6 2186.5 L473.7 2184.8 L474.8 2183.3 L473.7 2181.6 L474.8 2180.1 L474.2 2178.4 L475.2 2176.9 L474.1 2175.2 L475.3 2173.7 L474.5 2172.0 L475.5 2170.5 L474.8 2168.8 L475.7 2167.3 L475.0 2165.6 L476.2 2164.2 L475.5 2162.4 L476.0 2161.5 L476.5 2162.3 L475.7 2164.1 L476.8 2165.5 L476.0 2167.2 L477.2 2168.7 L476.2 2170.4 L477.4 2171.9 L476.6 2173.6 L477.7 2175.1 L476.8 2176.8 L477.9 2178.3 L477.1 2180.0 L478.3 2181.5 L477.6 2183.2 L478.8 2184.6 L478.1 2186.3 L479.1 2187.8 L478.7 2189.6 L479.8 2190.8 L479.8 2192.9 L480.6 2191.6 L481.7 2190.6 L480.9 2188.7 L482.1 2187.3 L481.2 2185.5 L482.5 2184.1 L481.8 2182.4 L482.8 2180.9 L482.2 2179.2 L483.2 2177.8 L482.8 2176.0 L484.3 2175.1 L485.0 2173.2 L484.8 2175.5 L485.9 2176.6 L485.2 2178.4 L486.3 2179.9 L485.7 2181.6 L486.7 2183.1 L485.9 2184.8 L487.0 2186.3 L486.0 2188.0 L487.1 2189.5 L486.2 2191.2 L487.5 2192.7 L486.5 2194.4 L487.7 2195.9 L486.9 2197.5 L488.0 2199.0 L487.3 2200.8 L488.2 2201.9 L488.4 2201.8 L487.7 2199.9 L488.8 2198.5 L487.9 2196.8 L489.1 2195.3 L488.2 2193.6 L489.3 2192.1 L488.5 2190.4 L489.7 2188.9 L488.8 2187.2 L489.9 2185.7 L489.3 2184.0 L490.4 2182.6 L489.8 2180.7 L491.0 2179.8 L491.8 2178.2 L492.4 2180.1 L493.5 2181.2 L492.9 2183.1 L494.2 2184.4 L493.4 2186.2 L494.7 2187.6 L494.0 2189.3 L495.2 2190.7 L494.4 2192.5 L495.7 2193.9 L494.8 2195.7 L496.0 2197.1 L495.3 2198.8 L496.6 2200.2 L495.9 2202.0 L497.0 2203.3 L496.7 2205.3 L497.5 2204.9 L498.5 2203.8 L497.6 2201.9 L498.8 2200.5 L498.0 2198.8 L498.9 2197.3 L498.3 2195.6 L499.3 2194.1 L498.5 2192.4 L499.6 2190.9 L498.8 2189.2 L499.9 2187.8 L499.3 2185.8 L499.5 2186.5 L500.6 2187.5 L500.1 2189.3 L501.3 2190.7 L500.8 2192.4 L501.9 2193.8 L501.3 2195.6 L502.6 2196.9 L502.1 2198.7 L503.7 2199.8 L503.4 2201.6 L505.0 2202.7 L504.4 2204.5 L505.5 2205.9 L504.6 2207.7 L505.6 2209.2 L505.0 2210.8 L506.0 2212.4 L505.3 2214.0 L506.2 2215.5 L505.4 2217.2 L506.5 2218.7 L505.7 2220.4 L507.0 2221.8 L506.1 2223.8 L506.8 2224.0 L508.2 2223.5 L507.6 2221.5 L508.7 2220.2 L507.9 2218.3 L509.1 2217.1 L508.9 2215.1 L509.5 2215.5 L510.3 2216.5 L509.6 2218.3 L510.9 2219.7 L510.1 2221.4 L511.1 2222.9 L510.2 2224.6 L511.4 2226.1 L510.6 2227.8 L511.8 2229.3 L511.2 2231.0 L512.1 2232.3 L512.1 2232.5 L511.4 2230.7 L512.5 2229.2 L511.7 2227.5 L512.9 2226.0 L512.1 2224.3 L513.1 2222.8 L512.4 2221.1 L513.4 2219.6 L512.6 2218.0 L513.5 2216.4 L512.9 2214.8 L513.9 2213.2 L513.1 2211.6 L514.0 2210.1 L513.3 2208.3 L514.4 2207.1 L514.6 2205.0 L514.7 2206.8 L515.9 2207.8 L515.5 2209.6 L516.8 2211.0 L516.1 2212.7 L517.2 2214.2 L516.5 2215.9 L517.6 2217.4 L516.9 2219.1 L518.2 2220.5 L517.4 2222.2 L518.4 2223.7 L517.8 2225.4 L518.9 2226.9 L518.1 2228.6 L519.1 2230.1 L518.5 2231.8 L519.5 2233.2 L518.8 2235.0 L519.9 2236.4 L519.3 2238.1 L520.5 2239.6 L519.8 2241.3 L520.9 2242.7 L520.3 2244.5 L521.2 2245.8 L521.1 2248.1 L521.2 2245.7 L522.6 2244.6 L522.0 2242.8 L523.2 2241.4 L522.5 2239.7 L523.5 2238.2 L523.0 2236.5 L524.4 2235.1 L523.7 2233.4 L524.9 2232.0 L524.3 2230.2 L525.6 2228.9 L525.2 2227.1 L526.6 2225.9 L526.1 2223.9 L527.6 2223.1 L528.0 2221.0 L528.3 2222.9 L529.5 2223.9 L528.9 2225.7 L530.0 2227.2 L529.1 2228.9 L530.2 2230.4 L529.6 2232.1 L530.8 2233.6 L529.9 2235.3 L530.9 2236.7 L530.2 2238.6 L530.9 2239.4 L531.8 2238.6 L531.1 2236.6 L532.6 2235.3 L531.8 2233.5 L532.9 2232.3 L532.8 2230.0 L533.0 2232.1 L534.3 2233.2 L533.5 2235.0 L534.5 2236.5 L533.8 2238.2 L534.9 2239.7 L534.0 2241.4 L534.9 2242.9 L534.1 2244.6 L535.3 2246.1 L534.4 2247.8 L535.5 2249.3 L534.8 2250.9 L535.7 2252.5 L534.9 2254.1 L535.9 2255.6 L535.1 2257.4 L536.2 2258.8 L536.0 2260.6 L537.5 2261.3 L538.1 2262.0 L537.8 2259.9 L538.8 2258.5 L538.2 2256.8 L539.3 2255.3 L538.5 2253.6 L539.5 2252.1 L538.8 2250.5 L539.8 2248.9 L538.9 2247.3 L540.0 2245.7 L539.3 2244.1 L540.5 2242.6 L539.5 2240.9 L540.6 2239.4 L539.7 2237.7 L540.8 2236.2 L540.2 2234.4 L540.8 2233.2 L541.8 2233.2 L542.1 2235.1 L543.3 2236.2 L542.7 2238.1 L543.9 2239.5 L543.2 2241.2 L544.1 2242.7 L543.4 2244.4 L544.4 2245.9 L543.8 2247.5 L544.8 2249.0 L544.1 2250.7 L545.3 2252.2 L544.6 2253.9 L545.6 2255.3 L545.1 2257.4 L545.5 2256.8 L546.5 2255.8 L546.2 2254.0 L547.3 2252.8 L547.0 2250.7 L547.9 2250.6 L548.7 2251.1 L549.4 2253.4 L550.3 2253.1 L551.1 2252.4 L550.6 2250.5 L551.5 2249.1 L551.0 2247.4 L552.0 2245.9 L551.2 2244.2 L552.4 2242.7 L551.8 2241.0 L553.0 2239.6 L552.2 2237.8 L553.7 2236.6 L553.4 2234.7 L554.4 2233.8 L555.4 2232.9 L555.4 2235.0 L556.5 2236.2 L556.0 2238.0 L557.1 2239.4 L556.5 2241.1 L557.8 2242.5 L557.1 2244.2 L558.1 2245.7 L557.3 2247.4 L558.5 2248.9 L557.7 2250.6 L558.8 2252.1 L557.9 2253.8 L558.9 2255.3 L558.0 2257.0 L559.3 2258.5 L558.5 2260.2 L559.4 2261.7 L558.8 2263.5 L559.7 2264.6 L560.1 2265.6 L560.1 2263.7 L561.1 2262.4 L560.4 2260.6 L561.5 2259.1 L560.7 2257.4 L561.7 2255.9 L561.0 2254.2 L562.2 2252.8 L561.6 2251.0 L562.5 2249.8 L562.3 2247.6 L562.6 2249.7 L564.1 2250.6 L563.6 2252.6 L565.2 2253.7 L565.0 2255.5 L566.3 2256.6 L566.3 2258.5 L567.7 2259.4 L568.1 2261.2 L569.9 2261.8 L570.4 2263.2 L571.9 2264.2 L571.3 2266.1 L572.6 2267.4 L571.8 2269.2 L572.9 2270.6 L572.2 2272.3 L573.2 2273.9 L572.3 2275.5 L573.3 2277.0 L572.7 2278.7 L573.7 2280.2 L573.0 2281.9 L573.9 2283.4 L573.1 2285.1 L574.3 2286.6 L573.6 2288.3 L574.5 2289.7 L574.7 2290.3 L573.9 2288.4 L574.9 2286.9 L574.2 2285.2 L575.1 2283.7 L574.3 2282.0 L575.4 2280.5 L574.7 2278.9 L575.6 2277.3 L574.8 2275.7 L576.0 2274.1 L574.9 2272.5 L576.0 2270.9 L575.2 2269.3 L576.2 2267.7 L575.6 2266.1 L576.6 2264.6 L575.6 2262.9 L576.9 2261.4 L576.1 2259.7 L577.4 2258.3 L576.5 2256.4 L577.7 2255.3 L577.8 2253.1 L578.7 2254.4 L579.7 2255.4 L578.9 2257.2 L579.8 2258.8 L579.0 2260.4 L580.0 2261.9 L579.2 2263.6 L580.3 2265.1 L579.2 2266.8 L580.4 2268.3 L579.5 2270.0 L580.6 2271.5 L579.7 2273.2 L580.8 2274.7 L579.9 2276.4 L580.9 2277.9 L580.0 2279.6 L580.9 2281.1 L580.2 2282.8 L581.2 2284.3 L580.3 2286.0 L581.4 2287.5 L580.6 2289.2 L581.6 2290.7 L580.7 2292.4 L581.8 2293.8 L581.3 2295.7 L582.6 2296.7 L583.1 2296.5 L584.7 2297.0 L585.0 2299.3 L586.0 2299.7 L586.8 2299.3 L586.1 2297.3 L587.1 2295.9 L586.5 2294.2 L587.6 2292.7 L586.8 2291.0 L587.8 2289.5 L587.0 2287.8 L588.2 2286.3 L587.4 2284.7 L588.5 2283.2 L587.8 2281.5 L588.8 2280.1 L588.3 2277.9 L588.2 2279.9 L589.3 2281.2 L588.6 2283.0 L589.8 2284.4 L589.0 2286.1 L590.1 2287.6 L589.3 2289.3 L590.5 2290.8 L589.7 2292.5 L590.8 2294.0 L589.8 2295.7 L591.1 2297.1 L590.6 2298.9 L591.7 2300.0 L591.5 2302.3 L592.8 2300.8 L594.0 2299.9 L593.1 2297.9 L594.2 2296.5 L593.3 2294.8 L594.4 2293.3 L593.6 2291.6 L594.7 2290.1 L593.9 2288.4 L594.8 2286.9 L594.1 2285.2 L595.2 2283.7 L594.4 2282.1 L595.3 2280.5 L594.7 2278.9 L595.5 2277.4 L594.7 2275.5 L595.8 2274.5 L596.4 2273.7 L596.0 2275.8 L597.0 2277.1 L596.4 2278.8 L597.5 2280.3 L596.5 2282.0 L597.8 2283.5 L596.8 2285.2 L598.1 2286.7 L597.2 2288.4 L598.5 2289.8 L597.6 2291.6 L598.6 2293.0 L598.2 2294.8 L599.5 2295.9 L599.8 2297.9 L600.5 2297.2 L601.7 2296.5 L601.3 2294.5 L602.3 2293.2 L601.8 2291.4 L603.0 2290.0 L602.3 2288.3 L603.7 2286.9 L603.1 2285.2 L604.1 2283.7 L603.7 2282.0 L605.0 2280.6 L604.2 2278.9 L605.5 2277.5 L604.8 2275.7 L605.9 2274.3 L605.3 2272.6 L606.5 2271.1 L605.8 2269.4 L607.0 2268.0 L606.3 2266.2 L607.4 2264.8 L606.9 2263.1 L608.1 2261.8 L607.6 2259.9 L609.3 2258.9 L609.7 2257.5 L610.9 2256.3 L610.4 2254.4 L611.7 2253.2 L611.6 2251.5 L613.2 2250.4 L612.9 2248.4 L614.2 2247.6 L614.5 2245.7 L614.9 2247.7 L616.0 2248.8 L615.2 2250.7 L616.1 2252.2 L615.6 2253.8 L616.6 2255.3 L615.6 2257.0 L616.9 2258.5 L616.0 2260.2 L617.1 2261.7 L616.4 2263.4 L617.4 2264.9 L616.5 2266.6 L617.6 2267.9 L617.6 2269.4 L617.2 2267.2 L618.6 2265.9 L618.0 2264.2 L619.1 2262.8 L618.5 2260.9 L619.6 2259.9 L619.9 2258.8 L619.5 2261.0 L620.8 2262.3 L620.0 2264.1 L621.1 2265.5 L620.3 2267.2 L621.4 2268.7 L620.7 2270.4 L621.6 2271.9 L620.9 2273.6 L622.2 2275.0 L621.7 2276.8 L622.5 2277.9 L623.0 2277.1 L622.3 2275.3 L623.3 2273.8 L622.5 2272.1 L623.5 2270.6 L622.6 2268.9 L623.6 2267.4 L622.8 2265.7 L623.9 2264.2 L623.1 2262.5 L624.2 2261.0 L623.3 2259.3 L624.2 2257.8 L623.4 2256.1 L624.6 2254.6 L623.7 2252.9 L624.7 2251.4 L623.9 2249.7 L624.8 2248.4 L624.9 2248.5 L624.2 2250.3 L625.4 2251.8 L624.6 2253.4 L625.6 2255.0 L624.7 2256.6 L625.8 2258.2 L624.8 2259.8 L625.8 2261.4 L625.2 2263.0 L626.2 2264.6 L625.1 2266.2 L626.4 2267.8 L625.4 2269.4 L626.5 2271.0 L625.6 2272.6 L626.7 2274.1 L625.7 2275.8 L626.8 2277.3 L625.9 2279.0 L627.1 2280.5 L626.4 2282.2 L627.5 2283.6 L627.3 2285.6 L627.6 2284.3 L628.6 2283.4 L628.2 2281.2 L629.6 2280.7 L630.2 2280.5 L629.9 2282.6 L631.0 2283.9 L630.4 2285.7 L631.7 2286.8 L631.1 2289.1 L632.6 2289.3 L633.9 2289.8 L635.2 2289.0 L636.5 2288.7 L636.4 2286.8 L637.3 2285.4 L636.6 2283.7 L637.8 2282.2 L637.0 2280.5 L638.3 2279.1 L637.4 2277.3 L638.5 2275.9 L637.8 2274.2 L639.1 2272.7 L638.2 2271.0 L639.4 2269.5 L638.4 2267.8 L639.6 2266.3 L638.7 2264.6 L639.9 2263.1 L639.2 2261.5 L640.1 2259.9 L639.2 2258.2 L640.3 2256.7 L639.6 2255.1 L640.7 2253.6 L639.8 2251.9 L640.9 2250.4 L640.1 2248.7 L641.1 2247.2 L640.5 2245.5 L641.6 2244.1 L641.3 2242.2 L641.4 2243.0 L642.4 2244.2 L641.7 2246.0 L642.7 2247.5 L642.0 2249.1 L642.9 2250.7 L642.2 2252.3 L643.1 2253.9 L642.4 2255.5 L643.5 2257.0 L642.6 2258.7 L643.7 2260.2 L642.8 2261.9 L643.8 2263.4 L643.0 2265.2 L644.0 2266.5 L644.2 2266.6 L643.4 2264.8 L644.7 2263.3 L643.7 2261.6 L644.7 2260.1 L644.1 2258.4 L645.2 2256.9 L644.2 2255.2 L645.3 2253.7 L644.7 2252.1 L645.6 2250.5 L644.7 2248.9 L645.8 2247.3 L644.9 2245.6 L646.0 2244.2 L645.4 2242.4 L646.7 2241.3 L646.9 2239.7 L646.8 2241.9 L648.1 2243.0 L647.7 2244.8 L648.9 2246.2 L648.3 2247.9 L649.5 2249.3 L648.7 2251.1 L649.7 2252.6 L649.1 2254.3 L650.2 2255.7 L649.5 2257.4 L650.7 2258.9 L649.9 2260.6 L650.9 2262.0 L650.4 2264.0 L651.6 2264.7 L652.5 2264.4 L652.9 2262.2 L654.3 2261.6 L655.0 2259.5 L655.3 2260.6 L656.4 2261.5 L655.7 2263.4 L656.6 2264.9 L655.8 2266.6 L656.9 2268.1 L656.4 2269.7 L657.2 2271.3 L656.4 2273.0 L657.6 2274.5 L656.8 2276.1 L657.8 2277.6 L657.0 2279.4 L658.4 2280.8 L657.6 2282.6 L658.8 2283.6 L659.0 2284.6 L658.6 2282.5 L659.6 2281.2 L659.1 2279.5 L660.2 2278.0 L659.7 2276.3 L660.7 2274.9 L660.4 2273.2 L661.6 2271.8 L660.8 2270.0 L662.3 2268.7 L661.7 2266.9 L662.9 2265.6 L662.6 2263.7 L664.0 2262.9 L664.8 2261.1 L665.1 2262.4 L666.0 2263.5 L665.2 2265.3 L666.2 2266.8 L665.6 2268.5 L666.5 2270.0 L665.6 2271.7 L666.7 2273.2 L665.9 2274.9 L666.9 2276.4 L666.2 2278.0 L667.3 2279.6 L666.5 2281.2 L667.5 2282.8 L666.6 2284.4 L667.7 2285.9 L666.9 2287.8 L667.8 2288.7 L668.5 2289.3 L668.3 2287.3 L669.5 2286.1 L668.8 2284.1 L669.9 2283.1 L670.5 2281.5 L670.4 2283.5 L671.6 2284.7 L670.9 2286.5 L672.0 2287.9 L671.2 2289.7 L672.5 2291.1 L671.8 2292.9 L672.9 2293.9 L673.3 2293.8 L672.6 2291.9 L673.7 2290.4 L673.0 2288.8 L674.1 2287.3 L673.4 2285.6 L674.4 2284.1 L673.6 2282.4 L674.8 2280.9 L673.9 2279.2 L675.2 2277.7 L674.4 2276.0 L675.6 2274.6 L674.9 2272.8 L676.1 2271.4 L675.6 2269.7 L676.8 2268.5 L676.4 2266.4 L677.6 2266.3 L678.4 2267.3 L678.0 2269.2 L679.0 2270.6 L678.5 2272.3 L679.6 2273.7 L679.0 2275.5 L680.2 2276.9 L679.4 2278.6 L680.9 2280.0 L680.3 2281.7 L681.5 2283.1 L680.9 2285.1 L681.7 2285.8 L682.4 2285.2 L682.0 2283.3 L683.2 2281.9 L682.3 2280.2 L683.3 2278.7 L682.5 2277.0 L683.5 2275.5 L682.7 2273.8 L683.9 2272.3 L682.9 2270.6 L684.0 2269.1 L683.2 2267.4 L684.4 2265.9 L683.6 2264.2 L684.6 2262.7 L683.8 2261.0 L684.7 2259.5 L684.1 2257.8 L685.0 2256.5 L685.2 2256.1 L684.4 2258.0 L685.6 2259.5 L684.6 2261.2 L685.7 2262.7 L684.9 2264.3 L686.2 2265.8 L685.2 2267.5 L686.3 2269.0 L685.6 2270.7 L686.6 2272.2 L685.9 2273.9 L686.8 2275.4 L686.1 2277.1 L687.4 2278.5 L686.8 2280.3 L687.8 2281.6 L687.9 2283.5 L689.3 2283.6 L690.3 2283.3 L689.9 2281.2 L691.3 2280.1 L690.8 2278.1 L692.1 2277.1 L692.2 2275.5 L693.6 2277.6 L693.4 2277.2 L694.4 2276.0 L694.0 2274.2 L695.2 2272.8 L694.3 2271.1 L695.3 2269.6 L694.5 2267.9 L695.5 2266.4 L694.7 2264.7 L695.8 2263.2 L694.9 2261.5 L696.1 2260.0 L695.3 2258.4 L696.4 2256.8 L695.6 2255.2 L696.7 2253.7 L695.7 2252.0 L696.8 2250.5 L696.2 2248.7 L696.8 2247.6 L697.4 2248.5 L696.4 2250.3 L697.6 2251.7 L696.6 2253.4 L697.7 2255.0 L696.8 2256.6 L697.9 2258.1 L697.2 2259.8 L698.2 2261.3 L697.3 2263.0 L698.4 2264.5 L697.6 2266.2 L698.6 2267.7 L697.7 2269.4 L698.8 2270.9 L698.0 2272.6 L699.1 2274.1 L698.3 2275.8 L699.3 2277.3 L698.7 2279.0 L699.6 2280.5 L699.1 2282.1 L700.1 2283.6 L699.3 2285.4 L700.6 2286.7 L700.1 2288.7 L700.8 2289.0 L701.7 2288.3 L701.0 2286.4 L702.1 2284.9 L701.4 2283.2 L702.4 2281.7 L701.6 2280.1 L702.5 2278.5 L701.8 2276.9 L702.9 2275.3 L702.1 2273.7 L702.9 2272.1 L702.1 2270.5 L703.1 2268.9 L702.3 2267.3 L703.4 2265.8 L702.5 2264.1 L703.6 2262.6 L702.8 2260.9 L703.7 2259.4 L703.1 2257.7 L704.1 2256.2 L703.3 2254.5 L704.1 2253.1 L703.7 2250.8 L703.8 2252.9 L705.1 2254.0 L704.6 2255.9 L705.9 2256.9 L705.7 2258.9 L707.6 2258.7 L708.3 2259.1 L709.6 2260.0 L709.1 2262.0 L710.2 2263.3 L709.7 2265.1 L710.7 2266.4 L710.3 2268.6 L711.6 2268.1 L712.2 2267.7 L713.6 2265.9 L714.3 2267.6 L715.6 2268.4 L715.4 2270.2 L716.8 2271.5 L716.1 2273.3 L717.3 2274.7 L716.6 2276.4 L717.8 2277.9 L717.0 2279.6 L718.2 2281.0 L717.6 2282.8 L718.5 2284.0 L718.6 2284.3 L718.0 2282.5 L718.9 2281.0 L718.3 2279.3 L719.2 2277.8 L718.5 2276.1 L719.4 2274.6 L718.7 2272.9 L719.6 2271.4 L718.9 2269.7 L720.1 2268.2 L719.1 2266.5 L720.3 2265.0 L719.5 2263.4 L720.5 2261.8 L719.7 2260.1 L720.8 2258.8 L720.0 2256.7 L721.3 2256.5 L722.3 2257.0 L722.1 2259.0 L723.2 2260.3 L722.8 2262.1 L724.3 2263.2 L723.9 2265.3 L724.9 2265.8 L726.2 2265.5 L726.5 2263.5 L728.2 2262.7 L728.0 2260.7 L729.2 2259.9 L729.5 2257.5 L729.7 2259.6 L731.0 2260.8 L730.0 2262.7 L731.2 2264.1 L730.2 2265.8 L731.3 2267.3 L730.5 2269.0 L731.4 2270.5 L730.6 2272.2 L731.8 2273.7 L730.9 2275.4 L731.8 2276.9 L731.2 2278.6 L732.1 2280.1 L731.2 2281.8 L732.3 2283.3 L731.4 2285.0 L732.4 2286.5 L731.7 2288.1 L732.6 2289.6 L731.9 2291.5 L732.7 2292.5 L733.7 2293.1 L733.5 2291.0 L734.7 2289.8 L734.1 2288.0 L735.3 2286.6 L734.4 2284.8 L735.6 2283.4 L734.8 2281.7 L735.9 2280.2 L735.1 2278.5 L736.2 2277.0 L735.1 2275.3 L736.3 2273.8 L735.5 2272.1 L736.4 2270.6 L735.6 2268.9 L736.7 2267.4 L735.9 2265.7 L736.8 2264.2 L736.1 2262.5 L737.1 2261.0 L736.3 2259.4 L737.2 2257.8 L736.4 2256.2 L737.5 2254.6 L736.8 2253.0 L737.6 2251.4 L736.9 2249.6 L737.1 2249.9 L738.1 2251.0 L737.6 2252.8 L738.6 2254.2 L738.0 2255.9 L739.1 2257.4 L738.4 2259.1 L739.6 2260.5 L738.9 2262.4 L740.0 2263.3 L740.7 2263.6 L740.5 2261.5 L741.7 2260.3 L741.1 2258.4 L742.4 2257.3 L742.2 2255.2 L743.8 2255.0 L745.1 2254.3 L745.7 2256.4 L747.0 2257.3 L746.9 2259.1 L748.0 2260.4 L747.3 2262.2 L748.4 2263.7 L747.8 2265.4 L748.8 2266.8 L748.3 2268.6 L749.4 2269.8 L749.1 2271.9 L750.5 2271.5 L752.0 2271.1 L751.8 2269.0 L753.0 2267.8 L752.5 2266.0 L753.9 2264.7 L753.3 2262.9 L754.6 2261.6 L754.0 2259.8 L755.5 2258.5 L755.0 2256.6 L756.3 2255.8 L756.6 2253.8 L757.7 2255.7 L758.1 2256.5 L759.5 2257.9 L759.4 2255.8 L760.6 2254.7 L759.9 2252.8 L761.2 2251.5 L760.8 2249.5 L761.1 2249.9 L762.1 2251.0 L761.3 2252.8 L762.5 2254.2 L761.7 2255.9 L763.0 2257.4 L762.1 2259.1 L763.4 2260.6 L762.6 2262.3 L763.6 2263.7 L762.8 2265.5 L764.1 2266.9 L763.5 2268.6 L764.7 2270.0 L764.3 2271.9 L765.5 2272.8 L766.5 2274.4 L766.2 2272.2 L767.3 2271.0 L766.8 2269.3 L767.8 2267.8 L767.1 2266.1 L768.2 2264.6 L767.6 2262.9 L768.8 2261.5 L767.9 2259.8 L769.3 2258.3 L768.4 2256.6 L769.5 2255.1 L769.0 2253.4 L770.1 2252.0 L769.6 2250.3 L770.7 2248.9 L770.0 2247.0 L771.3 2246.0 L771.1 2243.6 L771.9 2245.2 L773.3 2245.9 L773.2 2247.8 L774.5 2249.0 L774.2 2250.7 L775.4 2252.1 L775.1 2253.8 L776.2 2255.2 L775.7 2256.9 L777.2 2258.2 L776.6 2260.0 L777.7 2261.4 L777.3 2263.2 L778.6 2264.5 L778.3 2266.2 L779.6 2267.4 L779.2 2269.5 L780.2 2270.3 L780.9 2270.2 L780.3 2268.1 L781.7 2266.9 L781.0 2265.1 L782.0 2263.6 L781.4 2262.0 L782.5 2260.5 L781.6 2258.7 L782.8 2257.3 L782.3 2255.5 L783.3 2254.4 L783.7 2253.9 L783.1 2255.9 L784.3 2257.3 L783.5 2259.1 L784.5 2260.5 L783.9 2262.2 L785.0 2263.7 L784.4 2265.4 L785.3 2266.8 L784.9 2268.9 L785.4 2267.7 L786.9 2266.9 L786.1 2265.0 L787.4 2263.6 L786.6 2261.8 L787.8 2260.4 L787.2 2258.7 L788.5 2257.3 L787.7 2255.5 L788.9 2254.1 L788.2 2252.4 L789.3 2250.9 L788.7 2249.2 L789.9 2247.8 L789.3 2246.1 L790.5 2244.7 L789.9 2242.9 L791.1 2241.5 L790.7 2239.8 L791.9 2238.5 L791.6 2236.5 L792.8 2235.8 L793.6 2234.4 L795.3 2235.5 L796.1 2235.9 L797.2 2237.1 L797.2 2235.0 L798.3 2233.8 L797.6 2232.0 L798.7 2230.6 L798.1 2228.9 L799.2 2227.4 L798.6 2225.7 L799.5 2224.2 L798.9 2222.5 L800.1 2221.2 L799.6 2219.1 L800.0 2219.6 L801.3 2220.5 L800.9 2222.5 L801.9 2223.6 L801.8 2225.9 L801.9 2224.0 L803.2 2223.0 L802.7 2221.2 L803.8 2219.8 L803.2 2218.0 L804.3 2216.6 L803.6 2214.8 L804.9 2213.4 L804.2 2211.7 L805.4 2210.3 L804.8 2208.5 L806.1 2207.2 L805.5 2205.4 L806.7 2204.0 L806.0 2202.2 L807.1 2201.1 L807.3 2199.7 L807.1 2202.0 L808.5 2203.1 L807.8 2204.9 L809.0 2206.3 L808.4 2208.1 L809.9 2209.3 L809.7 2211.2 L810.8 2212.1 L812.2 2212.5 L811.6 2210.4 L812.4 2209.0 L811.6 2207.3 L812.7 2205.8 L811.8 2204.1 L812.9 2202.6 L812.2 2200.9 L813.2 2199.4 L812.3 2197.7 L813.5 2196.2 L812.5 2194.5 L813.5 2193.0 L812.8 2191.3 L813.7 2189.8 L813.0 2188.2 L813.9 2186.6 L813.3 2185.0 L814.3 2183.5 L813.4 2181.6 L814.2 2180.7 L815.5 2180.7 L815.3 2182.9 L816.2 2183.8 L816.5 2186.0 L817.5 2184.5 L818.0 2184.0 L819.1 2181.8 L819.1 2183.5 L820.1 2184.5 L819.7 2186.3 L820.6 2187.8 L820.0 2189.5 L821.2 2190.9 L820.8 2192.8 L821.4 2193.6 L822.4 2192.9 L822.4 2191.1 L824.0 2189.9 L823.2 2188.1 L824.2 2186.7 L823.3 2185.0 L824.6 2183.5 L823.6 2181.8 L824.7 2180.3 L823.9 2178.6 L825.1 2177.1 L824.4 2175.4 L825.4 2173.9 L824.6 2172.2 L825.7 2170.7 L824.8 2169.0 L825.6 2167.5 L824.9 2165.8 L826.0 2164.3 L825.2 2162.6 L826.5 2161.3 L826.1 2159.4 L826.5 2159.2 L827.3 2160.2 L826.5 2162.0 L827.8 2163.5 L827.0 2165.2 L828.0 2166.6 L827.4 2168.4 L828.6 2169.8 L828.1 2171.6 L828.9 2172.6 L829.5 2172.6 L829.0 2170.5 L830.2 2169.2 L829.6 2167.5 L830.8 2166.1 L830.4 2164.4 L831.4 2162.9 L830.6 2161.2 L831.8 2159.7 L831.0 2158.0 L832.0 2156.5 L831.1 2154.8 L832.3 2153.3 L831.5 2151.7 L832.4 2150.1 L831.6 2148.5 L832.8 2146.9 L832.0 2145.3 L833.1 2143.8 L832.2 2142.1 L833.3 2140.6 L832.5 2138.9 L833.6 2137.4 L833.0 2135.6 L834.1 2134.4 L833.6 2132.5 L835.7 2133.3 L835.1 2131.4 L836.5 2130.2 L836.0 2128.4 L836.9 2126.9 L836.1 2125.2 L837.2 2123.7 L836.6 2122.1 L837.7 2120.6 L836.8 2118.9 L837.8 2117.4 L837.1 2115.7 L838.3 2114.2 L837.5 2112.4 L838.6 2111.3 L838.9 2111.0 L838.0 2113.0 L839.1 2114.4 L838.3 2116.1 L839.4 2117.6 L838.6 2119.3 L839.7 2120.8 L838.9 2122.5 L839.9 2124.0 L839.2 2125.6 L840.3 2127.2 L839.6 2128.8 L840.7 2130.2 L840.0 2132.4 L840.2 2131.1 L841.5 2130.0 L841.1 2128.2 L842.3 2126.8 L841.5 2125.1 L842.7 2123.7 L841.9 2121.9 L843.1 2120.6 L842.8 2118.7 L844.4 2118.3 L844.7 2117.4 L846.3 2116.5 L845.7 2114.6 L846.8 2113.2 L846.3 2111.5 L847.5 2110.1 L846.8 2108.3 L847.9 2106.9 L847.2 2105.2 L848.3 2103.7 L847.5 2102.0 L848.8 2100.5 L848.0 2098.8 L849.1 2097.3 L848.3 2095.6 L849.4 2094.2 L848.6 2092.5 L849.7 2091.0 L849.0 2089.3 L850.2 2087.8 L849.3 2086.1 L850.5 2084.6 L849.8 2082.9 L850.9 2081.5 L850.4 2079.8 L851.5 2078.3 L850.8 2076.6 L852.1 2075.2 L851.6 2073.5 L852.7 2072.0 L852.0 2070.3 L853.3 2068.9 L852.6 2067.2 L853.5 2065.7 L852.7 2064.0 L853.8 2062.5 L853.2 2060.8 L854.3 2059.3 L853.6 2057.6 L854.4 2056.1 L853.8 2054.4 L854.9 2052.9 L854.1 2051.2 L855.1 2049.7 L854.3 2048.1 L855.5 2046.5 L854.7 2044.9 L855.5 2043.3 L854.8 2041.7 L855.9 2040.2 L855.1 2038.5 L856.1 2037.0 L855.2 2035.3 L856.2 2033.8 L855.5 2032.1 L856.4 2030.6 L855.5 2028.9 L856.6 2027.4 L856.0 2025.7 L856.9 2024.2 L856.1 2022.5 L857.1 2021.0 L856.3 2019.3 L857.5 2017.8 L856.5 2016.1 L857.6 2014.6 L856.9 2012.9 L857.9 2011.5 L857.3 2009.4 L857.4 2010.8 L858.7 2012.0 L858.0 2013.8 L859.4 2015.1 L858.7 2017.0 L859.8 2018.0 L860.2 2018.2 L859.3 2016.2 L860.4 2014.8 L859.5 2013.1 L860.7 2011.6 L859.9 2009.9 L860.9 2008.4 L860.1 2006.7 L861.1 2005.2 L860.4 2003.5 L861.4 2002.0 L860.6 2000.3 L861.5 1998.8 L860.6 1997.1 L861.7 1995.6 L860.8 1993.9 L861.8 1992.4 L861.1 1990.7 L862.1 1989.2 L861.4 1987.5 L862.6 1986.0 L861.5 1984.3 L862.7 1982.9 L862.1 1981.1 L863.0 1979.9 L863.6 1978.2 L864.3 1979.3 L865.1 1980.4 L864.7 1982.2 L865.7 1983.7 L864.8 1985.4 L866.0 1986.9 L865.3 1988.6 L866.3 1990.1 L865.6 1991.7 L866.6 1993.2 L865.9 1995.1 L866.5 1995.7 L867.3 1994.7 L866.9 1992.9 L868.0 1991.5 L867.1 1989.8 L868.2 1988.3 L867.4 1986.6 L868.6 1985.1 L867.8 1983.4 L868.7 1981.9 L868.0 1980.2 L869.1 1978.7 L868.5 1977.0 L869.4 1975.5 L868.7 1973.8 L869.8 1972.5 L869.7 1970.7 L869.6 1972.8 L870.8 1974.0 L870.3 1975.8 L871.5 1977.1 L871.0 1978.9 L872.4 1980.2 L872.0 1982.0 L873.2 1983.3 L872.9 1985.0 L874.1 1986.4 L873.4 1988.1 L874.4 1989.6 L873.6 1991.3 L874.8 1992.8 L874.0 1994.5 L875.0 1996.0 L874.2 1997.7 L875.3 1999.2 L874.5 2000.8 L875.4 2002.4 L874.6 2004.0 L875.5 2005.6 L874.7 2007.2 L875.8 2008.8 L874.9 2010.4 L875.8 2012.0 L875.0 2013.6 L876.1 2015.2 L875.1 2016.8 L876.3 2018.4 L875.5 2020.0 L876.5 2021.6 L875.7 2023.2 L876.7 2024.7 L875.9 2026.4 L877.0 2027.9 L876.4 2029.7 L877.0 2030.8 L877.5 2030.0 L876.8 2028.2 L877.7 2026.7 L877.2 2025.1 L878.2 2023.6 L877.4 2021.9 L878.6 2020.4 L877.6 2018.7 L878.9 2017.2 L878.1 2015.5 L879.2 2014.1 L878.4 2012.1 L879.3 2011.3 L880.3 2010.8 L880.8 2012.5 L881.7 2013.8 L880.8 2015.6 L881.9 2017.1 L881.2 2018.7 L882.0 2020.3 L881.3 2021.9 L882.3 2023.5 L881.4 2025.1 L882.4 2026.7 L881.7 2028.3 L882.8 2029.9 L881.8 2031.5 L883.0 2033.1 L882.0 2034.7 L883.1 2036.3 L882.0 2037.9 L883.3 2039.5 L882.3 2041.1 L883.3 2042.7 L882.4 2044.3 L883.4 2045.9 L882.7 2047.5 L883.6 2049.0 L882.8 2050.7 L883.8 2052.2 L883.2 2053.9 L884.4 2055.3 L883.6 2057.1 L884.4 2058.2 L884.8 2057.7 L884.2 2055.8 L885.3 2054.4 L884.4 2052.7 L885.6 2051.2 L884.8 2049.4 L886.2 2048.2 L886.2 2046.1 L886.1 2047.7 L887.2 2049.0 L886.3 2050.8 L887.1 2052.3 L886.3 2054.0 L887.3 2055.5 L886.6 2057.1 L887.5 2058.7 L886.7 2060.3 L887.7 2061.9 L886.9 2063.5 L887.8 2065.1 L887.1 2066.7 L887.9 2068.3 L887.2 2069.9 L888.1 2071.5 L887.4 2073.1 L888.4 2074.7 L887.4 2076.3 L888.5 2077.9 L887.6 2079.5 L888.5 2081.1 L887.9 2082.7 L888.8 2084.3 L887.9 2086.0 L888.9 2087.4 L888.4 2089.2 L889.9 2090.4 L890.2 2091.7 L891.4 2092.9 L890.8 2094.8 L892.1 2096.1 L891.3 2097.9 L892.6 2099.3 L891.7 2101.0 L892.8 2102.5 L892.2 2104.2 L893.4 2105.7 L892.7 2107.4 L893.7 2108.8 L893.1 2110.5 L894.3 2112.0 L893.6 2113.7 L894.9 2115.1 L894.2 2116.9 L895.4 2118.3 L894.8 2120.0 L895.9 2121.3 L895.5 2123.4 L896.0 2123.0 L896.8 2122.2 L896.8 2120.0 L897.9 2119.3 L898.5 2119.3 L898.0 2121.3 L899.1 2122.7 L898.2 2124.5 L899.5 2125.9 L898.6 2127.6 L899.7 2129.1 L899.1 2130.8 L900.0 2132.3 L899.2 2134.1 L900.4 2135.4 L899.9 2137.5 L900.9 2137.0 L901.7 2135.9 L901.0 2134.0 L902.2 2132.6 L901.3 2130.9 L902.4 2129.4 L901.7 2127.7 L902.8 2126.3 L902.0 2124.5 L903.4 2123.2 L903.0 2121.0 L902.8 2122.8 L903.8 2124.3 L902.9 2126.0 L904.0 2127.5 L903.1 2129.2 L904.0 2130.7 L903.2 2132.4 L904.1 2133.9 L903.3 2135.6 L904.3 2137.1 L903.6 2138.7 L904.5 2140.3 L903.8 2141.9 L904.8 2143.5 L904.0 2145.1 L904.8 2146.7 L904.2 2148.3 L905.0 2149.9 L904.3 2151.5 L905.2 2153.1 L904.4 2154.7 L905.5 2156.2 L904.6 2158.0 L905.9 2159.3 L905.1 2161.3 L906.3 2162.4 L906.5 2162.9 L907.5 2162.4 L908.6 2163.0 L908.4 2161.0 L909.6 2159.8 L909.3 2158.1 L910.7 2156.8 L909.7 2155.0 L910.8 2153.5 L909.9 2151.9 L910.9 2150.3 L910.2 2148.7 L911.1 2147.1 L910.3 2145.5 L911.4 2143.9 L910.4 2142.3 L911.6 2140.7 L910.7 2139.1 L911.8 2137.5 L910.7 2135.9 L911.7 2134.3 L911.0 2132.7 L911.9 2131.1 L911.3 2129.5 L912.1 2127.9 L911.2 2126.3 L912.2 2124.7 L911.5 2123.1 L912.5 2121.6 L911.6 2119.9 L912.6 2118.4 L912.2 2116.7 L913.1 2115.3 L913.1 2113.2 L912.9 2115.1 L914.1 2116.3 L913.5 2118.0 L914.8 2119.4 L913.9 2121.2 L915.2 2122.6 L914.6 2124.4 L915.4 2125.6 L915.9 2127.3 L916.8 2126.1 L917.8 2125.1 L917.0 2123.2 L918.0 2121.7 L917.2 2120.1 L918.2 2118.6 L917.3 2116.9 L918.3 2115.3 L917.5 2113.7 L918.4 2112.1 L917.6 2110.5 L918.8 2109.0 L917.8 2107.3 L918.9 2105.8 L918.0 2104.1 L919.0 2102.6 L918.2 2100.9 L919.2 2099.4 L918.2 2097.7 L919.4 2096.2 L918.4 2094.5 L919.4 2093.0 L918.7 2091.3 L919.7 2089.8 L919.0 2088.1 L920.2 2086.7 L919.4 2084.8 L920.3 2083.9 L920.7 2084.3 L920.1 2086.2 L921.1 2087.6 L920.3 2089.4 L921.7 2090.8 L920.8 2092.5 L922.0 2094.0 L921.3 2095.7 L922.3 2097.2 L921.8 2098.8 L922.7 2100.3 L922.2 2102.0 L923.4 2103.5 L922.5 2105.2 L923.6 2106.7 L923.1 2108.4 L924.0 2109.8 L923.6 2111.6 L924.3 2112.8 L925.5 2114.0 L926.3 2112.7 L927.5 2111.7 L926.8 2109.8 L927.7 2108.3 L927.1 2106.7 L928.1 2105.1 L927.2 2103.5 L928.2 2101.9 L927.4 2100.3 L928.5 2098.7 L927.7 2097.1 L928.5 2095.5 L927.7 2093.9 L928.7 2092.3 L927.9 2090.7 L928.9 2089.1 L928.2 2087.5 L929.1 2086.0 L928.3 2084.3 L929.2 2082.8 L928.5 2081.1 L929.5 2079.6 L928.8 2077.9 L929.9 2076.4 L929.0 2074.7 L930.2 2073.2 L929.6 2071.5 L930.5 2070.4 L930.8 2070.4 L930.1 2072.3 L931.3 2073.7 L930.7 2075.4 L931.8 2076.9 L931.0 2078.6 L932.3 2080.1 L931.5 2081.8 L932.4 2083.3 L931.7 2085.0 L933.0 2086.4 L932.1 2088.1 L933.3 2089.6 L932.4 2091.3 L933.6 2092.8 L932.8 2094.5 L934.0 2096.0 L933.2 2097.7 L934.2 2099.2 L933.6 2100.8 L934.5 2102.4 L933.8 2104.0 L934.8 2105.6 L934.0 2107.2 L935.2 2108.7 L934.2 2110.4 L935.3 2111.9 L934.6 2113.6 L935.5 2115.1 L934.6 2116.8 L935.8 2118.3 L934.9 2120.0 L935.9 2121.5 L935.1 2123.2 L936.2 2124.7 L935.3 2126.4 L936.4 2127.9 L935.4 2129.6 L936.5 2131.1 L935.7 2132.8 L936.7 2134.1 L936.1 2136.3 L937.1 2135.1 L938.8 2134.6 L938.2 2132.6 L939.4 2131.3 L938.8 2129.5 L939.9 2128.1 L939.1 2126.4 L940.1 2124.8 L939.5 2123.2 L940.6 2121.7 L939.6 2120.0 L940.8 2118.5 L940.0 2116.8 L940.9 2115.3 L940.2 2113.6 L941.4 2112.1 L940.5 2110.4 L941.5 2108.9 L941.0 2107.2 L941.9 2105.7 L941.1 2104.0 L942.6 2102.6 L941.8 2100.9 L943.1 2099.5 L942.6 2097.7 L943.6 2096.4 L943.2 2094.6 L944.5 2093.3 L944.5 2091.6 L946.0 2090.5 L945.7 2088.7 L947.3 2087.6 L946.8 2085.7 L948.1 2084.5 L947.8 2082.5 L948.7 2081.6 L949.3 2081.7 L948.8 2083.7 L949.8 2085.1 L949.1 2086.9 L950.4 2088.3 L949.8 2090.0 L950.9 2091.2 L950.3 2093.5 L952.0 2092.7 L952.1 2092.0 L953.3 2091.1 L952.8 2093.2 L954.0 2094.5 L953.4 2096.2 L954.3 2097.7 L953.8 2099.4 L954.7 2100.9 L954.0 2102.5 L955.0 2104.1 L954.0 2105.7 L955.2 2107.3 L954.3 2108.9 L955.5 2110.4 L954.6 2112.1 L955.8 2113.6 L954.9 2115.3 L956.0 2116.8 L955.2 2118.5 L956.2 2120.0 L955.4 2121.7 L956.3 2123.2 L955.7 2124.9 L956.8 2126.4 L955.9 2128.1 L957.1 2129.6 L956.4 2131.3 L957.6 2132.7 L956.7 2134.4 L957.8 2135.9 L957.0 2137.6 L958.3 2139.0 L957.5 2141.0 L957.7 2140.4 L958.8 2139.2 L958.1 2137.5 L959.2 2136.0 L958.3 2134.3 L959.3 2132.8 L958.6 2131.1 L959.7 2129.6 L959.0 2127.9 L960.1 2126.4 L959.2 2124.7 L960.2 2123.2 L959.5 2121.5 L960.5 2120.1 L959.8 2118.3 L961.1 2117.1 L960.9 2114.7 L960.8 2116.8 L962.1 2117.8 L961.4 2119.7 L962.7 2121.0 L962.1 2122.8 L963.2 2124.0 L963.4 2125.1 L962.8 2123.1 L963.8 2121.6 L963.1 2120.0 L964.0 2118.4 L963.4 2116.8 L964.3 2115.2 L963.5 2113.6 L964.6 2112.0 L963.8 2110.4 L964.7 2108.8 L963.9 2107.2 L964.9 2105.7 L964.1 2104.0 L965.3 2102.6 L964.6 2100.7 L965.3 2100.3 L966.6 2100.7 L965.8 2102.7 L966.8 2104.1 L965.9 2105.8 L967.1 2107.3 L966.1 2109.0 L967.1 2110.6 L966.5 2112.2 L967.6 2113.7 L966.7 2115.4 L967.8 2116.9 L966.9 2118.6 L967.9 2120.1 L967.4 2121.8 L968.4 2123.3 L967.5 2125.0 L968.8 2126.4 L968.3 2128.1 L969.6 2129.5 L969.0 2131.3 L970.2 2132.6 L970.2 2134.4 L971.7 2135.2 L972.4 2136.9 L974.3 2135.6 L975.4 2137.1 L975.7 2136.6 L976.8 2135.8 L976.5 2133.4 L977.8 2132.9 L978.7 2131.5 L979.8 2133.0 L981.1 2133.8 L980.8 2135.9 L981.7 2137.0 L982.0 2138.3 L981.5 2136.1 L982.8 2134.9 L982.1 2133.1 L983.2 2131.6 L982.3 2129.9 L983.3 2128.4 L982.4 2126.8 L983.5 2125.2 L982.8 2123.6 L983.9 2122.0 L983.0 2120.4 L984.0 2118.8 L983.2 2117.2 L984.2 2115.7 L983.3 2114.0 L984.5 2112.5 L983.5 2110.8 L984.7 2109.3 L983.8 2107.6 L984.8 2106.1 L983.9 2104.4 L985.2 2103.0 L984.4 2101.2 L986.0 2100.1 L986.0 2098.1 L986.6 2098.2 L987.4 2099.3 L986.6 2101.2 L987.9 2102.6 L987.1 2104.3 L988.3 2105.8 L987.3 2107.5 L988.4 2109.0 L987.6 2110.7 L988.6 2112.2 L988.0 2113.8 L988.9 2115.4 L988.3 2117.0 L989.4 2118.5 L988.5 2120.2 L989.8 2121.7 L988.9 2123.4 L990.0 2124.9 L989.4 2126.6 L990.8 2127.8 L990.6 2129.9 L991.5 2130.3 L992.3 2129.4 L991.7 2127.4 L992.9 2126.0 L992.2 2124.3 L993.3 2122.8 L992.6 2121.1 L993.5 2119.6 L992.8 2117.9 L994.0 2116.5 L993.1 2114.7 L994.3 2113.3 L993.6 2111.5 L994.8 2110.2 L994.3 2108.4 L995.7 2107.2 L995.6 2105.3 L996.5 2104.4 L997.2 2105.2 L996.8 2107.2 L998.1 2108.4 L997.6 2110.3 L998.6 2111.3 L999.0 2112.1 L998.6 2110.1 L999.8 2108.8 L999.1 2107.0 L1000.4 2105.6 L999.4 2103.9 L1000.6 2102.4 L999.6 2100.7 L1000.7 2099.2 L1000.1 2097.5 L1001.1 2096.0 L1000.2 2094.3 L1001.3 2092.8 L1000.5 2091.1 L1001.6 2089.6 L1000.8 2087.9 L1001.9 2086.5 L1001.2 2084.7 L1002.6 2083.5 L1002.6 2081.9 L1004.2 2080.8 L1003.7 2078.9 L1005.0 2077.6 L1004.4 2075.8 L1005.6 2074.5 L1005.1 2072.5 L1005.9 2071.8 L1007.2 2071.9 L1006.8 2074.1 L1008.0 2075.2 L1007.7 2077.2 L1008.8 2077.7 L1009.4 2077.1 L1008.9 2075.2 L1009.9 2073.8 L1009.2 2072.0 L1010.5 2070.6 L1009.6 2068.9 L1010.9 2067.4 L1010.1 2065.7 L1011.3 2064.3 L1010.5 2062.5 L1011.7 2061.1 L1011.3 2059.4 L1012.5 2058.1 L1012.1 2056.1 L1013.1 2055.6 L1014.3 2055.8 L1013.8 2057.8 L1014.7 2059.2 L1014.2 2060.9 L1015.2 2062.4 L1014.6 2064.1 L1015.8 2065.5 L1015.1 2067.3 L1016.1 2068.7 L1015.7 2070.4 L1017.0 2071.7 L1016.7 2073.7 L1017.7 2074.4 L1018.3 2073.6 L1017.8 2071.8 L1018.9 2070.3 L1018.3 2068.6 L1019.3 2067.1 L1018.4 2065.4 L1019.5 2063.9 L1018.7 2062.3 L1019.7 2060.7 L1018.9 2059.1 L1019.9 2057.5 L1018.9 2055.9 L1020.1 2054.3 L1019.4 2052.7 L1020.2 2051.2 L1019.6 2049.5 L1020.7 2048.0 L1019.8 2046.3 L1020.9 2044.8 L1020.2 2043.0 L1021.1 2041.8 L1021.4 2041.4 L1020.9 2043.4 L1022.1 2044.8 L1021.4 2046.5 L1022.5 2048.0 L1021.9 2049.7 L1023.0 2051.1 L1022.7 2053.1 L1022.7 2051.9 L1023.9 2050.7 L1023.1 2048.9 L1024.1 2047.4 L1023.5 2045.8 L1024.6 2044.3 L1023.9 2042.6 L1025.0 2041.1 L1024.2 2039.4 L1025.2 2038.0 L1024.8 2036.0 L1026.5 2035.6 L1026.4 2036.3 L1027.4 2038.6 L1027.3 2037.0 L1028.5 2035.8 L1027.9 2034.0 L1029.0 2032.6 L1028.3 2030.9 L1029.2 2029.4 L1028.5 2027.7 L1029.7 2026.2 L1028.8 2024.5 L1029.9 2023.0 L1029.0 2021.3 L1030.2 2019.8 L1029.4 2018.1 L1030.5 2016.6 L1029.7 2014.9 L1030.6 2013.4 L1029.9 2011.7 L1030.9 2010.2 L1030.0 2008.6 L1031.3 2007.1 L1030.4 2005.4 L1031.4 2003.9 L1030.8 2002.2 L1031.7 2000.7 L1031.0 1999.0 L1031.9 1997.5 L1031.3 1995.8 L1032.2 1994.3 L1031.5 1992.6 L1032.5 1991.1 L1031.8 1989.4 L1032.9 1988.0 L1032.0 1986.1 L1033.6 1985.0 L1033.3 1983.2 L1035.2 1982.2 L1034.8 1980.4 L1035.9 1979.0 L1035.5 1977.2 L1036.7 1976.0 L1036.2 1973.8 L1037.5 1974.1 L1038.4 1975.0 L1037.6 1977.0 L1038.7 1978.4 L1038.0 1980.1 L1039.3 1981.6 L1038.6 1983.3 L1039.6 1984.8 L1038.9 1986.5 L1040.0 1987.8 L1039.5 1989.9 L1040.2 1989.7 L1041.5 1989.2 L1041.8 1987.5 L1043.0 1986.3 L1042.7 1984.4 L1043.9 1983.3 L1043.8 1981.1 L1044.6 1982.0 L1045.8 1982.6 L1045.4 1984.6 L1046.5 1985.9 L1046.1 1987.8 L1047.3 1988.7 L1047.8 1989.5 L1047.7 1987.2 L1049.0 1986.2 L1048.7 1984.0 L1049.2 1984.1 L1050.0 1985.1 L1049.4 1986.9 L1050.6 1988.3 L1049.9 1990.1 L1051.2 1991.5 L1050.3 1993.3 L1051.7 1994.5 L1051.1 1996.8 L1051.3 1995.3 L1052.4 1994.0 L1051.7 1992.2 L1052.8 1990.8 L1051.9 1989.1 L1052.9 1987.6 L1052.3 1985.9 L1053.3 1984.4 L1052.5 1982.7 L1053.5 1981.2 L1052.6 1979.5 L1053.8 1978.0 L1052.9 1976.2 L1053.9 1975.0 L1053.9 1973.0 L1054.1 1974.7 L1055.1 1976.0 L1054.2 1977.7 L1055.2 1979.2 L1054.3 1980.9 L1055.4 1982.4 L1054.6 1984.1 L1055.5 1985.6 L1054.8 1987.3 L1055.9 1988.8 L1054.9 1990.5 L1056.0 1992.0 L1055.1 1993.7 L1056.1 1995.2 L1055.2 1996.9 L1056.1 1998.4 L1055.4 2000.1 L1056.4 2001.6 L1055.6 2003.3 L1056.7 2004.8 L1055.8 2006.5 L1056.7 2008.0 L1055.7 2009.7 L1056.9 2011.2 L1056.1 2012.9 L1056.6 2014.1 L1057.3 2013.2 L1056.7 2011.3 L1057.7 2009.9 L1057.3 2008.2 L1058.4 2006.7 L1057.8 2005.0 L1058.7 2003.7 L1058.3 2001.4 L1059.8 2002.6 L1060.2 2003.1 L1061.6 2005.0 L1061.9 2003.2 L1062.9 2002.2 L1062.7 2000.1 L1063.7 1999.4 L1064.4 1999.5 L1063.7 2001.6 L1065.0 2002.9 L1064.3 2004.6 L1065.4 2006.1 L1064.8 2007.8 L1065.9 2009.2 L1065.2 2011.0 L1066.3 2012.4 L1065.5 2014.1 L1066.9 2015.5 L1066.1 2017.3 L1067.3 2018.7 L1066.8 2020.5 L1068.2 2021.5 L1068.3 2023.6 L1069.4 2023.0 L1070.0 2022.6 L1071.0 2020.1 L1071.4 2022.3 L1073.1 2022.4 L1073.0 2024.2 L1074.2 2025.4 L1073.7 2027.2 L1074.8 2028.6 L1074.1 2030.4 L1075.4 2031.8 L1074.6 2033.5 L1075.7 2035.0 L1075.0 2036.7 L1076.4 2038.1 L1075.5 2039.9 L1076.8 2041.2 L1076.5 2043.0 L1077.7 2044.3 L1077.2 2046.2 L1078.4 2047.1 L1078.6 2048.3 L1078.2 2046.3 L1079.2 2044.9 L1078.6 2043.1 L1079.7 2041.7 L1078.9 2039.9 L1080.3 2038.6 L1079.7 2036.7 L1080.3 2035.8 L1080.9 2036.8 L1080.2 2038.7 L1081.4 2040.1 L1080.8 2041.8 L1082.0 2043.2 L1081.2 2044.9 L1082.2 2046.4 L1081.5 2048.1 L1082.4 2049.6 L1081.8 2051.3 L1082.7 2052.8 L1082.1 2054.5 L1083.2 2056.0 L1082.3 2057.7 L1083.4 2059.2 L1082.7 2060.8 L1083.9 2062.3 L1083.1 2064.0 L1084.1 2065.5 L1083.5 2067.2 L1084.6 2068.7 L1083.8 2070.4 L1085.0 2071.9 L1084.3 2073.6 L1085.4 2075.0 L1084.9 2076.8 L1085.7 2077.9 L1086.1 2077.8 L1085.7 2075.9 L1086.9 2074.5 L1086.1 2072.8 L1087.4 2071.3 L1086.6 2069.6 L1087.6 2068.1 L1086.9 2066.4 L1088.0 2064.9 L1087.3 2063.2 L1088.5 2061.8 L1087.9 2060.1 L1089.0 2058.7 L1088.6 2056.9 L1089.8 2055.7 L1089.5 2053.7 L1090.7 2052.9 L1092.0 2052.5 L1092.2 2054.6 L1093.3 2055.7 L1092.6 2057.5 L1093.5 2059.0 L1092.9 2060.6 L1093.9 2062.1 L1093.2 2063.8 L1094.2 2065.3 L1093.5 2067.0 L1094.5 2068.5 L1093.7 2070.2 L1095.0 2071.7 L1094.0 2073.4 L1095.4 2074.7 L1094.8 2076.6 L1096.4 2077.3 L1096.9 2078.1 L1098.2 2079.2 L1097.5 2081.1 L1098.8 2082.4 L1098.0 2084.2 L1099.3 2085.6 L1098.7 2087.4 L1099.8 2088.5 L1099.4 2090.9 L1100.7 2089.7 L1101.9 2088.9 L1101.6 2087.0 L1102.6 2085.6 L1102.2 2083.9 L1103.1 2082.4 L1102.4 2080.7 L1103.4 2079.2 L1102.7 2077.5 L1103.8 2076.0 L1103.0 2074.4 L1103.8 2072.8 L1103.1 2071.1 L1104.2 2069.6 L1103.4 2068.0 L1104.4 2066.4 L1103.8 2064.8 L1104.6 2063.3 L1103.9 2061.4 L1105.2 2060.4 L1105.8 2058.6 L1107.7 2059.0 L1108.4 2059.3 L1109.6 2060.8 L1110.6 2058.5 L1111.1 2058.0 L1112.0 2058.4 L1111.4 2060.5 L1112.7 2061.8 L1111.9 2063.5 L1113.0 2065.0 L1112.2 2066.7 L1113.4 2068.2 L1112.5 2069.9 L1113.8 2071.3 L1113.0 2073.0 L1114.1 2074.5 L1113.4 2076.2 L1114.4 2077.7 L1113.6 2079.4 L1114.7 2080.8 L1114.4 2082.5 L1115.8 2083.7 L1115.5 2085.7 L1116.5 2086.4 L1118.1 2086.9 L1118.2 2084.9 L1119.4 2083.8 L1118.8 2081.9 L1119.8 2080.5 L1118.9 2078.8 L1120.2 2077.3 L1119.3 2075.6 L1120.4 2074.1 L1119.6 2072.4 L1120.6 2070.9 L1119.7 2069.2 L1120.7 2067.7 L1119.9 2066.0 L1120.9 2064.5 L1120.1 2062.8 L1121.1 2061.3 L1120.4 2059.7 L1121.4 2058.1 L1120.6 2056.4 L1121.5 2055.0 L1121.3 2053.0 L1121.0 2055.2 L1122.1 2056.5 L1121.5 2058.2 L1122.8 2059.7 L1122.0 2061.4 L1123.1 2062.9 L1122.2 2064.6 L1123.2 2066.1 L1122.4 2067.9 L1123.6 2069.2 L1123.0 2071.2 L1124.0 2070.9 L1124.7 2069.8 L1124.2 2068.0 L1125.2 2066.5 L1124.2 2064.8 L1125.3 2063.3 L1124.6 2061.6 L1125.7 2060.1 L1124.8 2058.4 L1125.9 2056.9 L1125.0 2055.2 L1126.0 2053.7 L1125.2 2052.0 L1126.4 2050.6 L1125.6 2048.8 L1126.4 2047.7 L1126.8 2047.6 L1126.6 2049.6 L1128.0 2050.8 L1127.4 2052.6 L1128.9 2053.9 L1128.1 2055.7 L1129.5 2057.1 L1128.7 2058.9 L1129.8 2060.3 L1129.1 2062.0 L1130.2 2063.5 L1129.7 2065.3 L1130.6 2066.4 L1131.1 2067.3 L1131.0 2065.3 L1132.0 2063.9 L1131.3 2062.2 L1132.4 2060.7 L1131.5 2059.0 L1132.8 2057.5 L1131.8 2055.8 L1132.8 2054.3 L1132.2 2052.7 L1133.2 2051.2 L1132.6 2049.5 L1133.7 2048.0 L1132.9 2046.2 L1133.8 2044.9 L1133.5 2043.0 L1135.2 2043.0 L1136.2 2042.9 L1135.6 2045.0 L1136.5 2046.4 L1135.8 2048.1 L1136.6 2049.6 L1136.0 2051.2 L1137.0 2052.8 L1136.2 2054.4 L1137.4 2056.0 L1136.4 2057.6 L1137.6 2059.1 L1136.6 2060.8 L1137.7 2062.3 L1136.8 2064.0 L1138.0 2065.5 L1137.0 2067.2 L1138.1 2068.6 L1137.5 2070.7 L1137.8 2069.6 L1139.1 2068.6 L1138.6 2066.8 L1139.7 2065.4 L1138.9 2063.7 L1139.9 2062.2 L1139.1 2060.5 L1140.2 2059.0 L1139.3 2057.3 L1140.3 2055.8 L1139.8 2054.1 L1141.0 2052.7 L1140.3 2050.8 L1141.3 2049.9 L1141.5 2049.5 L1141.2 2051.5 L1142.4 2052.8 L1141.8 2054.6 L1143.2 2055.9 L1142.6 2057.7 L1143.8 2059.1 L1143.2 2060.8 L1144.3 2062.3 L1143.7 2064.0 L1144.8 2065.4 L1143.9 2067.2 L1145.1 2068.6 L1144.4 2070.3 L1145.5 2071.8 L1144.9 2073.5 L1146.3 2074.9 L1145.6 2076.6 L1146.8 2078.0 L1146.4 2079.8 L1147.3 2081.1 L1147.4 2083.1 L1147.4 2080.9 L1148.7 2079.7 L1148.0 2077.9 L1149.2 2076.5 L1148.4 2074.7 L1149.7 2073.3 L1148.9 2071.6 L1150.0 2070.2 L1149.6 2068.3 L1150.2 2067.9 L1150.9 2068.9 L1150.2 2070.7 L1151.2 2072.2 L1150.3 2073.9 L1151.5 2075.4 L1150.7 2077.1 L1151.7 2078.6 L1151.0 2080.3 L1152.0 2081.8 L1151.3 2083.4 L1152.3 2085.0 L1151.6 2086.6 L1152.5 2088.2 L1151.8 2089.8 L1152.6 2091.4 L1151.9 2093.0 L1153.2 2094.5 L1152.3 2096.2 L1153.5 2097.7 L1152.6 2099.5 L1153.4 2100.5 L1154.0 2099.9 L1153.4 2098.0 L1154.3 2096.5 L1153.7 2094.8 L1154.8 2093.4 L1154.0 2091.7 L1155.2 2090.2 L1154.6 2088.5 L1155.7 2087.0 L1154.9 2085.3 L1156.1 2083.9 L1155.5 2082.2 L1156.4 2080.7 L1155.8 2079.0 L1156.8 2077.5 L1156.1 2075.8 L1157.2 2074.3 L1156.5 2072.6 L1157.8 2071.2 L1156.9 2069.5 L1158.0 2067.9 L1157.1 2066.3 L1158.2 2064.8 L1157.4 2063.1 L1158.5 2061.6 L1157.7 2059.9 L1158.7 2058.4 L1158.1 2056.7 L1159.1 2055.2 L1158.2 2053.5 L1159.4 2052.1 L1158.8 2050.1 L1160.2 2049.5 L1160.9 2049.9 L1160.4 2051.9 L1161.7 2053.2 L1161.0 2055.0 L1162.0 2056.4 L1161.5 2058.2 L1162.8 2059.6 L1162.1 2061.3 L1163.3 2062.7 L1162.7 2064.5 L1163.9 2065.9 L1163.3 2067.6 L1164.4 2069.0 L1164.0 2070.9 L1164.4 2071.3 L1165.1 2070.2 L1164.3 2068.4 L1165.4 2066.9 L1164.6 2065.2 L1165.6 2063.7 L1164.9 2062.0 L1166.0 2060.5 L1165.0 2058.8 L1166.1 2057.3 L1165.3 2055.7 L1166.5 2054.1 L1165.5 2052.5 L1166.7 2050.9 L1165.9 2049.3 L1166.9 2047.7 L1166.1 2046.1 L1166.9 2044.6 L1166.3 2042.9 L1167.2 2041.4 L1166.7 2039.6 L1167.9 2038.3 L1167.5 2036.6 L1169.4 2035.6 L1168.7 2033.8 L1169.9 2032.5 L1169.2 2030.7 L1170.5 2029.2 L1169.4 2027.5 L1170.6 2026.0 L1169.7 2024.3 L1170.9 2022.8 L1169.9 2021.1 L1171.0 2019.6 L1170.3 2018.0 L1171.3 2016.4 L1170.5 2014.8 L1171.6 2013.3 L1170.7 2011.6 L1171.8 2010.1 L1171.0 2008.4 L1172.0 2006.9 L1171.3 2005.1 L1172.4 2003.9 L1172.8 2002.0 L1173.9 2002.1 L1175.0 2002.5 L1175.1 2005.0 L1175.9 2005.5 L1177.1 2005.9 L1176.3 2003.8 L1177.4 2002.5 L1176.7 2000.8 L1177.7 1999.3 L1176.8 1997.6 L1177.8 1996.1 L1177.1 1994.4 L1178.0 1992.9 L1177.2 1991.2 L1178.3 1989.7 L1177.4 1988.0 L1178.4 1986.5 L1177.6 1984.8 L1178.6 1983.3 L1178.0 1981.6 L1178.8 1980.1 L1178.0 1978.4 L1179.1 1977.1 L1179.0 1975.6 L1178.8 1977.7 L1180.2 1978.9 L1179.3 1980.7 L1180.5 1982.2 L1179.6 1983.9 L1180.7 1985.4 L1179.8 1987.1 L1180.9 1988.6 L1180.2 1990.3 L1181.3 1991.8 L1180.4 1993.5 L1181.6 1994.9 L1180.8 1996.7 L1181.8 1998.0 L1181.8 1999.8 L1182.0 1997.5 L1183.3 1996.4 L1183.1 1994.7 L1184.2 1993.3 L1183.3 1991.6 L1184.5 1990.1 L1183.7 1988.4 L1184.6 1986.9 L1183.8 1985.2 L1184.7 1983.7 L1184.1 1982.0 L1185.0 1980.5 L1184.2 1978.8 L1185.1 1977.3 L1184.3 1975.6 L1185.4 1974.1 L1184.5 1972.4 L1185.5 1970.9 L1184.6 1969.2 L1185.7 1967.7 L1184.7 1966.0 L1185.7 1964.5 L1184.9 1962.8 L1185.9 1961.3 L1185.1 1959.6 L1186.3 1958.2 L1185.5 1956.4 L1186.8 1955.2 L1187.0 1954.2 L1186.3 1956.3 L1187.2 1957.7 L1186.5 1959.4 L1187.7 1960.9 L1186.9 1962.5 L1187.8 1964.1 L1187.0 1965.7 L1188.2 1967.3 L1187.1 1968.9 L1188.2 1970.5 L1187.5 1972.1 L1188.4 1973.7 L1187.8 1975.3 L1188.7 1976.9 L1187.8 1978.6 L1189.1 1979.9 L1188.9 1981.0 L1188.3 1979.1 L1189.4 1977.6 L1188.5 1975.9 L1189.6 1974.4 L1188.8 1972.8 L1189.7 1971.2 L1189.1 1969.6 L1190.1 1968.0 L1189.1 1966.4 L1190.2 1964.8 L1189.5 1963.2 L1190.5 1961.6 L1189.5 1960.0 L1190.6 1958.4 L1189.6 1956.8 L1190.8 1955.2 L1189.9 1953.6 L1191.0 1952.1 L1190.2 1950.4 L1191.2 1948.9 L1190.4 1947.2 L1191.5 1945.8 L1190.9 1943.9 L1192.2 1943.1 L1192.4 1943.9 L1194.0 1942.9 L1193.6 1940.9 L1194.7 1939.6 L1193.9 1937.8 L1195.0 1936.4 L1194.4 1934.7 L1195.5 1933.2 L1194.8 1931.5 L1196.0 1930.1 L1195.2 1928.4 L1196.2 1926.9 L1195.4 1925.2 L1196.5 1923.7 L1195.7 1922.0 L1196.8 1920.5 L1195.9 1918.8 L1196.8 1917.3 L1196.1 1915.6 L1197.0 1914.1 L1196.4 1912.4 L1197.3 1910.9 L1196.6 1909.2 L1197.7 1907.7 L1196.8 1906.0 L1198.0 1904.6 L1197.2 1902.8 L1198.2 1901.5 L1198.3 1900.1 L1198.0 1902.2 L1199.1 1903.5 L1198.4 1905.3 L1199.6 1906.7 L1198.9 1908.4 L1200.0 1909.9 L1199.3 1911.6 L1200.3 1913.1 L1199.6 1914.9 L1200.8 1916.2 L1200.5 1918.0 L1202.1 1918.8 L1202.5 1920.1 L1204.0 1921.1 L1203.7 1923.4 L1204.3 1923.9 L1205.1 1923.1 L1204.6 1921.2 L1205.6 1919.8 L1205.1 1918.1 L1206.1 1916.6 L1205.2 1914.9 L1206.1 1913.4 L1205.3 1911.7 L1206.3 1910.2 L1205.5 1908.5 L1206.4 1907.0 L1205.6 1905.3 L1206.6 1903.8 L1205.9 1902.1 L1206.7 1900.6 L1206.1 1898.9 L1207.0 1897.4 L1206.1 1895.7 L1207.2 1894.2 L1206.3 1892.6 L1207.3 1891.0 L1206.4 1889.4 L1207.5 1887.8 L1206.6 1886.2 L1207.5 1884.6 L1206.7 1882.9 L1207.9 1881.4 L1207.1 1879.8 L1208.2 1878.3 L1207.5 1876.5 L1208.4 1875.2 L1208.1 1873.1 L1208.7 1874.4 L1209.8 1875.5 L1209.1 1877.3 L1210.2 1878.8 L1209.3 1880.4 L1210.3 1882.0 L1209.7 1883.6 L1210.7 1885.1 L1209.7 1886.8 L1211.0 1888.3 L1210.2 1890.0 L1211.5 1891.5 L1210.6 1893.2 L1211.6 1894.7 L1211.0 1896.4 L1212.1 1897.8 L1211.4 1899.6 L1212.4 1900.9 L1212.0 1903.0 L1213.3 1902.6 L1214.3 1902.0 L1214.5 1900.2 L1216.0 1899.3 L1215.3 1897.4 L1216.4 1896.0 L1215.6 1894.3 L1216.8 1892.8 L1216.2 1891.1 L1217.1 1889.6 L1216.4 1888.0 L1217.4 1886.5 L1216.7 1884.8 L1217.9 1883.3 L1217.2 1881.6 L1218.1 1880.1 L1217.2 1878.4 L1218.4 1876.9 L1217.6 1875.2 L1218.6 1873.7 L1217.8 1872.0 L1218.8 1870.5 L1218.0 1868.8 L1219.0 1867.3 L1218.3 1865.7 L1219.2 1864.1 L1218.5 1862.5 L1219.4 1860.9 L1218.8 1859.3 L1219.6 1857.7 L1219.0 1856.0 L1220.0 1854.7 L1219.5 1852.7 L1221.0 1852.1 L1221.0 1853.0 L1222.9 1853.5 L1222.6 1851.5 L1223.7 1850.2 L1222.9 1848.4 L1224.2 1847.0 L1223.4 1845.2 L1224.6 1843.9 L1224.1 1841.8 L1224.8 1842.0 L1225.7 1843.0 L1225.4 1844.9 L1226.5 1846.1 L1226.4 1848.1 L1226.8 1847.8 L1227.8 1847.0 L1227.4 1845.2 L1228.6 1843.9 L1228.3 1841.9 L1229.1 1840.9 L1229.5 1841.2 L1230.5 1843.4 L1231.3 1843.3 L1232.8 1843.1 L1232.4 1840.9 L1233.5 1839.7 L1233.2 1837.8 L1234.3 1837.1 L1234.7 1837.7 L1234.0 1839.5 L1235.1 1841.0 L1234.3 1842.6 L1235.4 1844.2 L1234.5 1845.8 L1235.6 1847.4 L1234.7 1849.0 L1235.9 1850.5 L1235.1 1852.2 L1236.0 1853.7 L1235.4 1855.4 L1236.4 1856.9 L1235.4 1858.6 L1236.5 1860.1 L1235.8 1861.8 L1236.7 1863.3 L1236.3 1865.0 L1237.5 1866.4 L1236.8 1868.2 L1238.1 1869.4 L1237.9 1871.5 L1238.7 1871.1 L1240.0 1870.4 L1239.5 1868.4 L1240.7 1867.2 L1240.1 1865.2 L1240.9 1864.9 L1242.1 1865.4 L1241.4 1867.3 L1242.3 1868.8 L1241.6 1870.4 L1242.6 1872.0 L1241.8 1873.6 L1242.7 1875.2 L1241.9 1876.8 L1242.9 1878.4 L1242.2 1880.0 L1243.1 1881.6 L1242.3 1883.2 L1243.4 1884.7 L1242.4 1886.4 L1243.5 1887.9 L1242.6 1889.6 L1243.6 1891.1 L1242.7 1892.8 L1243.9 1894.3 L1242.9 1896.0 L1243.9 1897.5 L1243.2 1899.3 L1244.1 1900.4 L1244.1 1902.2 L1245.1 1900.3 L1246.4 1899.6 L1246.1 1897.7 L1247.2 1896.3 L1246.6 1894.6 L1247.9 1893.2 L1247.0 1891.3 L1248.1 1890.2 L1248.2 1888.5 L1248.1 1890.7 L1249.6 1891.9 L1248.6 1893.7 L1249.5 1895.2 L1248.6 1896.9 L1249.7 1898.4 L1249.0 1900.0 L1250.0 1901.6 L1249.0 1903.2 L1250.2 1904.8 L1249.3 1906.4 L1250.4 1908.0 L1249.3 1909.6 L1250.4 1911.2 L1249.7 1912.8 L1250.7 1914.4 L1249.9 1916.0 L1250.9 1917.5 L1250.2 1919.2 L1251.4 1920.7 L1250.6 1922.5 L1250.7 1922.2 L1251.7 1920.8 L1250.7 1919.1 L1251.8 1917.6 L1251.0 1915.9 L1252.0 1914.4 L1251.1 1912.7 L1252.2 1911.2 L1251.2 1909.5 L1252.2 1908.0 L1251.3 1906.3 L1252.5 1904.8 L1251.6 1903.1 L1252.5 1901.6 L1251.8 1899.9 L1252.8 1898.4 L1252.0 1896.7 L1252.9 1895.2 L1252.0 1893.5 L1253.1 1892.0 L1252.1 1890.3 L1253.2 1888.8 L1252.3 1887.1 L1253.3 1885.6 L1252.7 1883.9 L1253.6 1882.4 L1252.8 1880.7 L1254.0 1879.3 L1253.4 1877.5 L1254.4 1876.4 L1255.1 1874.5 L1255.9 1876.4 L1257.2 1877.3 L1256.7 1879.2 L1257.8 1880.6 L1257.2 1882.3 L1258.1 1883.8 L1257.5 1885.5 L1258.5 1887.0 L1257.6 1888.7 L1258.6 1890.2 L1257.8 1891.9 L1259.2 1893.3 L1258.9 1895.0 L1260.0 1896.4 L1259.8 1898.1 L1261.0 1899.4 L1260.4 1901.2 L1261.4 1902.6 L1260.9 1904.3 L1262.2 1905.7 L1261.7 1907.5 L1262.8 1908.9 L1262.2 1910.6 L1263.2 1912.1 L1262.6 1913.8 L1263.7 1915.2 L1263.1 1916.9 L1264.2 1918.4 L1263.4 1920.1 L1264.6 1921.6 L1263.9 1923.3 L1264.9 1924.8 L1264.3 1926.5 L1265.4 1927.9 L1264.6 1929.7 L1266.0 1931.0 L1265.2 1932.9 L1266.7 1934.1 L1266.4 1935.9 L1267.8 1937.1 L1267.4 1938.9 L1269.0 1940.1 L1268.5 1941.9 L1269.6 1943.1 L1269.9 1945.0 L1269.6 1942.6 L1270.8 1941.4 L1270.0 1939.6 L1271.3 1938.2 L1270.7 1936.5 L1271.7 1935.0 L1271.1 1933.3 L1272.4 1931.9 L1271.6 1930.2 L1272.7 1928.7 L1272.2 1927.0 L1273.4 1925.6 L1272.6 1923.8 L1273.8 1922.4 L1273.3 1920.7 L1274.4 1919.3 L1273.9 1917.5 L1274.9 1916.2 L1274.6 1914.1 L1274.8 1915.2 L1275.6 1916.5 L1274.8 1918.3 L1276.0 1919.7 L1275.2 1921.4 L1276.5 1922.9 L1275.7 1924.6 L1276.7 1926.1 L1276.0 1927.8 L1277.0 1929.3 L1276.3 1931.0 L1277.3 1932.4 L1276.7 1934.4 L1278.0 1935.0 L1278.9 1934.9 L1278.7 1932.8 L1280.1 1931.7 L1279.6 1929.9 L1280.8 1928.5 L1280.0 1926.8 L1281.2 1925.3 L1280.5 1923.6 L1281.7 1922.2 L1280.9 1920.4 L1282.0 1919.0 L1281.5 1917.1 L1283.2 1916.2 L1283.4 1916.5 L1285.2 1915.9 L1284.5 1913.9 L1285.6 1912.6 L1284.8 1910.9 L1285.9 1909.4 L1285.0 1907.7 L1286.2 1906.2 L1285.4 1904.5 L1286.5 1903.0 L1285.7 1901.4 L1286.7 1899.8 L1286.0 1898.2 L1287.0 1896.6 L1286.1 1895.0 L1287.3 1893.5 L1286.5 1891.8 L1287.4 1890.3 L1286.9 1888.6 L1287.9 1887.1 L1287.1 1885.4 L1288.3 1883.9 L1287.6 1882.2 L1288.9 1880.8 L1288.2 1879.1 L1289.4 1877.6 L1288.7 1875.9 L1289.7 1874.5 L1289.3 1872.7 L1290.7 1871.5 L1290.2 1869.5 L1291.5 1868.7 L1292.0 1867.6 L1291.7 1869.9 L1293.2 1871.0 L1292.6 1872.9 L1293.7 1874.0 L1293.7 1876.2 L1293.4 1873.8 L1294.6 1872.6 L1293.9 1870.9 L1295.0 1869.4 L1294.3 1867.7 L1295.3 1866.2 L1294.5 1864.5 L1295.3 1863.0 L1294.5 1861.3 L1295.4 1859.8 L1294.8 1858.1 L1295.8 1856.6 L1294.9 1854.9 L1295.8 1853.4 L1294.9 1851.7 L1296.0 1850.2 L1295.1 1848.5 L1296.2 1847.0 L1295.7 1845.3 L1296.8 1844.1 L1297.0 1843.2 L1296.2 1845.2 L1297.1 1846.7 L1296.4 1848.3 L1297.4 1849.9 L1296.5 1851.5 L1297.5 1853.1 L1296.6 1854.7 L1297.7 1856.3 L1296.8 1857.9 L1297.9 1859.5 L1297.1 1861.1 L1298.0 1862.7 L1297.3 1864.3 L1298.2 1865.9 L1297.4 1867.5 L1298.3 1869.1 L1297.4 1870.7 L1298.6 1872.3 L1297.7 1873.9 L1298.7 1875.5 L1297.7 1877.1 L1298.9 1878.7 L1298.0 1880.3 L1299.0 1881.8 L1298.1 1883.5 L1299.1 1885.0 L1298.5 1886.7 L1299.4 1888.2 L1298.7 1889.9 L1299.6 1891.4 L1299.0 1893.1 L1299.9 1894.6 L1299.4 1896.3 L1300.6 1897.6 L1300.0 1899.6 L1300.3 1899.5 L1301.3 1898.4 L1300.5 1896.6 L1301.4 1895.1 L1300.8 1893.4 L1301.8 1892.1 L1301.6 1890.0 L1301.6 1892.2 L1302.7 1893.4 L1302.4 1895.2 L1303.6 1896.4 L1303.6 1898.6 L1303.4 1896.8 L1304.4 1895.4 L1303.5 1893.7 L1304.6 1892.2 L1303.8 1890.5 L1304.9 1889.0 L1304.0 1887.3 L1305.2 1885.8 L1304.3 1884.1 L1305.4 1882.6 L1304.6 1880.9 L1305.7 1879.4 L1304.8 1877.8 L1305.7 1876.2 L1305.1 1874.6 L1306.0 1873.0 L1305.1 1871.4 L1306.2 1869.8 L1305.5 1868.2 L1306.6 1866.7 L1305.8 1865.0 L1306.7 1863.5 L1306.0 1861.8 L1307.0 1860.3 L1306.3 1858.6 L1307.5 1857.1 L1306.7 1855.4 L1308.0 1854.0 L1307.3 1852.2 L1308.3 1850.8 L1308.0 1849.1 L1309.4 1847.9 L1309.1 1846.0 L1310.7 1845.1 L1311.0 1843.1 L1312.8 1843.2 L1313.7 1842.6 L1315.2 1844.6 L1315.1 1843.4 L1315.9 1842.2 L1315.3 1840.4 L1316.4 1838.9 L1315.7 1837.3 L1316.6 1835.7 L1315.8 1834.1 L1316.9 1832.5 L1316.1 1830.9 L1317.1 1829.3 L1316.3 1827.7 L1317.3 1826.1 L1316.5 1824.5 L1317.4 1822.9 L1316.6 1821.3 L1317.6 1819.8 L1316.8 1818.1 L1317.8 1816.6 L1317.0 1814.9 L1318.1 1813.4 L1317.3 1811.7 L1318.6 1810.2 L1317.7 1808.5 L1318.8 1807.1 L1318.0 1805.1 L1318.8 1804.9 L1319.2 1805.5 L1320.3 1807.8 L1320.4 1807.2 L1321.2 1806.1 L1320.2 1804.3 L1321.4 1802.7 L1320.5 1801.1 L1321.4 1799.5 L1320.6 1797.9 L1321.5 1796.3 L1320.8 1794.7 L1321.7 1793.1 L1320.9 1791.5 L1321.9 1789.9 L1321.0 1788.3 L1322.0 1786.8 L1321.2 1785.1 L1322.2 1783.6 L1321.4 1781.9 L1322.3 1780.4 L1321.3 1778.7 L1322.5 1777.2 L1321.5 1775.5 L1322.7 1774.0 L1321.7 1772.3 L1322.8 1770.8 L1321.8 1769.1 L1322.8 1767.6 L1321.9 1765.9 L1323.0 1764.4 L1322.1 1762.6 L1322.9 1761.4 L1323.5 1761.2 L1323.4 1763.1 L1324.4 1764.5 L1323.8 1766.2 L1325.0 1767.7 L1324.1 1769.4 L1325.5 1770.8 L1324.8 1772.6 L1326.0 1773.9 L1326.1 1775.4 L1328.1 1776.1 L1327.8 1777.9 L1329.1 1779.1 L1328.6 1781.0 L1329.8 1782.4 L1329.1 1784.1 L1330.4 1785.5 L1329.8 1787.2 L1330.9 1788.7 L1329.9 1790.4 L1331.0 1791.9 L1330.2 1793.6 L1331.3 1795.1 L1330.6 1796.8 L1331.7 1798.3 L1330.6 1800.0 L1331.9 1801.5 L1331.0 1803.1 L1332.0 1804.7 L1331.1 1806.3 L1332.3 1807.9 L1331.3 1809.5 L1332.3 1811.1 L1331.6 1812.7 L1332.7 1814.2 L1332.2 1816.0 L1333.3 1817.2 L1333.0 1819.3 L1334.1 1818.3 L1335.2 1817.3 L1334.8 1815.4 L1335.9 1814.1 L1335.2 1812.3 L1336.2 1810.9 L1335.6 1809.2 L1336.5 1807.7 L1335.8 1806.0 L1336.7 1804.5 L1336.1 1802.8 L1337.3 1801.3 L1336.5 1799.6 L1337.6 1798.2 L1336.8 1796.3 L1337.6 1795.2 L1338.1 1794.4 L1338.5 1796.5 L1340.0 1797.4 L1339.4 1799.3 L1340.6 1800.6 L1340.2 1802.4 L1341.3 1803.8 L1340.7 1805.5 L1341.9 1806.9 L1341.2 1808.7 L1342.3 1810.1 L1341.6 1811.8 L1343.0 1813.2 L1342.1 1815.0 L1343.3 1816.4 L1342.5 1818.2 L1343.6 1819.6 L1342.9 1821.3 L1344.1 1822.8 L1343.4 1824.5 L1344.6 1825.9 L1343.9 1827.7 L1345.1 1829.1 L1344.4 1830.8 L1345.5 1832.2 L1345.0 1834.0 L1346.2 1835.3 L1345.9 1837.1 L1347.1 1838.4 L1346.7 1840.3 L1348.2 1841.1 L1348.7 1843.2 L1350.3 1842.3 L1351.7 1842.2 L1351.6 1840.1 L1352.8 1839.0 L1352.4 1837.0 L1353.8 1836.0 L1353.9 1833.8 L1354.1 1835.1 L1354.9 1836.2 L1354.3 1838.0 L1355.3 1839.5 L1354.5 1841.2 L1355.5 1842.7 L1355.0 1844.4 L1356.0 1845.9 L1355.3 1847.5 L1356.2 1849.1 L1355.5 1850.7 L1356.5 1852.2 L1355.7 1854.0 L1357.0 1855.3 L1356.5 1857.1 L1357.9 1858.3 L1358.0 1859.9 L1359.2 1861.2 L1358.5 1863.0 L1359.7 1864.4 L1358.9 1866.1 L1360.0 1867.6 L1359.3 1869.3 L1360.4 1870.8 L1359.7 1872.4 L1360.7 1874.0 L1359.7 1875.6 L1360.8 1877.2 L1360.1 1878.8 L1361.0 1880.4 L1360.4 1882.0 L1361.5 1883.5 L1360.6 1885.2 L1361.7 1886.7 L1361.0 1888.4 L1362.0 1889.9 L1361.3 1891.6 L1362.4 1893.1 L1361.7 1894.8 L1362.8 1896.2 L1362.1 1898.0 L1363.3 1899.4 L1362.8 1901.1 L1363.8 1902.4 L1363.4 1904.5 L1364.8 1903.2 L1365.1 1902.6 L1366.2 1901.9 L1365.8 1904.0 L1367.3 1905.1 L1366.4 1906.9 L1367.7 1908.3 L1367.1 1910.0 L1368.1 1911.5 L1367.4 1913.2 L1368.6 1914.7 L1367.7 1916.4 L1368.9 1917.9 L1368.1 1919.6 L1369.0 1921.1 L1368.4 1922.7 L1369.5 1924.3 L1368.6 1925.9 L1369.5 1927.5 L1368.8 1929.1 L1369.9 1930.7 L1368.9 1932.3 L1369.9 1933.9 L1369.3 1935.5 L1370.2 1937.0 L1369.5 1938.7 L1370.4 1940.2 L1369.5 1941.9 L1370.5 1943.4 L1369.8 1945.1 L1370.8 1946.6 L1369.8 1948.3 L1370.9 1949.8 L1370.0 1951.5 L1371.0 1953.0 L1370.3 1954.7 L1371.3 1956.2 L1370.6 1958.0 L1370.6 1957.8 L1371.7 1956.7 L1371.1 1954.9 L1372.2 1953.5 L1371.5 1951.8 L1372.5 1950.3 L1371.7 1948.6 L1372.8 1947.1 L1372.1 1945.4 L1373.2 1943.9 L1372.4 1942.2 L1373.3 1941.2 L1373.5 1941.5 L1373.0 1943.3 L1374.1 1944.7 L1373.2 1946.4 L1374.4 1947.9 L1373.5 1949.6 L1374.5 1951.1 L1373.6 1952.8 L1374.7 1954.3 L1373.8 1956.0 L1374.9 1957.5 L1373.9 1959.2 L1375.2 1960.7 L1374.1 1962.4 L1375.1 1963.9 L1374.4 1965.6 L1375.5 1967.1 L1374.5 1968.8 L1375.5 1970.3 L1374.7 1971.9 L1375.6 1973.5 L1375.0 1975.1 L1375.9 1976.7 L1375.2 1978.3 L1376.1 1979.9 L1375.3 1981.5 L1376.4 1983.1 L1375.5 1984.7 L1376.5 1986.3 L1375.7 1987.9 L1376.8 1989.4 L1376.2 1991.1 L1377.3 1992.6 L1376.7 1994.3 L1377.9 1995.7 L1377.1 1997.5 L1378.5 1998.9 L1377.6 2000.6 L1378.6 2002.1 L1378.0 2003.8 L1379.1 2005.3 L1378.4 2006.9 L1379.5 2008.4 L1378.7 2010.1 L1379.7 2011.6 L1379.1 2013.3 L1380.1 2014.8 L1379.4 2016.5 L1380.8 2017.8 L1380.3 2019.9 L1381.0 2019.6 L1382.1 2018.9 L1381.5 2016.8 L1382.8 2015.6 L1382.5 2013.5 L1382.7 2014.3 L1383.6 2015.5 L1382.8 2017.3 L1383.7 2018.8 L1383.0 2020.4 L1383.9 2022.0 L1383.1 2023.6 L1384.3 2025.2 L1383.5 2026.8 L1384.4 2028.4 L1383.4 2030.0 L1384.6 2031.6 L1383.7 2033.2 L1384.8 2034.8 L1384.0 2036.4 L1384.9 2038.0 L1384.2 2039.6 L1385.1 2041.2 L1384.4 2042.8 L1385.3 2044.3 L1384.5 2046.0 L1385.5 2047.5 L1384.6 2049.2 L1385.7 2050.7 L1384.9 2052.4 L1386.0 2053.9 L1385.2 2055.6 L1386.0 2057.1 L1385.3 2058.8 L1386.3 2060.3 L1385.5 2062.0 L1386.6 2063.5 L1385.8 2065.2 L1386.8 2066.7 L1386.0 2068.4 L1387.0 2069.9 L1386.4 2071.5 L1387.4 2073.0 L1386.7 2074.7 L1387.8 2076.2 L1386.9 2077.9 L1388.1 2079.4 L1387.5 2081.1 L1388.4 2082.6 L1387.8 2084.3 L1388.8 2085.8 L1388.0 2087.5 L1389.2 2088.9 L1388.4 2090.6 L1389.6 2092.1 L1388.6 2093.8 L1389.9 2095.3 L1389.1 2097.0 L1390.3 2098.5 L1389.4 2100.2 L1390.4 2101.7 L1389.6 2103.4 L1390.7 2104.9 L1390.1 2106.5 L1391.1 2108.1 L1390.3 2109.7 L1391.5 2111.2 L1390.6 2112.9 L1391.9 2114.4 L1390.8 2116.1 L1392.0 2117.6 L1391.2 2119.3 L1392.2 2120.8 L1391.4 2122.5 L1392.7 2124.0 L1391.8 2125.7 L1393.0 2127.0 L1392.5 2129.3 L1393.3 2128.4 L1394.8 2127.8 L1394.6 2125.8 L1396.0 2124.7 L1395.5 2122.9 L1396.7 2121.6 L1396.4 2119.6 L1396.7 2119.9 L1397.7 2120.8 L1397.0 2122.7 L1398.2 2124.1 L1397.7 2125.8 L1398.5 2127.3 L1397.6 2129.0 L1398.8 2130.5 L1397.9 2132.2 L1399.0 2133.7 L1398.2 2135.4 L1399.1 2136.9 L1398.5 2138.6 L1399.4 2140.1 L1398.8 2141.7 L1399.7 2143.3 L1399.0 2144.9 L1400.0 2146.5 L1399.3 2148.2 L1400.4 2149.5 L1399.9 2151.7 L1400.0 2149.8 L1401.3 2148.8 L1400.8 2146.9 L1402.0 2145.7 L1401.8 2143.5 L1402.3 2144.6 L1403.4 2145.5 L1402.8 2147.5 L1404.4 2148.7 L1403.8 2150.5 L1405.3 2151.8 L1404.9 2153.6 L1406.1 2154.8 L1405.7 2156.8 L1406.9 2157.6 L1407.5 2157.7 L1407.0 2155.7 L1407.9 2154.3 L1407.2 2152.6 L1408.1 2151.1 L1407.4 2149.4 L1408.5 2147.9 L1407.6 2146.2 L1408.6 2144.7 L1407.9 2143.0 L1408.8 2141.5 L1408.0 2139.8 L1408.9 2138.3 L1408.1 2136.6 L1409.3 2135.1 L1408.6 2133.4 L1409.0 2132.6 L1409.7 2133.6 L1409.2 2135.4 L1410.4 2136.8 L1409.7 2138.5 L1410.7 2140.0 L1409.8 2141.7 L1410.9 2143.2 L1409.9 2144.9 L1410.9 2146.4 L1410.1 2148.1 L1411.3 2149.6 L1410.4 2151.2 L1411.3 2152.8 L1410.5 2154.4 L1411.6 2156.0 L1411.0 2157.6 L1412.0 2159.1 L1411.2 2160.8 L1412.2 2162.3 L1411.5 2164.1 L1412.3 2165.3 L1412.4 2167.1 L1414.4 2166.6 L1415.2 2166.4 L1417.1 2165.5 L1417.1 2167.7 L1418.3 2168.7 L1417.8 2170.7 L1419.1 2171.8 L1419.3 2173.8 L1420.8 2174.0 L1422.2 2174.5 L1421.8 2172.3 L1422.8 2171.0 L1422.2 2169.2 L1423.3 2167.8 L1422.8 2166.1 L1424.0 2164.8 L1423.2 2162.6 L1423.8 2162.8 L1424.8 2163.9 L1424.1 2165.7 L1425.3 2167.1 L1424.7 2168.9 L1425.8 2170.2 L1425.4 2172.3 L1425.7 2171.7 L1426.7 2170.7 L1426.2 2168.9 L1427.3 2167.4 L1426.6 2165.7 L1427.6 2164.3 L1426.8 2162.6 L1428.0 2161.1 L1427.1 2159.4 L1428.2 2157.9 L1427.5 2156.2 L1428.6 2154.7 L1428.0 2153.0 L1429.1 2151.7 L1428.8 2149.3 L1428.6 2151.7 L1429.7 2153.0 L1429.0 2154.7 L1430.1 2156.2 L1429.3 2157.9 L1430.5 2159.4 L1429.7 2161.1 L1430.8 2162.5 L1430.2 2164.3 L1431.3 2165.7 L1430.8 2167.4 L1432.2 2168.7 L1431.7 2170.5 L1432.8 2171.8 L1432.4 2173.7 L1433.5 2174.8 L1433.4 2177.0 L1434.8 2175.3 L1435.1 2174.6 L1436.3 2174.4 L1435.9 2176.5 L1437.1 2177.8 L1436.5 2179.6 L1437.8 2180.9 L1437.1 2182.7 L1438.3 2184.1 L1437.5 2185.8 L1438.7 2187.3 L1438.0 2189.0 L1439.0 2190.5 L1438.3 2192.2 L1439.5 2193.6 L1438.6 2195.3 L1439.6 2196.9 L1439.1 2198.5 L1440.1 2200.0 L1439.2 2201.7 L1440.4 2203.2 L1439.7 2204.9 L1440.8 2206.4 L1439.9 2208.2 L1441.0 2209.4 L1440.8 2211.5 L1442.2 2210.9 L1443.2 2210.1 L1442.5 2208.1 L1443.5 2206.7 L1442.8 2205.0 L1444.1 2203.6 L1443.2 2201.9 L1444.3 2200.4 L1443.3 2198.7 L1444.5 2197.2 L1443.7 2195.5 L1444.8 2194.0 L1443.8 2192.3 L1444.8 2190.8 L1444.1 2189.1 L1445.0 2187.6 L1444.5 2185.9 L1445.6 2184.5 L1445.0 2182.6 L1445.5 2182.2 L1446.4 2183.1 L1445.4 2184.9 L1446.5 2186.4 L1445.7 2188.1 L1446.6 2189.6 L1445.9 2191.3 L1446.9 2192.8 L1446.1 2194.5 L1447.2 2196.0 L1446.3 2197.7 L1447.5 2199.2 L1446.6 2200.8 L1447.6 2202.4 L1446.8 2204.0 L1447.8 2205.6 L1447.0 2207.3 L1448.0 2208.6 L1447.7 2210.8 L1448.3 2208.8 L1449.7 2207.9 L1449.4 2206.1 L1450.6 2204.7 L1449.9 2202.9 L1451.0 2201.5 L1450.2 2199.8 L1451.3 2198.3 L1450.6 2196.6 L1451.7 2195.1 L1450.9 2193.4 L1452.0 2191.9 L1451.1 2190.2 L1452.2 2188.7 L1451.7 2187.1 L1452.9 2185.7 L1452.2 2183.8 L1452.9 2182.9 L1453.5 2183.6 L1453.0 2185.5 L1454.1 2186.9 L1453.2 2188.6 L1454.4 2190.1 L1453.9 2191.8 L1455.0 2193.1 L1454.6 2195.2 L1455.0 2194.1 L1456.2 2193.2 L1455.8 2191.3 L1457.2 2190.1 L1456.9 2188.3 L1458.1 2187.0 L1457.7 2185.2 L1459.1 2184.1 L1458.9 2181.9 L1459.9 2182.8 L1460.9 2183.8 L1460.1 2185.7 L1461.2 2187.1 L1460.4 2188.8 L1461.5 2190.3 L1460.7 2192.0 L1462.0 2193.5 L1461.2 2195.2 L1462.2 2196.7 L1461.6 2198.4 L1462.7 2199.8 L1461.9 2201.6 L1463.1 2203.0 L1462.4 2204.7 L1463.4 2206.2 L1462.9 2207.9 L1463.8 2209.4 L1463.1 2211.1 L1464.5 2212.4 L1463.9 2214.5 L1464.0 2213.5 L1465.2 2212.4 L1464.4 2210.6 L1465.8 2209.2 L1465.0 2207.5 L1466.1 2206.0 L1465.1 2204.3 L1466.2 2202.8 L1465.3 2201.1 L1466.3 2199.6 L1465.6 2197.9 L1466.8 2196.4 L1466.2 2194.7 L1467.3 2193.4 L1467.4 2191.1 L1466.9 2193.5 L1468.1 2194.8 L1467.1 2196.5 L1468.2 2198.0 L1467.6 2199.7 L1468.7 2201.2 L1467.9 2202.9 L1468.8 2204.4 L1468.2 2206.1 L1469.2 2207.6 L1468.2 2209.3 L1469.4 2210.8 L1468.5 2212.5 L1469.5 2213.9 L1469.2 2216.0 L1469.5 2214.1 L1471.1 2213.2 L1470.7 2211.4 L1471.9 2210.0 L1471.3 2208.3 L1472.5 2206.9 L1471.8 2205.2 L1472.7 2203.7 L1472.1 2202.0 L1473.1 2200.5 L1472.3 2198.8 L1473.5 2197.3 L1472.6 2195.6 L1473.7 2194.1 L1472.9 2192.3 L1474.3 2191.1 L1474.3 2188.9 L1474.2 2190.7 L1475.1 2192.1 L1474.4 2193.8 L1475.5 2195.3 L1474.6 2197.0 L1475.7 2198.5 L1474.7 2200.2 L1475.7 2201.7 L1474.9 2203.4 L1476.1 2204.9 L1475.1 2206.5 L1476.1 2208.1 L1475.3 2209.7 L1476.4 2211.3 L1475.5 2212.9 L1476.7 2214.5 L1475.9 2216.1 L1476.8 2217.6 L1475.9 2219.6 L1476.5 2219.7 L1477.5 2218.8 L1477.1 2217.0 L1478.4 2215.8 L1478.0 2213.8 L1478.6 2213.1 L1479.8 2213.9 L1479.3 2215.9 L1480.5 2217.2 L1479.8 2219.0 L1480.9 2220.4 L1480.3 2222.2 L1481.6 2223.4 L1481.4 2225.5 L1481.6 2224.2 L1482.9 2223.3 L1482.2 2221.3 L1483.4 2220.1 L1483.1 2218.1 L1484.6 2217.8 L1485.2 2218.1 L1486.5 2217.2 L1486.0 2215.2 L1487.3 2214.0 L1486.5 2212.2 L1487.6 2210.8 L1487.0 2209.1 L1488.1 2207.6 L1487.5 2205.9 L1488.7 2204.6 L1488.6 2202.4 L1488.7 2204.1 L1489.7 2205.3 L1488.8 2207.1 L1490.0 2208.6 L1489.2 2210.3 L1490.3 2211.8 L1489.5 2213.5 L1490.6 2215.0 L1489.9 2216.6 L1491.0 2218.1 L1490.3 2219.9 L1491.2 2221.3 L1490.8 2223.1 L1492.3 2224.0 L1492.6 2226.2 L1493.8 2225.3 L1494.9 2224.4 L1494.9 2222.5 L1496.1 2221.3 L1495.5 2219.5 L1496.6 2218.1 L1496.0 2216.4 L1497.1 2214.9 L1496.2 2213.2 L1497.2 2211.7 L1496.5 2210.0 L1497.8 2208.5 L1497.0 2206.8 L1498.0 2205.3 L1497.4 2203.6 L1498.3 2202.3 L1498.0 2200.1 L1498.0 2202.3 L1499.4 2203.4 L1498.8 2205.2 L1500.0 2206.5 L1499.5 2208.4 L1500.2 2209.5 L1501.4 2209.6 L1500.9 2207.4 L1502.2 2206.2 L1501.5 2204.4 L1502.6 2203.0 L1502.0 2201.3 L1503.1 2199.8 L1502.4 2198.1 L1503.6 2196.7 L1502.9 2195.0 L1504.0 2193.5 L1503.3 2191.8 L1504.3 2190.3 L1503.8 2188.6 L1504.8 2187.1 L1504.2 2185.4 L1505.2 2184.0 L1504.6 2182.2 L1505.7 2180.9 L1505.5 2179.0 L1507.0 2178.4 L1507.7 2176.5 L1509.0 2177.8 L1510.6 2178.1 L1510.6 2180.2 L1512.0 2181.0 L1511.9 2183.1 L1513.4 2183.1 L1514.2 2182.7 L1515.3 2183.6 L1515.0 2185.5 L1516.2 2186.8 L1515.3 2188.6 L1516.6 2190.0 L1515.8 2191.7 L1516.9 2193.2 L1516.2 2194.9 L1517.2 2196.4 L1516.6 2198.1 L1517.6 2199.5 L1517.0 2201.2 L1518.1 2202.7 L1517.4 2204.4 L1518.7 2205.8 L1517.9 2207.6 L1519.1 2209.0 L1518.5 2210.7 L1519.5 2212.1 L1519.0 2214.1 L1519.9 2215.0 L1520.7 2215.6 L1522.0 2213.4 L1523.2 2213.3 L1524.7 2213.3 L1524.5 2215.3 L1525.6 2216.5 L1524.9 2218.3 L1526.1 2219.7 L1525.4 2221.5 L1526.6 2222.9 L1525.9 2224.7 L1527.0 2225.9 L1527.0 2227.6 L1527.1 2225.5 L1528.2 2224.2 L1527.6 2222.5 L1528.9 2221.1 L1528.1 2219.3 L1529.3 2218.0 L1528.6 2216.0 L1529.9 2215.3 L1530.7 2215.2 L1530.6 2217.3 L1531.8 2218.5 L1531.3 2220.3 L1532.6 2221.6 L1532.1 2223.4 L1533.1 2224.8 L1532.6 2226.5 L1533.9 2227.9 L1533.2 2229.7 L1534.2 2230.9 L1534.5 2231.4 L1534.0 2229.3 L1535.3 2228.0 L1534.7 2226.3 L1535.7 2224.8 L1535.1 2223.1 L1536.1 2221.7 L1535.4 2220.0 L1536.5 2218.5 L1536.0 2216.8 L1537.2 2215.4 L1536.5 2213.6 L1537.7 2212.2 L1537.1 2210.5 L1538.1 2209.1 L1537.8 2207.2 L1539.1 2206.6 L1539.5 2206.5 L1539.0 2208.4 L1540.0 2209.8 L1539.1 2211.5 L1540.3 2213.0 L1539.4 2214.7 L1540.3 2216.2 L1539.5 2217.9 L1540.6 2219.4 L1539.8 2221.1 L1540.8 2222.6 L1539.9 2224.3 L1541.1 2225.8 L1540.3 2227.4 L1541.2 2229.0 L1540.6 2230.6 L1541.6 2232.0 L1540.8 2234.0 L1541.6 2234.6 L1542.8 2234.3 L1542.6 2232.3 L1543.9 2231.2 L1543.3 2229.4 L1544.5 2228.0 L1543.8 2226.2 L1545.0 2224.8 L1544.2 2223.0 L1545.5 2221.6 L1544.8 2219.9 L1546.2 2218.5 L1545.5 2216.6 L1546.4 2215.5 L1546.7 2213.9 L1548.0 2215.2 L1549.1 2216.1 L1548.8 2218.1 L1550.3 2219.2 L1549.9 2221.0 L1551.1 2222.3 L1550.9 2224.2 L1552.2 2225.1 L1553.1 2226.7 L1553.4 2224.9 L1554.4 2223.7 L1553.6 2221.9 L1554.7 2220.4 L1553.9 2218.7 L1555.2 2217.2 L1554.4 2215.5 L1555.6 2214.1 L1554.8 2212.4 L1555.9 2210.9 L1555.2 2209.2 L1556.4 2207.7 L1555.8 2206.0 L1557.0 2204.6 L1556.5 2202.8 L1557.6 2201.6 L1557.2 2199.5 L1558.5 2199.0 L1559.4 2199.4 L1559.0 2201.5 L1560.2 2202.8 L1559.7 2204.5 L1561.0 2205.9 L1560.2 2207.6 L1561.4 2209.1 L1560.7 2210.8 L1561.7 2212.3 L1561.0 2214.0 L1562.1 2215.5 L1561.1 2217.2 L1562.3 2218.7 L1561.5 2220.4 L1562.4 2221.9 L1561.8 2223.5 L1562.8 2225.1 L1562.1 2226.8 L1563.2 2228.1 L1563.0 2229.5 L1562.6 2227.5 L1563.6 2226.1 L1562.9 2224.4 L1564.0 2222.9 L1563.2 2221.2 L1564.3 2219.7 L1563.7 2218.0 L1564.6 2216.5 L1563.9 2214.9 L1564.8 2213.3 L1564.0 2211.6 L1565.0 2210.1 L1564.4 2208.4 L1565.5 2207.0 L1565.2 2205.2 L1565.9 2204.2 L1566.5 2204.8 L1566.0 2206.7 L1567.0 2208.1 L1566.4 2209.8 L1567.7 2211.2 L1566.8 2213.1 L1568.1 2214.2 L1568.3 2215.5 L1568.0 2213.3 L1569.1 2212.0 L1568.3 2210.2 L1569.7 2208.9 L1569.0 2207.0 L1570.2 2205.9 L1570.0 2203.8 L1572.0 2204.2 L1573.2 2203.2 L1574.4 2203.3 L1575.6 2203.6 L1575.2 2205.7 L1576.4 2206.9 L1575.8 2208.7 L1577.2 2209.9 L1576.8 2212.1 L1577.3 2211.3 L1578.4 2210.4 L1578.0 2208.5 L1579.3 2207.2 L1578.6 2205.4 L1580.0 2204.1 L1579.3 2202.2 L1580.7 2201.0 L1580.3 2199.1 L1581.7 2198.1 L1581.8 2195.9 L1582.6 2196.5 L1583.8 2197.1 L1584.1 2199.1 L1585.8 2199.8 L1586.0 2201.5 L1587.4 2202.7 L1586.9 2204.5 L1588.0 2205.9 L1587.5 2207.6 L1588.6 2209.0 L1588.0 2210.8 L1589.0 2212.2 L1588.4 2214.0 L1589.7 2215.1 L1589.7 2216.7 L1589.2 2214.6 L1590.5 2213.3 L1589.5 2211.5 L1590.8 2210.1 L1589.9 2208.3 L1591.1 2206.9 L1590.5 2205.2 L1591.4 2203.7 L1590.7 2202.0 L1591.8 2200.6 L1591.4 2198.7 L1592.7 2197.8 L1593.5 2196.0 L1593.7 2198.0 L1594.9 2199.1 L1594.2 2201.0 L1595.4 2202.4 L1594.6 2204.1 L1595.8 2205.6 L1595.1 2207.3 L1596.1 2208.8 L1595.4 2210.5 L1596.5 2211.9 L1595.8 2213.7 L1596.8 2215.0 L1596.3 2217.0 L1598.4 2215.9 L1598.5 2216.5 L1599.6 2217.6 L1599.1 2219.6 L1600.4 2220.9 L1599.7 2222.7 L1600.7 2224.0 L1600.4 2226.1 L1601.0 2225.2 L1602.2 2224.3 L1601.6 2222.5 L1602.7 2221.0 L1601.7 2219.3 L1602.8 2217.8 L1602.1 2216.1 L1603.1 2214.6 L1602.1 2212.9 L1603.1 2211.4 L1602.3 2209.7 L1603.4 2208.2 L1602.7 2206.6 L1603.8 2205.0 L1603.0 2203.4 L1603.9 2201.8 L1603.0 2200.1 L1604.2 2198.7 L1603.5 2196.8 L1603.5 2197.7 L1604.6 2198.9 L1604.2 2200.6 L1605.4 2202.0 L1604.8 2203.8 L1605.8 2205.1 L1605.4 2207.1 L1606.5 2207.8 L1607.6 2208.2 L1607.8 2206.2 L1608.9 2205.0 L1608.4 2203.2 L1609.6 2201.8 L1608.9 2200.1 L1609.8 2198.6 L1609.1 2196.9 L1610.3 2195.4 L1609.5 2193.7 L1610.7 2192.2 L1610.0 2190.5 L1610.9 2189.0 L1610.2 2187.3 L1611.3 2186.1 L1611.5 2186.2 L1610.6 2188.0 L1611.7 2189.5 L1610.8 2191.2 L1612.0 2192.7 L1611.2 2194.4 L1612.2 2195.9 L1611.3 2197.5 L1612.2 2199.1 L1611.5 2200.7 L1612.4 2202.3 L1611.6 2203.9 L1612.6 2205.5 L1611.7 2207.1 L1612.8 2208.7 L1612.0 2210.3 L1613.1 2211.9 L1612.1 2213.5 L1613.2 2215.1 L1612.3 2216.7 L1613.4 2218.2 L1612.5 2220.1 L1612.8 2219.9 L1613.8 2218.8 L1613.3 2217.1 L1614.5 2215.6 L1613.7 2213.9 L1614.7 2212.4 L1614.1 2210.8 L1615.0 2209.2 L1614.1 2207.6 L1615.3 2206.0 L1614.4 2204.4 L1615.4 2202.8 L1614.7 2201.2 L1615.6 2199.7 L1614.9 2198.0 L1615.9 2196.5 L1615.3 2194.8 L1616.3 2193.3 L1615.7 2191.5 L1617.1 2190.5 L1617.4 2188.6 L1618.0 2189.1 L1619.0 2190.0 L1618.3 2191.9 L1619.2 2193.4 L1618.6 2195.1 L1619.6 2196.6 L1619.0 2198.2 L1620.1 2199.7 L1619.2 2201.5 L1620.4 2202.8 L1619.8 2204.8 L1620.4 2205.2 L1621.7 2204.7 L1621.3 2202.6 L1622.3 2201.5 L1622.1 2199.3 L1623.0 2200.3 L1624.0 2201.4 L1623.2 2203.2 L1624.3 2204.7 L1623.6 2206.4 L1624.6 2207.9 L1623.9 2209.6 L1625.0 2211.0 L1624.3 2212.7 L1625.3 2214.2 L1624.5 2215.9 L1625.6 2217.4 L1624.9 2219.4 L1625.3 2219.1 L1626.5 2218.2 L1625.8 2216.3 L1627.2 2215.0 L1626.5 2213.2 L1627.7 2211.8 L1627.1 2210.0 L1628.3 2208.7 L1627.8 2206.9 L1629.2 2205.6 L1628.7 2203.8 L1629.9 2202.5 L1629.5 2200.6 L1630.7 2199.6 L1630.9 2197.5 L1632.4 2197.7 L1633.2 2198.4 L1632.3 2200.5 L1633.3 2201.9 L1632.7 2203.5 L1633.7 2205.1 L1632.8 2206.7 L1633.9 2208.3 L1633.2 2209.9 L1634.1 2211.5 L1633.4 2213.1 L1634.4 2214.7 L1633.5 2216.3 L1634.5 2217.9 L1633.7 2219.5 L1634.9 2221.0 L1634.1 2222.8 L1635.1 2224.0 L1634.8 2226.0 L1635.0 2223.9 L1636.2 2222.8 L1635.5 2221.0 L1636.7 2219.5 L1636.0 2217.8 L1637.1 2216.5 L1636.4 2214.5 L1637.7 2213.9 L1638.3 2214.2 L1637.7 2216.2 L1638.6 2217.6 L1638.0 2219.3 L1638.9 2220.8 L1638.3 2222.5 L1639.3 2224.0 L1638.5 2225.7 L1639.6 2227.2 L1638.9 2228.8 L1639.8 2230.3 L1639.1 2232.1 L1640.1 2233.1 L1640.5 2233.0 L1639.8 2231.1 L1640.9 2229.6 L1640.1 2227.9 L1641.3 2226.5 L1640.7 2224.8 L1641.8 2223.3 L1641.3 2221.4 L1641.8 2221.1 L1642.8 2221.8 L1642.2 2223.8 L1643.3 2225.2 L1642.7 2226.9 L1643.9 2228.3 L1642.9 2230.1 L1644.0 2231.5 L1643.5 2233.3 L1644.7 2234.3 L1645.2 2235.4 L1644.7 2233.4 L1645.7 2232.0 L1645.0 2230.3 L1646.0 2228.8 L1645.0 2227.1 L1646.1 2225.6 L1645.4 2223.9 L1646.5 2222.4 L1645.7 2220.7 L1646.7 2219.2 L1645.9 2217.5 L1647.0 2216.0 L1646.1 2214.4 L1647.3 2212.9 L1646.3 2211.1 L1647.3 2209.8 L1647.4 2208.0 L1649.0 2207.5 L1650.3 2206.0 L1651.0 2207.6 L1652.2 2208.5 L1651.8 2210.4 L1652.8 2211.8 L1651.9 2213.5 L1653.0 2215.0 L1652.4 2216.7 L1653.4 2218.2 L1652.8 2219.9 L1653.6 2221.4 L1653.0 2223.1 L1654.2 2224.6 L1653.2 2226.3 L1654.3 2227.7 L1653.7 2229.5 L1654.2 2230.6 L1655.1 2229.7 L1654.6 2227.7 L1655.9 2226.4 L1655.2 2224.6 L1656.4 2223.3 L1655.8 2221.5 L1657.1 2220.1 L1656.6 2218.4 L1657.8 2217.0 L1657.0 2215.2 L1658.1 2213.8 L1657.6 2212.1 L1658.7 2210.7 L1658.1 2208.9 L1659.2 2207.5 L1658.5 2205.8 L1659.8 2204.4 L1659.2 2202.6 L1660.4 2201.2 L1659.6 2199.5 L1660.8 2198.0 L1660.1 2196.3 L1661.5 2195.0 L1660.9 2192.8 L1660.9 2193.8 L1662.1 2195.0 L1661.4 2196.7 L1662.5 2198.2 L1661.5 2199.9 L1662.8 2201.4 L1661.8 2203.1 L1663.0 2204.6 L1662.3 2206.3 L1663.4 2207.8 L1662.6 2209.5 L1663.5 2211.0 L1662.8 2212.7 L1663.7 2214.2 L1663.1 2215.9 L1664.3 2217.3 L1663.6 2219.0 L1664.7 2220.5 L1664.1 2222.2 L1665.2 2223.6 L1664.6 2225.5 L1665.8 2226.6 L1666.6 2228.2 L1666.2 2226.1 L1667.3 2224.8 L1666.6 2223.1 L1667.8 2221.6 L1667.0 2219.9 L1668.1 2218.4 L1667.2 2216.7 L1668.4 2215.2 L1667.7 2213.5 L1668.8 2212.0 L1667.9 2210.4 L1669.0 2208.8 L1668.4 2207.2 L1669.4 2205.7 L1668.7 2204.0 L1669.7 2202.5 L1668.9 2200.8 L1669.9 2199.3 L1669.1 2197.6 L1670.2 2196.1 L1669.2 2194.4 L1670.3 2192.9 L1669.7 2191.2 L1670.6 2189.7 L1670.0 2188.1 L1670.9 2186.5 L1670.0 2184.8 L1671.2 2183.4 L1670.7 2181.6 L1671.7 2180.4 L1671.6 2178.3 L1673.5 2178.6 L1675.0 2177.9 L1676.1 2179.8 L1677.1 2180.1 L1678.3 2181.5 L1678.7 2179.4 L1679.9 2178.6 L1679.7 2176.3 L1681.0 2175.7 L1682.5 2174.8 L1682.7 2176.6 L1683.5 2177.8 L1682.9 2179.6 L1683.9 2181.1 L1683.2 2182.8 L1684.2 2184.3 L1683.5 2185.9 L1684.4 2187.5 L1683.6 2189.1 L1684.7 2190.7 L1683.9 2192.3 L1685.1 2193.8 L1684.2 2195.5 L1685.2 2197.0 L1684.6 2198.7 L1685.5 2200.2 L1685.0 2201.9 L1686.1 2203.3 L1685.3 2205.1 L1686.5 2206.5 L1686.0 2208.3 L1687.1 2209.5 L1686.8 2211.8 L1687.8 2210.5 L1688.7 2209.4 L1687.9 2207.6 L1688.9 2206.1 L1688.0 2204.4 L1689.1 2202.9 L1688.4 2201.2 L1689.5 2199.7 L1688.7 2198.1 L1689.8 2196.5 L1688.8 2194.9 L1689.9 2193.3 L1689.0 2191.7 L1690.3 2190.2 L1689.4 2188.5 L1690.3 2187.0 L1689.7 2185.2 L1689.8 2184.9 L1690.8 2186.2 L1690.0 2187.9 L1691.0 2189.4 L1690.3 2191.1 L1691.0 2192.6 L1690.4 2194.3 L1691.3 2195.8 L1690.6 2197.5 L1691.6 2199.0 L1690.8 2200.7 L1691.7 2202.2 L1691.1 2203.8 L1691.9 2205.4 L1691.1 2207.0 L1692.3 2208.6 L1691.3 2210.2 L1692.4 2211.8 L1691.5 2213.5 L1692.6 2214.9 L1692.0 2216.8 L1693.1 2216.9 L1693.9 2215.9 L1693.2 2213.9 L1694.3 2212.5 L1693.5 2210.8 L1694.5 2209.3 L1694.0 2207.6 L1695.2 2206.3 L1694.8 2204.3 L1695.0 2204.8 L1696.0 2205.9 L1695.3 2207.7 L1696.4 2209.1 L1695.6 2210.9 L1696.8 2212.3 L1696.2 2214.0 L1697.2 2215.5 L1696.7 2217.2 L1697.6 2218.6 L1697.3 2220.3 L1698.5 2221.7 L1698.1 2223.5 L1699.4 2224.7 L1699.1 2226.7 L1700.4 2227.4 L1701.4 2228.8 L1701.4 2226.7 L1702.6 2225.5 L1701.9 2223.7 L1703.1 2222.3 L1702.0 2220.6 L1703.3 2219.1 L1702.4 2217.4 L1703.3 2215.8 L1702.4 2214.2 L1703.6 2212.7 L1702.7 2211.0 L1703.6 2209.5 L1702.9 2207.8 L1703.8 2206.3 L1703.1 2204.6 L1704.0 2203.1 L1703.3 2201.4 L1704.3 2199.9 L1703.4 2198.2 L1704.4 2196.7 L1703.6 2195.0 L1704.5 2193.5 L1703.8 2191.8 L1704.7 2190.3 L1703.8 2188.6 L1704.8 2187.2 L1704.3 2185.0 L1704.7 2186.7 L1705.9 2187.8 L1705.3 2189.6 L1706.5 2191.0 L1706.0 2192.7 L1707.4 2194.1 L1706.7 2195.8 L1707.9 2197.2 L1707.4 2199.0 L1708.5 2200.4 L1707.8 2202.1 L1709.0 2203.5 L1708.5 2205.3 L1709.7 2206.7 L1709.1 2208.4 L1710.3 2209.8 L1709.5 2211.6 L1710.6 2213.0 L1709.9 2214.7 L1711.2 2216.2 L1710.5 2217.9 L1711.7 2219.3 L1711.2 2221.2 L1711.4 2221.2 L1712.2 2219.9 L1711.4 2218.2 L1712.6 2216.7 L1711.8 2215.0 L1712.6 2213.5 L1711.9 2211.8 L1712.9 2210.3 L1712.1 2208.6 L1713.2 2207.1 L1712.2 2205.4 L1713.2 2203.9 L1712.6 2202.3 L1713.5 2200.7 L1712.7 2199.1 L1713.8 2197.5 L1712.9 2195.9 L1714.0 2194.3 L1713.0 2192.7 L1714.2 2191.2 L1713.4 2189.5 L1714.7 2188.1 L1713.9 2186.2 L1714.9 2185.3 L1715.5 2185.5 L1715.0 2187.4 L1716.3 2188.8 L1715.4 2190.6 L1716.7 2192.0 L1716.0 2193.7 L1717.2 2195.2 L1716.4 2196.9 L1717.5 2198.4 L1716.8 2200.0 L1717.8 2201.6 L1717.0 2203.2 L1718.1 2204.7 L1717.3 2206.4 L1718.2 2207.9 L1717.5 2209.6 L1718.6 2211.1 L1717.7 2212.8 L1718.9 2214.3 L1718.2 2216.0 L1719.0 2217.5 L1718.4 2219.5 L1718.5 2218.3 L1719.6 2217.0 L1718.7 2215.3 L1719.8 2213.8 L1719.0 2212.1 L1720.1 2210.6 L1719.5 2208.9 L1720.5 2207.4 L1719.5 2205.7 L1720.6 2204.2 L1719.8 2202.6 L1721.0 2201.0 L1720.0 2199.4 L1721.2 2197.8 L1720.2 2196.1 L1721.4 2194.7 L1720.9 2192.9 L1722.1 2192.0 L1722.3 2191.3 L1722.0 2193.3 L1723.0 2194.6 L1722.3 2196.4 L1723.5 2197.8 L1723.1 2199.6 L1724.1 2200.6 L1724.0 2202.3 L1725.7 2200.4 L1725.6 2199.7 L1726.6 2200.4 L1726.3 2202.4 L1727.4 2203.7 L1727.0 2205.4 L1728.2 2206.8 L1727.5 2208.6 L1728.6 2210.0 L1728.1 2211.7 L1729.2 2213.1 L1728.6 2215.0 L1730.0 2216.1 L1729.7 2218.3 L1731.0 2218.0 L1731.7 2217.0 L1730.9 2215.1 L1732.0 2213.6 L1731.2 2212.0 L1732.2 2210.4 L1731.2 2208.8 L1732.4 2207.3 L1731.5 2205.6 L1732.5 2204.0 L1731.7 2202.4 L1732.8 2200.9 L1732.0 2199.2 L1733.0 2197.7 L1732.2 2196.0 L1733.2 2194.5 L1732.3 2192.8 L1733.2 2191.3 L1732.5 2189.6 L1733.6 2188.1 L1732.7 2186.4 L1733.4 2185.3 L1733.9 2186.0 L1733.4 2187.8 L1734.4 2189.3 L1733.7 2191.0 L1734.9 2192.4 L1734.1 2194.1 L1735.0 2195.7 L1734.3 2197.3 L1735.5 2198.8 L1734.8 2200.5 L1735.7 2202.0 L1735.2 2203.8 L1736.5 2204.9 L1736.4 2205.8 L1738.2 2204.8 L1738.3 2206.7 L1739.7 2207.4 L1739.8 2209.5 L1740.4 2209.8 L1741.4 2209.0 L1740.8 2206.9 L1742.1 2205.6 L1741.4 2203.8 L1742.6 2202.7 L1742.4 2200.5 L1742.8 2202.3 L1744.0 2203.3 L1743.4 2205.2 L1744.5 2206.6 L1744.0 2208.3 L1744.9 2209.7 L1744.3 2211.5 L1745.6 2212.7 L1745.4 2214.9 L1745.3 2213.2 L1746.4 2211.9 L1745.5 2210.2 L1746.7 2208.7 L1745.8 2207.0 L1746.9 2205.5 L1746.0 2203.8 L1747.2 2202.3 L1746.5 2200.6 L1747.6 2199.1 L1746.7 2197.4 L1747.9 2196.0 L1747.1 2194.1 L1748.0 2192.9 L1748.6 2192.3 L1750.2 2193.8 L1750.6 2192.0 L1751.5 2191.2 L1751.6 2189.0 L1752.6 2189.1 L1753.4 2190.1 L1752.6 2192.0 L1753.6 2193.5 L1752.8 2195.2 L1753.9 2196.7 L1753.1 2198.4 L1754.4 2199.9 L1753.4 2201.5 L1754.5 2203.1 L1753.6 2204.7 L1754.8 2206.2 L1754.1 2207.9 L1755.1 2209.3 L1754.4 2211.5 L1754.8 2210.6 L1756.2 2209.8 L1755.7 2207.9 L1756.9 2206.6 L1756.1 2204.7 L1757.3 2203.4 L1756.7 2201.6 L1758.0 2200.2 L1757.5 2198.5 L1758.8 2197.2 L1758.2 2195.3 L1759.6 2194.1 L1759.0 2192.2 L1760.6 2191.2 L1760.5 2189.2 L1761.8 2188.8 L1762.5 2188.5 L1762.0 2190.6 L1763.0 2191.9 L1762.3 2193.6 L1763.4 2195.1 L1762.7 2196.8 L1763.6 2198.3 L1762.9 2200.0 L1764.1 2201.5 L1763.3 2203.2 L1764.3 2204.7 L1763.4 2206.4 L1764.9 2207.7 L1764.3 2209.8 L1765.1 2210.2 L1765.8 2209.5 L1766.0 2207.3 L1767.1 2206.7 L1767.3 2205.7 L1768.7 2207.7 L1768.9 2207.8 L1770.0 2207.0 L1769.3 2204.9 L1770.5 2203.6 L1769.8 2201.8 L1771.1 2200.4 L1770.2 2198.7 L1771.4 2197.2 L1770.8 2195.4 L1772.2 2194.5 L1772.0 2192.0 L1773.1 2194.2 L1774.2 2194.8 L1773.8 2196.1" fill="none" stroke="#a3a3a3" stroke-width="5.0" stroke-linejoin="round" stroke-linecap="butt"/>
<path d="M1472.3 1607.2 L1470.3 1607.3 L1467.6 1607.4 L1464.5 1607.6 L1460.9 1607.7 L1457.2 1608.0 L1453.5 1608.3 L1449.8 1608.7 L1446.5 1609.2 L1443.3 1609.8 L1439.9 1610.6 L1436.5 1611.5 L1433.1 1612.4 L1429.9 1613.4 L1426.9 1614.4 L1424.2 1615.5 L1421.8 1616.6 L1418.2 1619.0 L1415.8 1621.5 L1413.9 1624.1 L1412.0 1626.5 L1409.7 1629.2 L1407.7 1631.6 L1404.6 1633.9 L1402.3 1635.0 L1399.6 1636.1 L1396.6 1637.2 L1393.4 1638.2 L1390.3 1639.2 L1387.3 1640.0 L1383.6 1640.9 L1379.5 1641.7 L1375.7 1642.4 L1372.4 1643.0 L1370.0 1643.4" fill="none" stroke="#222" stroke-width="2.2"/><polygon points="1353.3,1644.9 1372.5,1633.9 1372.5,1653.1" fill="#000"/>
<path d="M1468.1 1812.2 L1466.2 1812.3 L1463.7 1812.5 L1460.6 1812.6 L1457.3 1812.8 L1453.7 1813.1 L1450.1 1813.4 L1446.7 1813.7 L1443.4 1814.2 L1440.2 1814.8 L1436.9 1815.4 L1433.5 1816.2 L1430.2 1817.0 L1426.9 1817.8 L1423.9 1818.7 L1421.2 1819.5 L1418.8 1820.4 L1415.2 1822.1 L1412.6 1824.0 L1410.7 1825.8 L1408.9 1827.8 L1407.2 1830.6 L1406.0 1833.6 L1404.0 1836.4 L1401.8 1838.4 L1399.2 1840.3 L1396.0 1842.1 L1391.7 1843.8 L1389.2 1844.5 L1386.2 1845.2 L1382.9 1845.9 L1379.4 1846.5 L1375.8 1847.1 L1372.5 1847.7 L1369.4 1848.2 L1366.9 1848.6 L1365.0 1848.9" fill="none" stroke="#222" stroke-width="2.2"/><polygon points="1349.3,1850 1367,1840.1 1367,1858.1" fill="#000"/>
<path d="M1468.1 2012.6 L1466.1 2012.9 L1463.4 2013.2 L1460.2 2013.5 L1456.7 2013.9 L1453.0 2014.4 L1449.5 2014.9 L1446.2 2015.6 L1443.4 2016.3 L1439.6 2017.7 L1436.3 2019.3 L1433.3 2021.0 L1430.8 2022.9 L1428.6 2024.9 L1426.8 2027.5 L1425.8 2030.4 L1425.0 2033.3 L1423.7 2036.0 L1421.7 2038.7 L1419.5 2041.3 L1416.9 2043.8 L1413.8 2045.9 L1410.6 2047.3 L1406.8 2048.5 L1402.8 2049.6 L1399.4 2050.4 L1397.0 2051.0" fill="none" stroke="#222" stroke-width="2.2"/><polygon points="1381.3,2052.1 1399.1,2042.2 1399.1,2059.4" fill="#000"/>
<line x1="142.1" y1="1342.9" x2="1777.3" y2="1342.9" stroke="#000" stroke-width="5.0"/>
<line x1="145" y1="1340.4" x2="145" y2="2435" stroke="#000" stroke-width="5.8"/>
<line x1="1774.6" y1="1340.4" x2="1774.6" y2="2435" stroke="#000" stroke-width="5.8"/>
<line x1="142.1" y1="2412.1" x2="1777.3" y2="2412.1" stroke="#000" stroke-width="5.4"/>
<text transform="translate(106.87,2477.98) scale(1.0923,1)" font-family='"Liberation Sans", sans-serif' font-weight="bold" font-size="42.12" fill="#000">500</text>
<line x1="280.8" y1="2411" x2="280.8" y2="2425" stroke="#000" stroke-width="5"/>
<line x1="416.6" y1="2411" x2="416.6" y2="2435" stroke="#000" stroke-width="5.6"/>
<text transform="translate(377.88,2477.98) scale(1.1010,1)" font-family='"Liberation Sans", sans-serif' font-weight="bold" font-size="42.12" fill="#000">750</text>
<line x1="552.4" y1="2411" x2="552.4" y2="2425" stroke="#000" stroke-width="5"/>
<line x1="688.2" y1="2411" x2="688.2" y2="2435" stroke="#000" stroke-width="5.6"/>
<text transform="translate(636.84,2477.98) scale(1.0863,1)" font-family='"Liberation Sans", sans-serif' font-weight="bold" font-size="42.12" fill="#000">1000</text>
<line x1="824.0" y1="2411" x2="824.0" y2="2425" stroke="#000" stroke-width="5"/>
<line x1="959.8" y1="2411" x2="959.8" y2="2435" stroke="#000" stroke-width="5.6"/>
<text transform="translate(908.44,2477.98) scale(1.0863,1)" font-family='"Liberation Sans", sans-serif' font-weight="bold" font-size="42.12" fill="#000">1250</text>
<line x1="1095.6" y1="2411" x2="1095.6" y2="2425" stroke="#000" stroke-width="5"/>
<line x1="1231.4" y1="2411" x2="1231.4" y2="2435" stroke="#000" stroke-width="5.6"/>
<text transform="translate(1180.04,2477.98) scale(1.0863,1)" font-family='"Liberation Sans", sans-serif' font-weight="bold" font-size="42.12" fill="#000">1500</text>
<line x1="1367.2" y1="2411" x2="1367.2" y2="2425" stroke="#000" stroke-width="5"/>
<line x1="1503.0" y1="2411" x2="1503.0" y2="2435" stroke="#000" stroke-width="5.6"/>
<text transform="translate(1451.64,2477.98) scale(1.0863,1)" font-family='"Liberation Sans", sans-serif' font-weight="bold" font-size="42.12" fill="#000">1750</text>
<line x1="1638.8" y1="2411" x2="1638.8" y2="2425" stroke="#000" stroke-width="5"/>
<text transform="translate(1724.52,2477.98) scale(1.0724,1)" font-family='"Liberation Sans", sans-serif' font-weight="bold" font-size="42.12" fill="#000">2000</text>
<text transform="translate(74.30,2154.51) rotate(-90) scale(1,1.2055)" font-family='"Liberation Sans", sans-serif' font-weight="bold" font-size="52.00" fill="#000">Raman Intensity (a.u.)</text>
<text transform="translate(713.21,2572.82) scale(1.1566,1)" font-family='"Liberation Sans", sans-serif' font-weight="bold" font-size="48.58" fill="#000"><tspan x="0" y="0">Raman Shift (cm</tspan><tspan x="384.36" y="-28.82" font-size="26.99">-1</tspan><tspan x="410.83" y="0">)</tspan></text>
<text transform="translate(454.17,2035.76) scale(0.9236,1)" font-family='"Liberation Serif", serif' font-weight="normal" font-size="44.15" fill="#000" stroke="#000" stroke-width="1.66" stroke-linejoin="round">823</text>
<text transform="translate(808.67,1743.07) scale(0.9581,1)" font-family='"Liberation Serif", serif' font-weight="normal" font-size="43.28" fill="#000" stroke="#000" stroke-width="1.02" stroke-linejoin="round">1175</text>
<text transform="translate(915.60,1728.77) scale(0.9529,1)" font-family='"Liberation Serif", serif' font-weight="bold" font-size="43.26" fill="#ff00ff">1250</text>
<text transform="translate(978.04,1503.49) scale(1.0169,1)" font-family='"Liberation Serif", serif' font-weight="normal" font-size="41.19" fill="#000" stroke="#000" stroke-width="0.99" stroke-linejoin="round">1342</text>
<text transform="translate(1078.29,1474.57) scale(0.9685,1)" font-family='"Liberation Serif", serif' font-weight="bold" font-size="42.68" fill="#ff00ff">1352</text>
<text transform="translate(1173.85,1518.49) scale(0.9535,1)" font-family='"Liberation Serif", serif' font-weight="normal" font-size="41.33" fill="#000" stroke="#000" stroke-width="1.02" stroke-linejoin="round">1505</text>
<text transform="translate(1245.48,1399.17) scale(0.9770,1)" font-family='"Liberation Serif", serif' font-weight="bold" font-size="42.52" fill="#ff00ff">1520</text>
<text transform="translate(1346.04,1431.99) scale(0.9865,1)" font-family='"Liberation Serif", serif' font-weight="normal" font-size="41.19" fill="#000" stroke="#000" stroke-width="1.01" stroke-linejoin="round">1624</text>
<text transform="translate(1490.83,1609.07) scale(1.0777,1)" font-family='"Liberation Serif", serif' font-weight="bold" font-size="57.08" fill="#000">(c)</text>
<text transform="translate(1491.34,1828.70) scale(1.1848,1)" font-family='"Liberation Serif", serif' font-weight="normal" font-size="55.54" fill="#000" stroke="#000" stroke-width="1.28" stroke-linejoin="round">(b)</text>
<text transform="translate(1493.86,2041.62) scale(1.1381,1)" font-family='"Liberation Serif", serif' font-weight="normal" font-size="55.43" fill="#000" stroke="#000" stroke-width="1.31" stroke-linejoin="round">(a)</text>
</g>
</g>
<text font-family='"Liberation Sans", sans-serif' font-weight="normal" fill="#000"><tspan x="189.97" y="255.22" font-size="104.99">[</tspan><tspan x="223.00" y="259.00" font-size="107.78">I</tspan><tspan x="255.71" y="255.22" font-size="104.99">]</tspan></text>
<text font-family='"Liberation Sans", sans-serif' font-weight="normal" fill="#000"><tspan x="206.92" y="1532.22" font-size="104.99">[</tspan><tspan x="240.07" y="1535.90" font-size="107.64">I</tspan><tspan x="270.07" y="1535.90" font-size="107.64">I</tspan><tspan x="302.71" y="1532.22" font-size="104.99">]</tspan></text>
</svg>
</body></html>
